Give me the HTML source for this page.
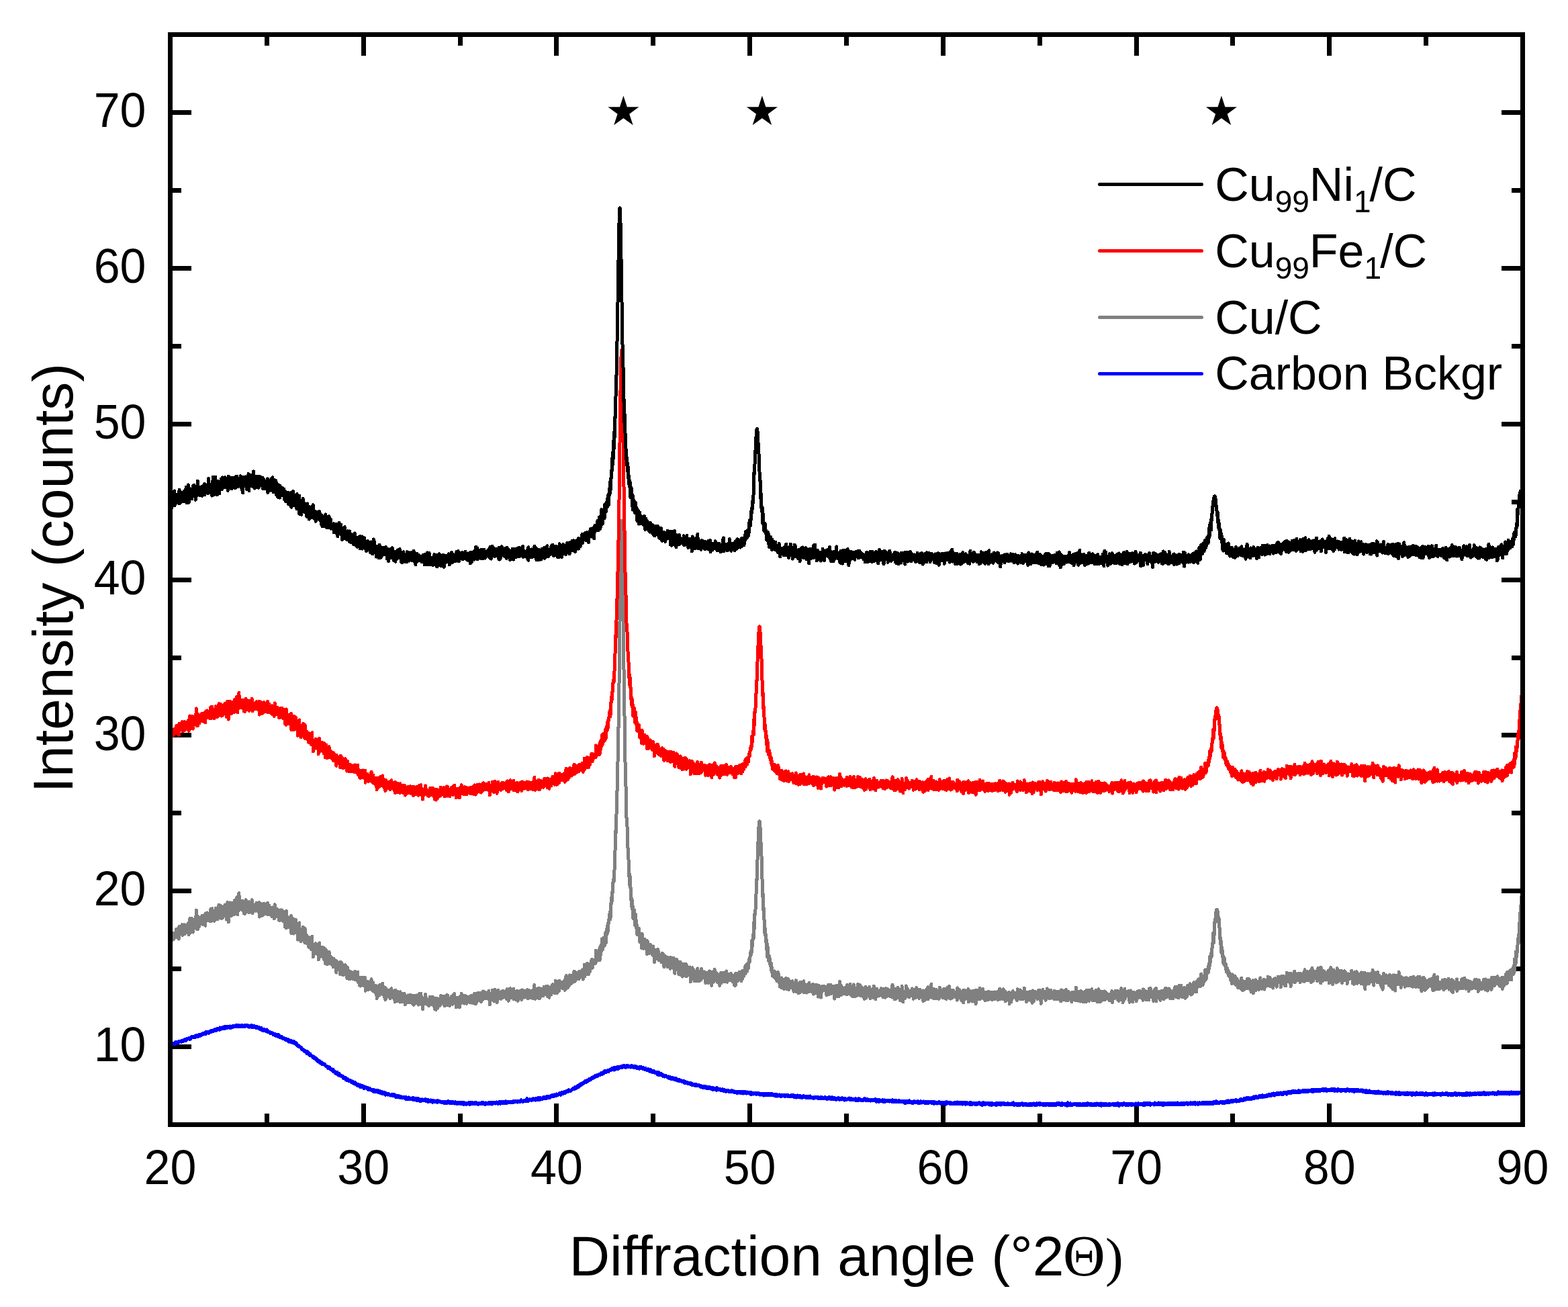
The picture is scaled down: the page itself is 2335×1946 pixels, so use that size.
<!DOCTYPE html>
<html lang="en">
<head>
<meta charset="utf-8">
<title>XRD patterns</title>
<style>
html,body{margin:0;padding:0;background:#ffffff;}
body{width:2335px;height:1946px;overflow:hidden;}
svg{display:block;}
</style>
</head>
<body>
<svg width="2335" height="1946" viewBox="0 0 2335 1946">
<rect x="0" y="0" width="2335" height="1946" fill="#ffffff"/>
<defs><clipPath id="plotclip"><rect x="253.5" y="51.5" width="2014" height="1623"/></clipPath></defs>
<g id="ticks" fill="#000000" shape-rendering="crispEdges">
<rect x="394" y="1658" width="7" height="13"/>
<rect x="394" y="55" width="7" height="13"/>
<rect x="538" y="1643" width="7" height="28"/>
<rect x="538" y="55" width="7" height="28"/>
<rect x="682" y="1658" width="7" height="13"/>
<rect x="682" y="55" width="7" height="13"/>
<rect x="825" y="1643" width="7" height="28"/>
<rect x="825" y="55" width="7" height="28"/>
<rect x="969" y="1658" width="7" height="13"/>
<rect x="969" y="55" width="7" height="13"/>
<rect x="1113" y="1643" width="7" height="28"/>
<rect x="1113" y="55" width="7" height="28"/>
<rect x="1257" y="1658" width="7" height="13"/>
<rect x="1257" y="55" width="7" height="13"/>
<rect x="1401" y="1643" width="7" height="28"/>
<rect x="1401" y="55" width="7" height="28"/>
<rect x="1545" y="1658" width="7" height="13"/>
<rect x="1545" y="55" width="7" height="13"/>
<rect x="1689" y="1643" width="7" height="28"/>
<rect x="1689" y="55" width="7" height="28"/>
<rect x="1832" y="1658" width="7" height="13"/>
<rect x="1832" y="55" width="7" height="13"/>
<rect x="1976" y="1643" width="7" height="28"/>
<rect x="1976" y="55" width="7" height="28"/>
<rect x="2120" y="1658" width="7" height="13"/>
<rect x="2120" y="55" width="7" height="13"/>
<rect x="257" y="1555" width="28" height="7"/>
<rect x="2236" y="1555" width="28" height="7"/>
<rect x="257" y="1439" width="13" height="7"/>
<rect x="2251" y="1439" width="13" height="7"/>
<rect x="257" y="1323" width="28" height="7"/>
<rect x="2236" y="1323" width="28" height="7"/>
<rect x="257" y="1207" width="13" height="7"/>
<rect x="2251" y="1207" width="13" height="7"/>
<rect x="257" y="1091" width="28" height="7"/>
<rect x="2236" y="1091" width="28" height="7"/>
<rect x="257" y="976" width="13" height="7"/>
<rect x="2251" y="976" width="13" height="7"/>
<rect x="257" y="860" width="28" height="7"/>
<rect x="2236" y="860" width="28" height="7"/>
<rect x="257" y="744" width="13" height="7"/>
<rect x="2251" y="744" width="13" height="7"/>
<rect x="257" y="628" width="28" height="7"/>
<rect x="2236" y="628" width="28" height="7"/>
<rect x="257" y="512" width="13" height="7"/>
<rect x="2251" y="512" width="13" height="7"/>
<rect x="257" y="396" width="28" height="7"/>
<rect x="2236" y="396" width="28" height="7"/>
<rect x="257" y="280" width="13" height="7"/>
<rect x="2251" y="280" width="13" height="7"/>
<rect x="257" y="164" width="28" height="7"/>
<rect x="2236" y="164" width="28" height="7"/>
</g>
<g id="curves" fill="none" stroke-linejoin="round" stroke-linecap="round" clip-path="url(#plotclip)" shape-rendering="crispEdges">
<path id="carbon" stroke="#0000ff" stroke-width="5" d="M253.50,1556.8
l.29-2 .29,1.4 .28-.5 .29-.3 .29,.4 .29,.3 .28-1.5 .29,.1 .29,1.6 .29-3.1 .28,.8 .29,1.1 .29-1.2 .29,.8 .29-.4 .28-.6
l.29,1.3 .29-1.4 .29-.7 .28,0 .29,1 .29-.9 .29,1.7 .29-1.2 .28-.5 .29,1.2 .29-1 .29-1.4 .28-.7 .29,1.2 .29-.1 .29,1.1
l.28,.1 .29,0 .29-1.4 .29-.3 .29,.9 .28,.3 .29-1.1 .29-.1 .29,.2 .28-1.1 .29,.8 .29-.1 .29,.7 .28-1 .29-.9 .29,.8
l.29-.1 .29-.4 .28,0 .29-.3 .29-.1 .29-.1 .28,.9 .29-.9 .29,1.2 .29-1.4 .29,1 .28-.9 .29-.5 .29,.5 .29-.4 .28,1.1
l.29-.6 .29-1.2 .29,1.2 .28-1.4 .29,1.3 .29-.4 .29,.1 .29-.9 .28-.5 .29,1 .29-.7 .29-1.3 .28,1.2 .29,.3 .29-.9 .29,.3
l.28,.2 .29,.7 .29-1.9 .29,.8 .29-.4 .28,.6 .29-1.7 .29,.2 .29-.2 .28,.7 .29-.5 .29-.4 .29-.2 .29,.4 .28,.1 .29,.2
l.29,.1 .29,.1 .28-1 .29,.3 .29,1.1 .29-1.4 .28-.9 .29,.8 .29,1 .29-1.3 .29-.7 .28,.3 .29,.4 .29-1.7 .29-.1 .28,1.3
l.29-.8 .29,.2 .29-.3 .28-.6 .29,.3 .29,.5 .29,.4 .29,0 .28-.7 .29-.9 .29,.5 .29,.1 .28-.2 .29,0 .29-.4 .29,1 .29,.5
l.28-1.1 .29,.4 .29-2 .29,1.1 .28,0 .29,.8 .29-1.4 .29,.5 .28-1.3 .29,.1 .29,1.1 .29-1 .29,2.1 .28-1.5 .29-1.4 .29,.2
l.29,.3 .28,.1 .29,.9 .29-.2 .29-1.2 .28-1.1 .29,2.6 .29-2.1 .29,0 .29-.4 .28,1.2 .29-.3 .29-.5 .29,.6 .28,.1 .29-.4
l.29-.6 .29-.4 .29,.2 .28-.2 .29,.4 .29,0 .29-1.4 .28,.7 .29-.1 .29-.8 .29-.3 .28-.1 .29,.5 .29,.3 .29-.4 .29,0
l.28-.9 .29,.6 .29-.3 .29,.4 .28-1.1 .29,2.3 .29-1.8 .29-.3 .28,1.2 .29-2.4 .29,1.5 .29-.1 .29,.6 .28-1.5 .29,.4
l.29,.5 .29-.7 .28-.4 .29-.4 .29,.6 .29,.7 .29-.4 .28,1.1 .29-1.1 .29-1.2 .29,.1 .28,.4 .29,0 .29-1.4 .29,.8 .28-.5
l.29,.3 .29,.6 .29-1.6 .29,1.8 .28-.1 .29-.6 .29,.1 .29-.2 .28-.1 .29-1.1 .29,.5 .29-.3 .28,1.3 .29-.6 .29-1.5 .29,1.5
l.29-1.7 .28,1.5 .29-1.1 .29,.7 .29-.8 .28,.7 .29-.5 .29-1.5 .29,1.4 .29-1.8 .28,1.7 .29,.4 .29-1 .29,.3 .28-1.6
l.29,.5 .29-.3 .29,.3 .28-1.4 .29,1.1 .29,.1 .29,.9 .29-.1 .28-.8 .29-.6 .29-.2 .29,1.3 .28-1.1 .29,.2 .29,.8 .29-1.2
l.28,1.8 .29-1.8 .29-1.6 .29,2.3 .29-.8 .28,1.2 .29-.8 .29-1.2 .29,1.2 .28-.8 .29,.2 .29-.1 .29-.4 .29-.3 .28-.6
l.29,.2 .29,.9 .29-1.4 .28,0 .29,1.9 .29-1.6 .29-.2 .28-.1 .29,.2 .29,1.2 .29-.8 .29,1.2 .28-1.4 .29-1.5 .29,.8
l.29-.1 .28,.9 .29,.3 .29,0 .29-.9 .28,.6 .29-.2 .29-1.3 .29,1.9 .29-.3 .28-.6 .29-.3 .29,0 .29,.8 .28-1.1 .29,.2
l.29-.4 .29,1 .29-1 .28,0 .29,.6 .29-.4 .29,.2 .28-1.3 .29,3 .29-1.2 .29,.2 .28-1 .29,.2 .29-.2 .29-.8 .29,1.6 .28-.6
l.29-.4 .29,.6 .29-1.1 .28,0 .29,.7 .29,.7 .29-2.4 .28,.8 .29,0 .29,.2 .29,.1 .29-.6 .28,.5 .29,.4 .29-.9 .29,.4
l.28,.6 .29,.1 .29-1.5 .29,.4 .29-1 .28,1.7 .29,.2 .29-.9 .29-.6 .28,.5 .29,.1 .29-1 .29,1.8 .28,.3 .29-.4 .29-.3
l.29-.5 .29-.4 .28,.4 .29-.8 .29,1.6 .29-1.9 .28,1.9 .29-1.4 .29,1.4 .29-.9 .28,.2 .29-.3 .29-.2 .29,.7 .29-.1 .28-.3
l.29,1.1 .29-.4 .29,.6 .28-1.1 .29-1.6 .29,1 .29,1.1 .29-.1 .28-1.1 .29,1 .29,.7 .29-.4 .28,0 .29,0 .29-1.2 .29,.4
l.28,1.1 .29-.6 .29,.4 .29,0 .29,.2 .28-2.2 .29,1.4 .29-.6 .29-.2 .28,.9 .29-.7 .29,0 .29,.3 .28-1.4 .29,1.3 .29,.4
l.29-.6 .29-.8 .28,.6 .29,1 .29,.3 .29,.1 .28-.2 .29-.7 .29-.3 .29,2.2 .29-1.6 .28,.8 .29-1.2 .29-.1 .29,1.2 .28-.2
l.29,.3 .29-.9 .29,1.5 .28-.3 .29-.3 .29-1.3 .29-.8 .29,1.7 .28,.9 .29-.9 .29,.7 .29-.8 .28,1.1 .29-.5 .29-.2 .29-.3
l.28,.5 .29-.9 .29,.8 .29,1.4 .29-1.8 .28,.9 .29,.3 .29-1.4 .29,1.8 .28-.7 .29,.6 .29-1.4 .29,1.3 .29-.3 .28,1.2
l.29-1.9 .29,1.8 .29-1.3 .28-.1 .29,0 .29-.3 .29,2.2 .28-1 .29,.2 .29-.1 .29-.3 .29,.7 .28,.8 .29-.4 .29-1.1 .29,2
l.28-.7 .29,.8 .29-1.4 .29,2.1 .28-.9 .29,0 .29-.1 .29-1.4 .29,.6 .28,1.9 .29-2.1 .29,2.5 .29,.5 .28-.1 .29-1.1
l.29-.1 .29,2 .29-1.7 .28,.6 .29-.6 .29,.9 .29-.8 .28,.3 .29,1.4 .29-1.8 .29,1 .28-.2 .29-.3 .29,1.7 .29-.5 .29,.6
l.28,.2 .29-.7 .29,0 .29-.5 .28,0 .29,1.1 .29,.7 .29-2.7 .28,.9 .29,1.7 .29,.6 .29-.2 .29-.4 .28-.4 .29,.2 .29,.5
l.29,.6 .28-.2 .29,.5 .29-.2 .29,.3 .29-.4 .28,1.8 .29-.9 .29,.1 .29,.7 .28-.6 .29,.8 .29-.2 .29-.1 .28,.1 .29,.3
l.29-1 .29,.7 .29,.1 .28,.2 .29,.7 .29,.3 .29-1.1 .28,1 .29,1.1 .29,.4 .29-1.5 .28,.7 .29-.3 .29,.5 .29,0 .29,0
l.28,.8 .29-.7 .29-.6 .29,.4 .28,1.8 .29-.2 .29,.2 .29-.7 .29-.6 .28,.5 .29,1.6 .29-1.2 .29-.4 .28,1 .29-1.5 .29,1.9
l.29-1.1 .28-.7 .29,2.6 .29-.5 .29-.5 .29-1.7 .28,3.6 .29-1.5 .29,.3 .29,.6 .28,.4 .29,0 .29-.1 .29,.8 .28-1.8 .29,2
l.29-.4 .29,.3 .29,0 .28-.3 .29,.8 .29-.3 .29-1.2 .28,.6 .29,1 .29-.7 .29,1.3 .29-.5 .28,1.2 .29,0 .29-.1 .29-1.3
l.28,.8 .29-.1 .29,.4 .29,0 .28,.1 .29-.1 .29,.5 .29,.9 .29,.1 .28-1.3 .29,0 .29,.7 .29,1.7 .28-2.1 .29,1 .29,.4
l.29,.1 .28,.4 .29-1.4 .29,.2 .29,2.1 .29-.5 .28-.2 .29-.6 .29,2.7 .29-2.2 .28-.4 .29,1.5 .29,0 .29-.8 .29,.7 .28,1.3
l.29,0 .29,0 .29,.3 .28-.9 .29,.4 .29-.3 .29-.4 .28-.7 .29,1.2 .29,1.4 .29-2.2 .29,1.1 .28-.8 .29,1.1 .29-.5 .29,.4
l.28,0 .29-.9 .29,1.4 .29-.4 .28,0 .29,.6 .29,1.3 .29-1.6 .29,2.4 .28-.7 .29-.6 .29-.4 .29,0 .28,.2 .29,.5 .29,.9
l.29-.8 .29,1.3 .28-.7 .29,2.7 .29-.6 .29,0 .28,0 .29,1.9 .29-1.9 .29,.2 .28,.4 .29,1.2 .29-1.1 .29,1.7 .29-.8 .28,1
l.29,.2 .29,.3 .29,.2 .28-.6 .29,0 .29,.3 .29,.6 .28,.4 .29,.3 .29-.7 .29,1.8 .29,.3 .28-.2 .29,1.4 .29-.8 .29,.1
l.28,.9 .29-.1 .29-.7 .29,.8 .29,0 .28-.4 .29,1.3 .29,.6 .29-.5 .28-.1 .29,1.7 .29-1.5 .29,.9 .28,.3 .29,.5 .29-.3
l.29-.5 .29,.5 .28,0 .29,1 .29-1.1 .29,.4 .28,1.1 .29,2 .29-1.6 .29-1.7 .28,2.2 .29,.9 .29-1.7 .29,1.8 .29-.6 .28,.1
l.29,1.7 .29-.9 .29-.5 .28,1.3 .29-.5 .29,.7 .29-.5 .29-.4 .28,2.3 .29-.4 .29-.2 .29,.9 .28,.3 .29-.1 .29,.2 .29,.4
l.28-.4 .29-.2 .29,.3 .29,.2 .29-.1 .28,2 .29-.7 .29,0 .29,0 .28,1.7 .29-2.2 .29,2.1 .29-.6 .28-.1 .29-.1 .29,1.5
l.29,.1 .29-.5 .28,.1 .29,0 .29,.9 .29,.6 .28,.7 .29-2 .29,2.4 .29-1.3 .29,.5 .28-.1 .29,.1 .29-.1 .29,1.2 .28-.1
l.29,1.8 .29-1.2 .29,.9 .28-.4 .29-.7 .29,1 .29-.5 .29,1.1 .28-.2 .29,.7 .29,1.7 .29-1.1 .28-.1 .29-.1 .29,.3 .29,.3
l.28-.5 .29,.4 .29,.9 .29-.7 .29,2.2 .28-1 .29,.1 .29-.8 .29,1.5 .28,.8 .29-.9 .29-.9 .29,1.5 .29,.2 .28,.2 .29,.1
l.29-.7 .29-.3 .28,1.3 .29,.5 .29-1.1 .29,1.4 .28,.2 .29,.5 .29,.2 .29-.2 .29,.5 .28-.3 .29,.5 .29-.2 .29,.9 .28,0
l.29-.1 .29,.3 .29,.2 .28-.5 .29,1.7 .29,.8 .29-1.7 .29,.9 .28-.9 .29,1.2 .29,.9 .29-2.1 .28,1.4 .29,.8 .29,.4 .29-.7
l.29,1 .28-.5 .29-.4 .29,2 .29-.5 .28-.4 .29-.6 .29,.7 .29,1.1 .28-1.1 .29,1.4 .29,.1 .29-.2 .29,1.2 .28-2.7 .29,1.5
l.29,.8 .29,.8 .28,.6 .29-.9 .29,0 .29,.9 .28,.1 .29-.4 .29,.6 .29,1.5 .29-1.6 .28,.5 .29-.2 .29,1.3 .29,1.1 .28-.4
l.29-.9 .29-1.1 .29,0 .29,1.6 .28,1.5 .29-.6 .29-.4 .29,.2 .28,.4 .29-.7 .29,1.8 .29,1 .28-.7 .29,.4 .29-2.2 .29,1.9
l.29,1 .28-1.2 .29-.1 .29,.9 .29,0 .28-.3 .29,.5 .29,1 .29-.7 .28-.1 .29,.6 .29-.2 .29,.4 .29,.8 .28,.1 .29-.4 .29,1
l.29-1 .28,.1 .29,2.5 .29-1.2 .29,.6 .29,.1 .28-.4 .29,.4 .29-.3 .29,.3 .28,.1 .29,1 .29-.1 .29-1.1 .28,2.9 .29-2.8
l.29,1.8 .29-1.1 .29,2.8 .28-1.3 .29-.8 .29,.7 .29-.5 .28,1.5 .29,0 .29,.2 .29-.7 .28,.2 .29,.6 .29,.2 .29,.2 .29-.1
l.28,.9 .29-.5 .29,.2 .29,.4 .28,.2 .29-1.3 .29,1.6 .29-.5 .29-.5 .28,.5 .29,.7 .29-.6 .29,1.9 .28,0 .29-.4 .29,0
l.29,0 .28-1.2 .29,.3 .29,1.3 .29,0 .29,.9 .28-.7 .29,1.3 .29-1.8 .29,1.5 .28-.6 .29,1.4 .29-1.7 .29,.7 .28-.8 .29,1.4
l.29,1.3 .29-.4 .29,.4 .28-1.8 .29,1.6 .29,.3 .29-.8 .28,.3 .29,0 .29,.8 .29,1.2 .29-.3 .28,.7 .29-2.3 .29,.4 .29,1
l.28-.6 .29,.1 .29,.1 .29,.2 .28-.1 .29,.7 .29,1.7 .29,.5 .29-2.7 .28,.6 .29,2.3 .29-1.7 .29,.8 .28-.1 .29,1.5 .29-2.2
l.29,.7 .28-.5 .29-.1 .29,0 .29-.1 .29,1 .28,.2 .29,.7 .29-.7 .29,.6 .28,.8 .29-1.5 .29,.4 .29,2.5 .29-.5 .28-1
l.29,.9 .29-1.7 .29,.8 .28-.1 .29-.2 .29-.2 .29,1.3 .28-.6 .29,.4 .29-.3 .29,.3 .29-.5 .28,.7 .29,.8 .29-.3 .29,1
l.28-.9 .29-.7 .29,1.5 .29,.9 .28-1 .29,.4 .29-.3 .29,.5 .29-.3 .28,.8 .29-1.7 .29,1.4 .29-.4 .28-.1 .29,.7 .29-.3
l.29,.6 .29,.2 .28,0 .29-.4 .29,1.3 .29-.2 .28,.1 .29-.1 .29-1.1 .29,.9 .28,.3 .29-.2 .29-.6 .29,1.4 .29-1.2 .28,2.5
l.29-1 .29-1.5 .29,0 .28,1.1 .29,.5 .29-.8 .29,.9 .28-1.2 .29,.3 .29,.4 .29,1.2 .29-1.2 .28,1 .29,0 .29,.3 .29-.2
l.28-.3 .29-.2 .29,.1 .29-1.7 .29,2.7 .28-1 .29,1.4 .29-.3 .29,.8 .28-1.6 .29,.8 .29,.1 .29,.3 .28-.6 .29,1 .29-.5
l.29-1.4 .29,1.9 .28,.4 .29,.4 .29-1.2 .29,.6 .28,.6 .29,.2 .29-.6 .29,.8 .28-2.1 .29,1.7 .29,.1 .29,0 .29,1.3 .28-.2
l.29-.7 .29-.1 .29,.9 .28-2 .29,.9 .29-.5 .29,.2 .29,1 .28-1.8 .29,1.7 .29,1.5 .29,.4 .28-1.6 .29-.5 .29,.6 .29-1.1
l.28,1.5 .29-.5 .29-.1 .29,1.3 .29-.8 .28,0 .29-.5 .29,0 .29,.3 .28,1.2 .29-.9 .29-.2 .29,.8 .28-.5 .29,.1 .29-.2
l.29,.8 .29-.2 .28,.2 .29,.2 .29,.5 .29-.1 .28,.6 .29-.6 .29-.5 .29,.1 .29-.1 .28,.7 .29-1 .29,1.4 .29-.8 .28,.3
l.29,.8 .29,.1 .29-1 .28,.6 .29-.1 .29-1.9 .29,1.8 .29,.3 .28-.3 .29,1 .29-.3 .29-.4 .28,1 .29-.5 .29,.2 .29-.2
l.28,1.4 .29-2.4 .29,1.3 .29-.4 .29,1.2 .28,.2 .29-.8 .29,.3 .29-.7 .28,1.2 .29,.1 .29-.9 .29-.2 .29-.1 .28,.7 .29-.1
l.29,.8 .29-1.4 .28,.1 .29,.1 .29,2 .29-1.7 .28,1.2 .29-.8 .29,.1 .29-.5 .29,1 .28,.2 .29,.5 .29,.2 .29-1.2 .28,1.1
l.29-1.1 .29,.8 .29,.2 .28-1 .29,.1 .29,1.3 .29-.5 .29,0 .28-.4 .29,1 .29-.2 .29-.1 .28-.6 .29,0 .29,1 .29-1.5 .29,.9
l.28,.9 .29,.6 .29-.7 .29,1.4 .28-1.8 .29-.2 .29-.4 .29,.6 .28,1.6 .29-1 .29-.6 .29,2 .29-.9 .28-.9 .29,.4 .29,1.5
l.29-1 .28-.3 .29-1.4 .29,1.8 .29,.4 .28-.8 .29,0 .29-.1 .29-.6 .29,1.1 .28,1 .29-1 .29,.1 .29-.6 .28,.1 .29,1.1
l.29-1 .29-.1 .29,.9 .28-.8 .29,.6 .29,.1 .29,.2 .28-.6 .29-1.4 .29,1.9 .29,1 .28-.6 .29,.3 .29-.6 .29,.3 .29-1.8
l.28,1.3 .29-.7 .29,1.8 .29-.3 .28-1.6 .29,2.7 .29-1.3 .29,1.3 .28-2.1 .29,2 .29-.7 .29,0 .29,1 .28-2.8 .29,1.9
l.29-1.3 .29,1.7 .28,.6 .29-1.2 .29,.1 .29-1.9 .29,2.8 .28,.4 .29-.6 .29-.6 .29-.2 .28,1 .29-.3 .29-.6 .29-.3 .28,1.2
l.29-.5 .29,2.1 .29-1.2 .29-1 .28,.4 .29,.1 .29-1.2 .29,1.4 .28,.5 .29-.8 .29,0 .29,1 .28-1.5 .29-.4 .29,1.6 .29,.2
l.29-.5 .28-.9 .29,1.3 .29,.1 .29,0 .28-.6 .29,.1 .29,.3 .29-.9 .29-.7 .28,2 .29-1.1 .29,.5 .29-1.8 .28,2.7 .29-.4
l.29-.2 .29,1.1 .28-.9 .29-.6 .29,1.6 .29-1.1 .29-1.1 .28,1.7 .29,.2 .29,1.2 .29-1.7 .28,1.1 .29-1.5 .29-.7 .29,.8
l.28,.9 .29-1 .29,.9 .29,.4 .29-.4 .28-.5 .29,.5 .29-.6 .29-1.1 .28,1.1 .29-.1 .29,1 .29-1.3 .29,.7 .28-.4 .29,1.2
l.29-.7 .29,1.9 .28-1.4 .29,.4 .29,.1 .29-1.9 .28,2.3 .29-.9 .29,0 .29-.4 .29-.3 .28,1.8 .29-.7 .29,.1 .29-.9 .28-.1
l.29,.9 .29,.1 .29,.4 .28-.9 .29-.9 .29,.9 .29,.8 .29,.1 .28-.1 .29,.7 .29-2.3 .29,1.1 .28,.4 .29-1.8 .29,1.4 .29-.8
l.29,.8 .28-.5 .29,.7 .29,.3 .29-.5 .28-.2 .29-.2 .29,.6 .29,.4 .28,.1 .29-.5 .29,.6 .29-.1 .29-.6 .28,0 .29,.1
l.29,.9 .29,.5 .28-1.2 .29,.2 .29,.3 .29-.4 .28-.4 .29,.8 .29-.4 .29,.9 .29-.5 .28,.5 .29,.4 .29-1.3 .29,2.3 .28-1.9
l.29-.5 .29,.2 .29,1.4 .29-1.2 .28,1.4 .29-.6 .29-1.6 .29,.9 .28-.7 .29,1.6 .29,.7 .29-.9 .28-1.4 .29,.3 .29-.1
l.29,.9 .29,0 .28,.1 .29-2.2 .29,2 .29-1.2 .28,1.4 .29-1.1 .29,1.8 .29-.4 .28-.6 .29,.7 .29-.1 .29-.2 .29,.3 .28-1.4
l.29,.3 .29,1.7 .29-2.1 .28,1.2 .29,0 .29,.2 .29-.8 .29,.2 .28,.9 .29-.4 .29,.9 .29-2.2 .28,1.9 .29,.1 .29-.1 .29-.6
l.28-.4 .29,.8 .29-.3 .29,.3 .29-1.1 .28,.7 .29,1.4 .29-2.2 .29,.8 .28-1.1 .29,1.8 .29-.1 .29-.2 .28,.9 .29-.7 .29-1.1
l.29,.4 .29,2.1 .28-2.5 .29,.6 .29-.3 .29,.6 .28-.1 .29,.1 .29,0 .29,.8 .29-1.5 .28,.6 .29-.1 .29,.1 .29,.4 .28-.1
l.29,.9 .29-1.1 .29,0 .28,.4 .29,1 .29-2.1 .29,1 .29-.1 .28,.3 .29,.2 .29-.2 .29,.6 .28-.4 .29-1.8 .29,.6 .29-.6
l.28,1.9 .29,.9 .29-.4 .29,.9 .29-2.6 .28-.1 .29,.8 .29-.2 .29,.1 .28,.3 .29-.6 .29,1.2 .29-.3 .29-.2 .28,1 .29-.4
l.29-1 .29,0 .28,2 .29-2.3 .29,.4 .29-.3 .28,.6 .29-.5 .29,1.3 .29-.7 .29,.6 .28-.4 .29-1.1 .29-.3 .29,1.1 .28,.3
l.29-.8 .29,.2 .29-1 .28,.9 .29,2.1 .29-1.7 .29,.3 .29,.3 .28-.6 .29,0 .29,.3 .29-1.3 .28,.8 .29,0 .29,.2 .29-.8
l.29,1.7 .28-1.6 .29,1 .29-1.2 .29,0 .28,.7 .29,.6 .29-.5 .29,0 .28,1.2 .29-.7 .29,.2 .29-1.4 .29-.2 .28,1.6 .29-.1
l.29,.6 .29-1.1 .28-.4 .29-.7 .29,2.1 .29-1.5 .28,.8 .29,.4 .29-.3 .29,.3 .29-.9 .28,.4 .29-.9 .29,1.2 .29,1 .28-.6
l.29-1 .29,1.3 .29-.5 .29-.9 .28,1.3 .29-1.5 .29,.3 .29,.7 .28-.4 .29,.3 .29-.1 .29,0 .28-.3 .29,.1 .29,.5 .29,.1
l.29-2.1 .28,2.2 .29-.7 .29-.9 .29,.1 .28,1.2 .29-1.9 .29,.2 .29,1.4 .28,.7 .29-1.3 .29,.5 .29,.1 .29,.4 .28-.2
l.29-.5 .29-.6 .29,2.1 .28,.2 .29-2.3 .29,1.2 .29-1 .29,.4 .28-.8 .29,.2 .29,.8 .29-.1 .28-.3 .29-.3 .29,.9 .29,.6
l.28-1.1 .29,.1 .29,0 .29,.6 .29-1.1 .28,1.6 .29-.9 .29-1.2 .29,1.6 .28-1 .29-.1 .29,0 .29,1.5 .28-1.9 .29,.6 .29-.3
l.29,.2 .29,.1 .28-.8 .29-.2 .29,2.3 .29-.7 .28-.5 .29,1.4 .29-2.5 .29,1.5 .29-.9 .28,.2 .29,.3 .29,.5 .29-.5 .28-.3
l.29-.5 .29,.7 .29,.1 .28-.1 .29-1.1 .29,.7 .29,.6 .29,.4 .28-.6 .29,.3 .29-.3 .29-1.3 .28,.5 .29,.3 .29-.1 .29-1
l.28,2 .29-1.1 .29,.4 .29-.3 .29,.1 .28,.2 .29-.6 .29,1.9 .29-1.7 .28-.3 .29,1.1 .29,0 .29-2 .29,1.9 .28-.4 .29,.3
l.29-.2 .29,.1 .28,.9 .29-3.1 .29,2.1 .29-.8 .28,.3 .29-1 .29,.5 .29-.4 .29,0 .28,.2 .29,.5 .29-.6 .29,1.7 .28-1.7
l.29,.1 .29,.3 .29,1.1 .28-1.9 .29,1.4 .29-1 .29,1.7 .29-1.1 .28,.3 .29,0 .29-.1 .29-1.7 .28,1.2 .29-.2 .29-1.3
l.29,2.4 .29-2 .28,1.3 .29,.1 .29-.1 .29,.9 .28-.2 .29-.3 .29-.4 .29-.9 .28-.3 .29,1 .29-.6 .29,0 .29,.4 .28-.3
l.29,.5 .29-.8 .29,.5 .28-.2 .29-.2 .29,.1 .29,.5 .28,.5 .29-1 .29,.4 .29-.1 .29-.3 .28,.4 .29-.8 .29,0 .29,.9 .28-.9
l.29,.8 .29-1.1 .29,0 .29,.4 .28-.6 .29-.1 .29,.3 .29,1.6 .28-1.4 .29-.1 .29-.4 .29,1.2 .28-1.2 .29,.2 .29,0 .29,1.1
l.29-.3 .28-1.4 .29,.2 .29,.6 .29-.9 .28,.6 .29,.4 .29,.8 .29-1.8 .28,.8 .29-.3 .29,1.4 .29-.9 .29-.6 .28,.3 .29,.3
l.29,.3 .29-1 .28,.4 .29-.1 .29,0 .29,.2 .29-.2 .28,.1 .29-.4 .29,.9 .29-.2 .28-.8 .29,.1 .29-.3 .29-1.3 .28,.9
l.29-.3 .29,.5 .29,.3 .29,.4 .28,.7 .29-.3 .29,.6 .29-.9 .28,.3 .29-.4 .29-.7 .29,.2 .28-.9 .29,0 .29-.2 .29,.1
l.29,.4 .28,.5 .29-.7 .29,.5 .29-.1 .28-.5 .29,1 .29,.4 .29-1.4 .29-1 .28,.4 .29-1.9 .29,3.6 .29-.6 .28,1.1 .29-1
l.29-2 .29,.2 .28,1.8 .29-.5 .29,.3 .29,.3 .29-.8 .28,0 .29-.3 .29-.2 .29-.3 .28-.5 .29,1 .29,0 .29-.2 .28-.3 .29,.4
l.29,.5 .29-.4 .29-.9 .28,1.2 .29-1.3 .29,1.5 .29-1.4 .28-.1 .29,.6 .29-.2 .29,.1 .29-1.4 .28,1.5 .29,.1 .29-.8
l.29-.5 .28,.5 .29,.2 .29-.8 .29,1.2 .28,0 .29,.2 .29-1.7 .29,2.3 .29-.7 .28-1.1 .29-.1 .29-1 .29,.9 .28,.6 .29-1.4
l.29,.2 .29-.1 .28,0 .29,.4 .29,1.3 .29-.3 .29-2.2 .28,1.3 .29,1.3 .29-1.4 .29-.7 .28,.4 .29,.2 .29,1.6 .29-1.7
l.29,.1 .28-1.3 .29,1.1 .29,0 .29,.2 .28-.3 .29-.3 .29,.5 .29,.2 .28,.2 .29-1 .29,.3 .29-.1 .29,.8 .28-.5 .29,.7
l.29-2 .29-.2 .28,.5 .29,.3 .29-.5 .29,1.3 .28-.1 .29-1.8 .29,1.5 .29-.8 .29,.4 .28,1.2 .29-1.3 .29-1.1 .29-.4 .28,2.6
l.29-.7 .29-.7 .29-1.2 .29-.2 .28-.3 .29-.1 .29,1.4 .29,.3 .28-1.3 .29,.7 .29-.2 .29,.2 .28-.1 .29-.9 .29,1.2 .29,.5
l.29-.8 .28-.6 .29,.2 .29-.2 .29,1.2 .28-.8 .29-1.4 .29,.8 .29,.3 .28-1.4 .29,1.1 .29-.9 .29,.3 .29-.2 .28-.5 .29-.9
l.29,.6 .29,1.3 .28,.2 .29-.7 .29-.1 .29-.7 .29,.4 .28-.2 .29,1.2 .29-1.2 .29-.5 .28-.9 .29,.6 .29,.4 .29,.8 .28-.9
l.29-.1 .29,0 .29-.3 .29-.3 .28,0 .29-1.3 .29,2.1 .29,.3 .28-1.4 .29,1 .29-.8 .29-.1 .28,.4 .29-1.2 .29,0 .29,.3
l.29-.5 .28-.2 .29,.7 .29-.7 .29,.2 .28,0 .29,.2 .29-1.6 .29,.9 .29,1.1 .28-1.4 .29,2 .29-2 .29-.5 .28-.5 .29,.7
l.29,.6 .29-2 .28,.6 .29-.3 .29,1 .29-.8 .29,1.6 .28-1.6 .29,1.6 .29-.8 .29,.2 .28-1.9 .29,0 .29,1 .29-1.4 .28,.7
l.29,1.3 .29-1.2 .29,.9 .29-1.4 .28-.3 .29,.7 .29-1.2 .29-.3 .28,1.3 .29-1.2 .29,.4 .29,0 .29-1.5 .28,1.6 .29-.4
l.29-.3 .29-.5 .28-.3 .29,1.1 .29-1.7 .29-.5 .28-.2 .29,1.2 .29,.3 .29,.3 .29-1.1 .28,.2 .29-.1 .29,.2 .29,1 .28-1.4
l.29-.2 .29,0 .29,.6 .28-.9 .29-.2 .29,.5 .29-1.3 .29,.3 .28-.2 .29-.3 .29,.3 .29-.3 .28-.5 .29-.3 .29-.3 .29,.6
l.29-.8 .28-.4 .29,1.7 .29-.9 .29-.4 .28-.1 .29-1.4 .29,.2 .29,.8 .28-.2 .29,.8 .29-.5 .29-1.7 .29,1.9 .28-1.7 .29,.7
l.29-.4 .29-.3 .28-1.5 .29,.9 .29-.3 .29-.5 .28,2.1 .29-3 .29,2.3 .29-.9 .29-1.1 .28,1.1 .29,.2 .29-2.2 .29,.9 .28-1
l.29,.1 .29,.3 .29-1.5 .29,1.2 .28-1.7 .29,1.8 .29-.1 .29-.4 .28-.8 .29,.8 .29-.5 .29-1.6 .28,.7 .29-.9 .29,.4 .29,.5
l.29-.1 .28-.8 .29-.1 .29,.2 .29-.1 .28-1.6 .29,.1 .29,.4 .29,.2 .28-.1 .29-1.9 .29,1.7 .29-2.2 .29,1.9 .28,.4 .29-2.6
l.29,1.3 .29-1.3 .28,.5 .29,.3 .29-1 .29,.7 .29-.6 .28,.2 .29,.9 .29-1.6 .29,.4 .28-.4 .29-.6 .29,1.1 .29-1.5 .28-.2
l.29-1.1 .29,.6 .29,.2 .29,.5 .28-.6 .29,.8 .29-1.4 .29,.2 .28,0 .29-.4 .29-.5 .29,0 .28,.8 .29-1.9 .29,.7 .29-.3
l.29,.1 .28,.5 .29-1 .29,.3 .29,.1 .28-.8 .29-.6 .29,0 .29,.1 .29,.4 .28-.3 .29-.3 .29,.7 .29-1.6 .28,.3 .29,.8
l.29-2 .29-.5 .28,2.1 .29-.9 .29,.3 .29-1.2 .29,1.3 .28-1.4 .29-.1 .29-.6 .29,1.9 .28-.9 .29-.5 .29-.9 .29,.4 .28-.5
l.29,0 .29,.8 .29-.6 .29,0 .28-.2 .29,.3 .29-1.3 .29,.2 .28,1.4 .29-1.9 .29,.7 .29,.5 .29-2 .28,.8 .29-.4 .29,.2
l.29-.2 .28,1.1 .29-1.9 .29,.9 .29-.6 .28-.1 .29,.5 .29,.1 .29-.9 .29-1.1 .28,1.2 .29-.2 .29-.6 .29,.4 .28-1.5 .29,.5
l.29-1.5 .29,1.4 .28-1.5 .29,1.8 .29-.6 .29,.7 .29-.6 .28-.1 .29-.8 .29-.6 .29,1 .28,.7 .29-1.1 .29,0 .29,.1 .29-1
l.28-.3 .29,1.1 .29-.1 .29,1.2 .28-1.5 .29-1.1 .29,1.1 .29-1.4 .28,.1 .29-.1 .29-.1 .29,.4 .29-.9 .28-.1 .29,.4
l.29,.2 .29-1.1 .28-.2 .29,1.4 .29-1.1 .29,.4 .28-1.7 .29,1.8 .29,.1 .29,.1 .29-1.4 .28,1.3 .29-1.3 .29,.7 .29-1.3
l.28-.3 .29,.2 .29,2.1 .29-.4 .29,.7 .28-3.7 .29,2.1 .29-.2 .29-.4 .28-.5 .29,.6 .29-.4 .29,0 .28,.8 .29-2.2 .29,0
l.29,1.1 .29,0 .28-1.4 .29-.5 .29,1.6 .29-.5 .28,.7 .29-.6 .29,1.9 .29-.3 .28-1.9 .29,.4 .29-.5 .29,.2 .29-.5 .28,.2
l.29,.3 .29-.5 .29,.7 .28-1.5 .29,1.6 .29-.5 .29-.9 .29,.8 .28-1 .29-.3 .29,.4 .29,.8 .28-1.7 .29,1 .29,.9 .29-2.1
l.28,1.2 .29-.3 .29-.2 .29,.9 .29-1 .28,1.4 .29-.2 .29-.4 .29-1.8 .28,1 .29-.4 .29,1.1 .29-.7 .28,1.8 .29-1.3 .29-.5
l.29,.7 .29,.9 .28-.2 .29-1.6 .29-.5 .29,1.2 .28-1.4 .29,2 .29-1.4 .29,.3 .29-.6 .28,1.8 .29-1.7 .29,.6 .29,.7 .28-.3
l.29-.2 .29-.3 .29,.8 .28,0 .29-.7 .29,.1 .29-.3 .29-.3 .28,1.9 .29-1.2 .29-.2 .29,.1 .28,.8 .29-1.2 .29-.7 .29,1.4
l.28,.4 .29-1 .29,.5 .29,0 .29-.1 .28,.5 .29-.3 .29,.6 .29,.9 .28-2.1 .29,.6 .29,.2 .29-.9 .29,1.1 .28-.9 .29,.3
l.29,.8 .29,.7 .28-1.2 .29,.2 .29-.5 .29,1.9 .28-1 .29-.2 .29,0 .29,.2 .29-.1 .28,1.9 .29-1.4 .29,.3 .29,.7 .28-1.1
l.29,.4 .29,.6 .29,.2 .28-1.1 .29,2 .29-1.6 .29,.7 .29-.8 .28-1.2 .29,.7 .29,.9 .29-1.1 .28-.2 .29,.7 .29-.5 .29,1.2
l.29-.2 .28,.5 .29,.3 .29-.2 .29,.6 .28-.4 .29-1.5 .29,1.1 .29,.7 .28-1.3 .29,.3 .29,1.9 .29-.2 .29-1.6 .28,1.2
l.29,0 .29,.6 .29,.5 .28-1.5 .29,1.4 .29-.8 .29-.9 .28,1 .29,.7 .29-.6 .29,.2 .29,.8 .28-.4 .29,1.1 .29,.5 .29-.8
l.28,1 .29-.7 .29-.3 .29-.1 .29-1.1 .28,2.1 .29-.3 .29,.1 .29,.5 .28-2 .29,2 .29-.2 .29,0 .28-1.7 .29,2 .29,.4 .29-1.3
l.29,1.4 .28,1.2 .29-2.2 .29,.2 .29,1.8 .28,0 .29-.8 .29,.8 .29,.5 .28-.2 .29-2 .29,.6 .29,1.7 .29-.6 .28-.1 .29,.5
l.29-.2 .29-1.1 .28,1.8 .29,.2 .29-.4 .29,.5 .29,0 .28,.1 .29,.5 .29-1.5 .29,1.4 .28-1.3 .29,1.7 .29,.1 .29-.7 .28,.5
l.29-.7 .29,.2 .29-1 .29,3.8 .28-1.2 .29-.6 .29,.2 .29,0 .28-1.8 .29,3.6 .29-2 .29,.7 .28,0 .29-.7 .29,.9 .29-.5
l.29-.2 .28,.1 .29,2.3 .29-.7 .29,.5 .28-.2 .29-.4 .29-1.5 .29,2.1 .29-.2 .28,.1 .29-1.1 .29,1.5 .29-.6 .28-.1 .29,.2
l.29,2 .29-.4 .28-1.3 .29,1.9 .29-1 .29,1 .29-1.3 .28,.4 .29,1.2 .29-.8 .29,.7 .28-.3 .29-1.2 .29,.8 .29,.1 .28-.8
l.29,1.2 .29-.8 .29,.7 .29,.2 .28,.6 .29,.4 .29,.3 .29,0 .28-.9 .29,.1 .29,1 .29-1.4 .29,1.5 .28-.1 .29,.8 .29-.3
l.29-1.1 .28,.4 .29,.8 .29-1.2 .29,1 .28,0 .29-.6 .29,.5 .29,.7 .29,.6 .28-1.6 .29,2.7 .29-1.1 .29,.8 .28-.7 .29-.9
l.29,.9 .29,.2 .28-.2 .29-1.4 .29,.6 .29,.9 .29,.7 .28-.1 .29-.5 .29,.5 .29,0 .28,.8 .29,.3 .29-.1 .29-.9 .29,.9
l.28-2.3 .29,1.5 .29,0 .29-.2 .28,1.6 .29,.1 .29-.6 .29-.4 .28,.1 .29-.7 .29,.2 .29,.4 .29,0 .28,.7 .29-.4 .29,.9
l.29,.2 .28-.9 .29,1.9 .29-2 .29-.3 .28,1.8 .29-.8 .29,.5 .29,.9 .29-.9 .28,0 .29-.3 .29,1 .29-.2 .28,.6 .29-1.1
l.29,.9 .29-.6 .29,1.2 .28-.5 .29,.8 .29,0 .29-1.2 .28,1 .29,0 .29-.5 .29,1.2 .28-1.9 .29,2 .29-.2 .29-1.7 .29,2.8
l.28-2.3 .29,1 .29,0 .29,1.2 .28-.8 .29,1.1 .29-1.5 .29,1 .28,.3 .29,0 .29-.2 .29-.7 .29,.5 .28,.9 .29,.2 .29,.2
l.29-1.2 .28,.3 .29,1.2 .29,.4 .29-1 .29,.4 .28-.7 .29,.6 .29-.3 .29-.2 .28-.1 .29,1 .29-.6 .29,1 .28,.5 .29-.9
l.29-.6 .29-.1 .29,1.1 .28,1.2 .29-1.3 .29,.4 .29-.5 .28-.2 .29,1.1 .29,.3 .29-.2 .28,.3 .29,.3 .29-.8 .29,.8 .29-.3
l.28,.1 .29,.3 .29-.8 .29,.8 .28-.2 .29-.5 .29,.7 .29,1 .29-.6 .28,.1 .29-.7 .29-.7 .29,1.1 .28,.3 .29-1 .29,1.5
l.29-.6 .28-.1 .29,.5 .29,.1 .29-.2 .29-.8 .28,.7 .29,.9 .29-.6 .29-.4 .28-.5 .29,.7 .29,.5 .29-.7 .28,.4 .29,.6
l.29,.6 .29-.5 .29-.5 .28,1.4 .29,.5 .29-1.4 .29,1.4 .28-.1 .29-.7 .29,.1 .29-.1 .29,0 .28-.2 .29,.5 .29,.5 .29,1.5
l.28-2.8 .29,.4 .29,.2 .29,.5 .28,.6 .29-.8 .29,.4 .29,.9 .29-1.5 .28,1.7 .29-.6 .29-1.5 .29,1.9 .28-.7 .29-.5 .29,.8
l.29,1 .28-.6 .29-.2 .29,1 .29-1.9 .29,.8 .28-.2 .29,.3 .29,0 .29,.6 .28,.8 .29-1.4 .29,.5 .29-1 .29,1.9 .28-.8
l.29-1.4 .29,2.5 .29,0 .28-1 .29-.9 .29,2 .29-.8 .28,.2 .29,.3 .29-.1 .29-1 .29,.8 .28,1.1 .29-.4 .29-.5 .29,1.1
l.28-.4 .29-.2 .29,1.2 .29-2.6 .28,2.4 .29-1.1 .29,.2 .29,.4 .29-1.3 .28,.9 .29,.7 .29-1.4 .29,.5 .28,1.2 .29,.3
l.29-1.6 .29,.8 .29,.9 .28-1.3 .29,1.4 .29-.4 .29,.1 .28,.9 .29-1.9 .29-1.9 .29,2.1 .28,.2 .29,.5 .29-.1 .29-.2
l.29-.2 .28,.8 .29-.3 .29,.2 .29-.5 .28-.2 .29-.1 .29,1.2 .29,0 .28-.7 .29,.7 .29,0 .29-.5 .29,.1 .28-.6 .29,1.8
l.29-1.6 .29,1.2 .28-.8 .29,1.5 .29-.8 .29,.4 .29-1.7 .28,2 .29-1.4 .29,1.4 .29,.2 .28-.9 .29-.5 .29,.8 .29-.4 .28,.3
l.29,.2 .29-.9 .29,1 .29-.6 .28,1.5 .29-.7 .29-.7 .29,1 .28,1.2 .29-2 .29,.2 .29,.6 .28-.2 .29,.3 .29-.4 .29-.5
l.29,.6 .28,.3 .29,.3 .29-.2 .29,.3 .28-1 .29,1.5 .29-.3 .29-.6 .29,0 .28,.1 .29,.5 .29-.4 .29,1.2 .28,.1 .29-.1
l.29-1.2 .29-.6 .28,1.3 .29,.1 .29-.1 .29-1.5 .29,1.2 .28,.1 .29,.5 .29-.7 .29-.6 .28,.8 .29,.8 .29-1.5 .29,1 .28-1.2
l.29,2 .29-.6 .29-.3 .29,1.5 .28-1.3 .29-.3 .29,.5 .29-.3 .28,.2 .29,.7 .29-1 .29,1 .29-.2 .28,.3 .29-.9 .29,.8
l.29,0 .28,1.2 .29-1.3 .29-.8 .29,2.2 .28-1.7 .29,.3 .29,1.2 .29-.9 .29-.9 .28,.7 .29-.2 .29-.5 .29,1 .28-.8 .29,1.5
l.29-.2 .29-1.6 .28,.1 .29,.3 .29,1.7 .29-.8 .29,.5 .28-2 .29,2.3 .29,0 .29-.4 .28-.7 .29,.7 .29-.2 .29-.4 .29,.3
l.28,1.3 .29-.4 .29-2 .29,1.1 .28-1.2 .29,.3 .29,.3 .29,.7 .28-1 .29,1.4 .29-1.8 .29,1.2 .29,0 .28,.7 .29,.1 .29-.2
l.29,.2 .28,.3 .29,.2 .29-.9 .29-.7 .28-.5 .29,.9 .29,.6 .29-.5 .29-.7 .28,1.1 .29-.6 .29,.5 .29,.2 .28,.5 .29-.9
l.29,1.1 .29,.1 .29-.9 .28-.4 .29,.1 .29,0 .29,.8 .28-.1 .29-.8 .29-.6 .29,3.3 .28-2.7 .29,.7 .29,.2 .29,.5 .29,0
l.28,.4 .29-1 .29,.9 .29-.6 .28,1 .29-1.9 .29,.4 .29,1.3 .28-1.1 .29,.6 .29,.4 .29-.7 .29-.5 .28-.4 .29,.9 .29-.6
l.29,.3 .28,.1 .29-.2 .29,1.6 .29-.6 .29-1.3 .28,2 .29-.4 .29-1.8 .29,2 .28-.8 .29,0 .29,.4 .29-.9 .28,.1 .29,1.1
l.29-1.7 .29,1.8 .29-.2 .28-.2 .29-.2 .29,.9 .29-.9 .28,1.7 .29-1.1 .29,.3 .29-.1 .28-.4 .29-.2 .29,.7 .29-.5 .29,1.1
l.28-.8 .29-.9 .29,1.2 .29-.3 .28-.1 .29-.6 .29,.3 .29,.4 .29,.6 .28-.8 .29,2.1 .29-2.2 .29,.8 .28-.9 .29,.5 .29-.9
l.29,1.3 .28,1 .29-1.4 .29,.4 .29-.3 .29-.8 .28,1.4 .29-1 .29-.1 .29-.1 .28,2.1 .29-1.5 .29,.6 .29-.3 .28,.4 .29-.3
l.29-.8 .29-.5 .29,.7 .28,1.3 .29-1.6 .29,1.7 .29-.6 .28-1 .29,1.2 .29-.9 .29,.7 .29,.6 .28-.9 .29,.6 .29-1.6 .29,0
l.28,.2 .29,1.8 .29-2 .29,1.1 .28-.1 .29,.2 .29,.5 .29-.4 .29-.5 .28-.4 .29,.6 .29,.4 .29,.4 .28-.1 .29-1.3 .29,.7
l.29,.3 .28,1.3 .29,.1 .29-1.6 .29,0 .29-.3 .28,.6 .29,.6 .29,.8 .29-.5 .28,.9 .29-1.7 .29-.1 .29-.6 .29,2.2 .28-.3
l.29-1.3 .29,.2 .29,1.6 .28-.9 .29-.5 .29,.3 .29-.5 .28,.3 .29,.4 .29-.6 .29,.3 .29-.8 .28,1.8 .29-.8 .29,.3 .29-.3
l.28-.4 .29-.1 .29,1.9 .29-2.2 .28,.4 .29,0 .29,.4 .29-.6 .29,.4 .28,1.5 .29-.7 .29-.3 .29,.1 .28,.1 .29-.7 .29,1.2
l.29-.3 .29,.2 .28-.6 .29-.3 .29,.9 .29-.9 .28,.7 .29-1.3 .29,2.5 .29-1.5 .28-.8 .29,1.1 .29,.5 .29-.1 .29-1 .28,.8
l.29-1.1 .29,.7 .29,.4 .28,0 .29-.6 .29-.4 .29,1.3 .28,.3 .29,0 .29-1.2 .29-.9 .29,1.7 .28-.8 .29,.7 .29-.9 .29,1.7
l.28-1.4 .29,1.3 .29-.3 .29-.8 .29,.4 .28-.1 .29-.4 .29,.3 .29-.9 .28,.5 .29,1.2 .29-.5 .29,.3 .28-.1 .29-1.5 .29,1.8
l.29-1.4 .29-.1 .28-.9 .29,1.9 .29-.1 .29,0 .28,.5 .29-1.5 .29-.1 .29,3 .28-1.4 .29-1 .29,1.5 .29-.2 .29-.5 .28,.1
l.29,.1 .29,0 .29-1.3 .28,2.9 .29-1.3 .29,.5 .29-1 .29,.5 .28-.6 .29,.3 .29-1.5 .29,2.5 .28-.6 .29-.9 .29,.9 .29-.3
l.28,1.2 .29-1.6 .29,.6 .29-.5 .29,1.1 .28-.2 .29,.2 .29-1.8 .29,2.5 .28-1.5 .29,.1 .29-.7 .29,.7 .28,.9 .29-1 .29,1.6
l.29-2 .29,.9 .28,.4 .29-.1 .29-.8 .29,1.6 .28-2.3 .29,1.7 .29-1.5 .29,.9 .29-1.2 .28,2.2 .29-1.4 .29,.7 .29,.4
l.28-1 .29,.7 .29,.4 .29-.3 .28,.4 .29-.4 .29-.1 .29-.8 .29,.9 .28,.5 .29-1.1 .29,.8 .29,.4 .28,.2 .29-2 .29,1.3
l.29-1.2 .28,1.8 .29,.1 .29-1.9 .29,1.4 .29,0 .28,0 .29,.6 .29-1.5 .29,1.6 .28-1.3 .29,1.3 .29-2.6 .29,1.3 .29-.2
l.28,2 .29-1.4 .29,.7 .29,.2 .28,0 .29-1.2 .29,.6 .29,.4 .28,0 .29,.1 .29-.1 .29-.1 .29,.6 .28-.2 .29,1 .29-1.5
l.29-.4 .28,.7 .29-1.3 .29,1.5 .29-.5 .28-.8 .29,.7 .29,.7 .29-.8 .29,.6 .28-1.1 .29,.3 .29,.7 .29-.5 .28-.8 .29,.4
l.29,.2 .29,.8 .29,.3 .28,.1 .29-1.3 .29,1.5 .29-1 .28-.8 .29,2.3 .29-1.4 .29,1 .28-.6 .29-.5 .29,1.1 .29,.3 .29-.7
l.28-.4 .29,.5 .29,.4 .29-1.2 .28,1.3 .29,.3 .29-1.1 .29-1.4 .28,1.8 .29-.2 .29,.6 .29-.2 .29,.3 .28-.9 .29,.7 .29,.1
l.29-1.2 .28,1.7 .29-1.7 .29,.8 .29,.5 .29-.6 .28,.2 .29-.4 .29,.4 .29-1.5 .28,.6 .29,0 .29,1.6 .29-.5 .28-1.1 .29,.4
l.29,.4 .29,.1 .29-.8 .28,2.1 .29-.7 .29,.4 .29-1.8 .28,1.8 .29-.7 .29-1.2 .29,1.2 .28-.4 .29,.2 .29-.4 .29-1.1
l.29,2.4 .28-.8 .29-1.2 .29-.5 .29,1.9 .28-1.1 .29,.5 .29,0 .29,1.5 .29,.1 .28-1.2 .29,.2 .29,0 .29,.8 .28-1.9 .29,1.2
l.29-2 .29,2.1 .28-.4 .29-.3 .29,.8 .29,.5 .29-.3 .28-.4 .29,.4 .29-1.8 .29,1.8 .28-.9 .29,0 .29,.4 .29,.9 .28-1.1
l.29-.3 .29,.6 .29,.1 .29,1.6 .28-.8 .29-.6 .29-.2 .29-.4 .28,.7 .29-.3 .29,.9 .29-1.2 .29,0 .28,.6 .29-.8 .29,.9
l.29,.2 .28-.1 .29-1.6 .29,2.5 .29-1.3 .28,.4 .29-.3 .29,1.2 .29-1.6 .29,.1 .28,.6 .29,.2 .29-.4 .29-.6 .28,1.8
l.29-2.1 .29,1.3 .29-.8 .28,1.1 .29-1.9 .29,1.2 .29-1 .29,1.6 .28,.1 .29-1.3 .29,.3 .29,.3 .28-.6 .29,.6 .29,.5
l.29,1.1 .29,.3 .28-2 .29,0 .29,1.1 .29-1 .28,.5 .29-.1 .29-.7 .29,1.8 .28-1.3 .29-.1 .29,.5 .29-.3 .29,1 .28-.9
l.29-.4 .29,0 .29,1 .28-1 .29,.3 .29-.2 .29,.5 .28-.5 .29,.4 .29-1.6 .29,1.9 .29-1 .28,.9 .29,1 .29-1.4 .29-.5 .28,.4
l.29,0 .29,1.1 .29-.8 .29,1.2 .28-2.2 .29,.2 .29,1.8 .29-.4 .28,.6 .29-.4 .29-.2 .29,.6 .28-.5 .29-.8 .29,.7 .29-.7
l.29,.6 .28-.1 .29,.9 .29-1.5 .29,1.5 .28-.6 .29,.7 .29-1.3 .29,1.2 .28-1.2 .29-.9 .29,1.1 .29,1.8 .29-2.2 .28,.6
l.29-.3 .29,.1 .29-.5 .28,.1 .29,.8 .29,.8 .29-.8 .29-.6 .28,1.9 .29-1.4 .29,1.4 .29-2.1 .28-.5 .29,.7 .29,1 .29-.9
l.28-.4 .29-.2 .29,.2 .29,.3 .29,1.4 .28-.6 .29-.4 .29,.3 .29,1.5 .28-1.3 .29,.4 .29-.6 .29-.1 .28,1.3 .29-.5 .29-.6
l.29,.8 .29-.7 .28,.6 .29-.1 .29-1.1 .29,.8 .28,.3 .29-1.5 .29,1.3 .29-.2 .29,0 .28-2.1 .29,1.7 .29-.1 .29,.8 .28-.8
l.29-.2 .29,1.6 .29-1.1 .28-.8 .29-.1 .29,1.1 .29-1.5 .29,2.2 .28-1.2 .29,.3 .29,1.2 .29-1.5 .28,1.6 .29-.4 .29-.4
l.29,.8 .28-1.6 .29,1.1 .29,.6 .29-1.1 .29,.2 .28,.8 .29-.4 .29-1 .29,.1 .28,1.7 .29-1.8 .29,0 .29-.1 .29,1.2 .28,.2
l.29-.5 .29,.4 .29-.2 .28,.2 .29-.2 .29,.2 .29-.4 .28-.1 .29,.3 .29,.3 .29-1.5 .29,.4 .28,.4 .29,.9 .29-1 .29,.6
l.28-.6 .29,.3 .29-1.6 .29,1.8 .28,.7 .29-1.4 .29-.1 .29-.1 .29,2.8 .28-1.2 .29,0 .29,.6 .29-1.3 .28-.3 .29-.3 .29,.1
l.29,.7 .29-1.1 .28,.9 .29,2.2 .29-1.7 .29,.3 .28-.8 .29,.6 .29-.1 .29-1.1 .28,1.5 .29,.4 .29-1.1 .29-.3 .29,.6
l.28-.1 .29,.4 .29,.6 .29-.4 .28,.2 .29-1.6 .29,1.1 .29-1.2 .28,1.1 .29,.6 .29-.8 .29,0 .29-.8 .28,2.4 .29-1.1 .29-.6
l.29,.9 .28-.6 .29,.3 .29-1.3 .29,.2 .29,2.3 .28-.3 .29-.5 .29-.5 .29,0 .28,.3 .29-.8 .29-.2 .29,.6 .28,.3 .29-.2
l.29,.6 .29-1.2 .29,0 .28,1.3 .29-1.7 .29,1.1 .29-.6 .28,.6 .29,.1 .29-.6 .29,1.2 .28-.5 .29,.7 .29-1.2 .29,.5 .29,.1
l.28,.2 .29-.8 .29,.2 .29,.4 .28,.2 .29-1.6 .29,.2 .29,1.9 .29-1.7 .28,.5 .29,.2 .29-.1 .29,1.3 .28-2.7 .29,.3 .29,1.4
l.29,.1 .28-.1 .29,.6 .29-.9 .29,.5 .29,.7 .28-.4 .29,.1 .29,0 .29-.2 .28-.6 .29,.7 .29,.9 .29-2.2 .28,1.5 .29-1.4
l.29,.8 .29-.2 .29,1 .28-.6 .29,.3 .29-.2 .29-.4 .28,.6 .29-.8 .29,1.6 .29-.2 .29-1.1 .28,0 .29-.4 .29-.4 .29,.8
l.28-.2 .29,.4 .29,.1 .29,.2 .28-.2 .29,.5 .29-.3 .29-.6 .29,.2 .28-.4 .29,1.1 .29-.1 .29-.5 .28,.9 .29,0 .29-1
l.29,.7 .28-.9 .29,.6 .29,.4 .29,.4 .29-1.5 .28,.9 .29,.6 .29,.4 .29-.2 .28-.5 .29-1.2 .29,1.5 .29-.8 .29,.1 .28,2.5
l.29-1.4 .29-1.5 .29,2 .28-2.2 .29,.8 .29,1.2 .29-2.5 .28,1.4 .29-1.1 .29,.9 .29,.7 .29-1.3 .28-.5 .29,.4 .29,1.8
l.29-1.3 .28,1.3 .29-.4 .29-1.4 .29,2 .28-2.8 .29,2.9 .29-.2 .29-1.4 .29,.7 .28,0 .29,.5 .29-1.1 .29,.3 .28,.3 .29,.5
l.29,.5 .29-1.1 .29,1.6 .28-1.1 .29-.9 .29,0 .29,.8 .28,1.5 .29-2.2 .29-.2 .29,.6 .28-.9 .29,.2 .29,1.9 .29-1 .29,.2
l.28-1.4 .29,.3 .29,.7 .29-.3 .28-.2 .29,1.1 .29-.3 .29-.1 .28,.3 .29-.1 .29-.4 .29,1.1 .29-.1 .28-1.3 .29-.6 .29-.2
l.29,2.6 .28-1.5 .29,.9 .29-.2 .29-.2 .29-.5 .28-.1 .29,2.1 .29-1.2 .29-1.2 .28,.7 .29,1.2 .29-.4 .29-.1 .28-1.3
l.29-.5 .29,2 .29-1.1 .29,.5 .28-.6 .29,.6 .29,.7 .29-.4 .28,.1 .29-1.5 .29,1.6 .29-1 .28,1 .29-.1 .29-.6 .29,.6
l.29-1.8 .28,.5 .29,1.7 .29-1.2 .29-.7 .28,2 .29-.6 .29-1.3 .29,1.6 .29-1 .28,.5 .29-.1 .29,.8 .29-.6 .28,.2 .29-1.5
l.29,.8 .29,.4 .28,.1 .29-.5 .29,1.6 .29-.4 .29-.1 .28,0 .29,.6 .29-1.5 .29,.7 .28-1.3 .29,1 .29,.2 .29-.5 .28,0
l.29,.5 .29-.6 .29-.5 .29,1.2 .28-1.2 .29,1.1 .29-.8 .29,.7 .28,.2 .29-.4 .29,1 .29,.3 .29-1.1 .28,.2 .29,.6 .29-2.3
l.29,1.2 .28,.8 .29-.8 .29,0 .29,.6 .28-.1 .29,1.2 .29-1.5 .29-1.1 .29,.5 .28,.1 .29,1.1 .29,.4 .29-1.4 .28,.4 .29,.4
l.29,.1 .29-.9 .28,.2 .29,.8 .29-.2 .29,1.1 .29-.4 .28-1.2 .29,.8 .29,.2 .29-.7 .28-.7 .29,1.5 .29-.4 .29,0 .29-1.9
l.28,1 .29,.5 .29,1.2 .29-1.5 .28,.1 .29,.6 .29,.4 .29-.2 .28,.8 .29-.9 .29,.1 .29,.3 .29-.4 .28,.9 .29-1.9 .29,.9
l.29,.8 .28-1.4 .29,.1 .29,.8 .29,.6 .28-.9 .29-.4 .29-.1 .29-.2 .29,.1 .28,1.6 .29-1.1 .29,1.4 .29-2 .28,.4 .29-.3
l.29,.6 .29,.1 .29,.3 .28,1.6 .29-1.8 .29-1.9 .29,.9 .28,1 .29-.3 .29-.1 .29,.7 .28-.4 .29-.2 .29,.6 .29-.7 .29-.5
l.28,.3 .29,.4 .29,.3 .29-.6 .28,.9 .29,0 .29-1.3 .29,1.2 .28,.7 .29-1.6 .29,.1 .29-.3 .29,.9 .28-.9 .29,.9 .29,.7
l.29-.6 .28-.3 .29,.9 .29-.6 .29-.3 .29,.5 .28-.4 .29,.1 .29,.6 .29-.8 .28-.2 .29,1.8 .29-.9 .29-1 .28,.2 .29,1.7
l.29-1.5 .29-.8 .29,.3 .28,.1 .29,.6 .29-.1 .29,.9 .28-.8 .29-1.6 .29,1.6 .29,.6 .28-1 .29,1.8 .29-3 .29,1.2 .29,.6
l.28,.1 .29,.4 .29-.7 .29,0 .28,1.1 .29-1.7 .29,.9 .29,.5 .29-1.4 .28,.2 .29,.9 .29,0 .29-1.2 .28,1.1 .29-.4 .29-.8
l.29,1.8 .28,.2 .29-.5 .29-.2 .29-.4 .29-.6 .28,1 .29-1.5 .29,1 .29,1.5 .28-1.3 .29-.5 .29-.3 .29,1.3 .28-.4 .29-1.7
l.29,1.5 .29,.8 .29,.4 .28-.8 .29-.5 .29,1 .29-1.7 .28,1.5 .29,.8 .29-1.8 .29,.4 .29,.2 .28-1 .29,1.3 .29-.9 .29,.9
l.28-1.5 .29,1.1 .29,0 .29-.4 .28,.5 .29-.4 .29,.5 .29-.6 .29,.4 .28,.4 .29-.7 .29,0 .29,1.1 .28-.5 .29,.9 .29-1.2
l.29-.5 .28-1.1 .29,1.5 .29-.5 .29-.3 .29,.5 .28,1.8 .29-1 .29-.5 .29,0 .28,.2 .29,.7 .29,.7 .29-1.6 .29-.5 .28,1.1
l.29-.7 .29,.8 .29-.3 .28,.3 .29-1 .29,1.2 .29-.7 .28-.5 .29,.6 .29,.9 .29-1.1 .29,.4 .28,.7 .29-.7 .29,.1 .29-.7
l.28,.8 .29-.4 .29-.3 .29,1.7 .28-2 .29,.7 .29,.7 .29-.8 .29-.6 .28,1.2 .29-.1 .29-1.3 .29-.1 .28-.3 .29,1.3 .29,.7
l.29,0 .29-.4 .28,.5 .29-1 .29-.6 .29,1.6 .28-1.7 .29,1.6 .29-.1 .29,.5 .28-1.5 .29,.6 .29-.1 .29,2 .29-1.6 .28-.6
l.29,2.2 .29-3.3 .29,1.1 .28-.5 .29,1 .29-.9 .29-.2 .28-.9 .29,2.5 .29-2.2 .29,2.2 .29-.8 .28,.4 .29-.2 .29,1.2
l.29-1.1 .28,.6 .29-.7 .29-.3 .29,.2 .29,.1 .28-1 .29,.7 .29-.2 .29-.5 .28,1 .29-.1 .29-.4 .29,.6 .28-1 .29,1.3
l.29-.3 .29,0 .29,.1 .28-.2 .29,.3 .29,1.3 .29-2.4 .28,1.1 .29-.8 .29,1.3 .29-1.2 .28,1.3 .29-1.9 .29,1.1 .29,.3
l.29,1.6 .28-.4 .29-1.2 .29,.1 .29,0 .28,0 .29-1.1 .29,1 .29,0 .29,.2 .28,.3 .29-1 .29,.5 .29,0 .28-.5 .29,.2 .29-.5
l.29,0 .28,1.5 .29-.4 .29-1.2 .29,.9 .29-.7 .28,1.1 .29,1.1 .29-.2 .29-1 .28-.2 .29-1.9 .29,1.1 .29,0 .28-.1 .29,1.7
l.29-1.1 .29,.1 .29-1.4 .28,1.8 .29,.5 .29-1 .29,.2 .28-.2 .29-.1 .29,0 .29,.6 .29-.1 .28-2 .29,2.1 .29-.8 .29,1.1
l.28,.5 .29-1.9 .29,.5 .29-.8 .28,.2 .29,.6 .29,.7 .29-1.9 .29,1.3 .28-1.4 .29,.9 .29-.1 .29,.2 .28,.1 .29,.5 .29-1.8
l.29,2.2 .28,.5 .29-1.3 .29,.7 .29-1.1 .29,.8 .28-1 .29,.8 .29,.6 .29-.3 .28-.7 .29,.9 .29,.1 .29-.4 .29-.3 .28-.7
l.29,.6 .29-.3 .29,.7 .28-1.4 .29-.2 .29,2 .29-.7 .28,.3 .29-.3 .29,.4 .29,.3 .29,.4 .28-.5 .29-.4 .29-.7 .29,.4
l.28,.6 .29,.2 .29,.6 .29-1.5 .28,.4 .29-.3 .29-.1 .29,.1 .29,.5 .28,.1 .29,.5 .29-.3 .29-.7 .28-1.2 .29,1.8 .29-.4
l.29-2.1 .29,2.2 .28,.3 .29-.3 .29,.2 .29,1.2 .28-1.9 .29,1.8 .29-.8 .29-.1 .28-.6 .29,.5 .29,.2 .29,.2 .29-.7 .28,.4
l.29,.3 .29,.4 .29-.3 .28-.7 .29,1.2 .29-1.2 .29,.1 .28-.8 .29,1.3 .29,.2 .29-.6 .29,.2 .28,1.6 .29-2.7 .29,.7 .29,.1
l.28,.6 .29-.8 .29,.5 .29-1.3 .29,.6 .28-.5 .29,1.8 .29-.2 .29-.3 .28,.1 .29-1.5 .29,.8 .29,1 .28-.5 .29-1.5 .29,1.5
l.29-.6 .29,1.6 .28-.8 .29-.3 .29,.1 .29-.2 .28-.2 .29-.6 .29,2 .29-1.2 .28-.4 .29,.3 .29-.6 .29,.8 .29,.2 .28,.3
l.29-1.2 .29,1.5 .29-.5 .28-.3 .29-.5 .29,.7 .29,.4 .29-1 .28,1.2 .29-.3 .29,.9 .29-1.5 .28,0 .29,1.3 .29-1 .29-.6
l.28,.9 .29,.7 .29-1.1 .29-.5 .29,1.7 .28-1.9 .29,.7 .29-.7 .29,1.4 .28-1.4 .29,.4 .29-.3 .29,.5 .28-.6 .29,.8 .29,.2
l.29,.4 .29,.3 .28-1.1 .29,.3 .29-.2 .29,.2 .28-.5 .29,.2 .29,.5 .29-.9 .29-1 .28,2.1 .29-.3 .29-.7 .29,.9 .28-1.2
l.29,1.1 .29,.4 .29-.2 .28-1.4 .29,2.2 .29-1.5 .29,1.6 .29-2 .28,.2 .29-.2 .29-1 .29,1.5 .28-.9 .29,.4 .29-.3 .29,1.2
l.28-1.3 .29,1 .29-1.2 .29,.3 .29,.6 .28-.3 .29,0 .29,.2 .29-1.7 .28,2.4 .29,.4 .29,0 .29-.8 .29-.1 .28-.5 .29-.2
l.29,.5 .29,.1 .28,.7 .29-1.3 .29-.3 .29,1 .28-.5 .29,.9 .29-.4 .29-.1 .29-.5 .28,1.6 .29-1.1 .29-.6 .29,.4 .28-.2
l.29,2.2 .29-1.1 .29-.3 .28,.2 .29,1.1 .29-2.3 .29,.5 .29,1.6 .28-1 .29-.4 .29-.6 .29,.2 .28,1.1 .29-.2 .29-.6 .29-.5
l.29,1 .28,.1 .29-.9 .29,.4 .29-.9 .28,.6 .29-.3 .29,2 .29-.4 .28,.1 .29-.6 .29-.7 .29,.5 .29-.6 .28,.9 .29-1.2
l.29,.1 .29,1.8 .28-.5 .29-.3 .29-1 .29,.1 .28-.7 .29,2.3 .29-1.2 .29,.1 .29,.2 .28-.1 .29,1.4 .29-1.7 .29,.5 .28,.6
l.29-1.9 .29,1.5 .29-.6 .29,.6 .28,.6 .29-.7 .29-.6 .29,1 .28-1.1 .29-.9 .29,.4 .29,1.1 .28,.3 .29-1.2 .29,1.6 .29-.2
l.29-2 .28,1 .29-.1 .29,.5 .29-2.2 .28-.2 .29,2.3 .29-.7 .29,.8 .28-.5 .29-.7 .29,.1 .29,1 .29-.4 .28-1.7 .29,1.3
l.29-.3 .29,.6 .28,.4 .29,.7 .29,0 .29,.4 .29-.4 .28-.1 .29-1.1 .29,1.6 .29-1.4 .28,1.7 .29-3.3 .29,2.3 .29-.5 .28-1.2
l.29,1.4 .29-.2 .29,0 .29-.3 .28,.7 .29-1.6 .29,.5 .29,.7 .28-.8 .29,.9 .29,.3 .29-.3 .28-.4 .29,1.5 .29-.9 .29-.5
l.29,1.1 .28-1.1 .29,1.1 .29-1 .29,.2 .28-.3 .29,.8 .29,.9 .29,.4 .29-4.5 .28,3.7 .29-.4 .29,.6 .29-2.2 .28,.5 .29-.1
l.29,1.4 .29-1.5 .28,1.2 .29-1.4 .29,1 .29,1.5 .29-1.5 .28,.5 .29-2.3 .29,2.7 .29-.8 .28,0 .29,.4 .29-.1 .29-.4
l.28-.3 .29,.5 .29-.1 .29-.2 .29,.7 .28-.5 .29-.2 .29-.7 .29,.2 .28,.2 .29-.3 .29,1.2 .29-1.4 .29,1.1 .28-.2 .29,.2
l.29-.7 .29,.9 .28-.9 .29,.7 .29,.1 .29-.6 .28,.9 .29-1.5 .29,1.4 .29-.2 .29-1.2 .28,1.9 .29-1.7 .29,.6 .29,0 .28-.1
l.29,.8 .29-1.8 .29,.8 .28-.1 .29-.1 .29-.1 .29,.4 .29,.9 .28,.3 .29,0 .29-.6 .29-1 .28,1.6 .29-.7 .29-.7 .29,.7
l.29,0 .28,.5 .29-.8 .29,.5 .29,.1 .28-.2 .29-.6 .29-.4 .29,1.5 .28-1.2 .29,1.2 .29,.5 .29-.9 .29-.5 .28,.1 .29-.3
l.29,1.7 .29-2.4 .28,.4 .29,.1 .29,1.6 .29-1.5 .28,.7 .29,0 .29-.3 .29,1.1 .29-1.9 .28,0 .29,.2 .29-.4 .29,2.1 .28-.9
l.29,0 .29,.6 .29-1.4 .29-1.3 .28,2.6 .29-1.2 .29,.4 .29-.1 .28,.1 .29-.5 .29,1 .29-.2 .28-1.4 .29,1.1 .29,0 .29,1.3
l.29-1.6 .28-.1 .29,.2 .29-.9 .29,2.5 .28-2 .29,1.8 .29-.4 .29,.6 .28-1.9 .29,.6 .29,.2 .29-.3 .29,1.5 .28-1 .29-.6
l.29,.6 .29-.4 .28,1.1 .29-1.3 .29,.4 .29-.4 .29-.9 .28,1 .29,.5 .29-.7 .29,1 .28-1.9 .29,1.2 .29,0 .29-.4 .28,1.2
l.29-.8 .29,.1 .29-1.6 .29,.5 .28-.3 .29,1.2 .29,0 .29-.7 .28,1.2 .29,.2 .29-1.7 .29,.7 .28,0 .29,1.6 .29-.9 .29,0
l.29,.2 .28-.8 .29,.9 .29,.2 .29-2.2 .28,1 .29,1.1 .29-2.2 .29,1.1 .29,.1 .28,2.1 .29-2.9 .29,.9 .29-.7 .28-.4 .29,2.1
l.29-2.2 .29,.7 .28,.5 .29,1.7 .29-3 .29,1.1 .29-.2 .28,1.3 .29-1.3 .29,.1 .29-.7 .28,1.7 .29,.9 .29-1.1 .29,.3
l.28-.9 .29,.3 .29-.3 .29-.7 .29-.3 .28,1.1 .29,1.2 .29-1.1 .29,.1 .28-.1 .29,.1 .29-.1 .29,1.5 .29-1.9 .28,0 .29,.1
l.29,.4 .29-.7 .28,1.8 .29-1.1 .29-.5 .29,.7 .28-.3 .29-.7 .29,.8 .29,.5 .29-.3 .28-.6 .29,1 .29-.7 .29,.3 .28-.4
l.29-.4 .29,0 .29,.4 .28-.1 .29-.4 .29,1.1 .29-.6 .29,.9 .28-1.7 .29,.8 .29,1 .29-.6 .28-.9 .29,.4 .29,1.3 .29-2.4
l.29,1.1 .28-.1 .29,.5 .29,.3 .29,.5 .28-1.2 .29,.1 .29,.2 .29-.7 .28,.3 .29,.9 .29-.4 .29-1 .29,1.7 .28-2.5 .29,1.9
l.29-2.2 .29,1.5 .28,1.4 .29-1.4 .29,.2 .29,.4 .28-.3 .29,0 .29,2.2 .29-2.7 .29,.7 .28-.2 .29-.5 .29,.5 .29,.8 .28-1.4
l.29,.8 .29-.4 .29,.7 .29-.4 .28,.6 .29-1.8 .29,1.8 .29-1.4 .28,2 .29-1.5 .29,.4 .29-.9 .28,.5 .29-1.4 .29-.5 .29,2.4
l.29-.8 .28,1.1 .29,0 .29-.6 .29-.7 .28,.2 .29,.6 .29-.9 .29,1.5 .28-.2 .29-.5 .29,1.2 .29-2.2 .29,1 .28,.1 .29-.5
l.29,1.2 .29-.8 .28,1.1 .29-1.1 .29-.2 .29-1 .29,1.1 .28-1 .29,1 .29,1.1 .29-1.6 .28,.4 .29,.5 .29-1.1 .29,1.4 .28-.5
l.29-.7 .29-.1 .29,1 .29-.6 .28,.1 .29-.4 .29,.6 .29,1.3 .28-1.2 .29-1.3 .29,1.6 .29-.4 .28-.7 .29,.7 .29,.6 .29-.7
l.29,.1 .28,.5 .29-.5 .29,.8 .29,.1 .28-.3 .29-.6 .29-.2 .29,.5 .29-1.2 .28,.3 .29,.4 .29-.8 .29-.2 .28,.5 .29,.9
l.29-1 .29-.2 .28,.5 .29,.4 .29-.3 .29,0 .29,1.5 .28-2.4 .29,1.1 .29-1.4 .29,1.3 .28,.7 .29-1.2 .29,.5 .29-.5 .28,.9
l.29,0 .29,.2 .29,0 .29-.8 .28,1.2 .29-1 .29-.7 .29,1.4 .28-.5 .29,.4 .29-.3 .29-.3 .29-.4 .28-.1 .29,1 .29-.9 .29,.9
l.28,.4 .29-.2 .29,.7 .29-1.4 .28,1.3 .29-1.4 .29-1.7 .29,2.5 .29,.8 .28-1.7 .29,1 .29-.7 .29-.1 .28-.1 .29-1.5
l.29,1.4 .29,0 .28,.3 .29,.4 .29-.1 .29,.3 .29-1.3 .28,.7 .29-.6 .29,.3 .29-1.4 .28,1.6 .29-.5 .29,.9 .29-1.2 .29,.9
l.28-.2 .29,1 .29-1.4 .29-.7 .28,.2 .29,1.7 .29-1.4 .29,1.1 .28,.7 .29-.3 .29-1.8 .29,1.1 .29,.6 .28-1.1 .29,.1
l.29,.4 .29-.6 .28,.6 .29-1.1 .29,.3 .29,.6 .28-.3 .29-.4 .29,.7 .29-.4 .29,.4 .28,.2 .29,1.1 .29-.5 .29-.1 .28-.8
l.29-1.8 .29,2.5 .29-.3 .29,.6 .28-.7 .29-.1 .29-.6 .29,1.4 .28-1.3 .29,.2 .29,.4 .29,.6 .28-.1 .29-.6 .29-.6 .29,.5
l.29,.5 .28-.8 .29,.9 .29-1.2 .29-1.5 .28,2.4 .29-1.1 .29,1.4 .29-.8 .28-.3 .29-.5 .29,.8 .29-.9 .29,1.8 .28-.7
l.29-.1 .29-.1 .29,.1 .28-1.4 .29,1.6 .29-1 .29,.4 .29-1.1 .28,1.6 .29-.7 .29,.1 .29,2.6 .28-2.5 .29-.5 .29-.3 .29,1.8
l.28-.6 .29-1 .29,1.6 .29-.2 .29-1 .28-.1 .29-.4 .29,.1 .29,.7 .28,.8 .29-.3 .29-.4 .29-.3 .28,.2 .29-.5 .29,1.1
l.29-.2 .29,.6 .28-2.4 .29,1.6 .29-.8 .29-.3 .28,.7 .29,.3 .29,.3 .29-.2 .29,1 .28-.8 .29-.9 .29,.3 .29-.4 .28,0
l.29,.1 .29,.4 .29-.1 .28-.5 .29,.9 .29,.7 .29-1.5 .29,.5 .28-.7 .29,1.2 .29,.7 .29-1 .28,.3 .29,.2 .29-1.8 .29,.9
l.28,1 .29,.3 .29-1 .29-.5 .29,.2 .28-.6 .29,.6 .29-.2 .29,1.7 .28-2.2 .29,1.2 .29-1 .29,1.7 .29-.4 .28-1.5 .29,1.7
l.29-1 .29,.4 .28-1.5 .29,.9 .29-.6 .29,.9 .28,1.2 .29-2.6 .29,1.8 .29-.4 .29,0 .28,1.1 .29-1.6 .29,.7 .29,1 .28-.2
l.29,.6 .29-1.1 .29-.4 .28,.5 .29-.6 .29,.2 .29-.6 .29,.4 .28,.1 .29,.4 .29,.3 .29-.2 .28-.9 .29,.6 .29-1.4 .29,.5
l.29,1.5 .28-1.3 .29-.6 .29,1.4 .29-1.4 .28,1.4 .29-1.6 .29,.7 .29,.5 .28,1.1 .29-1.1 .29,.4 .29-.8 .29,.9 .28-1
l.29,.7 .29-.8 .29-.1 .28,.4 .29-.2 .29-.4 .29,1.4 .28-1.1 .29,.2 .29-.9 .29,1.2 .29-.8 .28,1.9 .29-2.1 .29,.6 .29,0
l.28-.4 .29,1.6 .29-.8 .29-.2 .29,.3 .28,.1 .29-1 .29,.6 .29,.2 .28-.2 .29-.9 .29-.4 .29,.6 .28,.4 .29,1.3 .29-.6
l.29,.3 .29,0 .28-1.5 .29,1.2 .29-1.4 .29,.9 .28,.2 .29,0 .29,.9 .29-.8 .28-.9 .29,.2 .29,.3 .29-.3 .29,.3 .28-.2
l.29-1.4 .29,1.6 .29,1.3 .28,.3 .29-1 .29-.7 .29-.5 .29,.7 .28-.1 .29-.4 .29,1.1 .29-.6 .28-.3 .29,.5 .29,.3 .29-1
l.28-.4 .29,.8 .29,1.6 .29-1.1 .29-.2 .28-.6 .29,.6 .29,0 .29-1 .28-.2 .29,.8 .29,.8 .29,.1 .28-1.3 .29,1 .29-.6
l.29,.2 .29-.3 .28-.1 .29,.9 .29-.3 .29-.5 .28,.1 .29,.9 .29-2.3 .29,2.3 .29-1.7 .28,1.9 .29-1.8 .29,1.9 .29-1.9
l.28,.5 .29-.5 .29,1.1 .29-.7 .28,0 .29,.1 .29,.4 .29-1.3 .29,2.2 .28-.2 .29-.1 .29-2 .29,1.6 .28-.1 .29,0 .29-.3
l.29-.1 .28,.2 .29,.7 .29-1.4 .29,.3 .29-1.1 .28,.8 .29,.3 .29,1 .29-1.1 .28-.4 .29-.7 .29,.8 .29-.3 .29,.2 .28-.8
l.29,.4 .29,.7 .29,1 .28-2.1 .29,1 .29,.7 .29,.4 .28,.2 .29-1.4 .29,.3 .29-.4 .29-.6 .28,1.2 .29-.6 .29,.5 .29,.3
l.28,.9 .29-1 .29-1.4 .29,1.2 .28-.6 .29,.1 .29-1.4 .29,.4 .29,1.5 .28-.2 .29-1.1 .29,.6 .29,.1 .28-.8 .29,.4 .29,.3
l.29-2.1 .29,1.8 .28,1.3 .29-1.2 .29,0 .29-1 .28,.9 .29,.7 .29-.8 .29,1.1 .28-.6 .29-.5 .29,.8 .29,.8 .29-.7 .28-.2
l.29-.9 .29,.7 .29-.3 .28,.6 .29-.8 .29,.5 .29-.8 .28,.2 .29-.9 .29,.6 .29,.6 .29,.4 .28-.8 .29-.4 .29-.6 .29,1.5
l.28,.5 .29,.3 .29-.6 .29-.6 .29,.1 .28,0 .29-.2 .29-.3 .29,1.4 .28-1.3 .29,.1 .29,0 .29,.2 .28,1 .29-1.7 .29,.6
l.29-.2 .29-.4 .28,.2 .29-.3 .29,0 .29,.9 .28,.1 .29-1.4 .29,1.1 .29-2.1 .28,2.3 .29-.9 .29,.1 .29-.3 .29,.8 .28-.9
l.29-1.2 .29,1.8 .29,1.1 .28-2 .29,.1 .29-.2 .29,1 .29-.9 .28-.3 .29,.9 .29-.4 .29-.4 .28-.2 .29,.7 .29-.3 .29-1.3
l.28-.1 .29,2.1 .29-2.3 .29,1.8 .29-1.1 .28,1.6 .29-.8 .29,.3 .29-1 .28,.4 .29-.2 .29,0 .29,.1 .28-.6 .29,.5 .29,.1
l.29,.4 .29,.1 .28-.3 .29-.6 .29-.5 .29,.7 .28-1.5 .29,.5 .29,.8 .29-.3 .29,.3 .28,1.2 .29-1.9 .29,.4 .29,1.2 .28-1.8
l.29,1 .29-.3 .29,1 .28-1.2 .29-.4 .29,.6 .29-.4 .29,1.3 .28-1.7 .29,.3 .29,0 .29-.6 .28-.3 .29,.8 .29-.8 .29-.7
l.28,2 .29-.8 .29,1.1 .29-1.4 .29-.8 .28,1 .29,.7 .29-.5 .29-.7 .28,1.3 .29-.1 .29-1.4 .29,1.2 .29-1 .28,.7 .29,.4
l.29-1.8 .29-.2 .28,1.2 .29-2.2 .29,1.5 .29-.3 .28,.1 .29,.9 .29-1.6 .29,.6 .29-.3 .28,.2 .29,.3 .29-1.9 .29,1.2
l.28,.4 .29-.6 .29,1.2 .29-1.1 .28-1.7 .29,2.3 .29-.9 .29,1.1 .29-.9 .28-.8 .29,1.5 .29-.1 .29-1.6 .28,.6 .29-.3
l.29,0 .29,1.3 .29,.2 .28,.1 .29-1.7 .29,1.2 .29,.2 .28-.9 .29-.3 .29-.3 .29,1.4 .28-2.3 .29,1.6 .29-.9 .29,.1 .29,.6
l.28-1 .29,0 .29-.6 .29-.6 .28-.2 .29,.8 .29,.1 .29,.7 .28,.7 .29-1.4 .29,.7 .29-.3 .29,.1 .28-.7 .29,.6 .29-2.1
l.29,1 .28,1 .29-.7 .29-.8 .29,1.8 .29-1 .28,.4 .29-.4 .29,.3 .29-.5 .28-.3 .29-.1 .29,1.4 .29-1.6 .28,.5 .29,.4
l.29-.5 .29-1.2 .29,1.2 .28,.5 .29-1.2 .29,.6 .29-.7 .28,.3 .29-.9 .29,1.4 .29-.2 .28-1.1 .29-.5 .29,1 .29-.7 .29,.5
l.28,.2 .29,1.2 .29-2.7 .29,.6 .28,2.4 .29-2.2 .29,.9 .29,.3 .29-.4 .28-1 .29,.6 .29,0 .29-.1 .28,.2 .29-.7 .29,1.7
l.29-.5 .28-.9 .29,.7 .29-1 .29,.4 .29-.6 .28,.3 .29-.6 .29,.4 .29-.6 .28,.8 .29,.9 .29-1.3 .29,0 .28,.3 .29-1.1
l.29,.3 .29-.8 .29,1.3 .28,0 .29-.7 .29-.8 .29,1.5 .28-.8 .29,.3 .29,.1 .29-.9 .29,0 .28,.1 .29,.9 .29-.5 .29,1.1
l.28-1.6 .29,1.3 .29-.8 .29-.8 .28,.7 .29-.3 .29,.5 .29-2.3 .29,2.6 .28-.5 .29-.3 .29-2 .29,2.2 .28-.5 .29-.6 .29,2
l.29-2.1 .28,.3 .29-.9 .29,0 .29,.6 .29-.4 .28,1.2 .29,.3 .29-.7 .29-.4 .28,.3 .29-.5 .29-.2 .29-.8 .29,1.3 .28,.1
l.29-.7 .29,.2 .29-.3 .28-.9 .29,1.8 .29-1.2 .29-.4 .28,0 .29,1.9 .29-.9 .29-1.2 .29,.9 .28-.3 .29,.3 .29-1 .29,.7
l.28,.3 .29-.3 .29-1 .29,.7 .28,1.4 .29,.3 .29-2 .29,1.6 .29-1.3 .28,.6 .29-.7 .29,.6 .29,1.2 .28-2.7 .29,1 .29,0
l.29-1.2 .29,.6 .28-.4 .29,.9 .29-.3 .29-.2 .28,.7 .29-1.1 .29,.3 .29,.5 .28,0 .29-.9 .29,.7 .29-.5 .29,.1 .28,.3
l.29,2 .29-2.5 .29-.4 .28,1 .29,0 .29-1.1 .29,1.4 .28-1.7 .29,.4 .29-.6 .29,.9 .29-.1 .28-.2 .29,1.3 .29-.5 .29-1.4
l.28,1.2 .29,.1 .29-.9 .29-.8 .29,1 .28,.1 .29-.2 .29-.3 .29,1.3 .28-1.4 .29,0 .29-.5 .29-.1 .28,.3 .29-1 .29,1.4
l.29,0 .29-1.2 .28,1 .29,.5 .29-.1 .29-.4 .28,.9 .29-1.6 .29,.4 .29-.7 .28,1.6 .29-.5 .29,.2 .29-.9 .29,.1 .28-.3
l.29,0 .29,1.2 .29-1 .28,.2 .29,0 .29-.4 .29,1.6 .29-.8 .28-.3 .29,.3 .29,.2 .29-1.4 .28,0 .29-.6 .29,1.8 .29,.9
l.28-2 .29,.6 .29,.5 .29-1.1 .29,.4 .28,1.1 .29-1.3 .29,1.2 .29-1.5 .28,1.2 .29,.2 .29-1.6 .29-.2 .28,.8 .29,.6
l.29-1.2 .29,.3 .29-.1 .28,.4 .29,.8 .29-.8 .29-1.3 .28,1.4 .29-.4 .29,0 .29-.7 .29,.4 .28,.5 .29-1.7 .29,1.2 .29-.1
l.28,.6 .29,.6 .29-1.4 .29,.6 .28-.5 .29,1.7 .29-2.7 .29,1.1 .29-.5 .28,1.2 .29-.8 .29,0 .29-.7 .28,.2 .29,1.9 .29-1.6
l.29,.1 .28,.3 .29-.4 .29-.3 .29-.3 .29,1.5 .28-.2 .29-.7 .29-.4 .29,1.1 .28-.7 .29,.9 .29-1 .29,.2 .29-.5 .28-.6
l.29,1.4 .29-.8 .29,1.4 .28-1.4 .29-1 .29,2.3 .29-.7 .28,1.8 .29-2.5 .29-1.2 .29,2.1 .29-.9 .28-.7 .29,1.4 .29-.6
l.29,.6 .28-.2 .29-.4 .29-.6 .29,.5 .28,.1 .29,.1 .29-.9 .29,.4 .29,.1 .28,1.5 .29-1.1 .29,.6 .29-2 .28,.7 .29-.5
l.29,1.6 .29,.4 .29-.5 .28-1 .29,.9 .29-1 .29-.4 .28,1.1 .29-.9 .29,2.2 .29-.7 .28-.4 .29-.2 .29,.8 .29-.8 .29-1
l.28,.2 .29,.2 .29,1 .29-1.7 .28,.6 .29,1.1 .29-1.4 .29,.9 .28-.6 .29,.1 .29-.1 .29-.7 .29-.7 .28,1.5 .29,.1 .29,.1
l.29-.3 .28-.1 .29,1.3 .29-1 .29-1.5 .29,1 .28-.2 .29,.8 .29-1.6 .29,1.1 .28,.7 .29,.2 .29-.8 .29-.9 .28,1.7 .29,.2
l.29,.9 .29-2.1 .29,1.3 .28-.3 .29,.2 .29-.1 .29-1.1 .28,1 .29-.6 .29,.6 .29-.2 .28-.8 .29,0 .29,1.3 .29-.8 .29,.7
l.28-1.2 .29,.9 .29,.2 .29-1.2 .28,1 .29-.5 .29-.4 .29,.9 .29-.2 .28-.6 .29-1.2 .29,1.2 .29-.1 .28,.5 .29,0 .29-1.1
l.29,1.6 .28,0 .29-1.6 .29,1.6 .29,.3 .29-1.2 .28-.3 .29-.6 .29-.3 .29,3.1 .28-1.4 .29,.1 .29-.5 .29,.9 .28-.7 .29-.1
l.29,0 .29,.8 .29-.8 .28,.8 .29,0 .29-.5 .29-.7 .28,2 .29-1.4 .29-1 .29,.9 .29,.4 .28-.5 .29-.9 .29,1.2 .29,.4 .28-1.1
l.29,.8 .29,.3 .29-1.1 .28,1.2 .29-.4 .29-1.1 .29,.8 .29-.8 .28,2.2 .29-.2 .29-.5 .29-.5 .28,1.3 .29-1.5 .29,.5
l.29,0 .28-.4 .29,.2 .29,.7 .29-.7 .29,.7 .28-1.8 .29,1.3 .29-.1 .29,.2 .28-.4 .29-.2 .29,.3 .29,.6 .29-1.5 .28,.8
l.29,1.3 .29,.3 .29-.8 .28,.1 .29,.3 .29-.5 .29-.9 .28-.6 .29,.7 .29-.1 .29-.5 .29-.7 .28,.7 .29,.4 .29,.5 .29,.6
l.28-1 .29-.5 .29,.6 .29,.6 .28-.8 .29,.5 .29,.4 .29,1 .29-1.8 .28,.9 .29-1.3 .29,1.3 .29-.5 .28,.4 .29-1.6 .29,.3
l.29,1 .29-1 .28,1.9 .29-1.4 .29,.9 .29-.3 .28,.3 .29-.8 .29,1.7 .29-.9 .28-1.3 .29,2.6 .29-1.4 .29,.8 .29,.9 .28-2.1
l.29,.6 .29-1.2 .29,2.2 .28-1.6 .29-.8 .29,2.5 .29-1.8 .28,0 .29,.4 .29-.9 .29,.6 .29,1 .28,0 .29-.4 .29-1.2 .29,1.2
l.28-.7 .29,.8 .29-.5 .29,.1 .29-.5 .28-.4 .29,1.7 .29,.4 .29-.7 .28,0 .29-.2 .29-.5 .29,1.1 .28-.3 .29,0 .29-.7
l.29,1.1 .29-1.2 .28-.4 .29,1.5 .29-1.1 .29,.6 .28,.5 .29-1.5 .29,.6 .29,1.1 .28-.6 .29,.9 .29,.6 .29-1.7 .29,.8
l.28-1.2 .29,1.1 .29,0 .29,.3 .28-.2 .29,.7 .29-.4 .29,1.1 .29,.1 .28-.3 .29-.5 .29-.3 .29,.1 .28-.9 .29-.9 .29,3.5
l.29-2.7 .28,.4 .29,1.1 .29-.5 .29,1.5 .29-1.2 .28-1.2 .29,2 .29-.4 .29-.5 .28-.3 .29,.4 .29,.5 .29-.8 .28,.9 .29-2.1
l.29,.8 .29,.9 .29,.6 .28-.1 .29,.1 .29-.2 .29-.5 .28,1.2 .29-1 .29,.2 .29,.7 .29-1.6 .28,.6 .29,.1 .29,.7 .29,.1
l.28-.5 .29,1.1 .29-1.3 .29,1.1 .28-.8 .29-.4 .29,.7 .29,.3 .29,0 .28-.6 .29,.9 .29-.7 .29-.7 .28,2 .29-.7 .29-.7
l.29,1 .28-.1 .29,.2 .29-1.5 .29,2.1 .29-1.4 .28,.1 .29-.1 .29,.6 .29-.6 .28,.4 .29,.3 .29-2.4 .29,1.1 .29,1.5 .28-.3
l.29-.8 .29-.7 .29,1.2 .28-.6 .29,.3 .29-.6 .29,1.2 .28,.2 .29-.8 .29,.1 .29,.1 .29-.8 .28,.4 .29,.4 .29,.9 .29-1.3
l.28-.1 .29,1.1 .29-.4 .29,.7 .28-.8 .29,.2 .29,1.1 .29-1.2 .29,.3 .28,0 .29-1 .29,.4 .29-.2 .28,.8 .29-1.1 .29,1.4
l.29-1 .29,1.6 .28-1.2 .29,.9 .29,.3 .29-1.5 .28,.4 .29-.2 .29,.3 .29-.2 .28,.3 .29,.1 .29-.2 .29-1.5 .29,2.3 .28,.3
l.29-.3 .29-.2 .29-.8 .28-.4 .29-.1 .29,1 .29-.6 .28-.8 .29,.8 .29-.4 .29,1.6 .29-1.3 .28,.1 .29,1.4 .29-.9 .29-.4
l.28,1.1 .29-1.3 .29,0 .29,.5 .29,.3 .28,.1 .29-.4 .29-.5 .29,1.7 .28-1.1 .29,0 .29,.8 .29,.3 .28-.7 .29,1 .29-1.3
l.29,.4 .29,.5 .28-.7 .29,.6 .29-.1 .29-1.3 .28,1.4 .29,1.2 .29-1.9 .29,.9 .28-.1 .29-1.7 .29,1.2 .29-.7 .29,1.6
l.28-.2 .29-.2 .29-1 .29,.9 .28,.9 .29-1.8 .29,.9 .29-.4 .29-.5 .28-1 .29,1.6 .29-1.1 .29,2 .28-1 .29-.1 .29,1.8
l.29-.9 .28-.2 .29-.8 .29,.7 .29-.1 .29,.2 .28-.8 .29,.4 .29,0 .29,.2 .28-.7 .29,1 .29-.5 .29,0 .28-.2 .29-.5 .29,.5
l.29,1.2 .29-1.6 .28-.2 .29,0 .29,.3 .29,1.7 .28-1 .29-.7 .29,0 .29,.7 .29-.2 .28,.9 .29-1.1 .29,1.8 .29-1.3 .28-.8
l.29,1.5 .29-1.7 .29-.5 .28,1 .29,.7 .29,0 .29,.5 .29-1.3 .28,1.3 .29-.9 .29,.9 .29-1.2 .28,1.4 .29-.9 .29,.4 .29-1.2
l.28,1 .29-.1 .29-.9 .29,1.5 .29,.1 .28-.8 .29,.7 .29-1.9 .29,1.1 .28-.1 .29,.5 .29,1.9 .29-3 .29,.9 .28,1.4 .29-.7
l.29-.7 .29-.9 .28,.7 .29-.1 .29,.1 .29,.8 .28-.1 .29-.5 .29,1 .29-1 .29-.4 .28,2.1 .29-1.5 .29,.1 .29-.3 .28-1.1
l.29,2.2 .29-2.4 .29,.9 .28-1.2 .29,2 .29-.5 .29,.3 .29-.4 .28,1 .29-.1 .29-.4 .29-.6 .28,1.4 .29-.7 .29,.2 .29-.6
l.29-.4 .28,1.6 .29-.3 .29-.5 .29,.5 .28-1.7 .29-.2 .29,.7 .29,.2 .28,1.1 .29-.1 .29-1 .29-.7 .29,1.3 .28-.5 .29-.9
l.29-.1 .29,2 .28-.9 .29-.4 .29,1.7 .29-.8 .28-.4 .29,.5 .29-.8 .29,.7 .29,.9 .28-.3 .29,.6 .29-.5 .29-1.4 .28,.2
l.29-.1 .29-.6 .29,1.8 .29-.5 .28-.4 .29-1.1 .29,1 .29,.3 .28-.3 .29,.8 .29,.8 .29-1.8 .28,.7 .29-.6 .29,1.1 .29-.2
l.29-1.1 .28,.3 .29-.5 .29,1.2 .29-.6 .28-.4 .29-.1 .29,.6 .29-.2 .28,.3 .29,0 .29,0 .29-.4 .29,1.3 .28-.9 .29,.6
l.29-.7 .29,.2 .28-.3 .29,.3 .29,0 .29,.8 .29-1.9 .28,1.9 .29,.4 .29-1.6 .29-.1 .28,.5 .29,.1 .29,.6 .29-2.1 .28,2.5
l.29-2.8 .29,2.7 .29-.4 .29-.5 .28,.1 .29-.6 .29,.9 .29-.3 .28,.8 .29-1.9 .29,1 .29,.4 .28-.6 .29-.6 .29,.4 .29,.7
l.29-.6 .28-.1 .29-.1 .29,.5 .29-.7 .28,1.3 .29-.9 .29,.7 .29-.6 .29,.4 .28-.9 .29,.8 .29-1.1 .29,1.4 .28-1.3 .29,1.3
l.29,1.1 .29-1 .28-1.3 .29,.5 .29-.2 .29,.6 .29-.5 .28,.9 .29-1.9 .29,.1 .29,.8 .28,.7 .29,0 .29-.8 .29,.1 .28,.9
l.29-1.1 .29-.1 .29,.2 .29,.1 .28,.1 .29,.2 .29,.2 .29,.2 .28-1.3 .29,1.9 .29-1.1 .29-.5 .29-1 .28,1.8 .29-1.2 .29,.1
l.29,.2 .28-.6 .29,2.4 .29-1.9 .29,.8 .28-.4 .29,.4 .29,.5 .29,.7 .29-1.6 .28,.5 .29,.7 .29-.8 .29,.7 .28-.2 .29-.7
l.29-.4 .29,1.9 .28-1.3 .29-.5 .29,1.3 .29-.6 .29-.5 .28-.4 .29,1.5 .29,.3 .29-.7 .28-.1 .29-.3 .29-.1 .29,1.4 .29-1.8
l.28,1.6 .29-1.4 .29-.1 .29,.1 .28,.1 .29-.1 .29,.8 .29,0 .28-2 .29,.4 .29,.1 .29,.4 .29,1.7 .28-2.5 .29,1.5 .29-.1
l.29-.6 .28,1 .29-1.4 .29,2.6 .29-2.5 .28,.5 .29,.9 .29-1.2 .29-.2 .29,.3 .28-.1 .29,.8 .29-.9 .29,0 .28-.2 .29,.5
l.29,1.6 .29-1.5 .29,1.2 .28-.3 .29-.5 .29-.2 .29,.3 .28-.4 .29-.1 .29,.2 .29,.1 .28-.2 .29-.2 .29,1.1 .29,.4 .29-1.8
l.28,.7 .29,1.7 .29-2.4 .29-.1 .28,2.1 .29-.4 .29-.5 .29,.5 .28-.4 .29-.4 .29-.8 .29,2.5 .29-1.8 .28-.7 .29,2.4
l.29-1.9 .29,.3 .28,.3 .29-.9 .29-.4 .29,.1 .29-.7 .28,2 .29,.9 .29-1.1 .29-.5 .28-.7 .29,.5 .29,.8 .29-1.4 .28,.6
l.29,.2 .29,.3 .29-.5 .29-.1 .28,.4 .29,1.7 .29-1.1 .29-.9 .28-.8 .29,.2 .29,.1 .29-.5 .28,.8 .29-.5 .29,.2 .29,.6
l.29,.8 .28,.5 .29-1.5 .29,1.2 .29-.8 .28-.6 .29,1 .29-1.2 .29,.6 .29,.7 .28-1.1 .29-.1 .29,.9 .29-.7 .28,1.1 .29-.9
l.29-.1 .29,1 .28-.9 .29-.9 .29,1.5 .29,.3 .29,.2 .28-.5 .29,.3 .29,.4 .29-1.3 .28-.2 .29,1 .29-.8 .29-.6 .28,.4
l.29,.1 .29-.4 .29,1 .29-1.1 .28-.7 .29,1.8 .29,.8 .29-.8 .28,.2 .29-.9 .29-.7 .29,.5 .29-.9 .28,.9 .29,.3 .29,1.4
l.29-1.6 .28,.7 .29-.1 .29-.2 .29-1.3 .28,.5 .29,.6 .29,1 .29-.7 .29-.1 .28-.8 .29,.2 .29,0 .29,1 .28-1.3 .29-1.3
l.29,2.9 .29-.2 .28-.8 .29-.6 .29,.5 .29,.1 .29-1 .28,1.8 .29,.7 .29-.4 .29-1.6 .28-.2 .29,1 .29,.7 .29-.4 .29-.9
l.28-.4 .29,1.2 .29,.1 .29,.1 .28-.3 .29-.9 .29,.4 .29-.2 .28,.2 .29,0 .29,1 .29-.2 .29-1 .28,0 .29-.5 .29,.8 .29,.6
l.28-.5 .29,0 .29-.6 .29,.5 .28-.5 .29,0 .29,0 .29,0 .29,1.1 .28-1.6 .29-.3 .29,.5 .29-.5 .28,.8 .29,.7 .29-.8 .29,.4
l.29,0 .28-1.2 .29,1.7 .29-1.4 .29,1.2 .28,.8 .29-1.7 .29,.4 .29-.1 .28,0 .29-.6 .29,.5 .29,.4 .29-.1 .28-.4 .29,.7
l.29-.7 .29,1.7 .28-1.4 .29,0 .29-.6 .29,1.3 .28-.6 .29-.5 .29-1.7 .29,1.9 .29-.3 .28,.8 .29-1.9 .29,1.6 .29,0 .28-.2
l.29,1 .29-.2 .29-.5 .29,.3 .28-1.2 .29,1 .29-1.9 .29,1.4 .28,.6 .29-.6 .29-.4 .29,.5 .28-.3 .29,.5 .29,.4 .29-.5
l.29-1.3 .28,1.5 .29-.3 .29,1.1 .29-.7 .28-.6 .29,.4 .29-1 .29,.1 .28,1 .29-.3 .29-.5 .29,.2 .29,.5 .28,1 .29-2.2
l.29,.9 .29-.1 .28,.6 .29-1.5 .29,1.1 .29-.2 .29,1.5 .28-1.1 .29-.3 .29-.3 .29-.2 .28,.6 .29-.8 .29,.7 .29,.1 .28-.2
l.29,1.2 .29,.4 .29-2.8 .29,2.4 .28-.8 .29-.8 .29,.9 .29-1.3 .28,2.1 .29-1.4 .29-.3 .29-1.1 .28,.5 .29,1.5 .29-1.1
l.29,.4 .29,1 .28-.5 .29-1.1 .29,.9 .29,.5 .28-.3 .29,.5 .29,.2 .29-1.4 .29,0 .28-.4 .29,1.7 .29-.3 .29-1 .28,.2
l.29,.2 .29,.7 .29-.7 .28,.8 .29-2 .29,.5 .29,1.2 .29-1.6 .28,1.6 .29-1.1 .29,.3 .29,.3 .28-1.2 .29,2.1 .29-.9 .29,0
l.28,1 .29-.2 .29-1.2 .29-.1 .29,.9 .28-1.1 .29,.1 .29-.3 .29,.7 .28-.1 .29-.5 .29,.8 .29,.2 .29,.2 .28-1.1 .29-.6
l.29,2.1 .29-1.1 .28-.7 .29-.5 .29,.8 .29,.7 .28-1 .29-1.1 .29,1.3"/>
<path id="cu" stroke="#808080" stroke-width="5" d="M253.50,1391.2
l.29-5.5 .29,16.4 .28-12 .29-3.6 .29,2.3 .29,4.1 .28,2.6 .29,.9 .29,3.7 .29-4.3 .28,3.4 .29-5.7 .29,.5 .29,1.8 .29-1.1
l.28-2.5 .29,6.5 .29-9.7 .29,2.2 .28-2.2 .29,4.5 .29-.8 .29-1.9 .29,0 .28,2.4 .29-.4 .29,.9 .29-1 .28,1.8 .29,.1
l.29,.9 .29-12.3 .28,10.3 .29-3 .29,4.3 .29-5.9 .29-5.7 .28,9.8 .29-4.6 .29,1 .29-5 .28,4.7 .29,0 .29,.5 .29,8.6
l.28-15.2 .29-3.6 .29,12.6 .29-8.9 .29,4.3 .28-7.7 .29,10 .29-5.2 .29-4.7 .28,3.8 .29,1.6 .29,1.1 .29,2.7 .29-4
l.28,5.5 .29-13.7 .29,5.5 .29,3.4 .28,6.8 .29-13.3 .29-1.7 .29,4.4 .28-2.4 .29-.2 .29,4.5 .29,1 .29-2.1 .28-6 .29,9.2
l.29,4.9 .29-8.8 .28-.1 .29,.9 .29-1.6 .29,6.8 .28-1.8 .29-2.5 .29-1.8 .29-3.1 .29-1.3 .28,2.6 .29,1.6 .29,4.1 .29-2.7
l.28,5.4 .29-4.5 .29-5.9 .29-.9 .29,7.9 .28-11.3 .29,17.9 .29-14.9 .29,2.5 .28,.7 .29-3 .29,4 .29-13.8 .28,13.7
l.29-.8 .29-3.4 .29,11.5 .29-9.6 .28,6.4 .29-14.3 .29,9.3 .29-2 .28,8.3 .29-18.6 .29,18.1 .29-1.5 .28-3.9 .29,7.7
l.29-4.9 .29-4.8 .29-7.8 .28-.4 .29,11.6 .29-3.2 .29-6.6 .28-2.8 .29,10.3 .29-3.1 .29-1.5 .29-.9 .28,1.9 .29-10.8
l.29,10.3 .29-7.6 .28,3.3 .29-15.8 .29,10.5 .29,17.6 .28-13.6 .29,13.9 .29-17.9 .29,8.5 .29,9.3 .28-5.9 .29-3.6
l.29-9.5 .29,6.9 .28-2.2 .29,6 .29-1.1 .29,5.2 .28-5.8 .29-.8 .29-1.2 .29,4 .29-3.3 .28,1.1 .29-3.8 .29,4.6 .29-.3
l.28,1.4 .29-1.1 .29-2.3 .29,3.8 .29-12.1 .28,1 .29,3.4 .29-2.3 .29,10.4 .28-3.2 .29-1 .29-3.9 .29-3.2 .28-.4 .29,12.2
l.29-7.7 .29-6.4 .29,7.2 .28-4 .29,11.4 .29-9.4 .29,1.5 .28,9.2 .29-15.1 .29-3.2 .29,2.8 .28,6.1 .29-1.3 .29,2.7
l.29-6.9 .29,.6 .28-5.3 .29,7.5 .29-5.1 .29,6.1 .28,2.4 .29-3.9 .29,4.5 .29-.1 .29-8.8 .28,.1 .29,7.9 .29,.5 .29-3.9
l.28,2.9 .29-8 .29,5.5 .29,5.2 .28-2.6 .29-6.9 .29-9 .29,8.2 .29,10.1 .28-2.6 .29-5.9 .29,1.7 .29-1.9 .28-10.1 .29,16.3
l.29-.4 .29-5.2 .28-.5 .29-1.1 .29-3.5 .29,4.5 .29-6 .28,4.6 .29-1.2 .29,11.3 .29-4.7 .28-2.8 .29-5.7 .29,6.9 .29,1.6
l.29-1.2 .28-13.5 .29,17.2 .29-9.4 .29,.9 .28-7.7 .29,3.9 .29,5.4 .29-6.5 .28-2.5 .29,8.8 .29,7 .29-2.7 .29-6.8
l.28,5.7 .29-6.4 .29-5.5 .29,4.9 .28-10.9 .29,12.5 .29,5.8 .29-7.8 .28-4.4 .29,12.8 .29-10.2 .29-6.6 .29,7.7 .28-8.8
l.29,18 .29-11.4 .29,12.1 .28,.3 .29-1.6 .29-13.8 .29,4 .29-6.1 .28,12.2 .29,4.5 .29-14 .29,8.4 .28,4.4 .29-12.6
l.29-1.6 .29,9.9 .28-5.2 .29-2.3 .29,8.1 .29-.8 .29-6.1 .28-7.6 .29,14.3 .29-9.9 .29,1.1 .28,2 .29,2.1 .29,3.4 .29-8.4
l.28,4.2 .29,13.1 .29-15.7 .29,6.1 .29-3.7 .28-12.2 .29,9.3 .29,13.4 .29-9.2 .28,3.9 .29-12.1 .29,24.1 .29-21.9
l.29,2.9 .28,2.1 .29-4.4 .29-7.9 .29,20.5 .28-7.6 .29-2.9 .29-.4 .29,1.5 .28-4.2 .29,1.8 .29,3.1 .29,8 .29-14.5
l.28-4.6 .29,1.5 .29,4.2 .29-4.5 .28,15.1 .29-13.1 .29,2.5 .29,2.2 .28-6.9 .29,7.3 .29,1.1 .29,3.5 .29,4.6 .28-7.9
l.29-12.6 .29-.7 .29,13.9 .28-4.4 .29-7.9 .29,14.5 .29-3.3 .29,5.4 .28-17.3 .29,12.7 .29-1.6 .29-1.9 .28,4.6 .29-19.6
l.29,7.9 .29-5.6 .28,23.8 .29-16.3 .29,5.3 .29,5.4 .29-7 .28-8.9 .29,2.4 .29,9.6 .29-22.9 .28,13.2 .29,11.2 .29,.1
l.29-1.3 .28-3.3 .29,2.5 .29,.6 .29-9.3 .29,9.2 .28-4.6 .29,4.3 .29-2.2 .29-8.4 .28,6.6 .29-4.4 .29,4.9 .29-7 .29,6.7
l.28-6.9 .29,14.1 .29-14 .29,3.8 .28,8 .29-1.5 .29,7.7 .29-10 .28-2.6 .29,4.2 .29-9.2 .29,18.7 .29-11.3 .28,6 .29-4.2
l.29-7.9 .29,5 .28-8.7 .29,10.7 .29,1.8 .29-2.2 .28,7 .29-3.5 .29-4.6 .29-5.8 .29,11.3 .28-.5 .29,4 .29-1 .29-7.7
l.28-.5 .29-1.6 .29,3.5 .29-7.7 .29,16.3 .28-9.9 .29-3.9 .29,5.7 .29-4.5 .28,3.9 .29,.9 .29-3.1 .29,4.7 .28-3.6
l.29-3.7 .29,9.9 .29-10.3 .29-2.8 .28-2.8 .29,11.4 .29-8.4 .29,17.3 .28-2.7 .29-8.3 .29,6.9 .29-.9 .28,.5 .29-4
l.29,2 .29,1.8 .29-5.2 .28,2.8 .29-3 .29-1.7 .29-1.3 .28,4.4 .29,1.3 .29,0 .29,3.9 .29-8.8 .28,3 .29-6.3 .29,4.3
l.29,4.6 .28-7.6 .29,6.6 .29-1.2 .29-3 .28,1.3 .29,5.8 .29-8.2 .29,1.8 .29,2.4 .28,1 .29-2.4 .29,9.9 .29-15.8 .28,21.5
l.29-8.2 .29-.1 .29-7.7 .28,2.1 .29-1.7 .29,8.9 .29-13.5 .29,1.7 .28,17 .29-12.8 .29,12.1 .29-7.7 .28-6.2 .29,3.1
l.29,7.6 .29-3.8 .29-9.5 .28,5.2 .29-3 .29,13.6 .29-12.3 .28,1.9 .29,6.5 .29-13.2 .29,8.2 .28-5.1 .29,7.8 .29-5
l.29-.6 .29,3.6 .28-1.1 .29-1.1 .29,2.3 .29,6.6 .28-8.8 .29,2.6 .29-2 .29,6 .28-12.9 .29,3.5 .29-2.5 .29-2.7 .29,4.9
l.28,7.3 .29,5.5 .29-13.3 .29,4.9 .28-3.1 .29-2.6 .29,8.4 .29,4.3 .29-7.3 .28,4.8 .29,2.3 .29-6.6 .29,3.5 .28-4
l.29,8.9 .29-5.3 .29,.9 .28-1.2 .29,3.3 .29-6.8 .29,11.7 .29-10.3 .28-3.5 .29,6.2 .29-.4 .29,4.8 .28-5.5 .29-.9
l.29,1.6 .29-1 .28-.8 .29,1.8 .29,11.4 .29-3.7 .29-5.4 .28-12.2 .29,6 .29,6.1 .29,1 .28,1.5 .29-5.5 .29,5 .29-1.8
l.29,5.2 .28-2.3 .29,3.2 .29-1 .29-2.2 .28-8.1 .29,4.6 .29-3.6 .29,8.3 .28-3.9 .29,4.9 .29-2.1 .29,0 .29,8.1 .28-8.9
l.29,6.9 .29-8.9 .29,6.2 .28,5.1 .29-1.8 .29-1.5 .29-12.2 .28,14.6 .29-4.5 .29-2.8 .29,2 .29-.4 .28-3.9 .29,7.7
l.29-12.9 .29,2.2 .28,6.3 .29-5.9 .29,6.7 .29,3.1 .29,4.3 .28-2.6 .29-6.4 .29,1.5 .29-6.5 .28,.3 .29,3.8 .29,4.2
l.29-8.5 .28,9.8 .29,12.7 .29-11.1 .29-3.6 .29-.4 .28,.2 .29-.9 .29,18 .29-25.5 .28,9.4 .29,2.7 .29,10.9 .29-14.4
l.28,10.1 .29,5.3 .29-13.4 .29,.5 .29,3.8 .28,4.3 .29-6.7 .29,2.1 .29-1.2 .28-.1 .29,10.3 .29-10 .29,9.3 .29-8.8
l.28,4.7 .29,.9 .29-11 .29,7.7 .28,.4 .29-2.8 .29-7.1 .29,26.7 .28-17.5 .29,2.7 .29-5.5 .29,6.1 .29,.7 .28-3.2 .29,3.6
l.29,4.7 .29-4.5 .28-9.4 .29,7 .29,15.4 .29-11.1 .28,4.7 .29-9.7 .29,11.2 .29-5.3 .29-2.8 .28-1.4 .29,7.9 .29-4.4
l.29-10.2 .28,15.7 .29-3.4 .29,5 .29-3.3 .29-3.3 .28,2.6 .29-2.9 .29,10.5 .29-7.2 .28,2.7 .29,13.7 .29-20.5 .29,5.5
l.28,4 .29-8.4 .29,3 .29,15.5 .29-14.5 .28-9.9 .29,11.3 .29-2.5 .29,13.5 .28-.3 .29-.3 .29-12.9 .29,1.1 .28,18.3
l.29-17.5 .29,16 .29-3.3 .29-6.5 .28,3.4 .29-3.1 .29-1 .29-4.7 .28,8.9 .29,1.3 .29,.6 .29-16.2 .29,6.8 .28,.1 .29,3.6
l.29,2 .29-5.9 .28,8.2 .29,7.8 .29,.8 .29-21.3 .28,19 .29-1.6 .29-2.4 .29-6.1 .29,11.7 .28-4.4 .29-2.8 .29,9 .29-6.8
l.28-5 .29,4.7 .29,1.1 .29-1.8 .28,3.2 .29,2.3 .29,.8 .29-6.8 .29,13.2 .28-2 .29-10.1 .29-1.8 .29,6 .28,5.2 .29,4.3
l.29-11.2 .29,2.5 .29-.5 .28-.1 .29,7.9 .29-1.2 .29-3.1 .28,.7 .29,7.8 .29-1.7 .29-5.1 .28-7.9 .29-4.9 .29,11.3
l.29,3.3 .29-3 .28,1.5 .29,5 .29,12.5 .29-17.3 .28,4.4 .29-2.7 .29,5 .29-3.1 .28-2.2 .29,7.9 .29-3 .29-6.6 .29-.6
l.28,13.3 .29-13 .29-2.3 .29,4.7 .28,0 .29,1.9 .29-1.1 .29,4.6 .29-8.7 .28,6.9 .29,7.5 .29-9.8 .29-1.6 .28,2.7 .29,7.4
l.29-8 .29,18 .28-22.9 .29,6 .29,12.2 .29,1.6 .29-22.2 .28,11 .29,5.1 .29-5.1 .29,3.1 .28,.1 .29-2.3 .29,.3 .29,7.1
l.28-6.6 .29,.7 .29,6.2 .29-9.5 .29,2.3 .28,8.1 .29-13.9 .29,6.4 .29-3.9 .28,10.9 .29-1.1 .29-2.9 .29,3.8 .29-1.6
l.28,6.3 .29-17 .29,7.8 .29-3.7 .28-1.9 .29,9.1 .29-9.9 .29,21.8 .28-9.5 .29,1.1 .29-2.2 .29,5.7 .29-9.8 .28-5.2
l.29,8.9 .29-1.6 .29,13.9 .28-6.8 .29-5.4 .29,5.5 .29-4.6 .28,3.7 .29-3.5 .29,8.8 .29-9.1 .29-4.3 .28,3.8 .29-6.7
l.29,11 .29-4.5 .28,10.9 .29-10.9 .29,2.5 .29,3.9 .29-6.6 .28,11.4 .29-4.1 .29-2.5 .29,6.6 .28,.1 .29-9.4 .29,6.8
l.29,3.5 .28-2.4 .29,.7 .29,1.1 .29-5.1 .29,7 .28,2.3 .29-7.2 .29,.9 .29-6.1 .28,12.5 .29-3.4 .29-7.4 .29,3.5 .28,4.6
l.29,1.5 .29-7 .29,3.7 .29,4 .28-1.6 .29,0 .29-6.1 .29,16.8 .28-9.2 .29-8.3 .29,14.1 .29-6.5 .29-5.1 .28,10.5 .29-3.4
l.29,1.7 .29-4.7 .28,4.2 .29,2.1 .29-5.2 .29-.4 .28-4.1 .29,7.4 .29-.9 .29,2.2 .29-8 .28,0 .29,9.7 .29,6.4 .29-18.8
l.28,18 .29-.3 .29-5.4 .29-11.3 .28,3.9 .29,6.6 .29-4.2 .29,4.2 .29-5.8 .28,7.5 .29-9.3 .29,5 .29,5.5 .28,5.6 .29-13.2
l.29,3.2 .29,7.1 .29,0 .28-1.7 .29-.5 .29-.6 .29-.5 .28,.1 .29,2.9 .29-12 .29,11 .28,2 .29-5.4 .29,6.8 .29-5.9 .29,1.6
l.28-3.9 .29,9.4 .29,4.4 .29-13.9 .28,6.5 .29-8.7 .29,4.9 .29,5.6 .28-3.5 .29,7.1 .29-.7 .29-4.3 .29-.3 .28,8.4
l.29-11 .29,1.3 .29-2.2 .28,11.6 .29-9.1 .29,5.6 .29-.4 .29-6.8 .28,4.7 .29-2.1 .29-1.3 .29-.9 .28,9.4 .29,.3 .29-5.7
l.29-.7 .28,5.9 .29-4.9 .29,5.8 .29-2.4 .29-.6 .28-1.3 .29-1.9 .29,4.6 .29-2.1 .28,4.6 .29-6.9 .29,.9 .29,5 .28-10.7
l.29,8.9 .29,1 .29,.8 .29-3.4 .28,1.2 .29,3.6 .29-4.8 .29-2.3 .28-1.7 .29,4.1 .29,3.9 .29,2 .29-5.5 .28-3 .29-4.1
l.29,11.3 .29,3.5 .28-.3 .29-5.6 .29-1.2 .29,6.3 .28,2.2 .29,3.4 .29-11.3 .29,10.1 .29-8.9 .28,3.5 .29,8 .29-3.3
l.29-9.1 .28,4.5 .29,1.2 .29-6.1 .29,5.6 .28-.4 .29,.1 .29,.3 .29-4.2 .29,7.2 .28-6.9 .29-1.7 .29,9 .29-4.1 .28,7.2
l.29-5.2 .29-4.8 .29,1.4 .29,6 .28-4.1 .29,.5 .29,1.8 .29,0 .28-7.6 .29,19.8 .29-8.5 .29-6.2 .28,4.4 .29-1.8 .29,.3
l.29,2.5 .29-.9 .28,3.4 .29-3 .29-3.2 .29-.9 .28,2.2 .29,3.5 .29,.7 .29,5.7 .28-6.2 .29,3.4 .29-1 .29-1.3 .29-1.6
l.28-.2 .29,.7 .29,4.9 .29-2.6 .28-4.7 .29,3.5 .29-2.1 .29,1.6 .29-5.9 .28-.6 .29-3.7 .29,12.5 .29-4.9 .28,9 .29-8.4
l.29,1.2 .29,3.7 .28-7.6 .29,5.5 .29,7.3 .29-12.6 .29,6 .28-2.9 .29,6.2 .29,.6 .29,2.1 .28-.5 .29-7.4 .29,.9 .29,9.2
l.28-6.7 .29,.1 .29,3.4 .29-4.2 .29,4.6 .28-7.1 .29,5.3 .29-1.7 .29,15.3 .28-12.2 .29-1.9 .29,2.9 .29-1.6 .29,3.2
l.28-7.4 .29,8 .29-2.8 .29-7.1 .28,1.3 .29,5 .29,5.3 .29,2.8 .28-9.5 .29,.9 .29,2.2 .29,.2 .29-9.9 .28,5.2 .29,3.7
l.29,1 .29,.6 .28-2.7 .29,2.6 .29-1.4 .29,2.3 .28-4.8 .29,2.2 .29,5.8 .29-16.5 .29,10.8 .28,3.2 .29,3.2 .29-5.3
l.29,3 .28-9.4 .29,4.9 .29,4.7 .29,4.9 .29-10.5 .28,10.3 .29-8.8 .29,1.6 .29,12 .28-10.2 .29-7.7 .29,10.6 .29,5.7
l.28-2.2 .29-6.5 .29-1.5 .29-2.1 .29,2.4 .28,5.1 .29-2 .29-.7 .29-.2 .28,4.6 .29-7.7 .29-1.8 .29,5.1 .28-1 .29,5.9
l.29-6 .29,4.3 .29,.4 .28-6.9 .29,2.9 .29,2.6 .29,4.9 .28-6.8 .29-6.6 .29,5.5 .29,.5 .29-4 .28-3.6 .29,6.3 .29-1.8
l.29,3.5 .28-1.1 .29,.2 .29-2.6 .29,6.5 .28-3.1 .29,.1 .29,1.7 .29,2.2 .29-5.8 .28,5 .29,4.9 .29-9.2 .29,8.9 .28-9
l.29,13.6 .29-10.3 .29-7.3 .28,8.4 .29-5.6 .29,6.5 .29,1.6 .29-1.9 .28-5 .29-1.3 .29-.5 .29,2.3 .28,3.9 .29,8.2
l.29-5.1 .29-9.2 .29,12.9 .28-8.5 .29,.4 .29,8.7 .29-8.2 .28,3.1 .29-2.3 .29,1.4 .29,.5 .28,3 .29,4.5 .29-15.4 .29,10.9
l.29-2.4 .28,.6 .29-.3 .29,2 .29-5.3 .28,2.4 .29,2 .29,.6 .29-4.5 .28,5.9 .29-5.9 .29-3.2 .29,1.2 .29,2.1 .28,9.2
l.29-9.8 .29,2 .29-4.5 .28,7.9 .29-.3 .29-7.8 .29,9.3 .29-7.9 .28,3.4 .29,11.5 .29-8.1 .29,.1 .28,3.7 .29,2.3 .29-7.9
l.29,4.6 .28-1.4 .29,1.2 .29-2.8 .29-3 .29-1.1 .28,1.2 .29,3.7 .29-.8 .29-2.9 .28-2.7 .29,5.5 .29,5 .29-6.4 .28-1.3
l.29,4.5 .29-6.7 .29,6.9 .29-1.9 .28-1.5 .29-4.9 .29,11.4 .29-6.9 .28-1 .29,3.8 .29-4.7 .29,7 .29,2.1 .28,.4 .29-2.2
l.29,1.7 .29-6.5 .28,2.1 .29,6 .29-12.3 .29,5.5 .28,7.8 .29,.9 .29-7.8 .29-5.2 .29,6.9 .28-5.2 .29-2.7 .29,3.8 .29,4.3
l.28,4.1 .29-2.6 .29-8.1 .29,5.4 .28,4.2 .29-2.4 .29-.8 .29-5.4 .29,7.1 .28-10 .29,6.7 .29-.5 .29,6.1 .28-6.2 .29,.7
l.29-1.9 .29,5.9 .29-3.7 .28,7.2 .29-2.1 .29-13.6 .29,11.4 .28,1.4 .29-6.8 .29,4.4 .29-11.4 .28,10.5 .29-2.6 .29,4
l.29-5.7 .29,4.6 .28-11 .29,14.1 .29-4.7 .29-1.1 .28,7.7 .29-2.5 .29,1.1 .29,3.7 .28-8.1 .29,13.1 .29-6.4 .29-.6
l.29-5.8 .28,1.8 .29-4.8 .29-.7 .29,4.3 .28,4.7 .29-6.9 .29,6 .29-1.7 .29-1.4 .28-6 .29-4.8 .29,5.9 .29,7 .28-5.8
l.29-1.4 .29,8.8 .29-4.2 .28,3.4 .29-.2 .29-2.9 .29-.2 .29,3.8 .28-3.2 .29,5.1 .29-4.3 .29-1.3 .28,2.6 .29,4.3 .29-3.1
l.29-4.7 .28-2.3 .29,.1 .29-.3 .29-2.9 .29,8.9 .28-6.4 .29,7.9 .29-10.3 .29,3.1 .28,8.1 .29-6.9 .29-1.3 .29,7.4
l.29-4.6 .28-2.2 .29-4 .29,9.8 .29-8.5 .28,10.3 .29-.7 .29-8.8 .29,2.4 .28,6.2 .29-9.3 .29,4.1 .29,1.3 .29,1.9 .28,9.4
l.29-10.5 .29-3.8 .29,4 .28-3.1 .29,3.3 .29-6 .29,17.4 .28-13.7 .29,5.7 .29-4.6 .29-1.8 .29-2.1 .28,1.4 .29-1.6
l.29,9 .29-4.6 .28,9.4 .29-10.2 .29,8 .29-11 .29,3.5 .28,2 .29,1.5 .29-3.4 .29,3.2 .28,3.3 .29-7.4 .29,5.1 .29-5.4
l.28,5.8 .29,1 .29-14 .29,6.7 .29-2.5 .28,5.9 .29-.9 .29-.1 .29-8.1 .28,5.3 .29,2.3 .29,.5 .29-.4 .28-4.1 .29,4.1
l.29-.1 .29-5.3 .29,1.5 .28,.7 .29-4.8 .29,8.4 .29,4.1 .28,2 .29-6.3 .29-1.3 .29-3 .29,9.8 .28-.4 .29-4.6 .29,.3
l.29,4.6 .28-5 .29-3.6 .29,3.8 .29-10.5 .28,6.5 .29,6.3 .29-2.4 .29,4.9 .29-14.6 .28,9.9 .29,.1 .29-4.2 .29,4.3
l.28,1.3 .29-2.4 .29-4.5 .29,0 .28,9.8 .29,1 .29-8.5 .29,3.1 .29,.6 .28-6.3 .29,2.5 .29,3.9 .29-4.7 .28,5.6 .29-1
l.29-9.8 .29,8.6 .29-3.2 .28,3.3 .29,.2 .29,3.2 .29,.1 .28-9.9 .29-3.9 .29,6.2 .29,.3 .28,4.6 .29-2 .29-6.5 .29-4.5
l.29,7.7 .28,1.2 .29-2.9 .29,3.9 .29,3.7 .28,.5 .29-2.6 .29,.5 .29,8.1 .28-2.4 .29-10.7 .29-.7 .29,.6 .29,4.3 .28,1.8
l.29-2.7 .29-1.5 .29,3.3 .28-6.5 .29,7.3 .29,6.8 .29-12.5 .29-1 .28,4.4 .29-5 .29-.7 .29,15.5 .28-12.3 .29,6.6 .29-7.9
l.29,1.8 .28-2.4 .29,4.5 .29,1.3 .29-3.6 .29-9 .28,8.2 .29,6.1 .29-4.2 .29,.9 .28-6.4 .29,4.7 .29,1.8 .29-2.1 .28,3.7
l.29-5 .29,6.5 .29-2.7 .29-2.8 .28,6.5 .29-.1 .29-2.4 .29-9.3 .28,2.5 .29,3.2 .29-4 .29,.6 .29,6 .28,2.1 .29-9.7
l.29,7.7 .29-5.4 .28,9.1 .29-6.2 .29,4.8 .29-7.9 .28-.5 .29,1.5 .29-1.7 .29,5.5 .29-4 .28-.8 .29,6.1 .29-6.2 .29,1.3
l.28-.8 .29,2.9 .29-.8 .29-2.3 .28,1.5 .29-1.9 .29,7.9 .29-9.6 .29,7.2 .28-7.7 .29,10.4 .29-3.5 .29-3.7 .28-.7 .29,3.6
l.29,1.8 .29-6.4 .29-1.8 .28,8 .29,1.3 .29-2.6 .29-2 .28,6.8 .29-3.1 .29-7.1 .29,6 .28,.1 .29-9.8 .29,1.7 .29-2.5
l.29,7 .28,.5 .29,1.1 .29,4.3 .29,2.7 .28-8.6 .29,2.9 .29-6 .29-1.4 .28,10.4 .29-.7 .29-6.8 .29-5 .29-.7 .28,9.3
l.29-3.2 .29-5.8 .29,9.1 .28,1 .29-9.9 .29,8.6 .29,2 .29-11.8 .28,8.4 .29-.1 .29-4.2 .29-4 .28,2.9 .29,2.3 .29-.8
l.29-.1 .28,.5 .29,8.4 .29-8.6 .29,6.9 .29-2.6 .28-3.7 .29,1 .29-2.1 .29,1.6 .28-2.2 .29-5.7 .29,12.3 .29-9.3 .28-3.2
l.29,9.5 .29-.3 .29-1.1 .29-2.5 .28,4.9 .29-1.5 .29-1.4 .29-.5 .28-5.7 .29,8 .29-5.6 .29,.1 .29,2.4 .28,.2 .29,4
l.29-.5 .29-4.6 .28,.5 .29,2 .29-6 .29,4.3 .28,.2 .29,.9 .29-5.2 .29,2.1 .29,1 .28,6.6 .29-12.4 .29,12.9 .29-7.6
l.28,6.6 .29,1.6 .29,6.9 .29-13.9 .28-.7 .29,2.8 .29,.5 .29,3.7 .29-5.5 .28,1 .29,5.1 .29-4.3 .29-.6 .28,3.3 .29-9.4
l.29,10.1 .29-13.7 .29,3.3 .28,6.8 .29-8.9 .29,2.1 .29-.5 .28,4.4 .29,4.9 .29,4.7 .29-10.1 .28,1.7 .29,1.9 .29-11.2
l.29,6.6 .29,8.4 .28-5.8 .29-2.8 .29,7.4 .29-6.2 .28,2.4 .29,4.8 .29-8 .29-1.2 .28,13.8 .29-12.8 .29,4.2 .29-1 .29,5.6
l.28-2.9 .29-11.6 .29,4.4 .29,3.7 .28-1.1 .29,3.8 .29-2.9 .29,3 .29-4.7 .28,5.8 .29-5.5 .29-2.5 .29,4.6 .28-2.2
l.29-.3 .29,3.4 .29,3.6 .28-10.4 .29,4.1 .29,1.6 .29-6.6 .29,8.8 .28-1.4 .29,.8 .29,1.4 .29-3.8 .28,2.1 .29-8.6
l.29,8.7 .29-8 .28,8.9 .29-2.4 .29-1.5 .29,3.8 .29-6.5 .28,5.3 .29,.3 .29-5.7 .29,6 .28-5.8 .29-1.8 .29,1.1 .29-2.6
l.29,7.6 .28-6.9 .29,7.4 .29,4.7 .29-6.2 .28-8.9 .29,12.3 .29-11.6 .29,13.4 .28-9.7 .29,1.7 .29,3.9 .29,7.6 .29-12.3
l.28,.1 .29,.6 .29-2 .29,7.5 .28-11.8 .29,4.6 .29,7 .29-12.4 .28,9 .29-1.8 .29-1.6 .29,7.1 .29,.1 .28-3.1 .29,4.2
l.29-4 .29-6.7 .28,10.6 .29-5.1 .29,2.7 .29-5.9 .29,8.4 .28-.2 .29-3.9 .29-9.2 .29,12.5 .28,3.2 .29-3 .29-7.2 .29-.9
l.28,4.2 .29-1.4 .29,7 .29-7.6 .29,2.4 .28,1.9 .29-6.8 .29-.2 .29,6.4 .28-3 .29,9 .29-3.6 .29-9.9 .28,10.2 .29-.9
l.29-8.6 .29,14.4 .29-6.8 .28-6 .29,5 .29,1.7 .29,.8 .28-5.3 .29,4.8 .29-5.3 .29,1.9 .29-.7 .28-4.6 .29,6.6 .29,1.9
l.29-3.9 .28-1.2 .29,1.9 .29,6.3 .29-10 .28,10.2 .29,.9 .29-12.3 .29-2.4 .29,7.5 .28,2.3 .29-9.3 .29,11.3 .29-5.5
l.28,2.3 .29-4.9 .29,1.1 .29,4.6 .28-8 .29,1.6 .29,3 .29,1.2 .29-.9 .28,5 .29-4.4 .29,.1 .29-3.4 .28,3.1 .29,.9
l.29-2.8 .29-3 .29,1.6 .28,2.9 .29,1.3 .29-7.6 .29,5.7 .28,5.1 .29-6 .29,8.3 .29-5.2 .28-5 .29,3.4 .29,.7 .29-4.5
l.29-1.9 .28,9 .29,.7 .29-1.8 .29,1.7 .28-6.7 .29-1.2 .29,3.5 .29,4.1 .28,2.1 .29-5.9 .29,2.6 .29-5.2 .29,7.2 .28-3
l.29-.7 .29-6 .29,1 .28,1.2 .29,1.1 .29-2 .29,10.4 .29-11.4 .28,4.8 .29-7.3 .29,2.4 .29-1.3 .28,7.9 .29-15.1 .29,9.7
l.29,1.1 .28,3.6 .29-3.9 .29,10.3 .29-14.5 .29,3.5 .28,2.2 .29-6 .29,3.5 .29,.3 .28,4 .29-3.6 .29,6.3 .29-.2 .28-5.4
l.29,3.1 .29,3.1 .29-4.9 .29,6.9 .28-14.4 .29,10.4 .29-.1 .29-10.3 .28,12.8 .29,3 .29-9.3 .29,1.1 .29-5.5 .28,4.5
l.29,6.5 .29-7.3 .29,1.5 .28-6.4 .29,4 .29,5.1 .29-1.1 .28-3 .29,1.8 .29-2.7 .29-.3 .29,6 .28-5.9 .29-2.6 .29,8.5
l.29,1 .28-9.4 .29,.8 .29-1.7 .29-3.5 .28,7.9 .29,3.8 .29-5.4 .29,3.7 .29-4.5 .28-1.6 .29,2.6 .29-2 .29,2.3 .28-1.2
l.29,5.9 .29-12.1 .29,9.9 .29-1.1 .28,1.1 .29-2 .29,.7 .29,6.5 .28-15.2 .29,4.9 .29,2.7 .29-1.2 .28-4.6 .29,.7 .29,2.2
l.29-2.7 .29,14.8 .28-14.8 .29,4.5 .29,2.2 .29,1.1 .28-4.9 .29,7.6 .29-8.9 .29,4.6 .28-6.6 .29,10.6 .29-9.4 .29,3.5
l.29,3 .28-10.5 .29,.5 .29,8.6 .29-2.9 .28-7.7 .29,5.8 .29,3 .29,1.2 .29-.9 .28-5.9 .29-1.7 .29,5.5 .29,2.8 .28-1.2
l.29,4.3 .29-9.9 .29,1.9 .28-4.9 .29-5.3 .29,3.9 .29,7.4 .29-.4 .28,4.1 .29,3.3 .29-17.4 .29,6.9 .28,7.7 .29-9.8
l.29,12.1 .29-8.4 .28-1.5 .29,3.2 .29-.7 .29-5.8 .29,5.6 .28-7.5 .29,12.8 .29-6.2 .29-9.5 .28,12 .29-.2 .29-4.7
l.29,2 .29-3.2 .28-3.4 .29,1.8 .29,1.4 .29,2.6 .28-2.8 .29-3.3 .29,7.9 .29-2.1 .28,3 .29-5.1 .29-.9 .29,3.1 .29,2.3
l.28-1.6 .29-6.5 .29,5.4 .29-6.4 .28,6.3 .29,.6 .29-7 .29,6.9 .28-8.8 .29,14.8 .29-10 .29,2.3 .29-.7 .28-3.1 .29,10
l.29-18.5 .29,11.3 .28-13.1 .29,7.2 .29,2.6 .29,7.8 .29-14.9 .28,4.7 .29-2.6 .29,12.3 .29,.9 .28-6.4 .29-4.3 .29-1.3
l.29-2.1 .28,9.4 .29,2 .29-9.6 .29,7.8 .29-4.5 .28-9.7 .29,11.1 .29-3.8 .29,.4 .28,1 .29-1.8 .29-.7 .29,1.8 .28-6.8
l.29,2.5 .29,8.8 .29-11.4 .29,5.8 .28,1.2 .29,2.7 .29-7.3 .29,3.6 .28,3.3 .29,0 .29-9.2 .29,6.6 .29,.1 .28-13.5
l.29,9.8 .29-1.7 .29,2.3 .28,.5 .29,4.2 .29-7.9 .29,1.7 .28,4.9 .29-3.5 .29-8.7 .29,6.5 .29,.9 .28,3 .29-.5 .29-5.3
l.29-1.7 .28,2.8 .29-3.5 .29,7.8 .29-2.1 .28-3.7 .29-3.9 .29,7.3 .29-6.8 .29,9.2 .28-10.3 .29-1.1 .29,7.2 .29-3.3
l.28-2 .29,6.3 .29-1.5 .29,0 .29-4.8 .28-1.9 .29,8.2 .29-1.1 .29-6.6 .28,5.7 .29-2.2 .29-5 .29,3.3 .28-4.8 .29,4.2
l.29,.7 .29,2.6 .29,6.7 .28-8.7 .29,6.4 .29-12.4 .29-.1 .28,1.2 .29-3.4 .29-4.9 .29,17.8 .28-7.8 .29-4.7 .29,4.7
l.29-.8 .29-5.9 .28,2.4 .29,8.6 .29-13.5 .29,10.4 .28-5.2 .29-1.9 .29,10.3 .29-16.2 .29,4.6 .28,1.1 .29-2.2 .29,4.5
l.29-4.7 .28,0 .29,13.2 .29-5 .29-10.5 .28,9.2 .29-7.9 .29,3.2 .29-4.6 .29,11.6 .28-9.4 .29,.3 .29-1.6 .29-.1 .28,.4
l.29-1.7 .29-.9 .29,4.7 .28-9.9 .29,6.5 .29,2.7 .29-6.5 .29,9.9 .28-12.5 .29,6.5 .29-2.3 .29-.2 .28-2.4 .29,5 .29-1.1
l.29-4.3 .29,4.3 .28-3 .29,.1 .29,.7 .29,1.3 .28,.3 .29-2.4 .29,3.5 .29-.7 .28-19.1 .29,12.5 .29-4.7 .29,2.6 .29-2.6
l.28,2.5 .29-4.7 .29,3.4 .29-.8 .28,6.9 .29-11.2 .29,5.3 .29-1.4 .28-2.6 .29,.3 .29,.8 .29-6.8 .29,9.9 .28,5.1 .29-8.9
l.29,9 .29-10.7 .28-7.7 .29-2 .29,12.4 .29-7.9 .29,7.3 .28-8.2 .29-5.9 .29,9.3 .29-11.4 .28,5.6 .29-12.5 .29,15.4
l.29,.8 .28-11.9 .29,1.3 .29,.8 .29,6.1 .29-5.5 .28,2.6 .29-11.4 .29,3.8 .29,5.7 .28,0 .29,2.3 .29-5.3 .29-4 .28-3.2
l.29-4.4 .29,7 .29-10.1 .29,16 .28-11.1 .29-5 .29,4.9 .29-5.2 .28-4.2 .29,6 .29-5.4 .29-6.1 .29,10.9 .28-13.8 .29,5.3
l.29,5.7 .29-11.4 .28-3.2 .29,2.9 .29-4.5 .29-2.5 .28,.5 .29-2.2 .29-5.8 .29-1.6 .29,2.3 .28,8.2 .29-5.3 .29-7.3
l.29-10.9 .28,1.2 .29-9.8 .29,4.9 .29-2.4 .28,1.5 .29-11.9 .29,12.1 .29-13.1 .29-.3 .28-1.1 .29-12.4 .29-2.1 .29-2.2
l.28,.3 .29,2.8 .29-5 .29,2.9 .29-12.3 .28-15.5 .29-12.3 .29,10.3 .29-21.1 .28-10.8 .29-1.6 .29-11.1 .29,3.9 .28-5
l.29-13.6 .29-13.7 .29-6.4 .29-8.5 .28-15.2 .29-.8 .29-23.6 .29,4.5 .28-36.7 .29-15.3 .29-22.4 .29,2.4 .28-21.1
l.29-17.6 .29-19.3 .29-18.5 .29-38.8 .28-19.5 .29-25 .29-19.5 .29-30.2 .28-26.9 .29-17.6 .29-19.6 .29-14.3 .29-12.8
l.28-7.1 .29-2.5 .29,2.4 .29,7.4 .28,11.3 .29,16.2 .29,19.4 .29,23 .28,23.9 .29,18.4 .29,23.3 .29,28.9 .29,24.5
l.28,25.2 .29,18.4 .29,14.2 .29,26.5 .28,23.8 .29,7.7 .29,18.3 .29,32 .28,5.9 .29,2.1 .29,18.2 .29,14.8 .29,7.7
l.28,20.9 .29,9.5 .29,2 .29,6.8 .28-2.1 .29,19 .29,4.2 .29-1.7 .29,20.5 .28,3.8 .29,3.5 .29,3.8 .29,5.7 .28,1.3
l.29,16.6 .29,5 .29-3.6 .28,13.5 .29-16.1 .29,18.2 .29,2 .29-3.8 .28,4.8 .29,1.6 .29,6.4 .29,10.4 .28-4.1 .29,5.4
l.29,8.5 .29-5.8 .28-5 .29,13.1 .29,1 .29,2.1 .29-6.7 .28,17.9 .29-12.5 .29,3.8 .29,2.8 .28,6.4 .29-2.2 .29-10.8
l.29,11 .29,4.9 .28-5.5 .29,12.9 .29-11.8 .29,8 .28-13.3 .29,2.9 .29,10 .29,2 .28,5.6 .29-4.3 .29,.2 .29,12.3 .29,1.8
l.28-10.2 .29,6.9 .29-3.1 .29,1.1 .28,.6 .29,3 .29-3.9 .29-3.6 .28-.3 .29,11.4 .29-1.9 .29,.8 .29,9.1 .28,.9 .29-6.9
l.29-2.5 .29-1 .28,8.1 .29-6.3 .29,4.6 .29,2.2 .29-7 .28,14.6 .29,3.7 .29-21.7 .29,10.8 .28-3.9 .29,5.1 .29,3.5
l.29,2.8 .28,3.8 .29-10 .29,6.9 .29-4.5 .29-1.6 .28,2.1 .29-.4 .29-6.9 .29,6.6 .28,.6 .29,2.4 .29-7.9 .29,1.1 .28,9.9
l.29-4.6 .29,3 .29,1.8 .29,2.7 .28-13.6 .29,6.7 .29,13.9 .29-16 .28-3.3 .29,8.7 .29,1.2 .29-.9 .29-3.7 .28,7.8 .29-4.6
l.29,10 .29-13.4 .28,12 .29-3.6 .29-3.8 .29-2.8 .28,9 .29,.1 .29-10.9 .29,11.1 .29,1.2 .28-1.4 .29-5.8 .29,.1 .29-1.3
l.28,3.1 .29,4.5 .29-4.2 .29-1.3 .28,9.8 .29-2.5 .29-2.7 .29-8.2 .29,10 .28-1.7 .29,.3 .29-1.4 .29-1.2 .28,8.6 .29,9.3
l.29-18 .29,14.7 .29-11.9 .28-.3 .29-1.3 .29,8.9 .29-6.6 .28-1.5 .29,.1 .29-2.6 .29,11.4 .28-2.2 .29-1 .29-.9 .29-5.1
l.29,1.2 .28,3.8 .29-7.9 .29,5.9 .29,9 .28-12 .29,13.1 .29,.1 .29-4 .28,.5 .29-1.5 .29-.4 .29,4.2 .29,0 .28-6.8
l.29,2.1 .29,2.8 .29,3.1 .28-3.9 .29,5.2 .29,1.7 .29-11.2 .29,1.8 .28,5.3 .29-9.4 .29,8.6 .29-3.5 .28,.9 .29,2.1
l.29,.1 .29-6.7 .28,3.2 .29,13.7 .29-11.8 .29,13.9 .29-5.5 .28-7.1 .29,7.6 .29-11.1 .29,8 .28-4.5 .29,1.6 .29-2.3
l.29-2.3 .28,13.7 .29-6.7 .29-1 .29-4 .29,2.6 .28,4.2 .29,5.4 .29,1.4 .29-3.2 .28-5.1 .29,.2 .29-6 .29,5.7 .29-2.2
l.28,10.7 .29-7.8 .29,3.8 .29,.6 .28-8.7 .29,6.2 .29,.5 .29-.2 .28,6.7 .29,1.4 .29-16.8 .29,9 .29,.5 .28-1 .29,3.5
l.29-.7 .29,2.9 .28-5.6 .29,2.5 .29-5.6 .29-2.3 .28,12.7 .29-8.2 .29,5.4 .29-12.2 .29,9.5 .28-3.6 .29,7.2 .29-8.3
l.29,9.7 .28,2.6 .29,5.9 .29-11.3 .29,1.8 .29-2.6 .28,5.4 .29-4.1 .29,.1 .29,5.2 .28-14.2 .29-1.3 .29,9.3 .29-1.1
l.28-.4 .29-.2 .29,7.3 .29-5 .29-7.1 .28,9.5 .29,.5 .29,3.3 .29-2.3 .28,8.5 .29-10 .29-5.2 .29,3.6 .28,.9 .29,.6
l.29,.1 .29,5.4 .29,4.1 .28-17.6 .29,6.5 .29,12.9 .29-17.9 .28,9.7 .29-6.4 .29,5.2 .29,2.7 .29-7 .28,5.8 .29,10.1
l.29-14.2 .29,3.2 .28,.1 .29,1.3 .29-3.4 .29-5.1 .28,2.5 .29,3.4 .29,1.1 .29,4.1 .29-11.8 .28,17.7 .29-4.3 .29-3.9
l.29-1.3 .28-.5 .29,3.3 .29-10.8 .29,3.2 .28,14.9 .29-4.3 .29,2.1 .29-13.1 .29,8.9 .28,5.4 .29-5.9 .29,4.9 .29-6.3
l.28-2.9 .29,8.7 .29-6.4 .29-.2 .29,4.9 .28-5.6 .29,5.5 .29-6.1 .29,3.9 .28,1.5 .29-8.6 .29,2 .29,6.2 .28,13.5 .29-15.9
l.29,3.7 .29-4.1 .29,1.9 .28,1.5 .29,.4 .29-8.1 .29-.3 .28,1 .29,11.5 .29-3.4 .29-2.5 .28,10 .29-13.9 .29,10.2 .29-9.6
l.29,7.3 .28-4.4 .29,10.2 .29,3.8 .29-8.1 .28,3 .29-.1 .29-3.9 .29-3.4 .29-2.4 .28,8.3 .29,2.8 .29-6.4 .29,4.7 .28,.8
l.29-3.5 .29-7.2 .29,4 .28,11.2 .29-18.9 .29,15.5 .29-6.9 .29,4.6 .28-8.2 .29,2.6 .29-3.6 .29,4.6 .28,1.8 .29-6.3
l.29,14.7 .29-2.8 .28,.8 .29-5.9 .29,1.6 .29,1.7 .29-7.3 .28,1 .29,4.8 .29,4.4 .29-16.6 .28,8.6 .29,4.2 .29-3.4
l.29-.8 .29,4.7 .28-6.5 .29,2.9 .29,2.9 .29-7.5 .28,7.4 .29-8.1 .29,5.5 .29,1.8 .28-6.6 .29,7.3 .29-4.3 .29-3.6
l.29,8 .28,1.2 .29-6.4 .29-.9 .29,14.8 .28-12.5 .29-2.8 .29,7.8 .29-7.1 .28,6.2 .29,1.5 .29-1.4 .29-4.9 .29,5.2
l.28,.9 .29-2.6 .29-3.6 .29,13.3 .28-14.5 .29-1.4 .29,11.5 .29-4.5 .29-2.3 .28,1.6 .29-8.1 .29,8.1 .29,3.3 .28-.7
l.29-3.4 .29,5.1 .29-.6 .28-.3 .29-10.2 .29,4.9 .29,8.4 .29-7.7 .28,14.7 .29-12.3 .29-2.9 .29,1.3 .28-.9 .29,1.6
l.29,4.1 .29-2.1 .28,.2 .29,5.7 .29-7.1 .29,4.9 .29-7.5 .28-7.5 .29,.6 .29-2.2 .29,14 .28,.2 .29-5 .29,7.2 .29-7.1
l.29,5.6 .28-4.1 .29,3.4 .29-9.1 .29,2 .28,1.6 .29,9.4 .29-11.2 .29,7.5 .28,4.3 .29-7.6 .29-3.4 .29,11.8 .29-10.5
l.28,4.7 .29-.1 .29-3.2 .29,3.8 .28,1.6 .29-8 .29,16.3 .29-15.9 .28,10.6 .29-11.5 .29,11 .29-11.7 .29,14.2 .28-16.1
l.29,7.5 .29,1.7 .29,.5 .28-6.2 .29,5.6 .29-3.6 .29,2.1 .29,5.7 .28-12.7 .29,8.5 .29-2.1 .29,.1 .28,1.2 .29-7.7
l.29,6 .29,3 .28-1.5 .29,1.8 .29,3.7 .29-10.3 .29,9.6 .28-10.1 .29,5.2 .29-3.3 .29,3.9 .28,1.3 .29-12 .29,12.3 .29,2.5
l.28-6.2 .29-4.4 .29,12.2 .29-3.4 .29-6.4 .28-.4 .29,1.7 .29,4.5 .29-2.9 .28,4.2 .29-5.3 .29,2 .29-1.3 .29,2.3 .28-4.2
l.29,2.9 .29,3.7 .29-9.9 .28,5.3 .29,2.4 .29-.6 .29-7.5 .28,6.3 .29-.9 .29,5 .29-2.2 .29,1.1 .28,1.2 .29,1 .29-3.3
l.29,4.3 .28-8.8 .29-.6 .29,7.5 .29-5.9 .28,5.1 .29-4.7 .29-.6 .29,9.6 .29,3.5 .28-13.4 .29,0 .29,2.2 .29,2.4 .28,.7
l.29,8.4 .29-18.1 .29,16.5 .29-11.3 .28,2 .29-2.5 .29,6.9 .29-1.8 .28-6 .29,7.1 .29-5.6 .29,6.2 .28-6.8 .29-1.5
l.29,1.9 .29-2.5 .29,7.6 .28-3 .29-.9 .29-8.2 .29,8.9 .28-2.8 .29-5.5 .29,4.4 .29-3.4 .28,8.7 .29-9.5 .29,4.3 .29-2.5
l.29-1 .28,11.7 .29-14.1 .29,6.8 .29-7.4 .28,6.3 .29-2.5 .29,7.8 .29-2.1 .29-10.3 .28,8.3 .29-5.3 .29,1.1 .29,4.6
l.28-4.5 .29-.7 .29-3.9 .29,4.3 .28,.6 .29-9.8 .29-.6 .29,5.8 .29,4.6 .28-7.1 .29,3.8 .29-9.5 .29,6.2 .28,2.3 .29-2.1
l.29,2.3 .29-4.7 .28,5.1 .29-7.7 .29-3.6 .29,.9 .29,5.9 .28-7 .29,3 .29,4.1 .29-7.3 .28-5.5 .29,2.2 .29,1.7 .29,.4
l.29-3.9 .28-3.6 .29,.2 .29-6.1 .29,.4 .28-2.3 .29,4.8 .29-5.1 .29,.4 .28-3.4 .29-1.3 .29-12.6 .29,16 .29-9.6 .28,2.2
l.29-6.7 .29-1.6 .29-9 .28,6 .29,0 .29-8.1 .29-2.8 .28,9.5 .29-24.7 .29,11.2 .29-17 .29-2.4 .28-5.2 .29,1.9 .29,.8
l.29-5.4 .28-16.6 .29,3.9 .29-10.9 .29-2.1 .29-5.5 .28-15.2 .29,2.6 .29-11.3 .29-7.5 .28-9.9 .29-6.9 .29-4.8 .29-10.2
l.28-8 .29-11.8 .29-3.6 .29-4.4 .29-4.8 .28-3.2 .29-2.2 .29-.6 .29,.8 .28,1 .29,4.9 .29,4.8 .29,6.5 .28,4.2 .29,9.7
l.29,8.2 .29,2 .29,5.8 .28,12.4 .29,14.4 .29,.3 .29,13.3 .28,2.5 .29,7 .29,14.8 .29-5 .29,10.9 .28,6.1 .29,11.1
l.29-6 .29,13.8 .28,.3 .29,10.3 .29,5.3 .29,3.9 .28,5.7 .29-3.1 .29-5.8 .29,4.5 .29,13 .28,2.4 .29-9.3 .29,6.4 .29,6.3
l.28,4.2 .29,2.2 .29,11.8 .29-6.6 .28-11.6 .29,4.3 .29,10.9 .29-3.6 .29,2.5 .28,7.2 .29,2.9 .29-.1 .29-2.4 .28-4.2
l.29,6.3 .29,2.3 .29,2.4 .29-6.1 .28-.9 .29,7.6 .29,3.2 .29-1.7 .28-.4 .29-1.9 .29,1.8 .29,8.9 .28-2.4 .29,2.1 .29-4.1
l.29,8.7 .29,3.8 .28-7.9 .29,3.2 .29,.3 .29-.8 .28,4.1 .29-4 .29,6 .29,.7 .28-7.2 .29,4.3 .29-6 .29,4.2 .29,4.9
l.28-.3 .29,2.5 .29-4.1 .29-2 .28,2.8 .29-.7 .29,5.6 .29-9.4 .29,3.2 .28-1.4 .29,9.7 .29-3.8 .29,2.7 .28-9.9 .29,8
l.29-10.5 .29,8.2 .28,4.8 .29-7.7 .29-1.9 .29,8.5 .29,2 .28-2 .29,5.1 .29-.3 .29,5 .28-6.7 .29,3.3 .29-6 .29-.4
l.28-3 .29,3.5 .29,2.3 .29-6.3 .29,8.7 .28,6.3 .29-3.1 .29-3.8 .29-4.1 .28-1.8 .29,8.8 .29-8.7 .29,3.1 .29-1 .28,7.2
l.29-3.2 .29,8.3 .29-9.4 .28,2.2 .29-4.5 .29-1.7 .29,8.8 .28-7.6 .29-.6 .29,5.8 .29-9 .29,11.4 .28,2.9 .29-6.1 .29-7.1
l.29,5.1 .28,9.8 .29-5.1 .29-7.3 .29,8.4 .28-2.3 .29,3.8 .29-12.7 .29,1.2 .29,12.8 .28,2.3 .29-10 .29,.7 .29,1.8
l.28-.4 .29,1.9 .29-5.1 .29,.3 .29-1.8 .28,1.8 .29,6.2 .29-.4 .29-.6 .28-1.6 .29,3.5 .29,.7 .29-2.4 .28,.9 .29-1.3
l.29-7.2 .29,1.2 .29,7.8 .28-2.4 .29,1.7 .29,2.5 .29-5.8 .28,10.6 .29-9 .29,2.3 .29,4.1 .28-7.2 .29-1.9 .29,3.1
l.29-.7 .29,5.6 .28-5.5 .29-4.3 .29,11 .29-14 .28,16.9 .29-11.2 .29,6.4 .29-3.4 .29,1 .28-.1 .29-4.1 .29,5.5 .29-2
l.28-4.1 .29,5.6 .29,8.5 .29-6.7 .28,.2 .29,1.4 .29-6.4 .29,2.4 .29,3.7 .28-.9 .29,3.8 .29-3.8 .29-10.2 .28,15.2
l.29-15.2 .29,8.3 .29,.7 .28,1.6 .29,2.9 .29-7.8 .29,4 .29,1.5 .28-2.5 .29-6.7 .29,8.5 .29-1.2 .28-6.3 .29,10 .29-7.9
l.29-6.6 .29,10.4 .28,6.9 .29-11 .29,5.4 .29-6.9 .28,3.5 .29,1 .29,4.9 .29-8.6 .28,3 .29,.1 .29-.1 .29,0 .29,1.1
l.28,1.2 .29,6.6 .29-4.4 .29-.9 .28-6.2 .29,.2 .29,8.6 .29-1.9 .28,.5 .29-3.9 .29,.1 .29-1.3 .29,5.4 .28-1.4 .29-10.1
l.29,13.5 .29-10.9 .28,2.9 .29-.7 .29,3.4 .29,.5 .29-3.2 .28,3.9 .29-.4 .29,1 .29-2.8 .28,2.1 .29,.9 .29-3.8 .29,1.8
l.28,6.2 .29-5.1 .29-6 .29,4.1 .29-4.7 .28,13.5 .29-8.6 .29,9.8 .29-10.7 .28,5.3 .29-1.9 .29-2.6 .29,5.4 .28-.5
l.29-1.3 .29-4.6 .29-2.6 .29,8.9 .28,.7 .29-4 .29,5.3 .29,.7 .28-7.8 .29,4.3 .29-8.6 .29,10.4 .29-10.1 .28,1.2 .29,6.4
l.29-2.1 .29,12 .28-12.2 .29,.8 .29,3.7 .29-9 .28,15.6 .29-12.8 .29,2.7 .29-.6 .29,7.1 .28-8.8 .29,4.8 .29-2.8 .29-3.1
l.28,7.4 .29,8.2 .29-13.2 .29,.5 .28,2 .29,1.7 .29,1.1 .29-4.3 .29-2 .28,4.3 .29-7.2 .29,6.3 .29-3.7 .28,3.4 .29-.7
l.29-4.1 .29,1.3 .29-2.3 .28,.3 .29,4.5 .29-2.9 .29,1 .28,.1 .29-1.4 .29,3 .29-.3 .28-1.4 .29,6 .29-7.3 .29-.7 .29,12.7
l.28-11.6 .29,6.1 .29,.5 .29-6.1 .28,6.5 .29-4.6 .29,3.7 .29,2.4 .28-12.5 .29,10.7 .29,1.8 .29-3.5 .29-8.9 .28,14.2
l.29-11.4 .29,7.8 .29-3.9 .28,1.1 .29-4.5 .29,7.5 .29-11 .29,9.5 .28,4.2 .29-6.6 .29-2.6 .29,.6 .28-1.2 .29,4.9
l.29-6.9 .29,2.5 .28,7.4 .29-2.2 .29,1.4 .29-1.9 .29-2 .28,2.8 .29-1.2 .29-3.8 .29-.4 .28-2.5 .29,19.1 .29-10.4
l.29,.3 .28-.6 .29,1.4 .29,.2 .29-6.8 .29-2.4 .28,9.9 .29-7.6 .29,12.2 .29-11.3 .28-4.7 .29,3.1 .29,7.3 .29,.2 .29-2.3
l.28-6.6 .29,3.9 .29,.6 .29-1.2 .28,6.6 .29,4.6 .29-6.5 .29-.4 .28-3.2 .29,1 .29-13.1 .29,15.2 .29,.5 .28-8.2 .29,5.7
l.29-8 .29,.2 .28,4.4 .29,.3 .29,9.7 .29-12 .28,4.7 .29-1.8 .29-1.5 .29,3.5 .29,4.6 .28-1.8 .29,2 .29-8 .29,4 .28-.4
l.29,2.3 .29-1.4 .29,4.3 .29-5.3 .28,5.1 .29-5.7 .29,2.3 .29-2.9 .28-2.7 .29,2.6 .29,1.3 .29-2.9 .28,5.8 .29-2 .29-1.9
l.29,7.6 .29-3.1 .28-11.4 .29,7.7 .29,.1 .29-1.6 .28,3.2 .29,1 .29-.5 .29-5.6 .28-2.4 .29,9.1 .29-1.8 .29-2.4 .29,6.7
l.28-5.1 .29-4.1 .29-.3 .29-5.3 .28,11.4 .29-1.4 .29-3.7 .29,2.4 .29-3.5 .28,4.7 .29,7.3 .29-3.8 .29,3.7 .28-7.6
l.29-4.6 .29,2.9 .29,4.4 .28,6.4 .29-8.3 .29,2.8 .29,0 .29-2.7 .28-9.8 .29,11.7 .29,1.3 .29,3 .28-9.9 .29,7.9 .29,3.9
l.29-5.7 .28-3.2 .29,6.4 .29-4.9 .29,6.7 .29-12 .28,10.1 .29-4.7 .29,3.8 .29-1.7 .28-3.6 .29,3.8 .29-2 .29-5.4 .29-5.8
l.28,7.3 .29,3.3 .29-.8 .29,6.2 .28-.7 .29,.1 .29-6.3 .29,2.2 .28,1 .29-11.3 .29,9.9 .29-3.5 .29,1.6 .28,1.7 .29-1.9
l.29,8.5 .29-6.8 .28-3.8 .29-2.7 .29,7.9 .29-6.8 .28,2.4 .29,5.1 .29,5.1 .29-8 .29,4 .28-7.5 .29,3.2 .29,7.8 .29-4.2
l.28-3.5 .29-3.8 .29,16.1 .29-12.8 .29,7.6 .28-4.4 .29,2.7 .29-7.6 .29,2.5 .28-5.9 .29,2 .29,8.4 .29,6.3 .28-8.3
l.29,1.3 .29-2.7 .29,3.5 .29-.3 .28-5.9 .29,2.2 .29,3.9 .29-4.6 .28,5.5 .29-3.8 .29-3.9 .29,6.1 .28,3.6 .29-6.3
l.29,2.3 .29-9.1 .29,8 .28,2.2 .29,2.4 .29,4.5 .29-6 .28-3.7 .29,4.2 .29-6 .29-1.7 .29,.9 .28,5.7 .29,.5 .29-6.8
l.29,6.3 .28-.1 .29-.3 .29-7.9 .29,13.5 .28-12.6 .29,1 .29-2.9 .29,4.7 .29-7.5 .28,6.2 .29,6.9 .29,2.4 .29-6.2 .28-1.7
l.29,.6 .29-2.9 .29-.6 .28,15.1 .29-10.1 .29-.1 .29-2.5 .29,5.9 .28-8.3 .29,4.7 .29-5.3 .29,8.2 .28-2.1 .29,5 .29-1.5
l.29-2.7 .29,1 .28-3.6 .29-.5 .29,1.9 .29-.1 .28,4.8 .29-2.9 .29-.8 .29,2.1 .28-6.2 .29,.9 .29,5.7 .29-1.4 .29-1.6
l.28-.7 .29-5.8 .29,7.1 .29,1.8 .28-4.1 .29-1.1 .29-2.4 .29,9.2 .28-3 .29-1.9 .29,.2 .29,7.1 .29-8.1 .28-4.3 .29,3.5
l.29,3.2 .29,3.7 .28-.2 .29-3.9 .29,3 .29,0 .29,3.7 .28-8.7 .29-1.6 .29,3.8 .29-2.8 .28,2.1 .29-6.4 .29,7.3 .29-.3
l.28,4.9 .29-4.8 .29,1.5 .29,.4 .29-8.3 .28,3.1 .29-1.1 .29,3 .29,5.1 .28-4 .29-4.1 .29,7.8 .29-2.8 .28-.6 .29-4.4
l.29,4.2 .29-3 .29,.4 .28,3.8 .29-2 .29,6.1 .29-3.2 .28-4.3 .29,.5 .29,.2 .29,1.3 .29-3.3 .28,.8 .29,2.3 .29,7 .29-19.3
l.28,3 .29,13 .29-9.7 .29,7.3 .28-6 .29,8.5 .29-3.4 .29,1.8 .29-5 .28-.7 .29,3.3 .29,10 .29-9.8 .28,4.8 .29-11 .29,8.7
l.29,6.8 .28-8.3 .29,4.9 .29-7.4 .29,7.2 .29-6.9 .28,8.5 .29-11.7 .29,5.1 .29-3.2 .28,4 .29-9.5 .29,9.5 .29-3.6
l.29,3.2 .28-5.5 .29,11.2 .29,.5 .29-8.7 .28,5.3 .29,1.1 .29-6.1 .29,2 .28,10.4 .29-10.8 .29,2.8 .29,2.1 .29-7.6
l.28,.8 .29-3.4 .29,8.1 .29,1.7 .28-14.8 .29,7.3 .29,.6 .29,6.7 .28-1.8 .29-5.2 .29,16 .29-7.1 .29-6.7 .28,9.3 .29-11
l.29,4 .29,6.3 .28-7.1 .29-.2 .29,.6 .29-2.9 .29,9.2 .28-4.4 .29-4.3 .29,1 .29,.1 .28-11 .29,13.8 .29,.7 .29-5.2
l.28,3.6 .29-4.8 .29,4.7 .29-8.2 .29,10.2 .28-1.7 .29-4.9 .29,3.5 .29-3.7 .28,.6 .29-.5 .29,9 .29-9.1 .28,3.5 .29-1.1
l.29,4.9 .29-5.7 .29-1.4 .28,1.9 .29-.7 .29,1.5 .29,1.5 .28-2.9 .29,2.8 .29-.2 .29-2.5 .29-2.2 .28-3.2 .29,2.6 .29,4.4
l.29,3.7 .28-4.8 .29,5.7 .29,0 .29,3.8 .28-13.2 .29,.4 .29,9.3 .29-5 .29-1.1 .28-4.9 .29,.5 .29,9.7 .29-5.1 .28,8
l.29-6.1 .29-.7 .29,1.4 .28,3.6 .29-3.3 .29-10.4 .29,11.6 .29-2.7 .28-3.9 .29,.5 .29,5 .29-7.6 .28,.1 .29,5.1 .29-.4
l.29,1.7 .29-2.8 .28,1.1 .29-3.6 .29,11.9 .29-11 .28,4.5 .29-6.6 .29,1.1 .29,5.6 .28-.5 .29,1.9 .29,2.3 .29-3.4
l.29-4.2 .28,4.4 .29,4.5 .29-5.4 .29,4.5 .28-4.7 .29-2.6 .29-1.1 .29-.8 .28,8.2 .29,7.4 .29-10.6 .29,.8 .29-4 .28,.2
l.29,4.1 .29-1.4 .29-3.4 .28,6.5 .29,6.3 .29-10.5 .29,.8 .29,2.8 .28-7.5 .29,5.9 .29,2.5 .29-4 .28-6.4 .29,12 .29-8.1
l.29,8.9 .28-8.3 .29,4.9 .29-.2 .29-4.7 .29-7.6 .28,18 .29-6.5 .29,2.5 .29-8.3 .28,4.6 .29,4 .29-7.3 .29,.9 .28,3.2
l.29-3.9 .29,2 .29-2.5 .29,8.6 .28-7.3 .29-1.2 .29,7.5 .29-18.5 .28,8.4 .29,5.4 .29,3.4 .29-1.3 .29-.9 .28-2.1 .29,7.5
l.29-.8 .29-10.2 .28,11.1 .29-14 .29,9 .29,5.5 .28-2.3 .29-10.8 .29,6.1 .29,5.3 .29-9.7 .28,3.2 .29,4.8 .29,2.1
l.29,1.8 .28-6.7 .29-2 .29-4.2 .29-.2 .28,2.3 .29,10.4 .29-3.7 .29-4.7 .29,3.3 .28-1.5 .29,2.3 .29-1.9 .29-4.2 .28,2.1
l.29,8.2 .29-4.1 .29,2.9 .29,2.1 .28-11 .29,4.2 .29-10.4 .29,7.4 .28,.7 .29,4.3 .29,.9 .29-6.3 .28,5.4 .29-8.7 .29,2.4
l.29,0 .29,3.3 .28,4.7 .29-9 .29,7.5 .29-2.4 .28-3.4 .29,4.9 .29,.3 .29,3.8 .28-10.2 .29-2.7 .29,10.8 .29-8.5 .29-3.3
l.28,.6 .29,3.1 .29,7.2 .29,3.3 .28-3.3 .29-5 .29-3.9 .29,.4 .29,6 .28-2.3 .29,3.6 .29,5.8 .29-4.8 .28-7.3 .29,1.2
l.29,2.8 .29,.4 .28-9.8 .29,7.9 .29,3.2 .29,4.7 .29-3.2 .28-4.4 .29,3.9 .29-4.2 .29,4.1 .28-13.5 .29,13.2 .29-5.6
l.29,7 .28-4.3 .29-2.5 .29,2.8 .29,8.2 .29-13.4 .28,3.3 .29,6.9 .29-1.9 .29-4.6 .28,6.1 .29-6 .29,8.1 .29-5.8 .29-2.9
l.28,5.2 .29-2.3 .29-1 .29-4.6 .28,1.1 .29,4.1 .29-.1 .29,2.7 .28,.1 .29,.4 .29,.5 .29-6 .29,4.8 .28,2.5 .29,0 .29-3.1
l.29-2.3 .28,4.4 .29,1.9 .29-5.1 .29-3.3 .28,8.4 .29-2.4 .29,6.2 .29-18.3 .29,14.7 .28,.7 .29-6.1 .29,2.5 .29-4.7
l.28,6.8 .29-4 .29-.5 .29-1.3 .29-5.7 .28,8.1 .29,3.4 .29-5.5 .29,5 .28-7 .29,2.8 .29,.6 .29,7.1 .28-.1 .29-3.9
l.29-2.3 .29,8.5 .29-6.6 .28-3 .29,3.5 .29-6.5 .29,2.9 .28-5.6 .29,9.6 .29-4.9 .29,13.5 .28-8.1 .29-7.5 .29,5.8
l.29,.4 .29,3 .28-12.2 .29,1.7 .29,5.5 .29-1.5 .28,1.4 .29,5.9 .29-7.3 .29,3.7 .29,1.1 .28-8 .29,4.5 .29,4.5 .29-6.6
l.28,2.4 .29-1.6 .29,2 .29-1.9 .28,.2 .29,5 .29-12.8 .29,7.9 .29,11.5 .28-14.6 .29,10.4 .29-7.8 .29-5 .28,7.9 .29-.8
l.29-5.4 .29,2.3 .28,.3 .29,3 .29-.9 .29,8.3 .29-6.3 .28-1.2 .29-3.2 .29,.6 .29,7.6 .28-2.2 .29,6.2 .29-8.7 .29-7
l.29,5.6 .28,4.1 .29-3.8 .29,1.3 .29,4.5 .28-1.4 .29-2.9 .29-4.3 .29,6 .28,.4 .29,3 .29-5.7 .29,4.4 .29-12.1 .28,7.2
l.29,13.4 .29-18.9 .29,4.7 .28,1.5 .29-1 .29,3.4 .29,1.2 .28-.6 .29-2.5 .29-2.3 .29-6.6 .29,6.6 .28-1.9 .29-.7 .29,7.5
l.29,.8 .28-.5 .29-10.2 .29,12.3 .29-8.2 .29,5.9 .28-14.4 .29,16.6 .29-.5 .29-3.1 .28,2.6 .29-7.9 .29-.8 .29-.1
l.28-4.8 .29,12.7 .29-4.6 .29,2.3 .29,1.5 .28-4.6 .29-7.8 .29,13.1 .29-13.2 .28,7.9 .29,3.3 .29,3 .29-8.6 .28,3
l.29,1.3 .29,1.9 .29-1.9 .29,.9 .28-2.1 .29,8.4 .29-8.9 .29-3.1 .28,.8 .29,9.1 .29-6.2 .29-.7 .29-3.7 .28,1.1 .29-.6
l.29,5 .29-3.5 .28,3.4 .29,.7 .29,5.4 .29-8 .28,2.2 .29,5.8 .29-12.2 .29,7.3 .29-3.3 .28,.2 .29,2.2 .29-1.6 .29-3
l.28,7.1 .29,2.4 .29-10 .29,2.1 .28,5.4 .29-7.7 .29,9.6 .29-5.6 .29-1 .28,1.4 .29-1.9 .29,4 .29,4.8 .28-4.3 .29-5
l.29,2.2 .29,.4 .29,1.2 .28-6 .29,6.8 .29-3.3 .29-.1 .28,5.2 .29-7.3 .29,1.5 .29-.6 .28,8.2 .29-10.7 .29,6.6 .29-1.5
l.29-1.8 .28-2 .29,6 .29-3.6 .29,1.2 .28,.3 .29,0 .29,3.9 .29-3.8 .28-5.2 .29,9.2 .29,2.6 .29-12.7 .29,11.7 .28-4.3
l.29,1.2 .29-3.5 .29,2.5 .28-3.5 .29,4 .29,2.6 .29-14.6 .29,9.5 .28-1.6 .29,7.3 .29-2.3 .29-.9 .28-6.2 .29,7.6 .29-5.5
l.29,3.3 .28,1.5 .29-5.8 .29,1.7 .29,5.6 .29-7.1 .28,8.1 .29-7.4 .29,2.5 .29-9.8 .28,7.2 .29-6.7 .29,6.4 .29,4.1
l.28-4.7 .29,9.2 .29-1.1 .29-4.6 .29-6.8 .28,2.5 .29,9.6 .29,2.9 .29-9.8 .28,7.8 .29-1.8 .29-2 .29,1.4 .29-.5 .28-2.6
l.29-4.9 .29,6.7 .29-2.9 .28-1.6 .29-.3 .29,2.5 .29,2.7 .28-2.8 .29,5.9 .29-5.8 .29-5.6 .29,2.8 .28,14.9 .29-14.7
l.29-.1 .29,3.8 .28-4.3 .29,.1 .29,3.4 .29,.4 .28,3.8 .29-9.1 .29,13.5 .29-10.7 .29,3 .28-1.8 .29,2 .29-1.4 .29,3.4
l.28,.2 .29-10.8 .29,8.3 .29-7 .29,2.4 .28,2.4 .29-.5 .29,1.5 .29-4.2 .28,4.4 .29,1.2 .29-4.4 .29,2.9 .28-2.3 .29,4.8
l.29-2.3 .29-4.2 .29,0 .28,8.4 .29-4 .29,4 .29-7.7 .28,7.2 .29,3.5 .29-2.6 .29,.1 .28-14.7 .29,12.3 .29-5.5 .29,6.1
l.29-4.6 .28-3.5 .29,1.3 .29-1.8 .29,1.7 .28,4.8 .29-3 .29,1.5 .29,2.6 .29-10.8 .28,12.7 .29,1.3 .29-3.1 .29-6.7
l.28,6.2 .29-2.7 .29,4 .29-8 .28,3.7 .29,1 .29-5.5 .29,9.2 .29-9.4 .28,2.5 .29,8.4 .29-4.2 .29-2.7 .28,6.4 .29-.9
l.29-9.3 .29-5.5 .28,4.6 .29,4.2 .29,2 .29,4.5 .29-7.2 .28,5.2 .29-2.3 .29-.3 .29-3 .28,1.2 .29,11.3 .29-6.5 .29-6.5
l.29-1.3 .28,2.1 .29-.9 .29,8.6 .29-4.3 .28-.6 .29-3.4 .29,3.3 .29,2.6 .28-6 .29,3.7 .29-2.3 .29,9.2 .29-7.2 .28-1.8
l.29-3.6 .29,5.5 .29,6.9 .28-1.2 .29-9.9 .29,.5 .29,5 .28,2.6 .29-7.9 .29,6.6 .29-1.9 .29,5.9 .28,4.7 .29-11.6 .29-6.7
l.29,8.8 .28,3.9 .29-10.6 .29,9.6 .29,4.6 .29-6.6 .28-3.3 .29,4.7 .29-3.4 .29-.1 .28-.2 .29-5.9 .29,5.4 .29-1.5
l.28-3.2 .29,6.8 .29-5 .29,6.1 .29-2.7 .28,.6 .29-4.5 .29,.5 .29,6.5 .28,1.2 .29,.6 .29-.7 .29-1.3 .28-2.4 .29,3.3
l.29-11 .29,2.4 .29-3.5 .28,6.5 .29-.8 .29,3.6 .29-5.7 .28,2.5 .29,2.7 .29-2 .29-6.1 .29,1 .28,6.6 .29,8.1 .29,3.8
l.29-11.5 .28,0 .29-.1 .29-1.8 .29-.5 .28,5.4 .29-.8 .29-9 .29-2.7 .29,8.4 .28,0 .29-2.9 .29,2 .29,1.2 .28,.3 .29-6.1
l.29,8.9 .29-5.1 .28,6.9 .29-6.9 .29,.9 .29,1.7 .29-1.9 .28,8.6 .29-3.8 .29-1.5 .29-2.1 .28,.5 .29,2.7 .29-3.1 .29-1.2
l.29-8.8 .28,9.5 .29-.7 .29,.2 .29,2.5 .28,.5 .29-4.9 .29,4.2 .29,.9 .28-1.9 .29-6.6 .29,11.2 .29-3.2 .29-2.7 .28-1.2
l.29-4.4 .29-1.4 .29,10.7 .28-5.7 .29-4.8 .29,3.2 .29,8.1 .28-1 .29-2.8 .29-3.1 .29,7.6 .29-7.6 .28,6.1 .29-5.2
l.29-.4 .29,1.1 .28-2.3 .29,4.2 .29-.8 .29-4.5 .29,7.6 .28,.2 .29,3.2 .29-12.6 .29,10 .28-6.8 .29,3.4 .29-1.5 .29,3.5
l.28-1 .29-4.6 .29,3.6 .29,4.6 .29-3.4 .28,4.9 .29-7.7 .29-1.4 .29,2.7 .28-5.2 .29-.2 .29,7.1 .29-5.1 .28,5.5 .29-1.8
l.29,1.7 .29-1.4 .29,5.3 .28-4.1 .29,4.4 .29-11.5 .29,8.4 .28-1.8 .29,6 .29-3.4 .29-5 .29,10.6 .28-9.8 .29,3.2 .29-10.6
l.29,5.8 .28-.9 .29,2.4 .29-3 .29,8.9 .28-11.6 .29,3.7 .29,9.6 .29-8 .29,1.4 .28-6 .29,7.2 .29-1.4 .29-1.6 .28,2.6
l.29-7.7 .29,5 .29,4.6 .28-3.6 .29,1.8 .29-7.7 .29,11.2 .29,3 .28-16.1 .29,8.7 .29-4.8 .29,4.6 .28,2 .29-4.2 .29,1.9
l.29,2.9 .29,5.3 .28-9.1 .29-4.4 .29,.9 .29,10.4 .28-11.4 .29,11.4 .29-3.6 .29-2.4 .28,.1 .29,3.6 .29-2.1 .29-1.8
l.29,0 .28-2.4 .29-.9 .29,3.2 .29,3.5 .28-6 .29,3.1 .29,3.2 .29,6.6 .28-10.5 .29-2 .29-1.6 .29,8.4 .29-3.7 .28,6.9
l.29-7.9 .29-.3 .29,4.5 .28-5.5 .29-2 .29-.2 .29,7.9 .29-3.8 .28-4.2 .29,5 .29,.8 .29-.5 .28-4.7 .29,4.6 .29,6.8
l.29-10.5 .28-8.9 .29,9.8 .29-3.8 .29,4.3 .29,2.2 .28,3.3 .29-6.3 .29,2.1 .29-3.7 .28,3.1 .29-2.1 .29,11.1 .29-9.8
l.28-1.1 .29,1.2 .29-4.2 .29,5.9 .29-3.1 .28,10.8 .29-11.1 .29,.1 .29,6.7 .28,5.4 .29-4.9 .29-3.8 .29-6.8 .29,11.5
l.28-6.6 .29-.7 .29,.3 .29,5 .28-5.4 .29,8.3 .29,2.4 .29-7.6 .28,3.2 .29,5.8 .29-14.8 .29,2.3 .29,.7 .28,6.3 .29-1
l.29,3.7 .29-6.4 .28,1 .29-1 .29-6.1 .29,8.1 .28-1.4 .29,5.4 .29-12.6 .29,1.4 .29,14.6 .28-.4 .29-16.1 .29-1.1 .29,5.1
l.28-3 .29,11.3 .29-5.7 .29-3.2 .29,4.2 .28,3.3 .29-3.3 .29,2.9 .29-11.6 .28,9.6 .29,1.3 .29,5 .29-14 .28,6.9 .29-3.1
l.29,2.8 .29-1.6 .29,1 .28,2.7 .29-4.5 .29,5.4 .29-4.6 .28-.4 .29-1.8 .29,7.1 .29-13.6 .28,9 .29,5.8 .29,2.1 .29-7.3
l.29,.8 .28-3 .29,9.2 .29-6.3 .29-2 .28-2.3 .29,11.5 .29-4.7 .29,.7 .29-2.8 .28,.8 .29-1.7 .29,4.3 .29-5.6 .28,8.3
l.29-6.3 .29-9.1 .29,13.2 .28-11.8 .29,2 .29,7.5 .29-4 .29-.5 .28,6.7 .29,4.7 .29-7.7 .29,4.4 .28-7.9 .29,9.6 .29-16
l.29-1.3 .28,13.3 .29,5.4 .29-10 .29,3.6 .29-1.7 .28,6.3 .29-.6 .29-8.4 .29,7.9 .28,2.9 .29-10.7 .29-.3 .29,3.9
l.29,3.1 .28-11.5 .29,8.5 .29-4.3 .29,8.5 .28,.2 .29-6.8 .29-5.6 .29,10.9 .28-1.9 .29-.8 .29-7.7 .29,6.1 .29-1.8
l.28-2.2 .29,.8 .29-4 .29,12.6 .28-6.8 .29-.3 .29,6.7 .29-5.8 .28-.5 .29,2.7 .29,1.3 .29-8.3 .29,4.3 .28,1.4 .29-1.5
l.29,3.3 .29-3.1 .28-1.1 .29,5.7 .29-3.3 .29,0 .29-1 .28,2.4 .29-1.7 .29,2 .29,1.7 .28-1.5 .29,4.6 .29-9.4 .29,1.1
l.28,5.2 .29,.3 .29-.2 .29,1.3 .29-.3 .28-7 .29,3.5 .29-5.1 .29,1.7 .28,.3 .29,7.4 .29-13.1 .29,8.3 .28,9 .29-8.7
l.29,.5 .29-4 .29,6.8 .28-5 .29,2.2 .29-6.7 .29,6.4 .28-3.4 .29-2.1 .29,7.7 .29-4.8 .29,1.2 .28-6.7 .29,4.2 .29,5.7
l.29-11.1 .28,10.2 .29-2.1 .29-.7 .29-2 .28,5.4 .29-1.9 .29,.6 .29-2.5 .29,4.3 .28-1.6 .29,4.1 .29-13.3 .29,5.1
l.28-3.1 .29,8.4 .29,4.5 .29-.6 .28-1.6 .29-7.6 .29,3.9 .29,.7 .29,3 .28-12.5 .29,13 .29-4.9 .29,.2 .28-.6 .29,.1
l.29-2.3 .29-9.7 .29,6.5 .28,3.4 .29,5.8 .29-11 .29-.2 .28,9.1 .29-4.8 .29,12.3 .29-5.6 .28-9.2 .29,12.2 .29-10.2
l.29-2 .29,10.9 .28-5.6 .29-7 .29-3.9 .29,9.9 .28-6.2 .29,10 .29-.7 .29-4.8 .28-1.4 .29,2.4 .29-4.1 .29,1.2 .29-2.2
l.28,2.3 .29,3 .29-.5 .29,1 .28-1.1 .29-4.1 .29,.3 .29-1.5 .29,1.8 .28,.1 .29,7.4 .29-2 .29,.5 .28,1.3 .29,7.4 .29-13.6
l.29,7.7 .28-1.3 .29-.1 .29-9.9 .29,4.9 .29-4.5 .28,6.5 .29-3.5 .29-.1 .29,4.1 .28-1.3 .29,8 .29-2.7 .29-5 .28,10.4
l.29-10.9 .29,.3 .29,3.6 .29-6.2 .28,1.2 .29-2.7 .29,3.9 .29-1.7 .28,1.3 .29,7.1 .29-5.7 .29,.5 .29-1 .28,.3 .29-3.3
l.29,3.7 .29,2.9 .28-5.5 .29,11.3 .29-2.8 .29-11.2 .28,11.4 .29-7.5 .29,5.8 .29-7.4 .29,1.3 .28-2.9 .29,2 .29-2.7
l.29,9 .28-10.4 .29,8.3 .29-5.4 .29,4.3 .28-5.6 .29,2.9 .29,.9 .29-1.7 .29,2.7 .28-.2 .29-6 .29,3.5 .29,2 .28,2.1
l.29-6.8 .29,8.5 .29-3.1 .29,4.6 .28-2.3 .29-1.9 .29-2.2 .29,1.7 .28-4.2 .29,11.7 .29-16.6 .29,6.3 .28,.4 .29,5.6
l.29-7.7 .29,7.3 .29-3 .28-1.1 .29-1.5 .29,.1 .29,5.8 .28,1.7 .29-11 .29,2.3 .29,.8 .28,.5 .29-.3 .29,10 .29-8.1
l.29-3.9 .28,3.6 .29-2.8 .29,1.3 .29,3.6 .28,1.4 .29-2.8 .29-4.8 .29,11 .29-10.5 .28,11.8 .29-16.4 .29,9 .29-1.4
l.28,2.6 .29-6 .29,7 .29-8.8 .28-3.4 .29,9 .29,3.6 .29-6.9 .29,6.4 .28-1.7 .29-2.3 .29-3.6 .29,9.1 .28-7.6 .29,.8
l.29,2.6 .29-3.4 .28,2.5 .29,1.9 .29,6.8 .29,1.9 .29-10.4 .28-2.7 .29,7.1 .29-3 .29-7.8 .28,3 .29,10.9 .29-10.1
l.29,4 .29-3.4 .28,1.8 .29,4.4 .29-12.6 .29,19.4 .28-6.2 .29-9.3 .29,5.4 .29-1.7 .28,5.5 .29-7.4 .29,6.5 .29,1.9
l.29,0 .28-9.6 .29,5 .29-3.3 .29,1.3 .28,2.4 .29,4.2 .29-6.2 .29-1.5 .28,7.5 .29-2.3 .29,1.1 .29,5.1 .29-10.1 .28-1.2
l.29,2.8 .29-1.4 .29,.2 .28-4.4 .29,1.6 .29-.5 .29,7.2 .29-5.3 .28,2.1 .29,4.5 .29-6.6 .29,9 .28-2.4 .29-9.2 .29,1.6
l.29,10.7 .28-9.5 .29,1.1 .29,1.6 .29,3.7 .29-3.6 .28-4.3 .29-4.7 .29,4 .29,7.3 .28-6.7 .29-5.9 .29,9.6 .29,4.5
l.28-9.9 .29,7.1 .29-2.9 .29-1.2 .29,2.2 .28-.8 .29-2.8 .29-.4 .29,1.7 .28-1.9 .29,1.8 .29,4.1 .29-10.3 .29,6 .28-.8
l.29-2.3 .29,4.9 .29,5.3 .28,1.4 .29-5.5 .29-6.1 .29,2.7 .28-.9 .29,4.5 .29,4 .29-4.9 .29,6.7 .28-4.1 .29-5.8 .29,5
l.29,3.3 .28-8.2 .29,.1 .29,1.4 .29,8.3 .28-10.6 .29,4.1 .29-3.4 .29-2.4 .29,2.6 .28-3.6 .29,2.4 .29,4.8 .29,.5
l.28-10.7 .29-1.3 .29,10.4 .29-2.5 .29-.8 .28-1.6 .29,9.8 .29-10 .29,2.5 .28-.3 .29,2.4 .29-7.7 .29,7.3 .28-9.1
l.29,.8 .29,8.8 .29-6.3 .29-.3 .28,5.5 .29,7.9 .29-8.1 .29-2.8 .28-8.2 .29,4 .29,1.3 .29,2.9 .28-2.8 .29,7.5 .29-.2
l.29,2.1 .29-.8 .28-4.2 .29-9.3 .29,14.5 .29-7.2 .28,1 .29,8 .29-7.2 .29,8.4 .29-13.9 .28,1.1 .29,6.9 .29-1.6 .29,.5
l.28,.6 .29-6.1 .29,8 .29-3.4 .28,3.6 .29-10.1 .29,4.2 .29-4 .29,8.1 .28,7.5 .29-13.7 .29,1 .29-2.3 .28,3.8 .29-3.1
l.29-.9 .29,6 .28,7 .29-12.2 .29,1.9 .29,2.6 .29,3.4 .28-12.8 .29,6.6 .29,.1 .29,4.3 .28-.7 .29-4.3 .29,6.4 .29-10.9
l.29,7.1 .28-7.5 .29,4.8 .29,3.9 .29-12.2 .28,8.8 .29,1.9 .29-6.4 .29,2.2 .28,1.5 .29,8.6 .29-1.3 .29-11.5 .29,6.1
l.28-4.5 .29,5.8 .29-5.1 .29,8.7 .28-6.8 .29-7.4 .29,5.2 .29,2.4 .28-1.3 .29-.6 .29-8.3 .29,7.3 .29-1.4 .28,3.9
l.29-4.7 .29,.2 .29,5 .28,4 .29-6.4 .29-6.3 .29,7.5 .29-1.2 .28-6.9 .29,5.4 .29,7.7 .29-15.8 .28,6.7 .29,2.4 .29-1.4
l.29-3.6 .28,4.3 .29-10.4 .29,5.7 .29-1.1 .29,1.2 .28,3.5 .29-3.5 .29-7.3 .29,9.7 .28-1.8 .29-2.5 .29,4.6 .29-7.5
l.28,9 .29-7.5 .29,5.9 .29-3.4 .29-.3 .28-13.5 .29,14 .29-7.5 .29,2.4 .28,4.7 .29-7.7 .29,3.8 .29,6.7 .29,.2 .28-9
l.29-.5 .29,7.5 .29-7.9 .28,1.3 .29-4.1 .29,4.9 .29-4 .28,.4 .29-3.7 .29-2.7 .29-5.1 .29,15.6 .28-8.6 .29,4.7 .29,.5
l.29,2.2 .28-6.1 .29-3.4 .29,.7 .29-2.9 .28-.6 .29-2 .29,1.1 .29-2 .29-.2 .28,2.1 .29,3.2 .29-.3 .29-9.8 .28,5.7
l.29-9.1 .29,4.7 .29,.3 .29-3.7 .28-3.1 .29-8.8 .29,9 .29-.9 .28-5.7 .29-4.5 .29,3.7 .29,.4 .28-6.9 .29-.7 .29-2.6
l.29,7 .29-12 .28,.7 .29-7.2 .29,4.3 .29-5.8 .28,.9 .29-14.5 .29,15.3 .29-5.3 .28-3.8 .29,7.4 .29-14.7 .29-12.6
l.29,.9 .28-4.1 .29,1.4 .29-1.6 .29-4.4 .28-.4 .29-2.4 .29-6.5 .29-.6 .29-2.2 .28-.2 .29-1.1 .29-.2 .29,.1 .28,.7
l.29,1.7 .29,1.8 .29-.5 .28,5.6 .29,1.1 .29,2.2 .29,6 .29-5.3 .28,1.2 .29,12.2 .29,0 .29,.5 .28,3.4 .29,2.3 .29,11.9
l.29-3.1 .28,9.8 .29-3.9 .29-.7 .29,.7 .29,16.9 .28-9.6 .29,10.2 .29-7.4 .29,2.3 .28,2.8 .29-2.1 .29,5 .29,6.7 .29-.7
l.28-1.9 .29,11 .29-5.4 .29-1.7 .28,8 .29-9.6 .29,1.7 .29,3.8 .28,4 .29,2.1 .29-3.4 .29,1.5 .29-1.4 .28,8.6 .29-5.2
l.29-1.5 .29,10.3 .28-4.3 .29,1.2 .29,1.8 .29-4.6 .28,5.8 .29-3.4 .29,2 .29-.9 .29,5.1 .28,2.4 .29-5.3 .29,3.2 .29-2.9
l.28,6.3 .29,.8 .29-5.1 .29,2.9 .29,1.7 .28-3.2 .29,4.2 .29-1.2 .29-1.1 .28,7.5 .29-8.7 .29,4.6 .29,1.5 .28-.6 .29,2.8
l.29,5.5 .29-7.8 .29,2.4 .28-8.6 .29,.9 .29,8.7 .29-3.2 .28-3 .29,3.3 .29,2.5 .29,1 .28,3.1 .29-7.8 .29,1.3 .29,2.2
l.29,.9 .28-7.2 .29,5.7 .29-3.7 .29,11 .28-1.2 .29-.1 .29-6.3 .29,4.7 .29-6.9 .28,5.3 .29-3.6 .29,5.8 .29-5.1 .28,5.2
l.29-.9 .29,4 .29,3.5 .28-2.5 .29-5.9 .29,.1 .29,8 .29-1.6 .28,1 .29-8.1 .29,6.2 .29,.6 .28-6 .29,4.5 .29-4.5 .29-.9
l.28,5.6 .29,4.8 .29-5.9 .29-10 .29,13.5 .28-9.9 .29,8.3 .29,1.4 .29-10 .28,7.9 .29,7.2 .29-3.2 .29-2 .29-1.1 .28-7.5
l.29,1.3 .29,4 .29-1.8 .28,3.9 .29,5 .29-7 .29,1.1 .28-4.7 .29,2.5 .29-3.4 .29,6.5 .29-.1 .28,.4 .29,1.6 .29-7.9
l.29,3.8 .28,5.7 .29-2.4 .29-10.4 .29-1.8 .28,4 .29,5.2 .29-6 .29,6.8 .29,4.7 .28-5.1 .29,4.8 .29-3.6 .29-10.3 .28,7.2
l.29,1.4 .29-2.5 .29,5.2 .29-2.9 .28,5.2 .29,1.6 .29-3.7 .29,3 .28,4.4 .29-7.2 .29,2.2 .29-.5 .28-9.8 .29,3.4 .29-1.5
l.29,5 .29,3.4 .28-.6 .29-11.2 .29,19.2 .29-9.6 .28-3 .29,7.1 .29-10.6 .29,7.7 .28-3.4 .29-6.6 .29,2.8 .29,4.5 .29-.4
l.28-6.7 .29-1.8 .29,5.7 .29,9.8 .28-5.8 .29-6.4 .29,7.4 .29-1.9 .29,2.9 .28-2.4 .29-6 .29,1.2 .29,7.4 .28-9.9 .29,11.3
l.29-10.1 .29,.2 .28,9.2 .29,2.2 .29-12.1 .29,1.4 .29,1.8 .28,4.2 .29-5 .29,7.9 .29-9.6 .28-6.5 .29,10.5 .29-5.3
l.29,8 .28-5 .29,2.1 .29-2.8 .29,3.1 .29,5.9 .28-11.7 .29,9.3 .29-9.6 .29,9.7 .28-8.5 .29,1.7 .29,3.7 .29-6.3 .29,3
l.28-5.7 .29,3.8 .29-2.4 .29,13.8 .28-14.6 .29,6.8 .29-.1 .29,4.5 .28-2.5 .29-1.9 .29-1.6 .29,0 .29,1.8 .28-2.3
l.29-3.1 .29,5.7 .29,.7 .28-7.4 .29,2.6 .29,5.8 .29-7 .28,1 .29-7.5 .29,5.4 .29,.3 .29,3.7 .28,3.6 .29-3.7 .29,.6
l.29,.1 .28-6.2 .29,9.3 .29-11.9 .29,11.6 .29,1.7 .28-10.2 .29,5.1 .29,1.9 .29-4.9 .28,3.8 .29-2.6 .29,2 .29-2.3
l.28,4.1 .29-6.5 .29,4.7 .29-2.3 .29,9.7 .28-11.4 .29,4.5 .29-1.6 .29,.5 .28,1 .29,1.7 .29-8.3 .29,6 .28-1.2 .29,.5
l.29,1.7 .29-7.9 .29,7.6 .28-4.5 .29,4.9 .29,2.8 .29,0 .28-8.5 .29,10.5 .29-1.1 .29-4.7 .29-5.2 .28,5.5 .29-7.7
l.29,5.3 .29,.1 .28-7.6 .29,4.4 .29,3.9 .29,.4 .28-5.9 .29-2.5 .29,7.1 .29-.6 .29-5.4 .28,7.5 .29-4.9 .29,.7 .29,1.7
l.28,3.2 .29,6.1 .29-9.4 .29,4.5 .28-6.5 .29,3.5 .29-.6 .29-8.1 .29,3.2 .28,7 .29-7.8 .29,5.1 .29,4 .28-6.3 .29,.5
l.29-4.2 .29-.2 .29-.4 .28,7.6 .29-2.8 .29,7.3 .29-9 .28,2.2 .29,8.3 .29-12 .29,.7 .28,8.8 .29,2.7 .29-8.1 .29-2.6
l.29,1.5 .28-6.6 .29-4 .29,9.5 .29,1.3 .28,1 .29-10.9 .29,8.7 .29-2.9 .28-.9 .29-.7 .29,2.5 .29-6.3 .29,5.6 .28,1.6
l.29,5.4 .29-3.2 .29-1.4 .28-4.8 .29,7 .29-3.5 .29,1.8 .29,10.8 .28-12.9 .29-6.3 .29,13.7 .29-11.4 .28,10.3 .29-3.5
l.29-1.5 .29-4.6 .28,4.1 .29-.3 .29-3.9 .29-.3 .29,4.8 .28-2.8 .29-4 .29,3.8 .29,6.5 .28-4.7 .29,7 .29-16.5 .29,8.8
l.28,8.1 .29-5.3 .29-4 .29-1.2 .29,3.7 .28,1.1 .29,2.4 .29-8.2 .29-1.7 .28,4.1 .29,.5 .29,.2 .29,3 .29-.7 .28-4.2
l.29,1.3 .29-.8 .29,5.1 .28-6.7 .29,7.9 .29-10.1 .29,6.3 .28-2.2 .29,4.4 .29-2.7 .29,2.9 .29-4.1 .28,8.6 .29-13.1
l.29,4.2 .29-2.3 .28,3.7 .29-2.9 .29,5.3 .29,.9 .28-2.2 .29,4.7 .29-10.1 .29,5 .29-.6 .28,2.8 .29-6.2 .29-2.4 .29,6.1
l.28-6.3 .29,3.3 .29,.5 .29,8.4 .29-3.6 .28-9.3 .29,.5 .29-5.2 .29,12.5 .28-6.3 .29,10.2 .29-3 .29,1 .28-1.1 .29-5.2
l.29-5.1 .29,5.5 .29,6.3 .28-11.5 .29,4.3 .29,8.5 .29-13.2 .28,5.9 .29-3.2 .29,6.2 .29-.5 .28-4.2 .29,9 .29-7.5
l.29-3.8 .29,2 .28,2.3 .29,1.5 .29,0 .29-8.6 .28,5.4 .29,.4 .29,5 .29-6 .29-1.7 .28,13.7 .29-17.8 .29,3.8 .29,4.5
l.28,7.4 .29-19.3 .29,7.9 .29,5.4 .28,4.3 .29-11.4 .29,13.1 .29-8.3 .29,1.4 .28,4.1 .29-2.2 .29-.1 .29-7.4 .28,2.2
l.29-3.4 .29,9.9 .29-10.6 .28,4.3 .29-4.1 .29,7.1 .29-3.7 .29,6.6 .28-9.6 .29,4.7 .29,3.3 .29-2.1 .28-.9 .29,8.8
l.29-8.9 .29,5.5 .29-4.4 .28-1.3 .29-10 .29,8.8 .29,8 .28-8.6 .29,7.8 .29-.6 .29-1.3 .28-7.7 .29-3.4 .29,4.5 .29,9.2
l.29-6.8 .28-3 .29,15.4 .29-10 .29-13.3 .28,18 .29-1.7 .29,.7 .29-11.9 .28,2.1 .29,.8 .29-2 .29,8.5 .29,5.7 .28-11.3
l.29,10.1 .29-10.6 .29,.5 .28,1.6 .29-5.2 .29,4.1 .29,7.5 .29-2 .28-6.8 .29,6.1 .29-5.9 .29,4.2 .28-2.5 .29,5.6
l.29-3.7 .29,6.8 .28-4.2 .29-5.8 .29,5.6 .29,1.4 .29-8.4 .28,.5 .29,8.9 .29-6.5 .29-1.1 .28,6.3 .29-.5 .29-2.7 .29-7.7
l.28,7.1 .29,.1 .29,11.9 .29-13.8 .29-2.7 .28,9.5 .29-8.6 .29,1.9 .29-2 .28,3.7 .29-.2 .29-11.3 .29,3 .29,12.7 .28,3.4
l.29-9.4 .29-.3 .29,1.6 .28,1.2 .29-7.3 .29,20.5 .29-9.3 .28-7.3 .29,.6 .29,.1 .29,5.7 .29-11.3 .28,3.4 .29,.6 .29,1.8
l.29,8.7 .28-3.9 .29,3.3 .29-5.7 .29,6.9 .28-6.6 .29,3 .29-2.8 .29,10 .29-5 .28-5.4 .29-2.7 .29,9 .29-8.7 .28-8.6
l.29,12.3 .29,2.9 .29,5 .29-1 .28-4.9 .29-1.1 .29-3.9 .29-5.8 .28,12.3 .29-5.3 .29-5.7 .29,4.1 .28,1.6 .29,.2 .29,6.7
l.29,.4 .29-9.9 .28-2.8 .29,1.4 .29,.1 .29-2.7 .28,.7 .29,8.4 .29-2.9 .29,11.6 .28-15.1 .29,4 .29,.3 .29-4.1 .29,10.6
l.28-6.7 .29,4.6 .29-11 .29,12.9 .28-3 .29-4.7 .29-5.6 .29,7.8 .29,6.3 .28-3.1 .29-4.8 .29-.9 .29,8.1 .28-10.8 .29,9.2
l.29,.3 .29-3.3 .28,4.6 .29,.1 .29-4.5 .29,10 .29-9.2 .28,3.8 .29-6.8 .29,5.7 .29-8.4 .28,2.6 .29-.7 .29,1.2 .29,5
l.28-5.6 .29-1.1 .29,2.3 .29-.9 .29-.1 .28,2.7 .29,1.3 .29-2.9 .29-.2 .28-2.1 .29-2.6 .29,6.8 .29,.7 .29-10.9 .28,9.1
l.29,0 .29,3.5 .29-5.4 .28,11.7 .29-6.5 .29-2.3 .29,2.2 .28-4.2 .29-4.1 .29,3.5 .29,3.4 .29,9.2 .28-7.2 .29-9.1
l.29-1.2 .29,4.2 .28-1.2 .29,.3 .29,10.3 .29-4.7 .28,.6 .29-5.1 .29-2.2 .29,4.8 .29-8.2 .28,9.1 .29,1.8 .29,.1 .29,6.7
l.28-12.3 .29,5.6 .29-5.3 .29,1 .29-.5 .28,9.9 .29-5.7 .29-.4 .29-2.6 .28,6 .29,.2 .29-9.9 .29,11.6 .28-7.3 .29,6
l.29-8.5 .29,5.7 .29-.4 .28,2.5 .29,4.7 .29-16.7 .29,8.2 .28-6.9 .29,3.6 .29,7.4 .29-2 .28-4.9 .29,2.3 .29,3.4 .29-4.8
l.29-2.1 .28-1.6 .29-2.1 .29,7.1 .29,2 .28,0 .29,10 .29-17.6 .29-1.2 .29,24.3 .28-17.6 .29,3.2 .29-1.3 .29,6.9 .28-7.3
l.29,8.9 .29-12.2 .29-1.4 .28-1.3 .29,13.3 .29-2.2 .29-2.5 .29-9 .28,7.2 .29-8 .29,6.3 .29-2.1 .28,9.5 .29,1.1 .29-4
l.29,2 .28,1.3 .29-9.3 .29-4.6 .29,10.6 .29-2.9 .28-6.6 .29,5.7 .29-3.1 .29,.2 .28-2.2 .29,.3 .29,3.8 .29,5.8 .29-9.4
l.28,10 .29-5.7 .29-1.4 .29-11.1 .28,9.8 .29,1.2 .29,3.7 .29-.9 .28,6.3 .29,3.2 .29-9.3 .29-1.4 .29,2.9 .28-.9 .29,0
l.29-9.2 .29,11 .28-11.6 .29,11.9 .29-2.2 .29-.7 .28-2.9 .29-3.9 .29,2 .29-.5 .29,3.6 .28,1.4 .29,.6 .29,4.7 .29-15.2
l.28,10.4 .29,3 .29,2.1 .29-4 .29,3.6 .28-9.5 .29-.6 .29,8.4 .29-8.8 .28,2.1 .29,2.1 .29,.3 .29,2.6 .28-5.4 .29,11.9
l.29-11 .29,3.7 .29,10.2 .28-8.9 .29-2.2 .29-2.1 .29,2.4 .28,4.8 .29-5.3 .29,.6 .29,15.4 .28-9.6 .29-3.4 .29,1.3
l.29-3.7 .29-8.5 .28,9.3 .29,2.3 .29-1.8 .29,4 .28-1.5 .29,.7 .29-5.9 .29,5 .29-2.9 .28-1 .29,6.3 .29-7.4 .29-4.6
l.28,8.5 .29-2.4 .29-3.8 .29-.9 .28,4.7 .29,2.3 .29-3.4 .29,7.4 .29-1.2 .28-1.1 .29-4.5 .29,7.1 .29-6.2 .28,8.7
l.29-3 .29-.5 .29-6.4 .28-5.6 .29,15.3 .29-8.3 .29,1.8 .29-2.4 .28,4.5 .29-6.4 .29,13.4 .29-13.9 .28-2.1 .29,10.3
l.29-4.5 .29,5.9 .29-3.6 .28-.2 .29,11 .29-16.1 .29,1 .28-5.4 .29,8.8 .29-.9 .29-4.8 .28,13.7 .29-10.8 .29,4.1 .29-10.2
l.29,9.4 .28-5.4 .29,6.6 .29,12.8 .29-21.1 .28,1.6 .29,.2 .29,6 .29-6.8 .28,9.8 .29-.7 .29-7.9 .29,.7 .29-4.7 .28,11.6
l.29-5.4 .29-.3 .29-2.5 .28,9.9 .29-5.3 .29,2.3 .29-4.3 .29-10.9 .28,10 .29-3.8 .29,4.3 .29,4.4 .28-2.8 .29,1.3
l.29,.6 .29-4.4 .28,1.3 .29,6.4 .29,5.7 .29-7 .29-4.3 .28-4.4 .29,5.5 .29-1.6 .29-2.2 .28-.6 .29,8.6 .29-2.4 .29-3.9
l.28,5.5 .29,1.6 .29-2.8 .29-1.3 .29-4.7 .28,7 .29,1.5 .29-2 .29-5.5 .28,11.8 .29-9.5 .29-3.1 .29,6.4 .29,.8 .28,2.7
l.29-1.1 .29-3.4 .29-6.3 .28,3.2 .29,4.3 .29,4.8 .29-1.2 .28-10.2 .29,11.3 .29-10.8 .29,3.8 .29-3.8 .28,2.9 .29,4.2
l.29-2.3 .29,1.7 .28,3.8 .29-4.5 .29-.6 .29,4.7 .28-3.7 .29-4.4 .29,3.3 .29,5 .29-11.9 .28,10.1 .29-8.3 .29,3.6
l.29-3.4 .28,3.8 .29,6.2 .29-10.4 .29,8.7 .29,3.3 .28,.1 .29-8.4 .29,4.2 .29-.2 .28,4.5 .29-15 .29,5.3 .29-1.5 .28,3.7
l.29-4.4 .29,7.5 .29-8.3 .29,6.3 .28,1.8 .29-5.5 .29,1.6 .29,.3 .28,8.7 .29-2.8 .29,1.6 .29-2.3 .28-3.9 .29,4.9
l.29-4.4 .29,4.7 .29-3.2 .28-3.9 .29-2.6 .29-3.3 .29,7.4 .28-.4 .29-5.3 .29,13.8 .29-2.4 .29-8.8 .28-.5 .29-3.8
l.29,.6 .29,.7 .28,3.4 .29,3.4 .29-5 .29,13.5 .28-7.3 .29,6 .29-5.6 .29,11.6 .29-14.5 .28,2.3 .29-5.1 .29,12 .29-5.5
l.28-5.4 .29,11.7 .29-6.8 .29,8.9 .28-18 .29,12.6 .29-4.3 .29-1.2 .29,9.6 .28-5.4 .29,4.8 .29-9.8 .29-3.9 .28,16.7
l.29-9.9 .29,6.1 .29-8 .29-.8 .28-1.6 .29,1.3 .29,10.1 .29-1.4 .28-5.4 .29-3.3 .29,6.6 .29-1.8 .28-3.8 .29,1.4 .29-4.2
l.29,9.8 .29-7.2 .28,1.8 .29,0 .29,1.2 .29,1.7 .28-8.4 .29,8.8 .29-4.5 .29,1.3 .28,3.4 .29-4.2 .29-.1 .29-5.6 .29,10.4
l.28-6.1 .29,.3 .29-1.8 .29,7.3 .28-4.3 .29,6.8 .29-6.9 .29-3.6 .29-1.6 .28,16.4 .29-7.9 .29-3.5 .29,9.6 .28-18.9
l.29,9.6 .29,9 .29-21.4 .28,11.8 .29,10.7 .29-4.7 .29-.7 .29-2.8 .28-7.8 .29,10.4 .29-.7 .29-2.4 .28-2.4 .29,1.3
l.29,7.2 .29-9.7 .28,7.7 .29-.2 .29-14.5 .29,18.7 .29-7.6 .28,4.5 .29-7.8 .29,1.4 .29,5.9 .28-2.1 .29,.3 .29-4.6
l.29,10 .29-9.2 .28,.3 .29,1.2 .29,2 .29-5 .28,.5 .29,1.6 .29,.7 .29-2.7 .28,.1 .29,7.9 .29,.5 .29-3.6 .29,1.5 .28-.7
l.29-1.7 .29-7 .29,5.8 .28-.5 .29-2.8 .29,6.6 .29-1.5 .28,6.9 .29-4.4 .29-6.5 .29,4.5 .29-.2 .28-8.4 .29-.7 .29,6.8
l.29,4.5 .28,1.9 .29-5.5 .29,4.9 .29-4.6 .29,2.1 .28-1.6 .29,1 .29-6.9 .29,6 .28-7.9 .29,9.1 .29-9 .29,11.5 .28-5.5
l.29,2.7 .29,3.1 .29-13.7 .29,8.5 .28,4.8 .29,2.7 .29-9.3 .29-.5 .28,2.5 .29,3.4 .29-.6 .29,3.5 .28-3.1 .29-.8 .29-4.5
l.29-.5 .29,8.3 .28,4 .29-16.8 .29,7.6 .29,3.9 .28-4.4 .29,4.7 .29-1.4 .29,8.8 .29-9 .28-8.8 .29,3.5 .29,4.7 .29-1.4
l.28-2.7 .29-1.6 .29,8.2 .29-2.4 .28-1.9 .29-3.1 .29,5.4 .29-3.6 .29-1.4 .28,3.2 .29-2.1 .29-3 .29,10.6 .28-6.2
l.29-.5 .29-8.1 .29,17.8 .28-5 .29,3.1 .29-1.9 .29-5.8 .29,5.7 .28-3.8 .29-.6 .29,1 .29-4.7 .28,2.2 .29,5.1 .29-1.7
l.29-3.2 .29,3.8 .28-4.6 .29,2.2 .29,2.1 .29-.8 .28,3.4 .29-6.2 .29,3.9 .29,.6 .28-1.9 .29-10.7 .29,4.4 .29,7.8
l.29,1.7 .28-7.5 .29,7.4 .29-9.4 .29,8 .28-7.8 .29-4.2 .29,10.3 .29-4.3 .28-.5 .29-7.1 .29-.3 .29,14.3 .29-9.4 .28,1
l.29,3.3 .29-1 .29,6.9 .28-.8 .29-3.5 .29,5.4 .29-7.4 .29,.7 .28-5.9 .29,11.4 .29-10.7 .29,4.2 .28,.3 .29,1.3 .29-.1
l.29,3 .28,1.1 .29-9.7 .29,15.5 .29-14.3 .29,2.6 .28,.6 .29-3.6 .29,4.5 .29-1 .28-1.9 .29,3.4 .29-4.8 .29,.4 .28,4.3
l.29-2.3 .29,5.9 .29-5.2 .29,.6 .28,6.9 .29-6.3 .29-2.3 .29,6.5 .28,1.5 .29-5.5 .29,2.4 .29,1.7 .29-4.5 .28,4.4
l.29-4.7 .29-4.2 .29,3.3 .28,.6 .29,5.2 .29-10.1 .29,6.8 .28-8.7 .29,9.9 .29-2.6 .29,5.8 .29-7.1 .28,7.5 .29-6.3
l.29-7.1 .29,4.2 .28,8.8 .29-9.7 .29,9.2 .29-3.8 .28,1 .29-.7 .29-1.4 .29,10.3 .29-15.1 .28,5 .29,4.1 .29-5.9 .29-5
l.28,10.8 .29-7.4 .29,3.3 .29-.8 .29,2.7 .28-2.6 .29-2.5 .29,9.5 .29-3.4 .28-1.1 .29,.2 .29,5 .29-4.9 .28,2.5 .29-6.8
l.29,1.7 .29-.7 .29-1 .28,3.7 .29,2.3 .29-7.5 .29,4.9 .28,.8 .29-9.9 .29,13.6 .29-10.2 .28-2.3 .29,7.4 .29,1.1 .29-4.3
l.29,5.2 .28,5.1 .29-13.7 .29-2.2 .29,12.9 .28-9 .29,2.2 .29,.9 .29-3.4 .29,5.1 .28-.6 .29-2 .29-.9 .29,12.1 .28-16
l.29,2.6 .29-2.3 .29,5.5 .28,3.8 .29-7 .29,0 .29-2 .29,1.2 .28,6.9 .29,1 .29-4 .29-2.7 .28,2.1 .29,1.9 .29-3.1 .29,8.8
l.28-7.7 .29,9.3 .29-17.3 .29,15.5 .29-16.2 .28,4 .29-.8 .29,1 .29,5.3 .28-2.1 .29-6.8 .29,11.8 .29-3.8 .29-5.3
l.28,7.2 .29-10.8 .29,12.9 .29-2 .28-3.7 .29,3.7 .29-2.2 .29-1.2 .28,.7 .29-2.4 .29-.2 .29,.1 .29,.5 .28,.5 .29-1.3
l.29-.2 .29-2 .28-3.8 .29,10 .29-10.9 .29,4 .28-.6 .29,6.6 .29-3.6 .29-.3 .29,2.6 .28-4.5 .29,8.4 .29-1.5 .29-7.6
l.28,1.9 .29,9 .29-9.2 .29,1.2 .29-3.2 .28,4.1 .29-.3 .29,4.4 .29-3.9 .28,1.2 .29-4.3 .29,11.4 .29-9 .28-5.2 .29,17.2
l.29-15.4 .29,1 .29,1.2 .28-1 .29,4.5 .29-7 .29,2.5 .28,9.1 .29-11.1 .29,8 .29-.8 .28-6.3 .29,3.5 .29-2.8 .29-.5
l.29,1.5 .28-2.5 .29,8.6 .29-14.8 .29,3.5 .28,6.7 .29-2.2 .29-7.8 .29,10.5 .29,3.2 .28-17.1 .29,3.1 .29,4 .29-6.2
l.28,5.2 .29-1.4 .29,.3 .29-1.1 .28,7.5 .29-4.9 .29-1.7 .29,6.1 .29,.6 .28-5.8 .29-8 .29,7.5 .29-5.9 .28-1.3 .29-.9
l.29,2.8 .29,10.5 .28,1.4 .29-5.3 .29-4.3 .29-1.4 .29,1.1 .28-1.2 .29-5.1 .29,7.8 .29-9.1 .28-.6 .29,10.1 .29-9.8
l.29,0 .29-3.5 .28-.6 .29,11.6 .29-20.6 .29,7.5 .28-5.2 .29-.9 .29,7.8 .29-5.8 .28-.7 .29-13.2 .29,15.7 .29-15.9
l.29,1.5 .28,3 .29,2.8 .29-6.3 .29-6.6 .28,6 .29-8.3 .29-4.7 .29-3 .28,2.5 .29-8.1 .29-3.6 .29,11.3 .29-7.8 .28-2.3
l.29-7.1 .29-11.7 .29-2.4 .28-3.4 .29,.4 .29-11.3 .29,7.5 .29-5.3 .28-12.3 .29-.4 .29-7.6 .29-2.4 .28-3 .29,0 .29-3
l.29-1.5 .28-2.3 .29-.8 .29-.3"/>
<path id="cufe" stroke="#ff0000" stroke-width="5" d="M253.50,1087.9
l.29-5.1 .29,15.1 .28-11 .29-3.3 .29,2.1 .29,3.7 .28,2.4 .29,.8 .29,3.4 .29-3.9 .28,3.2 .29-5.3 .29,.5 .29,1.6 .29-1
l.28-2.3 .29,6 .29-8.9 .29,2 .28-2.1 .29,4.2 .29-.7 .29-1.8 .29,0 .28,2.3 .29-.5 .29,.8 .29-.8 .28,1.6 .29,.1 .29,.8
l.29-11.3 .28,9.5 .29-2.8 .29,4 .29-5.4 .29-5.3 .28,9.1 .29-4.3 .29,.9 .29-4.6 .28,4.3 .29,0 .29,.5 .29,7.9 .28-14
l.29-3.3 .29,11.6 .29-8.1 .29,3.8 .28-7 .29,9.2 .29-4.7 .29-4.4 .28,3.5 .29,1.4 .29,1.1 .29,2.4 .29-3.6 .28,5 .29-12.5
l.29,5 .29,3.1 .28,6.3 .29-12.3 .29-1.5 .29,4 .28-2.2 .29-.1 .29,4.1 .29,.9 .29-2 .28-5.4 .29,8.4 .29,4.5 .29-8.1
l.28-.1 .29,.8 .29-1.4 .29,6.2 .28-1.6 .29-2.3 .29-1.7 .29-2.8 .29-1.2 .28,2.3 .29,1.5 .29,3.8 .29-2.5 .28,5 .29-4.1
l.29-5.5 .29-.8 .29,7.3 .28-10.4 .29,16.4 .29-13.7 .29,2.4 .28,.6 .29-2.8 .29,3.7 .29-12.7 .28,12.6 .29-.7 .29-3.2
l.29,10.6 .29-8.8 .28,5.9 .29-13.2 .29,8.6 .29-1.9 .28,7.7 .29-17.1 .29,16.6 .29-1.4 .28-3.5 .29,7.1 .29-4.6 .29-4.4
l.29-7.2 .28-.4 .29,10.7 .29-3 .29-6 .28-2.6 .29,9.5 .29-2.9 .29-1.3 .29-.9 .28,1.8 .29-10 .29,9.5 .29-6.9 .28,2.9
l.29-14.5 .29,9.7 .29,16.2 .28-12.5 .29,12.8 .29-16.5 .29,7.8 .29,8.6 .28-5.5 .29-3.2 .29-8.8 .29,6.3 .28-1.9 .29,5.4
l.29-1 .29,4.8 .28-5.4 .29-.6 .29-1.1 .29,3.6 .29-3.1 .28,1.1 .29-3.5 .29,4.2 .29-.2 .28,1.3 .29-1.1 .29-2.1 .29,3.5
l.29-11.2 .28,1 .29,3.1 .29-2.1 .29,9.6 .28-3 .29-.9 .29-3.6 .29-2.9 .28-.4 .29,11.2 .29-7 .29-5.9 .29,6.6 .28-3.7
l.29,10.5 .29-8.6 .29,1.4 .28,8.4 .29-13.9 .29-3 .29,2.6 .28,5.6 .29-1.1 .29,2.4 .29-6.4 .29,.6 .28-4.9 .29,7 .29-4.8
l.29,5.6 .28,2.3 .29-3.6 .29,4.1 .29-.1 .29-8 .28,.1 .29,7.2 .29,.5 .29-3.6 .28,2.7 .29-7.4 .29,5.1 .29,4.7 .28-2.3
l.29-6.4 .29-8.3 .29,7.6 .29,9.2 .28-2.3 .29-5.5 .29,1.6 .29-1.7 .28-9.4 .29,15.1 .29-.4 .29-4.8 .28-.5 .29-1 .29-3.1
l.29,4 .29-5.4 .28,4.2 .29-1.1 .29,10.3 .29-4.3 .28-2.5 .29-5.3 .29,6.4 .29,1.5 .29-1.2 .28-12.4 .29,15.9 .29-8.7
l.29,.8 .28-7 .29,3.5 .29,5 .29-6 .28-2.3 .29,8.1 .29,6.4 .29-2.4 .29-6.3 .28,5.2 .29-5.8 .29-5.1 .29,4.5 .28-10
l.29,11.5 .29,5.3 .29-7.2 .28-4 .29,11.7 .29-9.3 .29-6.1 .29,7.1 .28-8.1 .29,16.5 .29-10.4 .29,11.1 .28,.3 .29-1.5
l.29-12.7 .29,3.7 .29-5.6 .28,11.2 .29,4.2 .29-13 .29,7.8 .28,4.1 .29-11.7 .29-1.4 .29,9 .28-4.7 .29-2.1 .29,7.4
l.29-.7 .29-5.6 .28-7 .29,13.1 .29-9.1 .29,1 .28,1.9 .29,1.9 .29,3.2 .29-7.8 .28,3.9 .29,12 .29-14.4 .29,5.6 .29-3.4
l.28-11.2 .29,8.6 .29,12.3 .29-8.5 .28,3.5 .29-11.1 .29,22.2 .29-20.1 .29,2.6 .28,2 .29-4.1 .29-7.2 .29,18.8 .28-7
l.29-2.6 .29-.4 .29,1.4 .28-3.9 .29,1.7 .29,2.8 .29,7.4 .29-13.3 .28-4.2 .29,1.3 .29,3.9 .29-4.2 .28,13.9 .29-12
l.29,2.2 .29,2.1 .28-6.4 .29,6.8 .29,1 .29,3.2 .29,4.2 .28-7.2 .29-11.6 .29-.7 .29,12.8 .28-4.1 .29-7.2 .29,13.3
l.29-3 .29,4.9 .28-15.9 .29,11.7 .29-1.4 .29-1.8 .28,4.2 .29-18 .29,7.2 .29-5.1 .28,21.9 .29-15 .29,4.9 .29,4.9
l.29-6.4 .28-8.2 .29,2.3 .29,8.8 .29-21.1 .28,12.1 .29,10.3 .29,.1 .29-1.1 .28-3.1 .29,2.3 .29,.6 .29-8.6 .29,8.5
l.28-4.3 .29,4 .29-2.1 .29-7.7 .28,6.1 .29-4 .29,4.4 .29-6.4 .29,6.2 .28-6.4 .29,13 .29-12.9 .29,3.5 .28,7.4 .29-1.4
l.29,7.1 .29-9.2 .28-2.4 .29,3.8 .29-8.4 .29,17.2 .29-10.4 .28,5.6 .29-3.9 .29-7.3 .29,4.6 .28-8 .29,9.9 .29,1.6
l.29-2 .28,6.4 .29-3.2 .29-4.3 .29-5.3 .29,10.4 .28-.5 .29,3.7 .29-.9 .29-7.1 .28-.5 .29-1.4 .29,3.2 .29-7 .29,15
l.28-9.2 .29-3.6 .29,5.2 .29-4 .28,3.5 .29,.8 .29-2.8 .29,4.3 .28-3.3 .29-3.4 .29,9.1 .29-9.4 .29-2.6 .28-2.6 .29,10.5
l.29-7.7 .29,15.9 .28-2.5 .29-7.6 .29,6.3 .29-.9 .28,.5 .29-3.6 .29,1.8 .29,1.6 .29-4.7 .28,2.6 .29-2.8 .29-1.6
l.29-1.2 .28,4.1 .29,1.1 .29,.1 .29,3.5 .29-8.1 .28,2.8 .29-5.8 .29,4 .29,4.3 .28-7.1 .29,6.1 .29-1.1 .29-2.8 .28,1.3
l.29,5.3 .29-7.6 .29,1.7 .29,2.1 .28,1 .29-2.2 .29,9.1 .29-14.5 .28,19.8 .29-7.6 .29-.1 .29-7.1 .28,1.9 .29-1.5
l.29,8.2 .29-12.5 .29,1.7 .28,15.5 .29-11.7 .29,11.1 .29-7.1 .28-5.6 .29,2.8 .29,7 .29-3.5 .29-8.7 .28,4.7 .29-2.8
l.29,12.6 .29-11.4 .28,1.8 .29,5.9 .29-12 .29,7.5 .28-4.7 .29,7.2 .29-4.6 .29-.6 .29,3.4 .28-1.1 .29-1 .29,2.2 .29,6
l.28-8.1 .29,2.4 .29-1.8 .29,5.5 .28-11.9 .29,3.2 .29-2.3 .29-2.5 .29,4.6 .28,6.7 .29,5 .29-12.2 .29,4.5 .28-2.8
l.29-2.4 .29,7.7 .29,3.9 .29-6.7 .28,4.4 .29,2.1 .29-6.1 .29,3.3 .28-3.7 .29,8.2 .29-4.9 .29,.8 .28-1 .29,3 .29-6.3
l.29,10.8 .29-9.5 .28-3.2 .29,5.7 .29-.3 .29,4.3 .28-5 .29-.8 .29,1.4 .29-.9 .28-.7 .29,1.7 .29,10.4 .29-3.4 .29-5
l.28-11.2 .29,5.5 .29,5.6 .29,1 .28,1.3 .29-5 .29,4.6 .29-1.7 .29,4.8 .28-2.1 .29,2.9 .29-.8 .29-2.1 .28-7.5 .29,4.3
l.29-3.4 .29,7.7 .28-3.5 .29,4.5 .29-2 .29,0 .29,7.4 .28-8.1 .29,6.3 .29-8.2 .29,5.7 .28,4.8 .29-1.8 .29-1.3 .29-11.3
l.28,13.5 .29-4.2 .29-2.5 .29,1.8 .29-.4 .28-3.5 .29,7 .29-11.8 .29,2 .28,5.8 .29-5.5 .29,6.3 .29,2.8 .29,4 .28-2.4
l.29-5.9 .29,1.3 .29-6 .28,.4 .29,3.4 .29,3.9 .29-7.8 .28,9 .29,11.7 .29-10.2 .29-3.3 .29-.4 .28,.2 .29-.8 .29,16.5
l.29-23.5 .28,8.7 .29,2.5 .29,10 .29-13.2 .28,9.2 .29,4.9 .29-12.3 .29,.5 .29,3.5 .28,4 .29-6.3 .29,2 .29-1.1 .28-.2
l.29,9.6 .29-9.2 .29,8.5 .29-8.1 .28,4.3 .29,.9 .29-10.1 .29,7.1 .28,.3 .29-2.6 .29-6.5 .29,24.6 .28-16.1 .29,2.4
l.29-5 .29,5.6 .29,.6 .28-2.9 .29,3.3 .29,4.3 .29-4.1 .28-8.6 .29,6.3 .29,14.3 .29-10.2 .28,4.3 .29-9 .29,10.3 .29-4.8
l.29-2.6 .28-1.3 .29,7.3 .29-4.1 .29-9.3 .28,14.4 .29-3.2 .29,4.7 .29-3.1 .29-3 .28,2.4 .29-2.7 .29,9.7 .29-6.6
l.28,2.5 .29,12.6 .29-18.9 .29,5 .28,3.7 .29-7.8 .29,2.9 .29,14.2 .29-13.3 .28-9.2 .29,10.5 .29-2.3 .29,12.4 .28-.3
l.29-.3 .29-11.8 .29,1 .28,16.8 .29-16.1 .29,14.7 .29-3 .29-6 .28,3.1 .29-2.8 .29-.9 .29-4.4 .28,8.3 .29,1.1 .29,.5
l.29-14.8 .29,6.3 .28,.1 .29,3.3 .29,1.8 .29-5.5 .28,7.5 .29,7.3 .29,.7 .29-19.6 .28,17.5 .29-1.5 .29-2.2 .29-5.6
l.29,10.8 .28-4.1 .29-2.6 .29,8.3 .29-6.2 .28-4.7 .29,4.4 .29,1 .29-1.7 .28,3 .29,2.1 .29,.7 .29-6.3 .29,12.2 .28-1.8
l.29-9.3 .29-1.7 .29,5.5 .28,4.9 .29,3.9 .29-10.3 .29,2.3 .29-.5 .28-.1 .29,7.3 .29-1.1 .29-2.8 .28,.6 .29,7.1 .29-1.5
l.29-4.7 .28-7.3 .29-4.4 .29,10.4 .29,2.9 .29-2.7 .28,1.3 .29,4.7 .29,11.5 .29-15.9 .28,4 .29-2.4 .29,4.5 .29-2.8
l.28-2.1 .29,7.3 .29-2.8 .29-6 .29-.6 .28,12.3 .29-12 .29-2.1 .29,4.3 .28,0 .29,1.7 .29-1 .29,4.3 .29-8 .28,6.3
l.29,6.9 .29-9 .29-1.5 .28,2.6 .29,6.7 .29-7.3 .29,16.6 .28-21.1 .29,5.5 .29,11.2 .29,1.5 .29-20.5 .28,10.2 .29,4.7
l.29-4.7 .29,2.8 .28,.1 .29-2.1 .29,.3 .29,6.5 .28-6.1 .29,.6 .29,5.8 .29-8.7 .29,2.1 .28,7.4 .29-12.8 .29,6 .29-3.6
l.28,9.9 .29-1 .29-2.6 .29,3.4 .29-1.4 .28,5.8 .29-15.7 .29,7.2 .29-3.4 .28-1.7 .29,8.4 .29-9.1 .29,20 .28-8.7 .29,1
l.29-2.1 .29,5.3 .29-9 .28-4.8 .29,8.2 .29-1.5 .29,12.8 .28-6.3 .29-4.9 .29,5.1 .29-4.3 .28,3.4 .29-3.2 .29,8.1
l.29-8.4 .29-3.9 .28,3.5 .29-6.2 .29,10.1 .29-4.1 .28,10 .29-10 .29,2.2 .29,3.7 .29-6.1 .28,10.5 .29-3.8 .29-2.3
l.29,6.1 .28,.1 .29-8.7 .29,6.3 .29,3.2 .28-2.2 .29,.6 .29,1.1 .29-4.8 .29,6.5 .28,2.1 .29-6.6 .29,.8 .29-5.6 .28,11.5
l.29-3.1 .29-6.8 .29,3.1 .28,4.3 .29,1.4 .29-6.5 .29,3.4 .29,3.7 .28-1.4 .29,0 .29-5.7 .29,15.5 .28-8.4 .29-7.7
l.29,13 .29-6 .29-4.7 .28,9.7 .29-3.2 .29,1.6 .29-4.3 .28,3.8 .29,2 .29-4.8 .29-.3 .28-3.8 .29,6.8 .29-.8 .29,2
l.29-7.4 .28,0 .29,8.9 .29,6 .29-17.4 .28,16.6 .29-.3 .29-5 .29-10.4 .28,3.6 .29,6.1 .29-3.9 .29,3.9 .29-5.3 .28,6.9
l.29-8.6 .29,4.6 .29,5.1 .28,5.1 .29-12.1 .29,2.9 .29,6.6 .29-.1 .28-1.6 .29-.4 .29-.5 .29-.5 .28,.1 .29,2.6 .29-10.9
l.29,10.1 .28,1.7 .29-4.8 .29,6.2 .29-5.4 .29,1.4 .28-3.6 .29,8.7 .29,4.1 .29-12.8 .28,5.9 .29-8 .29,4.5 .29,5.2
l.28-3.2 .29,6.5 .29-.6 .29-4 .29-.3 .28,7.7 .29-10.1 .29,1.2 .29-2 .28,10.6 .29-8.3 .29,5.2 .29-.4 .29-6.2 .28,4.2
l.29-1.9 .29-1.2 .29-.8 .28,8.7 .29,.2 .29-5.2 .29-.7 .28,5.5 .29-4.5 .29,5.3 .29-2.2 .29-.6 .28-1.2 .29-1.7 .29,4.2
l.29-1.9 .28,4.2 .29-6.3 .29,.8 .29,4.6 .28-9.9 .29,8.3 .29,.9 .29,.7 .29-3.1 .28,1 .29,3.3 .29-4.3 .29-2.2 .28-1.5
l.29,3.7 .29,3.6 .29,1.9 .29-5.1 .28-2.7 .29-3.8 .29,10.4 .29,3.2 .28-.3 .29-5.1 .29-1.1 .29,5.8 .28,2 .29,3.1 .29-10.3
l.29,9.2 .29-8.2 .28,3.3 .29,7.3 .29-3 .29-8.4 .28,4.1 .29,1.1 .29-5.6 .29,5.2 .28-.4 .29,.1 .29,.3 .29-3.9 .29,6.6
l.28-6.3 .29-1.6 .29,8.3 .29-3.8 .28,6.7 .29-4.8 .29-4.4 .29,1.3 .29,5.4 .28-3.7 .29,.5 .29,1.6 .29,0 .28-7 .29,18.2
l.29-7.8 .29-5.7 .28,4.1 .29-1.7 .29,.3 .29,2.2 .29-.8 .28,3.2 .29-2.8 .29-2.9 .29-.8 .28,2 .29,3.2 .29,.7 .29,5.2
l.28-5.8 .29,3.2 .29-.9 .29-1.2 .29-1.5 .28-.1 .29,.6 .29,4.5 .29-2.4 .28-4.3 .29,3.2 .29-1.9 .29,1.5 .29-5.5 .28-.5
l.29-3.5 .29,11.5 .29-4.4 .28,8.2 .29-7.7 .29,1.1 .29,3.4 .28-7 .29,5.1 .29,6.7 .29-11.6 .29,5.5 .28-2.6 .29,5.7
l.29,.5 .29,1.9 .28-.4 .29-6.8 .29,.8 .29,8.5 .28-6.2 .29,.1 .29,3.1 .29-3.9 .29,4.3 .28-6.6 .29,5 .29-1.6 .29,14
l.28-11.2 .29-1.7 .29,2.6 .29-1.4 .29,2.9 .28-6.8 .29,7.4 .29-2.6 .29-6.5 .28,1.1 .29,4.7 .29,4.8 .29,2.6 .28-8.8
l.29,.9 .29,2.1 .29,.1 .29-9.1 .28,4.7 .29,3.4 .29,1 .29,.6 .28-2.5 .29,2.3 .29-1.2 .29,2.1 .28-4.4 .29,2 .29,5.3
l.29-15.2 .29,10 .28,2.9 .29,3 .29-4.9 .29,2.7 .28-8.6 .29,4.5 .29,4.3 .29,4.6 .29-9.7 .28,9.5 .29-8.1 .29,1.4 .29,11.1
l.28-9.4 .29-7.1 .29,9.7 .29,5.3 .28-2 .29-6 .29-1.4 .29-1.9 .29,2.2 .28,4.7 .29-1.8 .29-.7 .29-.2 .28,4.2 .29-7.1
l.29-1.6 .29,4.7 .28-1 .29,5.5 .29-5.5 .29,3.9 .29,.4 .28-6.3 .29,2.6 .29,2.4 .29,4.5 .28-6.2 .29-6.1 .29,5.1 .29,.4
l.29-3.7 .28-3.3 .29,5.9 .29-1.7 .29,3.2 .28-1.1 .29,.3 .29-2.5 .29,6.1 .28-2.9 .29,.1 .29,1.6 .29,2 .29-5.3 .28,4.6
l.29,4.5 .29-8.5 .29,8.2 .28-8.3 .29,12.5 .29-9.4 .29-6.7 .28,7.6 .29-5.1 .29,6 .29,1.4 .29-1.7 .28-4.6 .29-1.2
l.29-.4 .29,2.1 .28,3.5 .29,7.6 .29-4.7 .29-8.4 .29,11.8 .28-7.8 .29,.3 .29,8.1 .29-7.6 .28,2.9 .29-2.1 .29,1.2
l.29,.5 .28,2.8 .29,4.1 .29-14.1 .29,10 .29-2.2 .28,.5 .29-.2 .29,1.7 .29-4.8 .28,2.2 .29,1.9 .29,.5 .29-4.1 .28,5.4
l.29-5.4 .29-2.9 .29,1 .29,2 .28,8.4 .29-9 .29,1.8 .29-4.1 .28,7.3 .29-.3 .29-7.2 .29,8.6 .29-7.3 .28,3.1 .29,10.6
l.29-7.5 .29,.2 .28,3.3 .29,2.2 .29-7.3 .29,4.2 .28-1.3 .29,1.2 .29-2.6 .29-2.8 .29-1 .28,1.1 .29,3.4 .29-.7 .29-2.7
l.28-2.5 .29,5.1 .29,4.6 .29-5.9 .28-1.2 .29,4.1 .29-6.1 .29,6.3 .29-1.7 .28-1.4 .29-4.5 .29,10.5 .29-6.4 .28-.9
l.29,3.5 .29-4.3 .29,6.4 .29,2 .28,.3 .29-2 .29,1.5 .29-5.9 .28,1.9 .29,5.5 .29-11.3 .29,5.1 .28,7.2 .29,.8 .29-7.2
l.29-4.8 .29,6.3 .28-4.7 .29-2.5 .29,3.5 .29,4 .28,3.7 .29-2.4 .29-7.4 .29,4.9 .28,3.9 .29-2.2 .29-.7 .29-5 .29,6.5
l.28-9.2 .29,6.2 .29-.4 .29,5.6 .28-5.7 .29,.5 .29-1.7 .29,5.5 .29-3.5 .28,6.7 .29-2 .29-12.5 .29,10.6 .28,1.2 .29-6.2
l.29,4 .29-10.5 .28,9.7 .29-2.4 .29,3.7 .29-5.3 .29,4.2 .28-10.1 .29,13 .29-4.4 .29-1 .28,7.1 .29-2.2 .29,1 .29,3.4
l.28-7.5 .29,12.1 .29-5.9 .29-.6 .29-5.3 .28,1.7 .29-4.5 .29-.6 .29,4 .28,4.3 .29-6.4 .29,5.5 .29-1.5 .29-1.3 .28-5.5
l.29-4.4 .29,5.4 .29,6.4 .28-5.3 .29-1.3 .29,8.1 .29-3.8 .28,3.1 .29-.2 .29-2.7 .29-.2 .29,3.5 .28-3 .29,4.8 .29-4
l.29-1.2 .28,2.4 .29,4 .29-2.9 .29-4.3 .28-2.1 .29,0 .29-.2 .29-2.7 .29,8.2 .28-5.9 .29,7.3 .29-9.5 .29,2.9 .28,7.4
l.29-6.4 .29-1.1 .29,6.8 .29-4.3 .28-2 .29-3.7 .29,9 .29-7.8 .28,9.6 .29-.7 .29-8.1 .29,2.2 .28,5.7 .29-8.6 .29,3.8
l.29,1.2 .29,1.8 .28,8.6 .29-9.7 .29-3.5 .29,3.7 .28-2.9 .29,3.1 .29-5.5 .29,16 .28-12.7 .29,5.3 .29-4.2 .29-1.7
l.29-1.9 .28,1.3 .29-1.4 .29,8.2 .29-4.3 .28,8.7 .29-9.4 .29,7.4 .29-10.1 .29,3.2 .28,1.8 .29,1.4 .29-3.1 .29,2.9
l.28,3.1 .29-6.8 .29,4.7 .29-5 .28,5.3 .29,1 .29-12.9 .29,6.1 .29-2.3 .28,5.5 .29-.9 .29-.1 .29-7.4 .28,4.8 .29,2.2
l.29,.5 .29-.4 .28-3.8 .29,3.8 .29-.1 .29-4.9 .29,1.4 .28,.6 .29-4.4 .29,7.7 .29,3.8 .28,1.9 .29-5.9 .29-1.1 .29-2.8
l.29,9 .28-.4 .29-4.2 .29,.3 .29,4.2 .28-4.6 .29-3.3 .29,3.5 .29-9.7 .28,6.1 .29,5.7 .29-2.2 .29,4.5 .29-13.4 .28,9.1
l.29,.1 .29-3.9 .29,3.9 .28,1.3 .29-2.3 .29-4 .29-.1 .28,9 .29,1 .29-7.9 .29,2.9 .29,.5 .28-5.7 .29,2.2 .29,3.6
l.29-4.2 .28,5.1 .29-.9 .29-9.1 .29,8 .29-3 .28,3 .29,.2 .29,3 .29,0 .28-9.1 .29-3.6 .29,5.7 .29,.4 .28,4.2 .29-1.9
l.29-6 .29-4.1 .29,7.1 .28,1.1 .29-2.7 .29,3.6 .29,3.4 .28,.4 .29-2.3 .29,.5 .29,7.4 .28-2.2 .29-9.9 .29-.6 .29,.5
l.29,4 .28,1.6 .29-2.4 .29-1.4 .29,3 .28-6 .29,6.7 .29,6.3 .29-11.5 .29-.9 .28,4.1 .29-4.7 .29-.6 .29,14.3 .28-11.4
l.29,6.1 .29-7.2 .29,1.6 .28-2.2 .29,4.1 .29,1.3 .29-3.4 .29-8.2 .28,7.5 .29,5.6 .29-3.8 .29,.7 .28-5.8 .29,4.3
l.29,1.7 .29-1.9 .28,3.3 .29-4.5 .29,5.9 .29-2.4 .29-2.6 .28,6 .29-.2 .29-2.1 .29-8.6 .28,2.3 .29,2.9 .29-3.6 .29,.5
l.29,5.6 .28,1.8 .29-8.8 .29,7.1 .29-5.1 .28,8.4 .29-5.7 .29,4.5 .29-7.4 .28-.4 .29,1.4 .29-1.6 .29,5.1 .29-3.7
l.28-.7 .29,5.6 .29-5.8 .29,1.3 .28-.8 .29,2.7 .29-.8 .29-2 .28,1.3 .29-1.8 .29,7.3 .29-8.8 .29,6.7 .28-7.1 .29,9.5
l.29-3.2 .29-3.4 .28-.6 .29,3.2 .29,1.7 .29-5.8 .29-1.7 .28,7.4 .29,1.1 .29-2.3 .29-1.9 .28,6.2 .29-2.8 .29-6.5
l.29,5.5 .28,.1 .29-9.1 .29,1.7 .29-2.3 .29,6.3 .28,.5 .29,1 .29,4 .29,2.4 .28-7.8 .29,2.6 .29-5.4 .29-1.4 .28,9.6
l.29-.7 .29-6.2 .29-4.6 .29-.7 .28,8.7 .29-3 .29-5.3 .29,8.3 .28,.9 .29-9 .29,7.8 .29,1.9 .29-10.9 .28,7.8 .29-.2
l.29-3.9 .29-3.6 .28,2.7 .29,2.1 .29-.8 .29-.1 .28,.5 .29,7.8 .29-7.9 .29,6.3 .29-2.4 .28-3.4 .29,.9 .29-1.9 .29,1.5
l.28-2 .29-5.3 .29,11.3 .29-8.5 .28-3 .29,8.8 .29-.4 .29-1 .29-2.2 .28,4.5 .29-1.4 .29-1.3 .29-.4 .28-5.3 .29,7.3
l.29-5.1 .29,0 .29,2.3 .28,.2 .29,3.6 .29-.4 .29-4.3 .28,.5 .29,1.9 .29-5.5 .29,3.9 .28,.2 .29,.8 .29-4.7 .29,1.9
l.29,.9 .28,6.1 .29-11.5 .29,11.9 .29-7 .28,6.1 .29,1.5 .29,6.3 .29-12.8 .28-.6 .29,2.6 .29,.4 .29,3.4 .29-5 .28,.9
l.29,4.6 .29-3.9 .29-.6 .28,3.1 .29-8.7 .29,9.4 .29-12.7 .29,3.1 .28,6.2 .29-8.1 .29,1.9 .29-.5 .28,4.1 .29,4.5
l.29,4.3 .29-9.3 .28,1.5 .29,1.8 .29-10.3 .29,6.1 .29,7.7 .28-5.3 .29-2.6 .29,6.8 .29-5.6 .28,2.1 .29,4.4 .29-7.4
l.29-1 .28,12.7 .29-11.9 .29,4 .29-1 .29,5.2 .28-2.7 .29-10.7 .29,4.1 .29,3.4 .28-1 .29,3.5 .29-2.7 .29,2.8 .29-4.3
l.28,5.3 .29-5.1 .29-2.3 .29,4.3 .28-2.1 .29-.3 .29,3.1 .29,3.4 .28-9.6 .29,3.8 .29,1.5 .29-6.1 .29,8.1 .28-1.3
l.29,.8 .29,1.2 .29-3.4 .28,1.9 .29-7.9 .29,7.9 .29-7.3 .28,8.2 .29-2.2 .29-1.4 .29,3.5 .29-6 .28,4.9 .29,.2 .29-5.2
l.29,5.5 .28-5.3 .29-1.7 .29,1.1 .29-2.4 .29,7 .28-6.4 .29,6.8 .29,4.3 .29-5.7 .28-8.1 .29,11.3 .29-10.7 .29,12.3
l.28-8.9 .29,1.5 .29,3.7 .29,6.9 .29-11.3 .28,.1 .29,.6 .29-1.9 .29,6.9 .28-10.8 .29,4.2 .29,6.4 .29-11.4 .28,8.4
l.29-1.8 .29-1.4 .29,6.5 .29,.1 .28-2.8 .29,3.8 .29-3.6 .29-6.2 .28,9.7 .29-4.7 .29,2.5 .29-5.4 .29,7.7 .28-.2 .29-3.6
l.29-8.4 .29,11.5 .28,2.9 .29-2.7 .29-6.6 .29-.8 .28,3.8 .29-1.3 .29,6.4 .29-6.9 .29,2.1 .28,1.8 .29-6.3 .29-.2
l.29,5.9 .28-2.7 .29,8.3 .29-3.4 .29-9.1 .28,9.4 .29-.8 .29-7.9 .29,13.2 .29-6.2 .28-5.6 .29,4.6 .29,1.7 .29,.6
l.28-4.8 .29,4.4 .29-4.8 .29,1.7 .29-.6 .28-4.3 .29,6.1 .29,1.8 .29-3.7 .28-1.1 .29,1.7 .29,5.9 .29-9.2 .28,9.3
l.29,.9 .29-11.3 .29-2.2 .29,6.9 .28,2.1 .29-8.6 .29,10.4 .29-5 .28,2.1 .29-4.6 .29,1.1 .29,4.2 .28-7.3 .29,1.4
l.29,2.8 .29,1.1 .29-.8 .28,4.5 .29-4 .29,.1 .29-3.1 .28,2.9 .29,.7 .29-2.5 .29-2.8 .29,1.5 .28,2.7 .29,1.2 .29-7
l.29,5.2 .28,4.7 .29-5.5 .29,7.6 .29-4.8 .28-4.6 .29,3.2 .29,.6 .29-4.2 .29-1.7 .28,8.3 .29,.6 .29-1.6 .29,1.6 .28-6.3
l.29-1 .29,3.2 .29,3.7 .28,2 .29-5.5 .29,2.4 .29-4.7 .29,6.6 .28-2.8 .29-.6 .29-5.5 .29,.9 .28,1.1 .29,1 .29-1.8
l.29,9.6 .29-10.5 .28,4.4 .29-6.7 .29,2.2 .29-1.2 .28,7.2 .29-13.9 .29,8.9 .29,1.1 .28,3.3 .29-3.6 .29,9.5 .29-13.4
l.29,3.3 .28,2 .29-5.5 .29,3.2 .29,.2 .28,3.7 .29-3.3 .29,5.8 .29-.2 .28-5 .29,3 .29,2.8 .29-4.5 .29,6.3 .28-13.2
l.29,9.5 .29,0 .29-9.5 .28,11.7 .29,2.8 .29-8.6 .29,1 .29-5 .28,4.2 .29,6 .29-6.8 .29,1.4 .28-5.9 .29,3.7 .29,4.7
l.29-1 .28-2.8 .29,1.7 .29-2.5 .29-.3 .29,5.5 .28-5.4 .29-2.4 .29,7.8 .29,.9 .28-8.6 .29,.7 .29-1.5 .29-3.3 .28,7.3
l.29,3.5 .29-5 .29,3.4 .29-4.1 .28-1.5 .29,2.4 .29-1.8 .29,2.1 .28-1.1 .29,5.4 .29-11.1 .29,9.1 .29-1.1 .28,1.1
l.29-1.8 .29,.6 .29,6 .28-14 .29,4.5 .29,2.5 .29-1.1 .28-4.2 .29,.6 .29,2 .29-2.4 .29,13.5 .28-13.6 .29,4.2 .29,2
l.29,1 .28-4.5 .29,7 .29-8.2 .29,4.2 .28-6 .29,9.7 .29-8.6 .29,3.2 .29,2.8 .28-9.7 .29,.4 .29,8 .29-2.7 .28-7.1
l.29,5.3 .29,2.8 .29,1.1 .29-.8 .28-5.5 .29-1.5 .29,5.1 .29,2.5 .28-1 .29,3.8 .29-9.1 .29,1.8 .28-4.5 .29-4.8 .29,3.5
l.29,6.9 .29-.4 .28,3.8 .29,2.9 .29-16 .29,6.4 .28,7.1 .29-9 .29,11.1 .29-7.7 .28-1.4 .29,2.9 .29-.6 .29-5.4 .29,5.2
l.28-6.9 .29,11.8 .29-5.7 .29-8.7 .28,11 .29-.2 .29-4.3 .29,1.9 .29-3 .28-3.2 .29,1.7 .29,1.3 .29,2.4 .28-2.6 .29-3
l.29,7.3 .29-2 .28,2.8 .29-4.7 .29-.8 .29,2.8 .29,2.1 .28-1.5 .29-5.9 .29,4.9 .29-5.9 .28,5.8 .29,.6 .29-6.5 .29,6.4
l.28-8.1 .29,13.6 .29-9.1 .29,2.1 .29-.7 .28-2.8 .29,9.1 .29-17 .29,10.4 .28-12.1 .29,6.7 .29,2.4 .29,7.2 .29-13.7
l.28,4.3 .29-2.4 .29,11.3 .29,.8 .28-5.8 .29-4 .29-1.2 .29-1.9 .28,8.6 .29,1.9 .29-8.9 .29,7.2 .29-4.1 .28-9 .29,10.3
l.29-3.5 .29,.3 .28,1 .29-1.8 .29-.6 .29,1.7 .28-6.3 .29,2.3 .29,8.1 .29-10.5 .29,5.4 .28,1.1 .29,2.4 .29-6.6 .29,3.3
l.28,3 .29,0 .29-8.5 .29,6.1 .29,.1 .28-12.5 .29,9.1 .29-1.5 .29,2 .28,.5 .29,3.8 .29-7.2 .29,1.6 .28,4.5 .29-3.3
l.29-8 .29,6.1 .29,.7 .28,2.8 .29-.5 .29-4.9 .29-1.5 .28,2.6 .29-3.2 .29,7.2 .29-2 .28-3.4 .29-3.6 .29,6.7 .29-6.2
l.29,8.4 .28-9.4 .29-1 .29,6.6 .29-3 .28-1.9 .29,5.8 .29-1.4 .29,0 .29-4.4 .28-1.8 .29,7.6 .29-1 .29-6.1 .28,5.3
l.29-2.1 .29-4.5 .29,3 .28-4.5 .29,3.9 .29,.7 .29,2.4 .29,6.2 .28-8.1 .29,5.9 .29-11.4 .29-.1 .28,1.1 .29-3.1 .29-4.5
l.29,16.3 .28-7.1 .29-4.3 .29,4.3 .29-.8 .29-5.4 .28,2.2 .29,8 .29-12.5 .29,9.5 .28-4.7 .29-1.8 .29,9.6 .29-15 .29,4.3
l.28,.9 .29-2 .29,4.2 .29-4.3 .28-.1 .29,12.2 .29-4.6 .29-9.6 .28,8.4 .29-7.2 .29,2.8 .29-4.2 .29,10.7 .28-8.6 .29,.2
l.29-1.5 .29-.1 .28,.4 .29-1.5 .29-.8 .29,4.3 .28-9.1 .29,5.9 .29,2.5 .29-5.9 .29,9 .28-11.4 .29,5.9 .29-2.1 .29-.1
l.28-2.3 .29,4.7 .29-1.1 .29-4 .29,4.1 .28-2.9 .29,.1 .29,.7 .29,1.2 .28,.3 .29-2.2 .29,3.2 .29-.7 .28-17.5 .29,11.5
l.29-4.4 .29,2.4 .29-2.3 .28,2.2 .29-4.3 .29,3.2 .29-.8 .28,6.3 .29-10.3 .29,4.9 .29-1.2 .28-2.5 .29,.3 .29,.7 .29-6.2
l.29,9.1 .28,4.7 .29-8.1 .29,8.2 .29-9.9 .28-7 .29-1.9 .29,11.5 .29-7.3 .29,6.7 .28-7.6 .29-5.3 .29,8.5 .29-10.5
l.28,5.2 .29-11.6 .29,14.2 .29,.7 .28-10.9 .29,1.2 .29,.7 .29,5.6 .29-5 .28,2.4 .29-10.5 .29,3.5 .29,5.3 .28-.1
l.29,2.1 .29-4.9 .29-3.6 .28-3 .29-4 .29,6.5 .29-9.3 .29,14.7 .28-10.3 .29-4.6 .29,4.5 .29-4.7 .28-3.9 .29,5.5 .29-4.9
l.29-5.7 .29,10.1 .28-12.7 .29,4.8 .29,5.3 .29-10.5 .28-3 .29,2.8 .29-4.2 .29-2.3 .28,.5 .29-2.1 .29-5.3 .29-1.5
l.29,2.1 .28,7.6 .29-4.9 .29-6.7 .29-10.1 .28,1.2 .29-9 .29,4.5 .29-2.3 .28,1.5 .29-11 .29,11.1 .29-12 .29-.4 .28-1
l.29-11.3 .29-1.9 .29-2.1 .28,.3 .29,2.6 .29-4.7 .29,2.7 .29-11.3 .28-14.2 .29-11.4 .29,9.6 .29-19.5 .28-9.9 .29-1.5
l.29-10.2 .29,3.6 .28-4.6 .29-12.5 .29-12.6 .29-5.9 .29-7.9 .28-13.9 .29-.7 .29-21.8 .29,4.2 .28-33.8 .29-14.1 .29-20.6
l.29,2.2 .28-19.4 .29-16.2 .29-17.7 .29-17 .29-35.8 .28-17.9 .29-23 .29-17.9 .29-27.8 .28-24.8 .29-16.2 .29-18 .29-13.2
l.29-11.7 .28-6.6 .29-2.3 .29,2.2 .29,6.8 .28,10.4 .29,14.9 .29,17.9 .29,21.1 .28,22 .29,17 .29,21.4 .29,26.6 .29,22.5
l.28,23.3 .29,16.9 .29,13 .29,24.4 .28,21.9 .29,7 .29,16.9 .29,29.5 .28,5.4 .29,2 .29,16.7 .29,13.5 .29,7.2 .28,19.2
l.29,8.8 .29,1.8 .29,6.3 .28-2 .29,17.5 .29,3.8 .29-1.5 .29,18.8 .28,3.5 .29,3.2 .29,3.5 .29,5.3 .28,1.2 .29,15.2
l.29,4.7 .29-3.3 .28,12.3 .29-14.8 .29,16.8 .29,1.9 .29-3.5 .28,4.4 .29,1.4 .29,6 .29,9.5 .28-3.8 .29,5 .29,7.8
l.29-5.3 .28-4.6 .29,12 .29,.9 .29,2 .29-6.2 .28,16.5 .29-11.6 .29,3.5 .29,2.7 .28,5.8 .29-2 .29-10 .29,10.2 .29,4.5
l.28-5 .29,11.8 .29-10.9 .29,7.4 .28-12.2 .29,2.6 .29,9.3 .29,1.8 .28,5.1 .29-3.9 .29,.1 .29,11.4 .29,1.6 .28-9.4
l.29,6.4 .29-2.8 .29,1 .28,.5 .29,2.7 .29-3.5 .29-3.3 .28-.3 .29,10.4 .29-1.7 .29,.8 .29,8.3 .28,.9 .29-6.4 .29-2.3
l.29-.9 .28,7.4 .29-5.8 .29,4.3 .29,2 .29-6.4 .28,13.4 .29,3.4 .29-20 .29,9.9 .28-3.5 .29,4.7 .29,3.2 .29,2.6 .28,3.5
l.29-9.2 .29,6.3 .29-4.1 .29-1.5 .28,2 .29-.4 .29-6.3 .29,6 .28,.5 .29,2.3 .29-7.3 .29,1 .28,9.1 .29-4.3 .29,2.8
l.29,1.7 .29,2.5 .28-12.5 .29,6.1 .29,12.8 .29-14.7 .28-3 .29,7.9 .29,1.1 .29-.7 .29-3.4 .28,7.1 .29-4.2 .29,9.2
l.29-12.3 .28,11 .29-3.3 .29-3.5 .29-2.6 .28,8.3 .29,.1 .29-10 .29,10.2 .29,1 .28-1.2 .29-5.3 .29,.1 .29-1.3 .28,2.9
l.29,4.1 .29-3.8 .29-1.2 .28,9 .29-2.3 .29-2.5 .29-7.5 .29,9.2 .28-1.6 .29,.3 .29-1.3 .29-1.1 .28,7.9 .29,8.5 .29-16.5
l.29,13.5 .29-10.9 .28-.3 .29-1.2 .29,8.2 .29-6.1 .28-1.4 .29,.1 .29-2.4 .29,10.5 .28-2 .29-.9 .29-.9 .29-4.6 .29,1
l.28,3.6 .29-7.3 .29,5.4 .29,8.3 .28-11 .29,12 .29,.1 .29-3.6 .28,.4 .29-1.4 .29-.3 .29,3.8 .29,0 .28-6.2 .29,1.9
l.29,2.5 .29,2.9 .28-3.6 .29,4.8 .29,1.6 .29-10.3 .29,1.6 .28,4.9 .29-8.6 .29,7.8 .29-3.2 .28,.9 .29,1.8 .29,.2
l.29-6.2 .28,2.9 .29,12.7 .29-10.9 .29,12.8 .29-5.1 .28-6.5 .29,7 .29-10.3 .29,7.4 .28-4.1 .29,1.5 .29-2.1 .29-2.2
l.28,12.6 .29-6.1 .29-1 .29-3.6 .29,2.4 .28,3.8 .29,5 .29,1.3 .29-2.9 .28-4.8 .29,.3 .29-5.6 .29,5.3 .29-2 .28,9.8
l.29-7.2 .29,3.5 .29,.6 .28-8 .29,5.7 .29,.5 .29-.3 .28,6.2 .29,1.3 .29-15.5 .29,8.4 .29,.4 .28-.9 .29,3.1 .29-.6
l.29,2.7 .28-5.1 .29,2.3 .29-5.2 .29-2.1 .28,11.7 .29-7.6 .29,5 .29-11.3 .29,8.8 .28-3.3 .29,6.6 .29-7.6 .29,8.9
l.28,2.4 .29,5.4 .29-10.4 .29,1.7 .29-2.4 .28,4.9 .29-3.7 .29,.1 .29,4.8 .28-13.1 .29-1.2 .29,8.6 .29-1.1 .28-.4
l.29-.1 .29,6.7 .29-4.6 .29-6.5 .28,8.7 .29,.5 .29,3 .29-2.1 .28,7.8 .29-9.2 .29-4.8 .29,3.4 .28,.8 .29,.6 .29,.1
l.29,4.9 .29,3.8 .28-16.2 .29,5.9 .29,11.9 .29-16.5 .28,9 .29-5.9 .29,4.8 .29,2.4 .29-6.3 .28,5.2 .29,9.4 .29-13.1
l.29,2.9 .28,.1 .29,1.2 .29-3.2 .29-4.6 .28,2.3 .29,3.1 .29,1.1 .29,3.7 .29-10.9 .28,16.3 .29-4 .29-3.5 .29-1.2
l.28-.5 .29,3.1 .29-9.9 .29,2.9 .28,13.6 .29-3.9 .29,1.9 .29-12 .29,8.2 .28,4.9 .29-5.4 .29,4.5 .29-5.7 .28-2.7
l.29,8 .29-5.9 .29-.2 .29,4.5 .28-5.1 .29,5 .29-5.6 .29,3.6 .28,1.4 .29-8 .29,2 .29,5.6 .28,12.4 .29-14.6 .29,3.4
l.29-3.8 .29,1.8 .28,1.4 .29,.4 .29-7.5 .29-.3 .28,.9 .29,10.6 .29-3.2 .29-2.2 .28,9.2 .29-12.8 .29,9.4 .29-8.9
l.29,6.8 .28-4.1 .29,9.4 .29,3.5 .29-7.5 .28,2.8 .29-.1 .29-3.5 .29-3.2 .29-2.2 .28,7.7 .29,2.4 .29-5.8 .29,4.4
l.28,.7 .29-3.2 .29-6.7 .29,3.7 .28,10.3 .29-17.4 .29,14.3 .29-6.4 .29,4.2 .28-7.5 .29,2.4 .29-3.3 .29,4.2 .28,1.7
l.29-5.8 .29,13.6 .29-2.7 .28,.8 .29-5.4 .29,1.4 .29,1.6 .29-6.7 .28,.9 .29,4.4 .29,4.1 .29-15.3 .28,7.8 .29,4 .29-3.1
l.29-.8 .29,4.3 .28-6 .29,2.7 .29,2.7 .29-6.9 .28,6.8 .29-7.4 .29,5 .29,1.7 .28-6.1 .29,6.7 .29-3.9 .29-3.4 .29,7.4
l.28,1.1 .29-5.9 .29-.9 .29,13.7 .28-11.5 .29-2.6 .29,7.2 .29-6.6 .28,5.7 .29,1.5 .29-1.4 .29-4.5 .29,4.8 .28,.9
l.29-2.5 .29-3.2 .29,12.2 .28-13.4 .29-1.3 .29,10.6 .29-4.1 .29-2.1 .28,1.5 .29-7.5 .29,7.4 .29,3.1 .28-.7 .29-3.1
l.29,4.7 .29-.5 .28-.3 .29-9.4 .29,4.5 .29,7.7 .29-7.1 .28,13.5 .29-11.3 .29-2.6 .29,1.2 .28-.8 .29,1.4 .29,3.8
l.29-2 .28,.2 .29,5.3 .29-6.5 .29,4.5 .29-6.9 .28-6.9 .29,.6 .29-2.1 .29,12.9 .28,.1 .29-4.6 .29,6.6 .29-6.5 .29,5.2
l.28-3.8 .29,3.1 .29-8.3 .29,1.8 .28,1.5 .29,8.7 .29-10.4 .29,6.9 .28,4 .29-7 .29-3.1 .29,10.8 .29-9.6 .28,4.3 .29-.1
l.29-2.9 .29,3.5 .28,1.4 .29-7.4 .29,15.1 .29-14.7 .28,9.7 .29-10.5 .29,10.2 .29-10.9 .29,13.2 .28-14.9 .29,6.9
l.29,1.6 .29,.4 .28-5.6 .29,5.1 .29-3.4 .29,2 .29,5.3 .28-11.8 .29,7.9 .29-2 .29,.2 .28,1 .29-7.1 .29,5.6 .29,2.8
l.28-1.5 .29,1.7 .29,3.4 .29-9.4 .29,8.8 .28-9.3 .29,4.8 .29-3.1 .29,3.6 .28,1.2 .29-11 .29,11.3 .29,2.3 .28-5.7
l.29-4.1 .29,11.3 .29-3.1 .29-5.9 .28-.4 .29,1.6 .29,4.1 .29-2.7 .28,3.8 .29-4.8 .29,1.9 .29-1.2 .29,2.1 .28-3.9
l.29,2.7 .29,3.4 .29-9.1 .28,4.9 .29,2.1 .29-.4 .29-7 .28,5.8 .29-.9 .29,4.7 .29-2 .29,1 .28,1.1 .29,.8 .29-3 .29,4
l.28-8 .29-.7 .29,7 .29-5.5 .28,4.7 .29-4.3 .29-.5 .29,8.8 .29,3.2 .28-12.3 .29-.1 .29,2.1 .29,2.2 .28,.6 .29,7.8
l.29-16.7 .29,15.2 .29-10.4 .28,1.8 .29-2.2 .29,6.3 .29-1.7 .28-5.4 .29,6.4 .29-5.1 .29,5.7 .28-6.3 .29-1.3 .29,1.7
l.29-2.3 .29,7 .28-2.7 .29-.9 .29-7.5 .29,8.2 .28-2.6 .29-5.1 .29,4.1 .29-3.2 .28,8.1 .29-8.7 .29,3.9 .29-2.3 .29-1
l.28,10.8 .29-13 .29,6.3 .29-6.8 .28,5.8 .29-2.3 .29,7.2 .29-1.9 .29-9.6 .28,7.7 .29-4.9 .29,1.1 .29,4.2 .28-4.2
l.29-.6 .29-3.6 .29,4 .28,.5 .29-9 .29-.6 .29,5.4 .29,4.2 .28-6.5 .29,3.4 .29-8.7 .29,5.7 .28,2.1 .29-1.9 .29,2.1
l.29-4.3 .28,4.7 .29-7.1 .29-3.3 .29,.8 .29,5.4 .28-6.4 .29,2.8 .29,3.7 .29-6.7 .28-5 .29,2 .29,1.5 .29,.4 .29-3.6
l.28-3.3 .29,.2 .29-5.6 .29,.4 .28-2.1 .29,4.4 .29-4.7 .29,.4 .28-3.2 .29-1.2 .29-11.6 .29,14.8 .29-8.9 .28,2.1
l.29-6.3 .29-1.4 .29-8.3 .28,5.5 .29,0 .29-7.4 .29-2.6 .28,8.7 .29-22.7 .29,10.4 .29-15.7 .29-2.2 .28-4.8 .29,1.7
l.29,.8 .29-5 .28-15.2 .29,3.5 .29-10 .29-1.9 .29-5.1 .28-14 .29,2.4 .29-10.4 .29-6.8 .28-9.2 .29-6.4 .29-4.3 .29-9.4
l.28-7.4 .29-10.8 .29-3.4 .29-4 .29-4.4 .28-2.9 .29-2.1 .29-.5 .29,.7 .28,.9 .29,4.6 .29,4.3 .29,6 .28,3.9 .29,8.9
l.29,7.6 .29,1.8 .29,5.3 .28,11.4 .29,13.3 .29,.3 .29,12.2 .28,2.3 .29,6.4 .29,13.6 .29-4.6 .29,10.1 .28,5.6 .29,10.2
l.29-5.6 .29,12.8 .28,.2 .29,9.5 .29,4.9 .29,3.5 .28,5.3 .29-2.8 .29-5.3 .29,4.1 .29,11.9 .28,2.2 .29-8.5 .29,5.9
l.29,5.7 .28,3.9 .29,2.1 .29,10.8 .29-6 .28-10.7 .29,4 .29,9.9 .29-3.3 .29,2.4 .28,6.5 .29,2.8 .29-.2 .29-2.1 .28-3.9
l.29,5.8 .29,2.1 .29,2.2 .29-5.6 .28-.8 .29,7 .29,2.9 .29-1.5 .28-.4 .29-1.8 .29,1.7 .29,8.1 .28-2.1 .29,1.9 .29-3.8
l.29,8 .29,3.5 .28-7.2 .29,2.9 .29,.3 .29-.8 .28,3.8 .29-3.6 .29,5.5 .29,.6 .28-6.6 .29,3.9 .29-5.5 .29,3.9 .29,4.5
l.28-.3 .29,2.3 .29-3.8 .29-1.8 .28,2.5 .29-.6 .29,5.1 .29-8.6 .29,3 .28-1.4 .29,9 .29-3.5 .29,2.5 .28-9.1 .29,7.3
l.29-9.6 .29,7.6 .28,4.3 .29-7 .29-1.8 .29,7.8 .29,1.9 .28-1.9 .29,4.7 .29-.3 .29,4.6 .28-6.1 .29,3.1 .29-5.6 .29-.3
l.28-2.8 .29,3.2 .29,2.1 .29-5.8 .29,8 .28,5.8 .29-2.8 .29-3.6 .29-3.7 .28-1.7 .29,8.1 .29-8 .29,2.8 .29-.8 .28,6.6
l.29-2.9 .29,7.6 .29-8.7 .28,2 .29-4.1 .29-1.5 .29,8 .28-7 .29-.5 .29,5.4 .29-8.4 .29,10.5 .28,2.7 .29-5.6 .29-6.6
l.29,4.8 .28,8.9 .29-4.6 .29-6.8 .29,7.8 .28-2.2 .29,3.5 .29-11.6 .29,1.1 .29,11.8 .28,2.1 .29-9.2 .29,.6 .29,1.7
l.28-.3 .29,1.6 .29-4.7 .29,.3 .29-1.6 .28,1.7 .29,5.7 .29-.5 .29-.5 .28-1.4 .29,3.2 .29,.6 .29-2.2 .28,.9 .29-1.2
l.29-6.7 .29,1.2 .29,7.1 .28-2.2 .29,1.6 .29,2.2 .29-5.3 .28,9.8 .29-8.3 .29,2.1 .29,3.8 .28-6.6 .29-1.8 .29,2.8
l.29-.6 .29,5.2 .28-5.1 .29-4 .29,10.2 .29-12.9 .28,15.5 .29-10.3 .29,5.9 .29-3.1 .29,.9 .28,0 .29-3.8 .29,5 .29-1.8
l.28-3.8 .29,5.1 .29,7.9 .29-6.2 .28,.2 .29,1.3 .29-5.9 .29,2.2 .29,3.4 .28-.8 .29,3.4 .29-3.4 .29-9.4 .28,14 .29-14
l.29,7.7 .29,.6 .28,1.4 .29,2.7 .29-7.2 .29,3.7 .29,1.4 .28-2.3 .29-6.2 .29,7.9 .29-1.2 .28-5.8 .29,9.3 .29-7.3
l.29-6.1 .29,9.6 .28,6.3 .29-10 .29,4.9 .29-6.3 .28,3.1 .29,1 .29,4.5 .29-8 .28,2.8 .29,.1 .29-.1 .29,.1 .29,.9
l.28,1.2 .29,6 .29-4.1 .29-.8 .28-5.6 .29,.1 .29,8 .29-1.8 .28,.4 .29-3.5 .29,.1 .29-1.2 .29,4.9 .28-1.2 .29-9.4
l.29,12.5 .29-10.1 .28,2.7 .29-.7 .29,3.2 .29,.5 .29-3 .28,3.6 .29-.4 .29,.9 .29-2.6 .28,2 .29,.8 .29-3.4 .29,1.5
l.28,5.8 .29-4.7 .29-5.6 .29,3.8 .29-4.3 .28,12.4 .29-7.9 .29,9 .29-9.8 .28,4.9 .29-1.8 .29-2.3 .29,4.9 .28-.5 .29-1.1
l.29-4.3 .29-2.3 .29,8.1 .28,.7 .29-3.7 .29,4.8 .29,.7 .28-7.2 .29,4 .29-7.9 .29,9.5 .29-9.2 .28,1 .29,6 .29-2 .29,11.1
l.28-11.3 .29,.8 .29,3.4 .29-8.3 .28,14.3 .29-11.8 .29,2.5 .29-.5 .29,6.5 .28-8.1 .29,4.5 .29-2.7 .29-2.8 .28,6.8
l.29,7.6 .29-12.1 .29,.4 .28,1.8 .29,1.5 .29,1.1 .29-4 .29-1.8 .28,4 .29-6.7 .29,5.8 .29-3.4 .28,3.2 .29-.7 .29-3.8
l.29,1.2 .29-2 .28,.2 .29,4.1 .29-2.7 .29,1 .28,.1 .29-1.3 .29,2.7 .29-.2 .28-1.4 .29,5.6 .29-6.8 .29-.5 .29,11.6
l.28-10.6 .29,5.6 .29,.4 .29-5.6 .28,6 .29-4.3 .29,3.4 .29,2.2 .28-11.4 .29,9.8 .29,1.7 .29-3.2 .29-8.2 .28,13 .29-10.4
l.29,7.1 .29-3.6 .28,1.1 .29-4.2 .29,6.9 .29-10.1 .29,8.7 .28,3.9 .29-6.1 .29-2.3 .29,.4 .28-1 .29,4.5 .29-6.4 .29,2.3
l.28,6.8 .29-2 .29,1.3 .29-1.7 .29-1.9 .28,2.6 .29-1.1 .29-3.5 .29-.4 .28-2.2 .29,17.5 .29-9.6 .29,.3 .28-.6 .29,1.4
l.29,.1 .29-6.3 .29-2.1 .28,9.1 .29-7 .29,11.2 .29-10.4 .28-4.3 .29,2.8 .29,6.8 .29,.2 .29-2.2 .28-6 .29,3.5 .29,.6
l.29-1.1 .28,6.1 .29,4.2 .29-6 .29-.4 .28-2.9 .29,.9 .29-12.1 .29,14 .29,.5 .28-7.5 .29,5.2 .29-7.3 .29,.1 .28,4.1
l.29,.3 .29,8.9 .29-11 .28,4.2 .29-1.6 .29-1.4 .29,3.3 .29,4.2 .28-1.7 .29,1.9 .29-7.4 .29,3.7 .28-.4 .29,2.2 .29-1.4
l.29,4 .29-4.8 .28,4.6 .29-5.2 .29,2.1 .29-2.7 .28-2.5 .29,2.4 .29,1.2 .29-2.7 .28,5.4 .29-1.9 .29-1.7 .29,7 .29-2.9
l.28-10.5 .29,7.1 .29,.1 .29-1.4 .28,2.9 .29,.9 .29-.4 .29-5.2 .28-2.2 .29,8.4 .29-1.7 .29-2.2 .29,6.1 .28-4.6 .29-3.8
l.29-.3 .29-4.9 .28,10.5 .29-1.3 .29-3.3 .29,2.1 .29-3.1 .28,4.3 .29,6.6 .29-3.4 .29,3.4 .28-7 .29-4.3 .29,2.7 .29,4.1
l.28,5.8 .29-7.5 .29,2.5 .29,0 .29-2.5 .28-9 .29,10.7 .29,1.2 .29,2.8 .28-9.1 .29,7.3 .29,3.6 .29-5.3 .28-2.9 .29,5.9
l.29-4.5 .29,6.1 .29-11 .28,9.3 .29-4.3 .29,3.4 .29-1.5 .28-3.3 .29,3.5 .29-1.9 .29-5 .29-5.3 .28,6.7 .29,3.1 .29-.8
l.29,5.7 .28-.6 .29,.1 .29-5.8 .29,2 .28,1 .29-10.5 .29,9.2 .29-3.3 .29,1.5 .28,1.6 .29-1.7 .29,7.7 .29-6.2 .28-3.5
l.29-2.5 .29,7.3 .29-6.3 .28,2.3 .29,4.6 .29,4.7 .29-7.3 .29,3.6 .28-6.9 .29,3 .29,7.2 .29-3.9 .28-3.2 .29-3.5 .29,14.8
l.29-11.8 .29,7 .28-4.1 .29,2.5 .29-6.9 .29,2.3 .28-5.5 .29,1.8 .29,7.8 .29,5.7 .28-7.5 .29,1.2 .29-2.6 .29,3.3
l.29-.3 .28-5.4 .29,2 .29,3.6 .29-4.2 .28,5 .29-3.5 .29-3.6 .29,5.6 .28,3.3 .29-5.7 .29,2.1 .29-8.4 .29,7.4 .28,2
l.29,2.2 .29,4.1 .29-5.5 .28-3.4 .29,3.8 .29-5.5 .29-1.5 .29,.8 .28,5.3 .29,.5 .29-6.3 .29,5.8 .28-.1 .29-.3 .29-7.3
l.29,12.4 .28-11.5 .29,.8 .29-2.6 .29,4.3 .29-6.9 .28,5.8 .29,6.3 .29,2.2 .29-5.7 .28-1.6 .29,.6 .29-2.7 .29-.5
l.28,13.9 .29-9.4 .29,0 .29-2.3 .29,5.4 .28-7.6 .29,4.3 .29-4.9 .29,7.6 .28-2 .29,4.6 .29-1.4 .29-2.4 .29,.9 .28-3.3
l.29-.5 .29,1.7 .29,0 .28,4.4 .29-2.7 .29-.7 .29,1.9 .28-5.7 .29,.8 .29,5.3 .29-1.3 .29-1.5 .28-.6 .29-5.4 .29,6.6
l.29,1.6 .28-3.7 .29-1.1 .29-2.2 .29,8.5 .28-2.8 .29-1.7 .29,.1 .29,6.6 .29-7.4 .28-4 .29,3.2 .29,2.9 .29,3.5 .28-.2
l.29-3.7 .29,2.8 .29,0 .29,3.4 .28-7.9 .29-1.5 .29,3.5 .29-2.6 .28,1.9 .29-5.8 .29,6.6 .29-.3 .28,4.6 .29-4.4 .29,1.3
l.29,.4 .29-7.6 .28,2.8 .29-1 .29,2.7 .29,4.8 .28-3.7 .29-3.8 .29,7.2 .29-2.6 .28-.6 .29-4 .29,3.8 .29-2.7 .29,.4
l.28,3.5 .29-1.8 .29,5.6 .29-3 .28-4 .29,.6 .29,.1 .29,1.2 .29-3 .28,.7 .29,2.1 .29,6.4 .29-17.7 .28,2.8 .29,12
l.29-9.1 .29,6.8 .28-5.5 .29,7.8 .29-3.1 .29,1.7 .29-4.7 .28-.6 .29,3 .29,9.3 .29-9.1 .28,4.4 .29-10.1 .29,8 .29,6.3
l.28-7.7 .29,4.6 .29-6.9 .29,6.6 .29-6.3 .28,7.9 .29-10.8 .29,4.7 .29-3 .28,3.7 .29-8.7 .29,8.7 .29-3.3 .29,2.9
l.28-5.1 .29,10.3 .29,.6 .29-8.1 .28,4.9 .29,1 .29-5.6 .29,1.9 .28,9.5 .29-9.9 .29,2.5 .29,2 .29-7 .28,.7 .29-3.1
l.29,7.4 .29,1.6 .28-13.6 .29,6.7 .29,.5 .29,6.3 .28-1.7 .29-4.8 .29,14.7 .29-6.5 .29-6.2 .28,8.5 .29-10 .29,3.6
l.29,5.8 .28-6.5 .29-.2 .29,.5 .29-2.6 .29,8.4 .28-4 .29-4 .29,1 .29,.1 .28-10.1 .29,12.6 .29,.7 .29-4.8 .28,3.3
l.29-4.4 .29,4.3 .29-7.6 .29,9.5 .28-1.6 .29-4.5 .29,3.2 .29-3.4 .28,.6 .29-.5 .29,8.3 .29-8.4 .28,3.2 .29-1 .29,4.6
l.29-5.3 .29-1.3 .28,1.7 .29-.6 .29,1.4 .29,1.4 .28-2.7 .29,2.6 .29-.2 .29-2.3 .29-2 .28-3 .29,2.4 .29,4 .29,3.4
l.28-4.3 .29,5.1 .29,0 .29,3.5 .28-12.1 .29,.4 .29,8.6 .29-4.7 .29-.9 .28-4.6 .29,.5 .29,8.9 .29-4.7 .28,7.4 .29-5.6
l.29-.7 .29,1.3 .28,3.3 .29-3 .29-9.6 .29,10.7 .29-2.4 .28-3.7 .29,.5 .29,4.6 .29-7 .28,.1 .29,4.7 .29-.4 .29,1.6
l.29-2.6 .28,1 .29-3.3 .29,11 .29-10.2 .28,4.1 .29-6 .29,1 .29,5.2 .28-.5 .29,1.7 .29,2.1 .29-3.1 .29-3.8 .28,4
l.29,4.2 .29-5 .29,4.1 .28-4.3 .29-2.4 .29-1 .29-.8 .28,7.6 .29,6.8 .29-9.7 .29,.7 .29-3.7 .28,.2 .29,3.8 .29-1.3
l.29-3.1 .28,5.9 .29,5.8 .29-9.6 .29,.7 .29,2.6 .28-6.9 .29,5.4 .29,2.3 .29-3.7 .28-5.8 .29,10.9 .29-7.4 .29,8.2
l.28-7.6 .29,4.5 .29-.2 .29-4.3 .29-7 .28,16.5 .29-5.9 .29,2.3 .29-7.7 .28,4.3 .29,3.7 .29-6.7 .29,.8 .28,2.9 .29-3.5
l.29,1.8 .29-2.3 .29,7.8 .28-6.6 .29-1.2 .29,7 .29-17 .28,7.7 .29,4.9 .29,3.2 .29-1.3 .29-.8 .28-1.9 .29,6.9 .29-.7
l.29-9.4 .28,10.2 .29-12.9 .29,8.3 .29,5.1 .28-2.2 .29-9.9 .29,5.6 .29,4.9 .29-8.9 .28,2.9 .29,4.5 .29,1.9 .29,1.6
l.28-6.1 .29-1.8 .29-3.9 .29-.2 .28,2.1 .29,9.6 .29-3.5 .29-4.3 .29,3.1 .28-1.5 .29,2.2 .29-1.7 .29-3.9 .28,1.9
l.29,7.5 .29-3.7 .29,2.7 .29,1.8 .28-10.1 .29,3.9 .29-9.5 .29,6.8 .28,.6 .29,4 .29,.8 .29-5.8 .28,5 .29-8.1 .29,2.3
l.29,0 .29,3 .28,4.3 .29-8.3 .29,6.9 .29-2.2 .28-3 .29,4.4 .29,.3 .29,3.5 .28-9.4 .29-2.5 .29,10 .29-7.8 .29-3.1
l.28,.6 .29,2.8 .29,6.6 .29,3.1 .28-3 .29-4.7 .29-3.5 .29,.3 .29,5.6 .28-2.2 .29,3.3 .29,5.4 .29-4.5 .28-6.7 .29,1.1
l.29,2.6 .29,.4 .28-9 .29,7.2 .29,3 .29,4.3 .29-3 .28-4 .29,3.6 .29-3.9 .29,3.8 .28-12.4 .29,12.2 .29-5.2 .29,6.5
l.28-4.1 .29-2.3 .29,2.7 .29,7.4 .29-12.2 .28,3 .29,6.3 .29-1.7 .29-4.2 .28,5.6 .29-5.5 .29,7.4 .29-5.3 .29-2.7
l.28,4.8 .29-2.1 .29-1 .29-4.2 .28,1 .29,3.8 .29-.1 .29,2.5 .28,.1 .29,.3 .29,.5 .29-5.5 .29,4.4 .28,2.3 .29,0 .29-2.8
l.29-2.2 .28,4.1 .29,1.7 .29-4.7 .29-3 .28,7.8 .29-2.3 .29,5.7 .29-16.8 .29,13.5 .28,.7 .29-5.7 .29,2.3 .29-4.3
l.28,6.3 .29-3.7 .29-.4 .29-1.3 .29-5.2 .28,7.4 .29,3.2 .29-5 .29,4.5 .28-6.4 .29,2.5 .29,.6 .29,6.6 .28-.1 .29-3.6
l.29-2.2 .29,7.9 .29-6.1 .28-2.8 .29,3.3 .29-6 .29,2.6 .28-5.1 .29,8.8 .29-4.5 .29,12.5 .28-7.5 .29-6.9 .29,5.3
l.29,.4 .29,2.8 .28-11.3 .29,1.6 .29,5.1 .29-1.5 .28,1.4 .29,5.4 .29-6.7 .29,3.4 .29,1 .28-7.3 .29,4.1 .29,4.1 .29-6.1
l.28,2.3 .29-1.5 .29,1.8 .29-1.7 .28,.1 .29,4.6 .29-11.7 .29,7.2 .29,10.7 .28-13.5 .29,9.6 .29-7.3 .29-4.5 .28,7.2
l.29-.7 .29-5 .29,2.1 .28,.3 .29,2.8 .29-.8 .29,7.6 .29-5.8 .28-1.1 .29-2.9 .29,.5 .29,7 .28-2 .29,5.6 .29-8 .29-6.4
l.29,5.2 .28,3.7 .29-3.4 .29,1.2 .29,4.1 .28-1.3 .29-2.7 .29-3.9 .29,5.5 .28,.3 .29,2.8 .29-5.2 .29,4.1 .29-11.2
l.28,6.6 .29,12.4 .29-17.4 .29,4.3 .28,1.3 .29-.8 .29,3.1 .29,1.1 .28-.6 .29-2.3 .29-2.1 .29-6 .29,6 .28-1.7 .29-.7
l.29,6.9 .29,.7 .28-.4 .29-9.4 .29,11.4 .29-7.6 .29,5.4 .28-13.2 .29,15.2 .29-.4 .29-2.9 .28,2.4 .29-7.3 .29-.6
l.29-.2 .28-4.4 .29,11.7 .29-4.2 .29,2.1 .29,1.3 .28-4.2 .29-7.1 .29,12 .29-12.1 .28,7.3 .29,3 .29,2.7 .29-7.9 .28,2.8
l.29,1.2 .29,1.7 .29-1.8 .29,.9 .28-1.9 .29,7.7 .29-8.2 .29-2.9 .28,.8 .29,8.3 .29-5.6 .29-.7 .29-3.4 .28,1.1 .29-.6
l.29,4.6 .29-3.3 .28,3.1 .29,.8 .29,4.8 .29-7.3 .28,2.1 .29,5.3 .29-11.2 .29,6.6 .29-3 .28,.2 .29,2.1 .29-1.6 .29-2.7
l.28,6.6 .29,2.1 .29-9.2 .29,2 .28,4.9 .29-7 .29,8.8 .29-5.1 .29-.9 .28,1.2 .29-1.7 .29,3.7 .29,4.4 .28-4 .29-4.6
l.29,2.1 .29,.3 .29,1.1 .28-5.5 .29,6.3 .29-3.1 .29-.1 .28,4.8 .29-6.7 .29,1.3 .29-.5 .28,7.5 .29-9.8 .29,6.1 .29-1.3
l.29-1.7 .28-1.9 .29,5.5 .29-3.3 .29,1.2 .28,.2 .29,0 .29,3.6 .29-3.5 .28-4.8 .29,8.5 .29,2.4 .29-11.7 .29,10.7
l.28-3.9 .29,1.1 .29-3.3 .29,2.4 .28-3.2 .29,3.6 .29,2.4 .29-13.4 .29,8.7 .28-1.5 .29,6.8 .29-2.1 .29-.9 .28-5.6
l.29,6.9 .29-5.1 .29,3.1 .28,1.4 .29-5.4 .29,1.6 .29,5.1 .29-6.4 .28,7.4 .29-6.9 .29,2.3 .29-8.9 .28,6.6 .29-6.2
l.29,5.9 .29,3.7 .28-4.2 .29,8.4 .29-1 .29-4.2 .29-6.3 .28,2.3 .29,8.8 .29,2.7 .29-9 .28,7.2 .29-1.7 .29-1.8 .29,1.3
l.29-.5 .28-2.4 .29-4.5 .29,6.2 .29-2.7 .28-1.5 .29-.2 .29,2.3 .29,2.5 .28-2.6 .29,5.3 .29-5.3 .29-5.1 .29,2.6 .28,13.7
l.29-13.6 .29,0 .29,3.5 .28-4 .29,.1 .29,3.1 .29,.4 .28,3.5 .29-8.4 .29,12.5 .29-9.9 .29,2.8 .28-1.7 .29,1.9 .29-1.4
l.29,3.1 .28,.2 .29-9.9 .29,7.7 .29-6.5 .29,2.2 .28,2.2 .29-.4 .29,1.3 .29-3.8 .28,4.1 .29,1 .29-4 .29,2.6 .28-2
l.29,4.4 .29-2.2 .29-3.8 .29,0 .28,7.8 .29-3.8 .29,3.7 .29-7 .28,6.5 .29,3.3 .29-2.4 .29,.1 .28-13.5 .29,11.2 .29-5
l.29,5.6 .29-4.2 .28-3.3 .29,1.2 .29-1.6 .29,1.5 .28,4.5 .29-2.8 .29,1.4 .29,2.4 .29-10 .28,11.8 .29,1.1 .29-2.8
l.29-6.1 .28,5.6 .29-2.5 .29,3.7 .29-7.3 .28,3.3 .29,1 .29-5.1 .29,8.5 .29-8.7 .28,2.3 .29,7.8 .29-3.9 .29-2.5 .28,5.9
l.29-.9 .29-8.5 .29-5 .28,4.2 .29,3.9 .29,1.8 .29,4.1 .29-6.6 .28,4.8 .29-2.1 .29-.3 .29-2.7 .28,1.1 .29,10.3 .29-5.9
l.29-6 .29-1.2 .28,2 .29-.9 .29,7.9 .29-3.9 .28-.6 .29-3.1 .29,3.1 .29,2.3 .28-5.5 .29,3.4 .29-2.2 .29,8.5 .29-6.6
l.28-1.6 .29-3.4 .29,5.1 .29,6.4 .28-1.2 .29-9 .29,.4 .29,4.6 .28,2.4 .29-7.2 .29,6 .29-1.7 .29,5.3 .28,4.4 .29-10.7
l.29-6.1 .29,8.1 .28,3.5 .29-9.7 .29,8.8 .29,4.2 .29-6 .28-3.1 .29,4.4 .29-3.2 .29,0 .28-.2 .29-5.5 .29,5 .29-1.4
l.28-2.9 .29,6.2 .29-4.5 .29,5.5 .29-2.4 .28,.5 .29-4.1 .29,.4 .29,6 .28,1.1 .29,.6 .29-.6 .29-1.2 .28-2.3 .29,3
l.29-10.1 .29,2.2 .29-3.2 .28,6 .29-.7 .29,3.3 .29-5.3 .28,2.4 .29,2.4 .29-1.8 .29-5.6 .29,.9 .28,6.1 .29,7.4 .29,3.5
l.29-10.6 .28,0 .29,0 .29-1.7 .29-.5 .28,5 .29-.8 .29-8.2 .29-2.5 .29,7.8 .28,0 .29-2.7 .29,1.8 .29,1.1 .28,.3 .29-5.6
l.29,8.2 .29-4.7 .28,6.4 .29-6.5 .29,.9 .29,1.6 .29-1.7 .28,7.8 .29-3.5 .29-1.3 .29-2 .28,.5 .29,2.5 .29-2.9 .29-1.1
l.29-8.1 .28,8.7 .29-.6 .29,.2 .29,2.3 .28,.4 .29-4.5 .29,3.9 .29,.8 .28-1.7 .29-6.1 .29,10.4 .29-3 .29-2.5 .28-1.1
l.29-4.1 .29-1.2 .29,9.8 .28-5.2 .29-4.4 .29,2.8 .29,7.6 .28-1 .29-2.6 .29-2.8 .29,7 .29-7 .28,5.6 .29-4.8 .29-.4
l.29,1 .28-2.1 .29,3.9 .29-.8 .29-4.1 .29,7 .28,.2 .29,3 .29-11.7 .29,9.3 .28-6.3 .29,3.1 .29-1.3 .29,3.2 .28-1
l.29-4.2 .29,3.3 .29,4.2 .29-3.1 .28,4.6 .29-7.1 .29-1.3 .29,2.5 .28-4.9 .29-.1 .29,6.5 .29-4.6 .28,4.9 .29-1.6
l.29,1.6 .29-1.3 .29,4.9 .28-3.8 .29,4 .29-10.5 .29,7.7 .28-1.7 .29,5.6 .29-3.2 .29-4.6 .29,9.8 .28-9 .29,3 .29-9.9
l.29,5.4 .28-.8 .29,2.1 .29-2.7 .29,8.2 .28-10.7 .29,3.4 .29,8.9 .29-7.4 .29,1.3 .28-5.5 .29,6.6 .29-1.2 .29-1.5
l.28,2.3 .29-7.1 .29,4.7 .29,4.2 .28-3.3 .29,1.6 .29-7.1 .29,10.4 .29,2.7 .28-14.8 .29,8 .29-4.4 .29,4.2 .28,1.9
l.29-3.9 .29,1.8 .29,2.7 .29,4.8 .28-8.4 .29-4 .29,.8 .29,9.6 .28-10.5 .29,10.5 .29-3.4 .29-2.1 .28,0 .29,3.3 .29-1.9
l.29-1.6 .29,0 .28-2.2 .29-.9 .29,3 .29,3.2 .28-5.5 .29,2.9 .29,2.9 .29,6 .28-9.6 .29-1.9 .29-1.4 .29,7.7 .29-3.4
l.28,6.3 .29-7.2 .29-.3 .29,4.2 .28-5.2 .29-1.8 .29-.1 .29,7.3 .29-3.6 .28-3.8 .29,4.6 .29,.7 .29-.4 .28-4.3 .29,4.2
l.29,6.2 .29-9.6 .28-8.2 .29,8.9 .29-3.5 .29,4 .29,2.1 .28,3 .29-5.8 .29,1.9 .29-3.4 .28,2.8 .29-1.9 .29,10.2 .29-8.9
l.28-1.1 .29,1.1 .29-3.8 .29,5.4 .29-2.8 .28,9.9 .29-10.3 .29,.1 .29,6.2 .28,5 .29-4.5 .29-3.5 .29-6.3 .29,10.6
l.28-6.1 .29-.6 .29,.3 .29,4.6 .28-5 .29,7.6 .29,2.2 .29-7 .28,3 .29,5.3 .29-13.5 .29,2 .29,.7 .28,5.8 .29-.9 .29,3.3
l.29-5.9 .28,1 .29-.9 .29-5.7 .29,7.5 .28-1.3 .29,5 .29-11.6 .29,1.3 .29,13.4 .28-.3 .29-14.9 .29-1 .29,4.7 .28-2.8
l.29,10.5 .29-5.3 .29-3 .29,3.9 .28,3.1 .29-3.1 .29,2.7 .29-10.7 .28,8.8 .29,1.3 .29,4.6 .29-12.9 .28,6.3 .29-2.9
l.29,2.7 .29-1.5 .29,.9 .28,2.5 .29-4.2 .29,5 .29-4.2 .28-.4 .29-1.7 .29,6.6 .29-12.5 .28,8.3 .29,5.3 .29,1.9 .29-6.7
l.29,.7 .28-2.8 .29,8.5 .29-5.7 .29-1.9 .28-2.1 .29,10.6 .29-4.4 .29,.7 .29-2.6 .28,.7 .29-1.5 .29,3.9 .29-5.1 .28,7.6
l.29-5.8 .29-8.4 .29,12.2 .28-10.9 .29,1.8 .29,7 .29-3.7 .29-.5 .28,6.2 .29,4.3 .29-7 .29,4 .28-7.3 .29,8.8 .29-14.7
l.29-1.2 .28,12.2 .29,5 .29-9.1 .29,3.3 .29-1.6 .28,5.7 .29-.4 .29-7.8 .29,7.3 .28,2.7 .29-9.9 .29-.3 .29,3.6 .29,2.8
l.28-10.5 .29,7.8 .29-4 .29,7.9 .28,.1 .29-6.2 .29-5.2 .29,10.1 .28-1.8 .29-.7 .29-7.1 .29,5.6 .29-1.7 .28-2 .29,.8
l.29-3.7 .29,11.6 .28-6.3 .29-.3 .29,6.2 .29-5.3 .28-.5 .29,2.5 .29,1.2 .29-7.6 .29,3.9 .28,1.3 .29-1.3 .29,2.9
l.29-2.8 .28-1 .29,5.2 .29-3 .29,0 .29-.9 .28,2.2 .29-1.6 .29,1.8 .29,1.7 .28-1.4 .29,4.2 .29-8.6 .29,.9 .28,4.9
l.29,.2 .29-.2 .29,1.2 .29-.2 .28-6.5 .29,3.3 .29-4.7 .29,1.5 .28,.3 .29,6.8 .29-12.1 .29,7.6 .28,8.3 .29-8 .29,.5
l.29-3.7 .29,6.3 .28-4.6 .29,2 .29-6.2 .29,5.9 .28-3.1 .29-2 .29,7.1 .29-4.4 .29,1.2 .28-6.3 .29,3.9 .29,5.2 .29-10.1
l.28,9.4 .29-2 .29-.6 .29-1.8 .28,4.9 .29-1.8 .29,.6 .29-2.3 .29,4 .28-1.5 .29,3.8 .29-12.3 .29,4.8 .28-2.9 .29,7.7
l.29,4.1 .29-.5 .28-1.5 .29-6.9 .29,3.5 .29,.6 .29,2.8 .28-11.5 .29,11.9 .29-4.4 .29,.2 .28-.6 .29,.1 .29-2.1 .29-9
l.29,6 .28,3.2 .29,5.3 .29-10.1 .29-.2 .28,8.4 .29-4.5 .29,11.4 .29-5.2 .28-8.4 .29,11.2 .29-9.4 .29-1.9 .29,10.1
l.28-5.2 .29-6.4 .29-3.6 .29,9.1 .28-5.7 .29,9.2 .29-.6 .29-4.4 .28-1.3 .29,2.2 .29-3.8 .29,1.1 .29-2 .28,2.1 .29,2.8
l.29-.5 .29,.9 .28-1 .29-3.8 .29,.3 .29-1.4 .29,1.7 .28,.1 .29,6.8 .29-1.8 .29,.4 .28,1.1 .29,6.9 .29-12.5 .29,7
l.28-1.2 .29,0 .29-9.1 .29,4.5 .29-4.2 .28,6 .29-3.2 .29-.1 .29,3.8 .28-1.2 .29,7.4 .29-2.6 .29-4.5 .28,9.5 .29-10
l.29,.2 .29,3.4 .29-5.7 .28,1.1 .29-2.5 .29,3.6 .29-1.6 .28,1.2 .29,6.6 .29-5.3 .29,.5 .29-.9 .28,.2 .29-3 .29,3.4
l.29,2.6 .28-5 .29,10.4 .29-2.6 .29-10.3 .28,10.5 .29-6.9 .29,5.4 .29-6.9 .29,1.3 .28-2.7 .29,1.8 .29-2.4 .29,8.2
l.28-9.6 .29,7.7 .29-5 .29,3.9 .28-5.1 .29,2.7 .29,.8 .29-1.6 .29,2.5 .28-.1 .29-5.6 .29,3.3 .29,1.8 .28,1.9 .29-6.2
l.29,7.8 .29-2.9 .29,4.3 .28-2.2 .29-1.7 .29-2 .29,1.5 .28-3.9 .29,10.8 .29-15.2 .29,5.8 .28,.3 .29,5.1 .29-7 .29,6.7
l.29-2.8 .28-1 .29-1.3 .29,.1 .29,5.3 .28,1.5 .29-10.1 .29,2.1 .29,.8 .28,.4 .29-.3 .29,9.2 .29-7.4 .29-3.6 .28,3.3
l.29-2.5 .29,1.2 .29,3.2 .28,1.3 .29-2.5 .29-4.5 .29,10.1 .29-9.6 .28,10.8 .29-15 .29,8.3 .29-1.3 .28,2.4 .29-5.5
l.29,6.4 .29-8.1 .28-3.1 .29,8.2 .29,3.4 .29-6.4 .29,5.9 .28-1.6 .29-2.1 .29-3.3 .29,8.3 .28-6.9 .29,.7 .29,2.4
l.29-3.1 .28,2.3 .29,1.7 .29,6.3 .29,1.8 .29-9.7 .28-2.4 .29,6.5 .29-2.7 .29-7.2 .28,2.8 .29,9.9 .29-9.2 .29,3.6
l.29-3 .28,1.6 .29,4 .29-11.5 .29,17.8 .28-5.8 .29-8.4 .29,4.9 .29-1.5 .28,5 .29-6.8 .29,5.9 .29,1.8 .29,0 .28-8.9
l.29,4.7 .29-3.1 .29,1.3 .28,2.2 .29,3.8 .29-5.7 .29-1.4 .28,6.9 .29-2.1 .29,1 .29,4.7 .29-9.3 .28-1.1 .29,2.6 .29-1.3
l.29,.2 .28-4 .29,1.5 .29-.5 .29,6.6 .29-4.9 .28,1.9 .29,4.2 .29-6.1 .29,8.2 .28-2.1 .29-8.5 .29,1.5 .29,9.8 .28-8.7
l.29,1 .29,1.5 .29,3.3 .29-3.2 .28-4 .29-4.3 .29,3.7 .29,6.7 .28-6.2 .29-5.4 .29,8.8 .29,4.2 .28-9.2 .29,6.6 .29-2.6
l.29-1.2 .29,2.1 .28-.8 .29-2.6 .29-.4 .29,1.7 .28-1.9 .29,1.7 .29,3.8 .29-9.5 .29,5.6 .28-.8 .29-2.1 .29,4.5 .29,4.8
l.28,1.4 .29-5.1 .29-5.6 .29,2.5 .28-.8 .29,4.1 .29,3.7 .29-4.6 .29,6.2 .28-3.7 .29-5.4 .29,4.6 .29,3 .28-7.5 .29,.1
l.29,1.3 .29,7.7 .28-9.9 .29,3.9 .29-3.2 .29-2.2 .29,2.4 .28-3.3 .29,2.2 .29,4.4 .29,.4 .28-9.7 .29-1.2 .29,9.5
l.29-2.3 .29-.8 .28-1.4 .29,9 .29-9.2 .29,2.3 .28-.3 .29,2.2 .29-7 .29,6.7 .28-8.4 .29,.8 .29,8.1 .29-5.9 .29-.2
l.28,5 .29,7.3 .29-7.5 .29-2.5 .28-7.6 .29,3.7 .29,1.2 .29,2.6 .28-2.6 .29,7 .29-.2 .29,1.9 .29-.7 .28-3.9 .29-8.5
l.29,13.3 .29-6.6 .28,.9 .29,7.4 .29-6.7 .29,7.8 .29-12.8 .28,1 .29,6.3 .29-1.4 .29,.4 .28,.6 .29-5.6 .29,7.3 .29-3.1
l.28,3.3 .29-9.3 .29,3.9 .29-3.7 .29,7.4 .28,7 .29-12.6 .29,.8 .29-2.1 .28,3.6 .29-2.9 .29-.8 .29,5.5 .28,6.4 .29-11.2
l.29,1.8 .29,2.4 .29,3.1 .28-11.8 .29,6.1 .29,0 .29,4.1 .28-.8 .29-3.9 .29,6 .29-10.1 .29,6.6 .28-7 .29,4.4 .29,3.6
l.29-11.2 .28,8.1 .29,1.7 .29-5.9 .29,2.1 .28,1.4 .29,7.8 .29-1.1 .29-10.6 .29,5.6 .28-4.1 .29,5.3 .29-4.7 .29,8.1
l.28-6.3 .29-6.8 .29,4.7 .29,2.3 .28-1.2 .29-.6 .29-7.7 .29,6.7 .29-1.2 .28,3.6 .29-4.4 .29,.3 .29,4.5 .28,3.7 .29-5.9
l.29-5.8 .29,6.9 .29-1.1 .28-6.3 .29,5 .29,7 .29-14.5 .28,6.1 .29,2.3 .29-1.3 .29-3.3 .28,3.9 .29-9.5 .29,5.2 .29-1
l.29,1.1 .28,3.2 .29-3.2 .29-6.7 .29,8.9 .28-1.7 .29-2.3 .29,4.3 .29-6.9 .28,8.3 .29-6.9 .29,5.4 .29-3.1 .29-.3
l.28-12.4 .29,12.8 .29-6.8 .29,2.1 .28,4.4 .29-7.1 .29,3.5 .29,6.1 .29,.2 .28-8.2 .29-.5 .29,6.9 .29-7.3 .28,1.2
l.29-3.7 .29,4.5 .29-3.7 .28,.3 .29-3.3 .29-2.6 .29-4.6 .29,14.3 .28-7.9 .29,4.3 .29,.5 .29,2.1 .28-5.7 .29-3.1
l.29,.6 .29-2.7 .28-.5 .29-1.9 .29,1.1 .29-1.9 .29-.2 .28,2 .29,2.9 .29-.2 .29-9.1 .28,5.3 .29-8.4 .29,4.3 .29,.3
l.29-3.4 .28-2.8 .29-8.1 .29,8.2 .29-.8 .28-5.3 .29-4.1 .29,3.4 .29,.4 .28-6.3 .29-.7 .29-2.4 .29,6.5 .29-11.1 .28,.6
l.29-6.6 .29,3.9 .29-5.2 .28,.8 .29-13.3 .29,14 .29-4.9 .28-3.4 .29,6.7 .29-13.5 .29-11.5 .29,.8 .28-3.8 .29,1.2
l.29-1.4 .29-4 .28-.4 .29-2.2 .29-6 .29-.5 .29-2.1 .28-.2 .29-.9 .29-.3 .29,.1 .28,.7 .29,1.5 .29,1.7 .29-.5 .28,5.2
l.29,1 .29,2.1 .29,5.4 .29-4.8 .28,1.1 .29,11.2 .29,0 .29,.5 .28,3.1 .29,2.1 .29,10.9 .29-2.8 .28,9 .29-3.6 .29-.6
l.29,.6 .29,15.6 .28-8.9 .29,9.5 .29-6.9 .29,2.1 .28,2.6 .29-1.9 .29,4.6 .29,6.1 .29-.6 .28-1.7 .29,10.1 .29-5 .29-1.5
l.28,7.3 .29-8.9 .29,1.6 .29,3.5 .28,3.7 .29,1.9 .29-3.1 .29,1.4 .29-1.3 .28,7.9 .29-4.8 .29-1.4 .29,9.5 .28-3.9
l.29,1.1 .29,1.6 .29-4.2 .28,5.4 .29-3.2 .29,1.9 .29-.9 .29,4.7 .28,2.2 .29-4.9 .29,3 .29-2.7 .28,5.8 .29,.8 .29-4.7
l.29,2.6 .29,1.6 .28-2.9 .29,3.8 .29-1.1 .29-1 .28,6.9 .29-8 .29,4.2 .29,1.4 .28-.5 .29,2.6 .29,5 .29-7.2 .29,2.2
l.28-7.9 .29,.8 .29,8.1 .29-3 .28-2.8 .29,3 .29,2.3 .29,.9 .28,2.9 .29-7.1 .29,1.2 .29,1.9 .29,.9 .28-6.6 .29,5.2
l.29-3.3 .29,10.1 .28-1.2 .29,0 .29-5.8 .29,4.3 .29-6.3 .28,4.8 .29-3.3 .29,5.3 .29-4.6 .28,4.7 .29-.8 .29,3.7 .29,3.2
l.28-2.3 .29-5.5 .29,.2 .29,7.4 .29-1.6 .28,.9 .29-7.4 .29,5.7 .29,.6 .28-5.6 .29,4.2 .29-4.2 .29-.8 .28,5.1 .29,4.5
l.29-5.4 .29-9.3 .29,12.5 .28-9.2 .29,7.7 .29,1.3 .29-9.2 .28,7.3 .29,6.6 .29-3 .29-1.8 .29-1 .28-6.9 .29,1.2 .29,3.7
l.29-1.7 .28,3.6 .29,4.6 .29-6.4 .29,1 .28-4.4 .29,2.4 .29-3.2 .29,6 .29-.1 .28,.4 .29,1.5 .29-7.3 .29,3.5 .28,5.2
l.29-2.2 .29-9.5 .29-1.7 .28,3.6 .29,4.9 .29-5.6 .29,6.3 .29,4.3 .28-4.7 .29,4.4 .29-3.3 .29-9.4 .28,6.6 .29,1.2
l.29-2.2 .29,4.8 .29-2.7 .28,4.8 .29,1.4 .29-3.3 .29,2.7 .28,4 .29-6.6 .29,2.1 .29-.5 .28-9 .29,3.1 .29-1.4 .29,4.6
l.29,3.1 .28-.5 .29-10.3 .29,17.6 .29-8.8 .28-2.8 .29,6.6 .29-9.8 .29,7.1 .28-3.1 .29-6.1 .29,2.6 .29,4.2 .29-.5
l.28-6.1 .29-1.7 .29,5.3 .29,9 .28-5.3 .29-5.9 .29,6.8 .29-1.7 .29,2.6 .28-2.2 .29-5.5 .29,1.1 .29,6.8 .28-9.1 .29,10.4
l.29-9.3 .29,.2 .28,8.4 .29,2.1 .29-11.1 .29,1.3 .29,1.6 .28,3.8 .29-4.5 .29,7.2 .29-8.9 .28-5.9 .29,9.6 .29-4.8
l.29,7.3 .28-4.6 .29,2 .29-2.6 .29,2.9 .29,5.4 .28-10.8 .29,8.6 .29-8.9 .29,9 .28-7.8 .29,1.5 .29,3.4 .29-5.8 .29,2.7
l.28-5.2 .29,3.5 .29-2.2 .29,12.7 .28-13.4 .29,6.3 .29-.1 .29,4.1 .28-2.3 .29-1.7 .29-1.5 .29,0 .29,1.7 .28-2.2
l.29-2.8 .29,5.2 .29,.6 .28-6.8 .29,2.4 .29,5.4 .29-6.5 .28,.9 .29-6.9 .29,5 .29,.3 .29,3.4 .28,3.3 .29-3.4 .29,.6
l.29,0 .28-5.6 .29,8.5 .29-10.9 .29,10.6 .29,1.6 .28-9.4 .29,4.6 .29,1.8 .29-4.4 .28,3.4 .29-2.4 .29,1.9 .29-2.1
l.28,3.8 .29-6.1 .29,4.4 .29-2.1 .29,8.9 .28-10.5 .29,4.1 .29-1.4 .29,.4 .28,.9 .29,1.6 .29-7.6 .29,5.5 .28-1.1
l.29,.5 .29,1.5 .29-7.3 .29,7 .28-4.1 .29,4.5 .29,2.5 .29,.1 .28-7.8 .29,9.7 .29-1.1 .29-4.3 .29-4.8 .28,5.1 .29-7.2
l.29,4.9 .29,.2 .28-7.1 .29,4.1 .29,3.6 .29,.4 .28-5.5 .29-2.3 .29,6.5 .29-.5 .29-5 .28,7 .29-4.5 .29,.6 .29,1.5
l.28,3 .29,5.6 .29-8.6 .29,4.1 .28-6 .29,3.2 .29-.5 .29-7.5 .29,2.9 .28,6.5 .29-7.2 .29,4.8 .29,3.6 .28-5.8 .29,.5
l.29-3.9 .29-.2 .29-.4 .28,7 .29-2.5 .29,6.7 .29-8.3 .28,2 .29,7.7 .29-11 .29,.6 .28,8 .29,2.5 .29-7.4 .29-2.4 .29,1.4
l.28-6.1 .29-3.7 .29,8.8 .29,1.2 .28,.9 .29-10.1 .29,8.1 .29-2.7 .28-.9 .29-.6 .29,2.4 .29-5.9 .29,5.2 .28,1.4 .29,5
l.29-2.9 .29-1.3 .28-4.4 .29,6.4 .29-3.2 .29,1.6 .29,10 .28-11.9 .29-5.8 .29,12.6 .29-10.4 .28,9.4 .29-3.2 .29-1.4
l.29-4.2 .28,3.8 .29-.4 .29-3.5 .29-.3 .29,4.4 .28-2.6 .29-3.6 .29,3.5 .29,6 .28-4.4 .29,6.4 .29-15.1 .29,8.1 .28,7.4
l.29-4.9 .29-3.6 .29-1.2 .29,3.5 .28,1 .29,2.2 .29-7.6 .29-1.5 .28,3.7 .29,.5 .29,.2 .29,2.8 .29-.7 .28-3.9 .29,1.2
l.29-.7 .29,4.7 .28-6.2 .29,7.3 .29-9.3 .29,5.8 .28-2 .29,4 .29-2.5 .29,2.7 .29-3.7 .28,7.9 .29-12.1 .29,3.9 .29-2.1
l.28,3.3 .29-2.6 .29,4.9 .29,.8 .28-2 .29,4.3 .29-9.3 .29,4.6 .29-.6 .28,2.6 .29-5.7 .29-2.2 .29,5.6 .28-5.8 .29,3.1
l.29,.4 .29,7.8 .29-3.3 .28-8.7 .29,.5 .29-4.7 .29,11.5 .28-5.8 .29,9.4 .29-2.8 .29,.9 .28-1 .29-4.8 .29-4.7 .29,5.1
l.29,5.8 .28-10.6 .29,3.9 .29,7.9 .29-12.2 .28,5.5 .29-3 .29,5.7 .29-.5 .28-3.8 .29,8.3 .29-6.9 .29-3.5 .29,1.8
l.28,2.2 .29,1.3 .29,0 .29-7.9 .28,5 .29,.4 .29,4.5 .29-5.5 .29-1.5 .28,12.6 .29-16.4 .29,3.5 .29,4.2 .28,6.7 .29-17.8
l.29,7.3 .29,5 .28,3.9 .29-10.4 .29,12 .29-7.6 .29,1.3 .28,3.7 .29-2 .29-.1 .29-6.7 .28,2 .29-3.2 .29,9.1 .29-9.7
l.28,3.9 .29-3.7 .29,6.5 .29-3.4 .29,6.1 .28-8.9 .29,4.4 .29,3 .29-1.9 .28-.9 .29,8.1 .29-8.1 .29,5 .29-4.1 .28-1.2
l.29-9.2 .29,8.2 .29,7.3 .28-7.9 .29,7.2 .29-.6 .29-1.1 .28-7.1 .29-3.2 .29,4.2 .29,8.4 .29-6.2 .28-2.8 .29,14.2
l.29-9.2 .29-12.3 .28,16.6 .29-1.5 .29,.6 .29-11 .28,1.9 .29,.8 .29-1.8 .29,7.7 .29,5.3 .28-10.4 .29,9.3 .29-9.7
l.29,.4 .28,1.5 .29-4.8 .29,3.8 .29,6.9 .29-1.9 .28-6.2 .29,5.6 .29-5.4 .29,3.8 .28-2.3 .29,5.2 .29-3.4 .29,6.3
l.28-3.9 .29-5.3 .29,5.1 .29,1.3 .29-7.8 .28,.5 .29,8.2 .29-5.9 .29-1.1 .28,5.8 .29-.5 .29-2.5 .29-7 .28,6.5 .29,.1
l.29,11 .29-12.7 .29-2.6 .28,8.8 .29-7.9 .29,1.7 .29-1.8 .28,3.4 .29-.2 .29-10.4 .29,2.8 .29,11.7 .28,3.1 .29-8.6
l.29-.3 .29,1.4 .28,1.1 .29-6.6 .29,18.8 .29-8.5 .28-6.8 .29,.6 .29,0 .29,5.3 .29-10.4 .28,3.1 .29,.6 .29,1.7 .29,8
l.28-3.6 .29,3 .29-5.3 .29,6.4 .28-6 .29,2.7 .29-2.6 .29,9.3 .29-4.7 .28-5 .29-2.4 .29,8.3 .29-8 .28-8 .29,11.4
l.29,2.6 .29,4.6 .29-.9 .28-4.5 .29-1 .29-3.6 .29-5.3 .28,11.3 .29-4.9 .29-5.2 .29,3.7 .28,1.5 .29,.1 .29,6.3 .29,.3
l.29-9.1 .28-2.5 .29,1.2 .29,.1 .29-2.5 .28,.6 .29,7.8 .29-2.7 .29,10.7 .28-13.9 .29,3.7 .29,.2 .29-3.7 .29,9.7
l.28-6.1 .29,4.2 .29-10.1 .29,11.9 .28-2.8 .29-4.3 .29-5.2 .29,7.2 .29,5.8 .28-2.9 .29-4.3 .29-.9 .29,7.5 .28-10
l.29,8.5 .29,.3 .29-3.1 .28,4.2 .29,.1 .29-4.1 .29,9.2 .29-8.5 .28,3.5 .29-6.2 .29,5.2 .29-7.7 .28,2.3 .29-.6 .29,1.2
l.29,4.5 .28-5.1 .29-1 .29,2.1 .29-.9 .29,0 .28,2.4 .29,1.2 .29-2.6 .29-.2 .28-1.9 .29-2.4 .29,6.3 .29,.6 .29-10.1
l.28,8.4 .29,0 .29,3.3 .29-5 .28,10.7 .29-6 .29-2 .29,2 .28-3.9 .29-3.8 .29,3.3 .29,3.1 .29,8.4 .28-6.6 .29-8.3
l.29-1.1 .29,3.8 .28-1.1 .29,.3 .29,9.4 .29-4.3 .28,.5 .29-4.6 .29-2 .29,4.3 .29-7.5 .28,8.4 .29,1.6 .29,.2 .29,6.1
l.28-11.3 .29,5.1 .29-4.8 .29,.9 .29-.4 .28,9 .29-5.2 .29-.4 .29-2.4 .28,5.6 .29,.2 .29-9.1 .29,10.7 .28-6.8 .29,5.5
l.29-7.8 .29,5.3 .29-.4 .28,2.3 .29,4.3 .29-15.4 .29,7.6 .28-6.4 .29,3.4 .29,6.8 .29-1.9 .28-4.5 .29,2.1 .29,3.1
l.29-4.4 .29-1.9 .28-1.4 .29-2 .29,6.6 .29,1.8 .28,0 .29,9.1 .29-16.1 .29-1.2 .29,22.4 .28-16.1 .29,2.9 .29-1.2
l.29,6.4 .28-6.7 .29,8.1 .29-11.2 .29-1.3 .28-1.2 .29,12.2 .29-2 .29-2.3 .29-8.2 .28,6.6 .29-7.4 .29,5.7 .29-1.9
l.28,8.8 .29,1 .29-3.6 .29,1.7 .28,1.2 .29-8.5 .29-4.2 .29,9.7 .29-2.7 .28-6 .29,5.3 .29-2.9 .29,.2 .28-2 .29,.2
l.29,3.5 .29,5.4 .29-8.7 .28,9.2 .29-5.2 .29-1.4 .29-10.2 .28,9.1 .29,1.1 .29,3.4 .29-.8 .28,5.7 .29,3 .29-8.6 .29-1.3
l.29,2.7 .28-.8 .29,0 .29-8.5 .29,10.1 .28-10.7 .29,11 .29-2 .29-.7 .28-2.7 .29-3.5 .29,1.8 .29-.5 .29,3.4 .28,1.3
l.29,.5 .29,4.4 .29-14 .28,9.5 .29,2.8 .29,2 .29-3.7 .29,3.3 .28-8.8 .29-.5 .29,7.7 .29-8.1 .28,1.9 .29,2 .29,.3
l.29,2.3 .28-5 .29,11 .29-10.1 .29,3.4 .29,9.4 .28-8.2 .29-2 .29-2 .29,2.3 .28,4.4 .29-4.9 .29,.5 .29,14.2 .28-8.9
l.29-3.1 .29,1.3 .29-3.5 .29-7.8 .28,8.6 .29,2.1 .29-1.6 .29,3.6 .28-1.4 .29,.7 .29-5.5 .29,4.7 .29-2.7 .28-1 .29,5.8
l.29-6.7 .29-4.3 .28,7.8 .29-2.1 .29-3.6 .29-.8 .28,4.3 .29,2.2 .29-3.1 .29,6.7 .29-1.1 .28-1 .29-4.1 .29,6.5 .29-5.7
l.28,8 .29-2.8 .29-.4 .29-5.9 .28-5.1 .29,14 .29-7.6 .29,1.6 .29-2.2 .28,4.1 .29-5.8 .29,12.3 .29-12.7 .28-2 .29,9.5
l.29-4.1 .29,5.3 .29-3.2 .28-.2 .29,10.1 .29-14.8 .29,.8 .28-4.9 .29,8.1 .29-.8 .29-4.4 .28,12.6 .29-9.9 .29,3.7
l.29-9.4 .29,8.7 .28-5 .29,6.1 .29,11.8 .29-19.4 .28,1.4 .29,.2 .29,5.5 .29-6.2 .28,9 .29-.7 .29-7.3 .29,.7 .29-4.4
l.28,10.7 .29-4.9 .29-.3 .29-2.3 .28,9.1 .29-4.9 .29,2.2 .29-4 .29-10 .28,9.2 .29-3.6 .29,4.1 .29,4 .28-2.6 .29,1.2
l.29,.5 .29-4 .28,1.2 .29,5.9 .29,5.3 .29-6.5 .29-4 .28-4 .29,5 .29-1.4 .29-2.1 .28-.5 .29,7.9 .29-2.2 .29-3.6 .28,5.1
l.29,1.4 .29-2.5 .29-1.2 .29-4.4 .28,6.5 .29,1.4 .29-1.8 .29-5.1 .28,10.9 .29-8.8 .29-2.8 .29,5.8 .29,.8 .28,2.5
l.29-1.1 .29-3.1 .29-5.8 .28,2.9 .29,4 .29,4.4 .29-1 .28-9.4 .29,10.3 .29-9.9 .29,3.5 .29-3.5 .28,2.7 .29,3.9 .29-2.2
l.29,1.6 .28,3.5 .29-4.1 .29-.6 .29,4.3 .28-3.4 .29-4.1 .29,3.1 .29,4.6 .29-10.9 .28,9.2 .29-7.6 .29,3.3 .29-3.1
l.28,3.5 .29,5.7 .29-9.6 .29,8 .29,3 .28,.2 .29-7.8 .29,3.8 .29-.1 .28,4.2 .29-13.9 .29,4.9 .29-1.4 .28,3.4 .29-4
l.29,6.9 .29-7.6 .29,5.7 .28,1.7 .29-5 .29,1.4 .29,.3 .28,8 .29-2.6 .29,1.5 .29-2.1 .28-3.6 .29,4.5 .29-4.1 .29,4.4
l.29-2.9 .28-3.7 .29-2.4 .29-3 .29,6.8 .28-.3 .29-4.9 .29,12.6 .29-2.1 .29-8.1 .28-.5 .29-3.5 .29,.6 .29,.6 .28,3.2
l.29,3.1 .29-4.7 .29,12.5 .28-6.7 .29,5.5 .29-5.2 .29,10.7 .29-13.3 .28,2.1 .29-4.7 .29,11 .29-5 .28-5 .29,10.8
l.29-6.3 .29,8.2 .28-16.6 .29,11.7 .29-4 .29-1.1 .29,8.8 .28-4.9 .29,4.4 .29-9 .29-3.7 .28,15.4 .29-9.1 .29,5.7
l.29-7.4 .29-.8 .28-1.4 .29,1.2 .29,9.3 .29-1.3 .28-5 .29-3.1 .29,6.1 .29-1.6 .28-3.5 .29,1.3 .29-3.9 .29,9 .29-6.6
l.28,1.6 .29,.1 .29,1.1 .29,1.5 .28-7.7 .29,8.1 .29-4.2 .29,1.2 .28,3.2 .29-3.9 .29-.1 .29-5.2 .29,9.6 .28-5.6 .29,.3
l.29-1.6 .29,6.6 .28-3.9 .29,6.3 .29-6.4 .29-3.3 .29-1.5 .28,15.1 .29-7.3 .29-3.2 .29,8.9 .28-17.5 .29,8.9 .29,8.3
l.29-19.7 .28,10.8 .29,9.8 .29-4.2 .29-.7 .29-2.5 .28-7.2 .29,9.5 .29-.6 .29-2.2 .28-2.2 .29,1.2 .29,6.6 .29-9 .28,7.1
l.29-.2 .29-13.3 .29,17.2 .29-7 .28,4.2 .29-7.2 .29,1.3 .29,5.4 .28-1.9 .29,.3 .29-4.2 .29,9.1 .29-8.4 .28,.3 .29,1.1
l.29,1.8 .29-4.6 .28,.5 .29,1.4 .29,.6 .29-2.4 .28,0 .29,7.3 .29,.5 .29-3.3 .29,1.3 .28-.6 .29-1.5 .29-6.5 .29,5.4
l.28-.5 .29-2.6 .29,6.1 .29-1.4 .28,6.3 .29-4 .29-6 .29,4.1 .29-.1 .28-7.8 .29-.6 .29,6.3 .29,4.1 .28,1.8 .29-5.1
l.29,4.5 .29-4.3 .29,2 .28-1.5 .29,1 .29-6.4 .29,5.6 .28-7.3 .29,8.3 .29-8.2 .29,10.5 .28-5.1 .29,2.5 .29,2.9 .29-12.6
l.29,7.8 .28,4.5 .29,2.4 .29-8.5 .29-.5 .28,2.3 .29,3.2 .29-.7 .29,3.3 .28-2.9 .29-.7 .29-4.1 .29-.5 .29,7.7 .28,3.7
l.29-15.5 .29,7 .29,3.5 .28-4 .29,4.3 .29-1.3 .29,8.1 .29-8.2 .28-8.2 .29,3.3 .29,4.3 .29-1.3 .28-2.5 .29-1.4 .29,7.5
l.29-2.2 .28-1.8 .29-2.8 .29,5 .29-3.4 .29-1.2 .28,3 .29-2 .29-2.8 .29,9.7 .28-5.6 .29-.5 .29-7.4 .29,16.4 .28-4.7
l.29,2.9 .29-1.8 .29-5.3 .29,5.2 .28-3.5 .29-.5 .29,.9 .29-4.3 .28,2 .29,4.7 .29-1.6 .29-2.9 .29,3.5 .28-4.2 .29,2
l.29,2 .29-.8 .28,3.1 .29-5.7 .29,3.6 .29,.5 .28-1.7 .29-9.9 .29,4.1 .29,7.2 .29,1.5 .28-6.9 .29,6.8 .29-8.6 .29,7.4
l.28-7.2 .29-3.9 .29,9.5 .29-4 .28-.4 .29-6.6 .29-.3 .29,13.2 .29-8.6 .28,.9 .29,3 .29-.9 .29,6.4 .28-.8 .29-3.2
l.29,5 .29-6.9 .29,.7 .28-5.4 .29,10.5 .29-9.9 .29,3.9 .28,.3 .29,1.2 .29-.2 .29,2.9 .28,1 .29-8.9 .29,14.2 .29-13.2
l.29,2.4 .28,.6 .29-3.3 .29,4.1 .29-1 .28-1.7 .29,3.2 .29-4.4 .29,.3 .28,4 .29-2.1 .29,5.4 .29-4.8 .29,.6 .28,6.3
l.29-5.8 .29-2.1 .29,6 .28,1.4 .29-5.1 .29,2.2 .29,1.5 .29-4.1 .28,4.1 .29-4.4 .29-3.8 .29,3 .28,.5 .29,4.8 .29-9.3
l.29,6.3 .28-8 .29,9.1 .29-2.4 .29,5.4 .29-6.6 .28,6.9 .29-5.8 .29-6.5 .29,3.8 .28,8.2 .29-9 .29,8.5 .29-3.5 .28,.9
l.29-.6 .29-1.4 .29,9.5 .29-13.8 .28,4.6 .29,3.8 .29-5.5 .29-4.6 .28,10 .29-6.9 .29,3 .29-.7 .29,2.6 .28-2.5 .29-2.3
l.29,8.8 .29-3.2 .28-1 .29,.2 .29,4.6 .29-4.5 .28,2.3 .29-6.2 .29,1.6 .29-.8 .29-.9 .28,3.5 .29,2.1 .29-6.9 .29,4.5
l.28,.7 .29-9.1 .29,12.5 .29-9.4 .28-2.1 .29,6.8 .29,1 .29-3.9 .29,4.7 .28,4.8 .29-12.6 .29-2.1 .29,11.9 .28-8.3
l.29,2 .29,.9 .29-3.1 .29,4.6 .28-.5 .29-1.9 .29-.7 .29,11.1 .28-14.8 .29,2.4 .29-2.1 .29,5.1 .28,3.5 .29-6.5 .29,0
l.29-1.8 .29,1.1 .28,6.3 .29,1 .29-3.7 .29-2.5 .28,1.9 .29,1.8 .29-2.8 .29,8.1 .28-7.1 .29,8.4 .29-15.8 .29,14.2
l.29-14.9 .28,3.7 .29-.7 .29,.9 .29,4.9 .28-1.9 .29-6.3 .29,10.9 .29-3.6 .29-4.8 .28,6.6 .29-9.9 .29,11.8 .29-1.8
l.28-3.4 .29,3.4 .29-2.1 .29-1.1 .28,.7 .29-2.2 .29-.2 .29,.1 .29,.5 .28,.4 .29-1.1 .29-.3 .29-1.8 .28-3.5 .29,9.2
l.29-10 .29,3.7 .28-.6 .29,6.1 .29-3.3 .29-.3 .29,2.4 .28-4.1 .29,7.6 .29-1.3 .29-7 .28,1.7 .29,8.3 .29-8.4 .29,1.1
l.29-3 .28,3.8 .29-.3 .29,4.1 .29-3.7 .28,1.2 .29-4 .29,10.5 .29-8.3 .28-4.7 .29,15.8 .29-14.2 .29,.9 .29,1.2 .28-1
l.29,4.2 .29-6.5 .29,2.3 .28,8.4 .29-10.2 .29,7.3 .29-.7 .28-5.8 .29,3.2 .29-2.5 .29-.6 .29,1.5 .28-2.4 .29,8 .29-13.6
l.29,3.2 .28,6.1 .29-2 .29-7.1 .29,9.6 .29,2.9 .28-15.7 .29,2.8 .29,3.7 .29-5.7 .28,4.9 .29-1.4 .29,.3 .29-1 .28,6.9
l.29-4.5 .29-1.6 .29,5.7 .29,.5 .28-5.3 .29-7.4 .29,6.9 .29-5.4 .28-1.2 .29-.8 .29,2.5 .29,9.7 .28,1.3 .29-4.9 .29-4
l.29-1.2 .29,1 .28-1.2 .29-4.6 .29,7.1 .29-8.4 .28-.5 .29,9.3 .29-9 .29,0 .29-3.2 .28-.6 .29,10.7 .29-18.9 .29,6.8
l.28-4.8 .29-.8 .29,7.2 .29-5.4 .28-.6 .29-12.1 .29,14.4 .29-14.6 .29,1.3 .28,2.9 .29,2.5 .29-5.8 .29-6 .28,5.4
l.29-7.6 .29-4.3 .29-2.8 .28,2.4 .29-7.5 .29-3.3 .29,10.3 .29-7.1 .28-2.1 .29-6.6 .29-10.7 .29-2.3 .28-3 .29,.3
l.29-10.4 .29,6.9 .29-4.9 .28-11.2 .29-.4 .29-7 .29-2.3 .28-2.7 .29,0 .29-2.7 .29-1.4 .28-2.1 .29-.8 .29-.3"/>
<path id="cuni" stroke="#000000" stroke-width="5" d="M253.50,750.4
l.29-5 .29,6.8 .28,1.6 .29-11.8 .29,5.6 .29-8.9 .28,4.2 .29,13.1 .29-9.2 .29,3.5 .28-4.1 .29-2.5 .29-3.9 .29,12.2
l.29-1.5 .28-4.1 .29,3.6 .29-1.2 .29-7.6 .28,11.2 .29-2 .29-19.6 .29,22 .29-3.6 .28-6.5 .29,4.3 .29-6.3 .29,2.6
l.28-5.6 .29,5.5 .29-7 .29,5.8 .28,.9 .29,1 .29-2.8 .29-2.7 .29,3.4 .28-4.7 .29,.8 .29,1.8 .29,2 .28,4.2 .29,.3
l.29-10 .29-2.3 .28,16.1 .29-20.7 .29,12.5 .29,1.9 .29-2.8 .28,8.2 .29-2.9 .29-9.3 .29,4.7 .28-5.2 .29,3.5 .29-6.9
l.29,12.5 .29-5.9 .28,4.4 .29-3.5 .29-4.9 .29-1.4 .28,4.7 .29-2.9 .29,10.5 .29-4.5 .28-8.4 .29-.2 .29,11 .29-8.7
l.29,11.2 .28-16.1 .29,11.9 .29-2.3 .29-7.1 .28,1 .29,8 .29-3.7 .29-9.8 .28,6.8 .29,9.5 .29-20 .29,9.2 .29,6.2 .28,8.2
l.29-5.4 .29-1.8 .29-4 .28,5.2 .29-6.3 .29,.2 .29-14.8 .29,7.2 .28,6.3 .29,3.8 .29,9.2 .29-1.8 .28-12.5 .29-6.5
l.29,1 .29,11.3 .28-3.5 .29-3.4 .29,8.2 .29-10.8 .29,1.6 .28-3.2 .29-.3 .29,.2 .29,9.8 .28,4.4 .29-11.8 .29,8 .29-.4
l.28-7.2 .29,3.1 .29-4.4 .29-7.4 .29,11.3 .28,4 .29-6.2 .29,.1 .29-9.4 .28,5.4 .29,4.3 .29,3.1 .29-10.5 .29,11 .28,3.5
l.29,4.9 .29-17.7 .29,5.3 .28-3.8 .29,7.3 .29,1.7 .29-2.8 .28-1.5 .29,4.7 .29-14.6 .29,1.7 .29-8.2 .28,14.5 .29-3
l.29-2.5 .29,4 .28-4.6 .29,6.2 .29,4.9 .29-5 .28-3.7 .29,1 .29,9.9 .29-3.4 .29-7 .28,4.2 .29-2.4 .29-4 .29,11.1
l.28-7.8 .29,1.9 .29,1.6 .29-5 .29,11.1 .28-14.3 .29,7.2 .29-3.2 .29,1.1 .28,2.6 .29-7.1 .29,11.1 .29-4.8 .28-1.9
l.29-2.2 .29-5.5 .29,3.7 .29-4.6 .28,5.2 .29,11 .29-5.6 .29-7.9 .28-1.3 .29,4.9 .29,2.8 .29-1.7 .28,1 .29,0 .29-6.5
l.29,11.2 .29-5.6 .28-4 .29,6.6 .29-8.3 .29,8.8 .28,3.4 .29-1.7 .29-14.8 .29-5.4 .29,9.3 .28,7.3 .29,.4 .29-4.9
l.29-2.5 .28-.5 .29,7.3 .29-4.8 .29,1.3 .28-1.2 .29,9.2 .29-9.2 .29-2.2 .29,3.7 .28,.5 .29,1.8 .29-3.9 .29,14 .28-14.5
l.29,1.2 .29-8.7 .29,5.9 .28-.7 .29-11.3 .29,18 .29-9.6 .29,12.5 .28,2.3 .29-5.2 .29-9.5 .29,17.8 .28-19.8 .29,15.1
l.29-7.5 .29-4.5 .29-9.2 .28,14.6 .29,5.2 .29-10.4 .29,4.9 .28-9.1 .29,5.8 .29-5.1 .29,7.7 .28,12.9 .29-8.1 .29-1.9
l.29-9.7 .29,2.7 .28,.3 .29,5.2 .29-5.3 .29-3.1 .28,7.6 .29-3.6 .29,14 .29-13.6 .28,6.1 .29-4.7 .29-.4 .29-1 .29,6
l.28-6.5 .29,1.8 .29,.6 .29-10.5 .28,12.6 .29,3.7 .29-4.3 .29-8.1 .29,11.6 .28-17.4 .29,6.6 .29,6.6 .29-6.3 .28-3.6
l.29,9 .29,2.3 .29-3.7 .28-1.8 .29,3.4 .29-2.2 .29,.3 .29-3 .28-1.2 .29-6.7 .29,6.5 .29,6.1 .28-4.8 .29,7.3 .29-4.2
l.29,.5 .28-8.7 .29,6.3 .29,3.3 .29-8.9 .29-2 .28,5.2 .29,7.5 .29,5.8 .29-12.8 .28-.4 .29-8.1 .29,11.4 .29,3.3 .29-4.1
l.28,1.1 .29-.1 .29,3.7 .29-13.9 .28,4.3 .29,.4 .29,11.7 .29-4.5 .28-4.5 .29-2.9 .29-2.9 .29,3 .29,12.7 .28-10.9
l.29,8.4 .29-3.3 .29-.1 .28-10.6 .29,10.9 .29-1.4 .29-3.7 .28-3.1 .29,5.8 .29,5.8 .29-10.5 .29,2.8 .28,.6 .29-6
l.29,12.1 .29-5.4 .28-5.7 .29,13.3 .29-2.3 .29-14.8 .29,14.4 .28-5.6 .29-3.5 .29-5.1 .29,.6 .28,9.8 .29-11 .29,2.9
l.29,11.2 .28-2.7 .29-8.9 .29,12.9 .29-12 .29,4.4 .28,5.9 .29-1.8 .29-8 .29,10.3 .28-10.2 .29,.2 .29,2.2 .29-2.5
l.28-.4 .29,3.5 .29,4.4 .29-12.1 .29,6.9 .28,1.8 .29,8.6 .29-9.8 .29-1.2 .28,.6 .29,8.8 .29,5.5 .29-8.3 .29-3 .28-.3
l.29,15.7 .29-23.9 .29,1 .28,2.6 .29,3.3 .29,3.6 .29-7.5 .28-2.4 .29,3.8 .29,4.9 .29,3.9 .29-6.2 .28,4.1 .29-11.4
l.29,6.4 .29,6.5 .28-1.6 .29-6 .29,1.5 .29,11.9 .28-17.5 .29,15.5 .29-5.1 .29-11.5 .29,13.4 .28-14 .29,10.9 .29,.3
l.29-6.3 .28-8.7 .29,13.4 .29-6.1 .29,18.3 .29-16 .28,6.9 .29-11.7 .29,13.2 .29-6.7 .28,1.1 .29-10.1 .29,11.1 .29,4.1
l.28-4.3 .29-1.4 .29-.3 .29-1.1 .29-8.9 .28,16.7 .29-13.5 .29,8.1 .29,4.6 .28,1.4 .29-6 .29-11.9 .29,11.2 .28-15.7
l.29,19.1 .29-1.6 .29,3.3 .29-10.1 .28,7.3 .29,7.2 .29-15.9 .29,6.5 .28,1.8 .29-.3 .29,3.2 .29-9.4 .29,3.1 .28,9.3
l.29-15.4 .29,7.5 .29-8.5 .28,12.6 .29-5.4 .29,1 .29-.8 .28,.3 .29,2 .29,.5 .29-6 .29,13.2 .28-1 .29-13 .29-.5 .29,3.1
l.28-5.9 .29,.1 .29,7.8 .29-1.8 .28,2.4 .29-7.3 .29,2.3 .29,2.4 .29,7.1 .28-2 .29-3.5 .29,.4 .29,1.7 .28-7.7 .29,12.6
l.29-.2 .29-12.2 .29,8.9 .28,7.8 .29-15 .29,3.3 .29-3 .28,4.9 .29-2.1 .29,7.4 .29-5.7 .28,3.9 .29,1.3 .29,3.3 .29-4.7
l.29,6.1 .28-11.2 .29,10.1 .29-6.1 .29,3.6 .28-5.1 .29-.2 .29-2.1 .29,5.2 .28-.3 .29-7.2 .29,7.3 .29-8.8 .29,20.7
l.28-5.5 .29-9.1 .29,.7 .29-.8 .28,8.4 .29-1 .29-4 .29,3.4 .29-7 .28,.7 .29,11.2 .29-8.6 .29-6.4 .28,3.4 .29,7.9
l.29-4.9 .29-3.3 .28-5.6 .29,9.5 .29-9.5 .29,12.9 .29,1 .28-7 .29,5.6 .29-14.9 .29,18.8 .28-7.5 .29,10.8 .29-10.8
l.29-8.2 .28,9.7 .29-8 .29,12.6 .29-9 .29,11.6 .28-2.6 .29-3.4 .29,5.4 .29-1 .28-3.9 .29-9.7 .29,14.6 .29-1.7 .29-3.6
l.28,12.7 .29-18.1 .29,3.6 .29,2.3 .28,4.7 .29-4.3 .29,5.8 .29,8.9 .28-18.6 .29,13.5 .29,.6 .29-13.9 .29,11.1 .28,2.4
l.29-6.2 .29,4.3 .29-1 .28,8.7 .29-14 .29-3.7 .29,3.1 .28,2.2 .29,4.1 .29,5.1 .29-11 .29,1.2 .28,.5 .29-.1 .29,6.1
l.29-8.8 .28,9.7 .29-2.5 .29,2.8 .29,1.3 .29,.4 .28-.1 .29-2.7 .29-1.2 .29-5.7 .28,0 .29,8.4 .29,7.5 .29-12.6 .28,9.2
l.29-9 .29,7.9 .29-4.4 .29,9 .28,3 .29-10 .29,6.8 .29,.3 .28-.7 .29-1.8 .29-6.3 .29,2.6 .28,1.4 .29,2.5 .29-4.3
l.29,1.3 .29-3.8 .28-1.7 .29,17.8 .29-6.1 .29-3.1 .28-5.2 .29,6.2 .29,8.6 .29-12.8 .29,5.5 .28,4.8 .29-5.5 .29,2.8
l.29-.3 .28-.9 .29,4.2 .29-16.2 .29,22.3 .28-19.1 .29,2.3 .29,1.7 .29,3.2 .29-9.6 .28,5.2 .29,1.5 .29,4.8 .29-14.1
l.28,12.4 .29,8.8 .29-16.7 .29,10.9 .28-6.6 .29-1 .29,10.2 .29,3.6 .29-13.6 .28-.6 .29,.4 .29,5.8 .29-2.9 .28-.8
l.29,11.4 .29-5.5 .29,1.2 .29-4.8 .28,14.5 .29-22.4 .29,5.2 .29,2.6 .28,.9 .29,3.5 .29-4.5 .29-.3 .28,6.7 .29,2.6
l.29,5.1 .29-15.4 .29,15.9 .28-19.4 .29,27.1 .29-14 .29-.8 .28,5 .29,3.7 .29-1.9 .29-9.8 .28,6.2 .29-2.2 .29,3.9
l.29,10.8 .29-11.2 .28,.2 .29,1.6 .29,.7 .29-10.3 .28-2.6 .29-.1 .29-2.4 .29,13.8 .29-.6 .28-1 .29-1.4 .29,.5 .29-4.5
l.28,13.4 .29-9.2 .29,8 .29-3.6 .28-5 .29,4.6 .29,1.1 .29,1.7 .29-2.2 .28,2.2 .29-3 .29,.4 .29,11.8 .28-12.7 .29,2.9
l.29-9.6 .29,16 .28,2.2 .29-5.2 .29-1 .29-4.8 .29,2.6 .28,9 .29-7.1 .29,1.7 .29,9.9 .28-14.9 .29-3.7 .29,7 .29,3.4
l.29-1.8 .28-6.3 .29,10.4 .29-5.5 .29-.2 .28-1.4 .29,1.6 .29-3.2 .29,5.4 .28,.1 .29-.4 .29-4.4 .29,11.5 .29-17.3
l.28,16.3 .29-18.2 .29,10 .29,3.2 .28,3.2 .29-3.2 .29,7.2 .29-4.2 .28,4.6 .29-9.6 .29-1.8 .29,10.5 .29-9.3 .28,6.8
l.29-5 .29,12.3 .29-7.1 .28,4.6 .29-4.5 .29,1.3 .29,1.3 .29-9.6 .28,2.6 .29,6.4 .29,1.5 .29-.5 .28-7.3 .29,7 .29-4.3
l.29,4.7 .28-2.4 .29-3.9 .29-2.8 .29,6.9 .29-8.8 .28,12.7 .29-3.1 .29,3 .29-9.5 .28,11 .29-6.1 .29,.7 .29,.7 .28,9
l.29-2.7 .29-5 .29-5.1 .29,3.4 .28,10.5 .29,2.9 .29-13.2 .29,5.6 .28,.5 .29-4.3 .29,10 .29-3.2 .29,.6 .28-3.3 .29,1.6
l.29,1.1 .29,4 .28-1.4 .29,.7 .29,1.2 .29-5.5 .28,6.1 .29-18.5 .29,12 .29,3.4 .29-.3 .28-3.9 .29,3.1 .29-11.2 .29,16.7
l.28-5 .29,.8 .29,2.7 .29-6.3 .28,8 .29-2.9 .29-8.5 .29,3.2 .29-1.8 .28,.2 .29-7.2 .29,2.9 .29,12.9 .28-3.3 .29-1.9
l.29-4 .29,8 .29-.1 .28-10.7 .29,14.6 .29-.7 .29-3.2 .28-.8 .29,3.9 .29-5 .29,3.9 .28-5.5 .29,6.9 .29-5.1 .29,1.1
l.29,2.2 .28-1.5 .29-2 .29,7 .29-3.1 .28,7.4 .29-13 .29,4.6 .29,.8 .28-3.3 .29,2.8 .29,4.1 .29-8.6 .29,12.5 .28-12.6
l.29,.2 .29,1.7 .29,6.2 .28,6.3 .29-6.5 .29,6.1 .29-5.1 .29,3.5 .28-2 .29-2.8 .29,11.5 .29-9.2 .28,3.3 .29-10.6
l.29,6.6 .29-7.4 .28,8.1 .29-11.6 .29,13.9 .29-13.1 .29,3 .28,7.4 .29-6.4 .29,3.4 .29,5.5 .28,3.4 .29-7.3 .29-6.9
l.29,13 .28-5.5 .29,6.1 .29,2.1 .29-5.5 .29,12.1 .28-9.7 .29,.3 .29,.2 .29,0 .28-7.7 .29,13.9 .29-8.2 .29-.5 .29,2.5
l.28,7.5 .29-7.6 .29,5.2 .29-14.8 .28,9.8 .29,4.5 .29-2.8 .29,6.1 .28-2 .29-3.7 .29,3.6 .29-.5 .29-2.8 .28,6.7 .29-9.1
l.29,0 .29,.9 .28-3 .29,8.5 .29-10 .29,10.7 .28-5 .29-4.3 .29,.4 .29,3.8 .29-2.6 .28,6 .29,6.5 .29-12.2 .29-3.3
l.28,5.7 .29,4.7 .29-1 .29-5.4 .29,9.2 .28,3.5 .29-6.6 .29-4.6 .29-1.2 .28,2.5 .29,4 .29-1.4 .29,1.8 .28-4.7 .29,5.7
l.29,1.6 .29-8.3 .29,7.8 .28-1 .29,7.7 .29-9.4 .29,0 .28,5.8 .29-10.2 .29,7.2 .29-10.3 .28,15.5 .29-1.6 .29-5.3
l.29,9 .29-10.2 .28,3 .29,4.2 .29,3.6 .29-3.3 .28,.1 .29-3.1 .29,8.5 .29-11.8 .29-2.1 .28,5.8 .29-.5 .29-4.9 .29,10.9
l.28-4.3 .29-7.4 .29,4.5 .29-5.1 .28,11.5 .29-7.7 .29,8.2 .29-6 .29-6.1 .28,17.4 .29-18.3 .29,14.7 .29-7 .28,2.4
l.29-5.4 .29,5.9 .29-5.9 .28,9.4 .29-4.5 .29-9.1 .29,18.1 .29-.6 .28-8.6 .29-3 .29,3.4 .29,1.7 .28-2.6 .29,4.5 .29,3.4
l.29-4.7 .29,3 .28-12.6 .29,8.9 .29,3.8 .29-1.1 .28,3.3 .29,1.2 .29-10.7 .29,4.8 .28,3.3 .29-4.5 .29,10.7 .29-6.5
l.29,2.6 .28-6.5 .29-3.1 .29,2.8 .29,4.3 .28-9 .29,4.6 .29,.7 .29,0 .28,7.9 .29-10.2 .29,1.6 .29-1.9 .29,6.6 .28-3.1
l.29,5.6 .29,1.4 .29-.9 .28-5.8 .29,10.9 .29-6.7 .29-.1 .29-8.9 .28,7.2 .29,.9 .29,1.5 .29,5 .28-6.2 .29-4.6 .29,3.6
l.29,10.4 .28-16.2 .29,7.8 .29-.1 .29,1.6 .29-14.9 .28,15.1 .29,3 .29,1.7 .29-17.2 .28,10.1 .29-.9 .29,4.1 .29-4.9
l.28,2.8 .29,.4 .29,3.7 .29-6.6 .29-.2 .28,15.2 .29-12.4 .29,7 .29-.9 .28-5.6 .29,3.7 .29-5.8 .29,.1 .29,.6 .28,3
l.29-6 .29,2.6 .29,.7 .28,14.7 .29-15.6 .29,2.9 .29-4.2 .28-2.7 .29,7.4 .29,4.2 .29-4.1 .29-.5 .28-.2 .29,0 .29,4.1
l.29,8.1 .28-5.2 .29-8.5 .29,1.8 .29,1.3 .28,5 .29,2.5 .29-4.4 .29-6.5 .29,4.9 .28-5.8 .29,5.6 .29,1.8 .29-6.7 .28,9.3
l.29-2.8 .29-1.8 .29,3.7 .29-1.2 .28,1.4 .29,1.1 .29-3.1 .29,1.6 .28-9.2 .29,8.6 .29-9.4 .29,5 .28,6.8 .29-6.2 .29,3.5
l.29-1.4 .29,9.6 .28-10 .29,9.6 .29-13.2 .29-.6 .28,4.8 .29,4.3 .29,9.1 .29-11.1 .28-4.4 .29,2.9 .29-3.3 .29,.5
l.29-.7 .28,.3 .29,6 .29,3 .29,1 .28-12.5 .29,7.2 .29,0 .29,6.5 .29-3.2 .28-4.1 .29,3.3 .29-1.4 .29-5.8 .28-3.1
l.29-1 .29,8.5 .29,5.1 .28-3.6 .29,.2 .29-5.1 .29,9.6 .29-7.9 .28,12.3 .29-3.8 .29-.3 .29-5.9 .28,6.9 .29-1.3 .29-8.9
l.29,14.8 .28-9.9 .29,4.6 .29-3 .29-5 .29,8.7 .28-4.1 .29,2.8 .29-6.9 .29,8.6 .28-3 .29-10 .29-.1 .29,10.1 .29-4.4
l.28-3.9 .29,6.8 .29-3.4 .29,4.9 .28-1.3 .29-1.6 .29-1.2 .29-2.5 .28-4.9 .29,7.9 .29,5.2 .29-1.3 .29-1.6 .28,.5
l.29,4.5 .29-9.3 .29,12.9 .28-4.9 .29-4.6 .29,4.8 .29,6 .28-15.1 .29,4.7 .29-4.6 .29,3.9 .29,3.4 .28-4.6 .29-3.7
l.29,7.4 .29-4.7 .28-.2 .29,7.8 .29-1.7 .29-3.2 .29,9.2 .28-2.4 .29-5.9 .29,4.9 .29-5.3 .28,1 .29,4.3 .29-6.5 .29,8.8
l.28-9.3 .29,3.3 .29,7.8 .29-15.3 .29,2.9 .28,4.3 .29-3.6 .29,.9 .29,6.9 .28-4.2 .29-6.9 .29,.9 .29,7.4 .28,.9 .29,3.9
l.29-2.5 .29-5.8 .29,3.2 .28,.6 .29,3.5 .29-2.7 .29-.2 .28-6.6 .29,3.6 .29-4.2 .29,3.8 .29,1.6 .28-7 .29,4.7 .29,2.3
l.29,5.5 .28-2.7 .29,1 .29-4.2 .29-5 .28,1 .29,7.8 .29-12.7 .29,12.2 .29-3.9 .28,2.6 .29,5.3 .29-3.2 .29,1.1 .28-1
l.29,.2 .29,.1 .29,7.2 .28-8.3 .29,5.5 .29-8.3 .29,5.9 .29,1.6 .28-3.9 .29,.2 .29-9 .29,5.6 .28,.3 .29,5.2 .29-6
l.29,2.1 .29-.9 .28-4.7 .29,5.6 .29-2.7 .29-2.2 .28,7.8 .29-5.4 .29,4.1 .29-5.2 .28,6.6 .29-2.7 .29,1.9 .29-3.1
l.29,1.5 .28,2.7 .29-5.9 .29,5.6 .29,2 .28-1.6 .29,1.4 .29-2.9 .29-4.1 .28,7.1 .29-6.1 .29-4.2 .29,7.8 .29,.2 .28-.2
l.29,2.3 .29-1.1 .29-7.8 .28,9.1 .29-3.9 .29,8.4 .29-12.5 .29-3.4 .28,15.7 .29-7.2 .29-5.2 .29,.7 .28,5.1 .29,2.6
l.29,0 .29-3.2 .28,2 .29-4.7 .29-7.1 .29-.9 .29,15.4 .28-10.4 .29,12.9 .29-8.6 .29,2.9 .28-2.3 .29-2.2 .29-1.4 .29-6.1
l.28,8.6 .29,2.3 .29-4.7 .29,7.9 .29-5.6 .28,.4 .29,8.8 .29-8.6 .29,2.7 .28-.8 .29-1.4 .29,.9 .29-2.7 .29,.6 .28-1.3
l.29,3.7 .29,.4 .29,1.1 .28,.7 .29,5.4 .29-11.7 .29,11.3 .28-10.8 .29,5.6 .29-3.7 .29-2.9 .29-3.9 .28,8.7 .29-2.1
l.29,5.5 .29-3.2 .28-1.8 .29,8.8 .29-8.7 .29-5.4 .28,6.3 .29,2.1 .29-8 .29,.4 .29,6.1 .28,9.9 .29-18 .29,3.2 .29,3.2
l.28-.7 .29,5.8 .29-3 .29,3.2 .29-4.2 .28-3.4 .29,10.2 .29,1.4 .29-17 .28,11.5 .29-7.1 .29,7.8 .29-1.9 .28-6.4 .29-.4
l.29,4.3 .29,1.6 .29-4.8 .28,13.4 .29-9.1 .29-6.4 .29,3.9 .28-2.6 .29,11.8 .29-8.5 .29-1.3 .28,4.2 .29-1.8 .29-6.8
l.29,2.9 .29,6.5 .28,2.5 .29,6.4 .29-13.3 .29,4.7 .28-.9 .29-4.3 .29-.7 .29,8.1 .29-3.3 .28-7.5 .29,8.9 .29,1.2
l.29-8.9 .28,8.8 .29,0 .29-7.8 .29-.7 .28,1.7 .29,3.8 .29-5.1 .29,4.3 .29-.1 .28-2.3 .29-4.6 .29,4.8 .29-.9 .28-5.6
l.29,8.2 .29-1.2 .29,9.1 .28-9.3 .29,4 .29-9.5 .29,7.2 .29-4.8 .28-1.4 .29,1.4 .29,1.2 .29,5 .28-2 .29-10.2 .29,10.1
l.29,.5 .29,4.7 .28-12.6 .29-.5 .29,10.3 .29-7.8 .28,6.9 .29,1.9 .29-.3 .29-4.2 .28,2.3 .29-4.3 .29,.5 .29,1.4 .29-.7
l.28-2.6 .29,3.6 .29,0 .29-5.5 .28,9.7 .29-10.4 .29-.9 .29,2.3 .28,1.2 .29-6.5 .29,9.2 .29-2.4 .29-.3 .28,6.8 .29-8.1
l.29,4.8 .29-3.1 .28-7.9 .29,6.2 .29,9 .29-4.4 .29-3.6 .28-1.4 .29,8.8 .29-4.2 .29-1.2 .28,2.4 .29-4.5 .29-4.5 .29,7.1
l.28-4.1 .29,4.7 .29-4.5 .29,4.9 .29-2.3 .28-.1 .29,.1 .29-5 .29-1.4 .28,3.7 .29,.8 .29,6.1 .29-2.1 .28-4 .29,2.8
l.29-2.4 .29,1.1 .29-2.5 .28-.4 .29,2.9 .29-2.5 .29,5.6 .28-6.7 .29,7 .29-10.6 .29,1.8 .29,5.4 .28-2.9 .29,5.9 .29-.9
l.29-4.3 .28,5.1 .29-6 .29,8.3 .29-6.2 .28-2.2 .29-1.4 .29,4.7 .29-1.3 .29,.7 .28,2.3 .29,2.2 .29,2.1 .29-5.7 .28-4.5
l.29,5.4 .29-1.1 .29,2.6 .28-8 .29,2.2 .29,13.4 .29-16.7 .29,.3 .28,4.3 .29,4.9 .29-4.4 .29,3.3 .28,6.4 .29-3.8
l.29-8.2 .29-2.5 .29,3 .28,6.8 .29-8.1 .29,8.8 .29-5 .28-1.9 .29-1.4 .29,.4 .29,5.8 .28,2.2 .29-7 .29,3.9 .29-10.4
l.29,3.9 .28,3.8 .29-7.5 .29,4.5 .29-4 .28-6.2 .29,6.4 .29,3.9 .29,1.3 .28-3.6 .29,10.3 .29-3.7 .29-12.4 .29,13
l.28-7.1 .29,10.6 .29-5.4 .29-3.3 .28,3.4 .29-3.9 .29,7.1 .29-4.5 .29-6.2 .28,2.6 .29,4.5 .29-4 .29,2 .28,1.6 .29-.5
l.29,2 .29-5.2 .28-1.5 .29,9.9 .29-13.3 .29,7.9 .29,2.3 .28-1.8 .29,.2 .29-3.1 .29,2.2 .28,4.4 .29,1.7 .29-9 .29,3.2
l.28,2.4 .29-1.6 .29-3.8 .29-4.9 .29,9.5 .28-3.1 .29-2.6 .29-.4 .29,1.6 .28,8 .29-3.8 .29,1.6 .29-4.3 .29,.5 .28,1.3
l.29-3.4 .29,.2 .29-1.2 .28,.3 .29,4.6 .29-7 .29,6.5 .28,1.6 .29-2.4 .29,0 .29,.2 .29-.3 .28-7.1 .29,6.6 .29-3.8
l.29-2.8 .28,6.3 .29,3 .29,2.6 .29-3.2 .28-13.3 .29,14.4 .29-2.3 .29-6.4 .29,3.7 .28,8.9 .29-14.8 .29,2.8 .29-.6
l.28-1.2 .29-1.9 .29-3.1 .29,9.7 .29-1.5 .28,6.4 .29-6.1 .29,4 .29-4.1 .28-5.4 .29,5.8 .29,.8 .29,5.3 .28-3.2 .29-5.6
l.29,2.8 .29,1.2 .29,4.7 .28-2.3 .29-8.5 .29,.1 .29,6.7 .28-3.1 .29,2.7 .29,2.7 .29-5.2 .28,3.7 .29,1 .29-3.2 .29-4.5
l.29,1.7 .28,2.1 .29-1 .29,10 .29-8.6 .28,6.1 .29-13.6 .29,.4 .29,17.7 .29-9.1 .28-4.7 .29,1.8 .29,11.3 .29-10.1
l.28,1.6 .29,2 .29,4.6 .29-9.2 .28-3.7 .29-.8 .29,1.8 .29-5 .29,7.4 .28,3.1 .29,2.2 .29-1.1 .29,.3 .28,1 .29-4.2
l.29-1 .29,3.2 .28,1.3 .29-5 .29-.7 .29,3.2 .29,2.8 .28,2.8 .29-12.3 .29,4.6 .29,1.2 .28-.6 .29,.4 .29-5.3 .29,11.4
l.29-7.6 .28,10.8 .29-2.9 .29-3.8 .29-5.6 .28-3.9 .29,10.2 .29-.6 .29,2.7 .28-10.4 .29,6 .29,1.5 .29,2.8 .29-8.6
l.28,4.1 .29,.8 .29-.2 .29,4.1 .28-4 .29,9.8 .29-.1 .29-11.3 .28,2.4 .29-4 .29,6.6 .29-2.5 .29-3.2 .28,5.8 .29,1.2
l.29-4.7 .29,3.6 .28,2.9 .29-12.9 .29,5.4 .29,3.3 .29-3.1 .28,2.9 .29,7.4 .29-5.8 .29-10 .28,4.7 .29,3.2 .29-7.9
l.29,9 .28-5.8 .29-1.1 .29,7.2 .29-.6 .29-8.6 .28,1.8 .29,3.4 .29,6.7 .29-7.5 .28,2.7 .29-1 .29,2.2 .29-.3 .28-1.3
l.29,3.1 .29-5.3 .29,5.9 .29-12.1 .28,11.8 .29-8 .29,6 .29-.9 .28-1.5 .29-2.3 .29,8.1 .29-13.6 .29,7.8 .28-2.9 .29,5.5
l.29,2.1 .29-9.2 .28,6.1 .29,.3 .29-6.5 .29,6.1 .28-4.3 .29-1.8 .29,1.9 .29,6.7 .29-9.8 .28,4.2 .29-4.9 .29-3 .29,7.5
l.28,8.2 .29-9.8 .29,3.7 .29,4.1 .28-7 .29,3.9 .29-1.1 .29,2.7 .29,3.1 .28-7.8 .29,6.9 .29-4.5 .29-.7 .28,3.5 .29-2
l.29-2.3 .29,.3 .29,1.7 .28,.6 .29-3.3 .29-2.2 .29,11.8 .28-9.4 .29-3.4 .29,1.9 .29,5.7 .28-11.1 .29,19.6 .29-12.7
l.29,3.7 .29-3.2 .28,7.9 .29-5.6 .29-4.5 .29,3.3 .28,3.8 .29-3.6 .29,1.3 .29-2.9 .28,3.8 .29-7 .29,4 .29-4.7 .29,.6
l.28,8 .29-7.7 .29,11.1 .29-5.6 .28-5.8 .29,7.8 .29-5.8 .29,3.4 .29,4.7 .28-9.6 .29,3.4 .29,1.3 .29,1.8 .28-1.2
l.29-11.2 .29,9 .29-3.3 .28,7.6 .29-6 .29,1.9 .29,1.4 .29-.4 .28-7.6 .29,1.2 .29,7.4 .29,9.5 .28-11.9 .29,5 .29-1.1
l.29-3.6 .28,8.1 .29-9.9 .29,1.6 .29-1.7 .29,1 .28,12.4 .29-9.6 .29-6 .29,6 .28,.2 .29,.4 .29-.9 .29-3.2 .29,1.1
l.28,3.3 .29-2.2 .29-2.8 .29,5.3 .28,7.9 .29-13.6 .29,11.6 .29-7 .28,2.5 .29-1.5 .29-8 .29,8.3 .29-2.1 .28,2.5 .29,4.5
l.29-4.2 .29-6.8 .28-1.9 .29,8.2 .29-9.8 .29,14.2 .28-14.7 .29,13.7 .29,2.1 .29-6 .29,4.2 .28-5.7 .29-5.2 .29-.1
l.29-2.8 .28,2.3 .29,6.2 .29-5.5 .29,.5 .29,4.9 .28-7.7 .29-3.5 .29,5.1 .29,11.1 .28-6 .29-3.1 .29,2.3 .29,6.6 .28-3.5
l.29,1.1 .29-.8 .29-1.5 .29-2 .28,3.8 .29-5 .29-.8 .29,3.4 .28,1.5 .29,.4 .29-1.2 .29-2 .28-2.8 .29-6.1 .29,10.9
l.29-4.5 .29,3.7 .28-.2 .29-6.5 .29-5.6 .29,13 .28-12.9 .29,6.2 .29,8.3 .29-3.1 .29,4.9 .28-4.1 .29,2.2 .29-2.3
l.29-1.7 .28,1.6 .29-4.3 .29,2.1 .29-2.5 .28-1.2 .29,9.1 .29-3.6 .29-4.8 .29,8.8 .28-13.8 .29,7.9 .29,.4 .29-6.4
l.28,6.9 .29-4.7 .29,3.6 .29,8.8 .28-12.3 .29-.7 .29,5.6 .29,2.8 .29-4.1 .28-4.4 .29,.5 .29,1.1 .29,11.2 .28-19.6
l.29,12 .29-4 .29-.6 .29,1 .28,10.9 .29-6.8 .29-8.9 .29,8.1 .28-9 .29,9.4 .29-5.5 .29,13.3 .28-17.1 .29-.4 .29,10.1
l.29,2.6 .29-7.5 .28,1.8 .29,.9 .29-9.4 .29,5.4 .28-.3 .29-2.8 .29,2.7 .29,.5 .28,2.8 .29,3 .29-4.4 .29-.3 .29,3.3
l.28-8 .29,13.2 .29-12.5 .29,2.9 .28,.1 .29-4 .29,6.9 .29-5.7 .29-5 .28,6.2 .29,4.6 .29-6 .29,.4 .28,3.8 .29-3.3
l.29-1.4 .29,8.9 .28-3.5 .29-5.6 .29,3.3 .29,9.2 .29-17.1 .28,7.9 .29,7.4 .29-11.2 .29,4.7 .28-6.5 .29,5.7 .29-3.2
l.29-5.8 .28,3.5 .29,1.9 .29,3.5 .29,4 .29-8.3 .28-6.2 .29,.9 .29,7.4 .29-3 .28,3.7 .29,.4 .29,2.5 .29-12.4 .29,.3
l.28,7.3 .29-7.2 .29,9.4 .29-6 .28-2 .29-1.4 .29,16.3 .29-12.2 .28-2.3 .29,1.6 .29-.4 .29,4.3 .29-1.6 .28-4 .29,10.5
l.29-6.3 .29,.6 .28,1.9 .29-3.8 .29-5.3 .29,3.6 .28,.2 .29,4.2 .29-11 .29,15.7 .29-11.2 .28,1.7 .29,1.7 .29,2.1
l.29-5.5 .28-2.4 .29,4.3 .29,6.1 .29-10.9 .29,7.9 .28-6.1 .29,1.4 .29-3.8 .29,1.3 .28-.3 .29-5.5 .29,5.4 .29-8 .28,12.9
l.29,.2 .29-8.4 .29-1.4 .29-3.4 .28,5.9 .29,1.4 .29-4.3 .29,4.4 .28-6.6 .29,7.5 .29-2 .29,.1 .28-8 .29,6 .29-4.4
l.29,8.3 .29-7.1 .28,7.2 .29-5.4 .29,4.1 .29,2.3 .28-2.2 .29-5.6 .29-4 .29,5.5 .29-2.9 .28,6 .29-3.3 .29,4.5 .29-5.7
l.28,1 .29,6.4 .29,3.2 .29-7.4 .28-6.4 .29,4.8 .29-4.9 .29-.7 .29-.9 .28-1.7 .29,7.3 .29-9.9 .29,1 .28,6.2 .29-6.4
l.29,10.7 .29-10.5 .28-.1 .29,4.8 .29-3.4 .29,1.6 .29,1.8 .28-5.1 .29-2.2 .29,3.5 .29-1.5 .28,9.8 .29-12 .29,2.1
l.29,2.7 .29,11.2 .28-16 .29,5.6 .29-5.9 .29-3.2 .28,9.3 .29-2.8 .29-4.4 .29,2.7 .28,2 .29-5.9 .29-.8 .29,6.5 .29-6.5
l.28,4.8 .29-8.7 .29,2.3 .29,7.8 .28-13.4 .29,7.8 .29-4.8 .29,11.4 .28-7.9 .29,.4 .29-1.4 .29-3 .29-8 .28,10.1 .29,2
l.29,.8 .29-12.9 .28-.4 .29,18.1 .29-4.5 .29-8.3 .29,2 .28-12.9 .29,5.4 .29-10.6 .29,11.1 .28,.5 .29,8.7 .29-2.3
l.29,3.9 .28-10.2 .29-2.1 .29,2 .29-2.3 .29,.7 .28-3.6 .29-1.5 .29-.7 .29,.9 .28,4.2 .29,3.8 .29-16.2 .29-4.8 .28,10.6
l.29-.6 .29-9 .29-.9 .29,11.5 .28-8.5 .29-2.7 .29,3.8 .29,1.1 .28-2.2 .29-8.2 .29-1.6 .29-2.2 .29,12.1 .28-4.5 .29-11.4
l.29,3.4 .29-5.5 .28,15.7 .29-1.6 .29-8.7 .29-6.2 .28-1.7 .29,2.3 .29-11.1 .29,5.7 .29,4 .28-18.3 .29,13.3 .29-11
l.29-6.1 .28-.2 .29-6.4 .29,5.9 .29-11.9 .28,.6 .29,.1 .29-18.5 .29,10.4 .29-2.5 .28-.4 .29-16.8 .29,11 .29-10.7
l.28-17.5 .29,5.8 .29,6.8 .29-24.5 .29,10 .28-5.8 .29-19 .29-8.3 .29,2.7 .28-20.7 .29,6.2 .29-17.6 .29-2.9 .28-24.8
l.29,.8 .29-8.3 .29-13 .29-21.5 .28-11.9 .29-8 .29-20.5 .29-18.7 .28-17.9 .29-13.3 .29-28.2 .29-14 .28-17.8 .29-16.9
l.29-15 .29-12.8 .29-8.8 .28-5.8 .29-2 .29,1.9 .29,5.6 .28,8.8 .29,12.1 .29,12.6 .29,18.7 .29,17.5 .28,17.9 .29,25.1
l.29,6.4 .29,29.8 .28,4.4 .29,16.6 .29,26.9 .29,3.5 .28,11.5 .29,5.4 .29,32.7 .29,12.7 .29,4.1 .28,16.6 .29-5.7
l.29,9.3 .29,24.2 .28,4.7 .29-15.2 .29,24.1 .29,3.6 .28,8 .29,9.5 .29,2.1 .29,8.1 .29,10.2 .28-10.7 .29,10.1 .29-1.5
l.29,11.5 .28-.3 .29-2.1 .29-.6 .29,12.4 .29-7.7 .28,13.7 .29-8.3 .29,12.7 .29-4.7 .28,12.3 .29-2.1 .29-3.6 .29,5.3
l.28-3.3 .29,9.8 .29-8.6 .29,13.5 .29,9.4 .28-14 .29,2.2 .29,.1 .29,4.8 .28-7.1 .29,13.9 .29-2.4 .29,7.8 .28-5.2
l.29,13.1 .29-16.6 .29,8.4 .29,13.7 .28-1.8 .29-1 .29-12.3 .29,13 .28,2.9 .29-3.4 .29,.1 .29,.6 .29,1.5 .28,4.6
l.29-6.6 .29-9.2 .29,10.2 .28-2.3 .29,2.5 .29-2.1 .29,2.4 .28,1.9 .29,.9 .29-4.6 .29,9.5 .29,10 .28-6.9 .29-3.2
l.29,6.4 .29-9 .28-3.1 .29,14.9 .29-2.7 .29-2.8 .28,10.5 .29-11.5 .29,.9 .29,.5 .29-2.6 .28-4 .29,9.3 .29-1.3 .29,8.3
l.28-9.5 .29,6.8 .29-5.5 .29-1.4 .29,6.4 .28-7.4 .29,9.5 .29-4.5 .29-2.9 .28,8.7 .29-9.9 .29,6.1 .29-5.8 .28,7.8
l.29-2.8 .29,.9 .29,4.4 .29,1.8 .28-.7 .29-13.4 .29,12.1 .29,2.3 .28-.8 .29,2.6 .29,4 .29-15.8 .28-.9 .29,4.9 .29,5.1
l.29,2 .29-7.1 .28,5.7 .29-7.5 .29,4.2 .29,1.7 .28-2.8 .29,.6 .29,2.9 .29,4.4 .29,1.7 .28-9.3 .29,11.6 .29-11.6
l.29,5.9 .28-3.6 .29,6.8 .29-4 .29,7 .28,1.7 .29-7 .29,6.2 .29-12.7 .29,3.7 .28,8 .29-7.1 .29,.7 .29,.6 .28-1.8
l.29,5.2 .29,5.7 .29-8 .28-4.1 .29,6.1 .29-.2 .29,2.2 .29-5.3 .28,12 .29-7.8 .29,1.4 .29-1.4 .28,2.4 .29-.2 .29,7.3
l.29-5.6 .29-1.1 .28-.6 .29-7.3 .29,3.8 .29-2.5 .28,4.2 .29-2.2 .29-2.5 .29,6.2 .28-.2 .29,2.1 .29-1.9 .29-5.4 .29,11.3
l.28-11.3 .29-1.3 .29,5.7 .29,1.6 .28-4.2 .29,3.3 .29-4.2 .29,6.5 .28,8.9 .29-7.5 .29-.4 .29,1.2 .29-8.1 .28,6.4
l.29-6.1 .29,4.9 .29,6.4 .28,0 .29-11.6 .29,15.4 .29-7 .29,1.1 .28,9.3 .29-13.7 .29,8.1 .29,.6 .28-7.1 .29,.3 .29,2.3
l.29-.7 .28-3 .29,4.8 .29,.1 .29-1.9 .29-2.5 .28,1.6 .29,5.6 .29-6.8 .29,2.9 .28-2.3 .29,12.9 .29-12.5 .29,2 .28,5.6
l.29-.3 .29-6.1 .29,5.6 .29-6.7 .28,3 .29,5.1 .29-4.5 .29-.8 .28-6.5 .29,6.4 .29,4.1 .29,.4 .29-5.1 .28,.7 .29,4.2
l.29-4.9 .29-3.4 .28,9.3 .29,.6 .29-9.8 .29,10.6 .28-6.3 .29,14 .29-13.1 .29,1.4 .29-8.5 .28,8.7 .29,4.9 .29,7.6
l.29-18.1 .28,13.1 .29-12.7 .29,11.3 .29,3.6 .28-1.7 .29-11.2 .29,5.7 .29-.9 .29-3.6 .28-6.3 .29,3.2 .29,9.1 .29-7.1
l.28,14.2 .29-20.3 .29,3.4 .29,17.1 .29-2.3 .28-8.7 .29,1.3 .29,7.9 .29-1 .28,6.6 .29-9.9 .29-8.8 .29,2.7 .28-1
l.29,5.6 .29-3.1 .29,6.9 .29-.8 .28-8.6 .29,2.5 .29,.4 .29,8.3 .28-7.1 .29-5.1 .29-.2 .29,3.4 .28,10.5 .29-5 .29,3
l.29-1.2 .29-2.5 .28,4.1 .29-2.2 .29-5 .29,4.7 .28-4.6 .29,3.8 .29-2.4 .29,4.1 .29-3.2 .28,.6 .29-.8 .29,2.2 .29-2.2
l.28-2.2 .29,4.3 .29,1.6 .29,2.9 .28-12.8 .29,9 .29-5.9 .29,10.8 .29-10.2 .28,6.3 .29-7.5 .29,9.1 .29,.6 .28-3 .29-1.8
l.29-1.1 .29-.4 .28-1.6 .29,7.6 .29-8.7 .29-3.6 .29,9.1 .28,1.8 .29,3.4 .29-4.9 .29,1.8 .28,2.7 .29,4.4 .29-8.7
l.29,7.4 .29-7.9 .28-4 .29,11 .29-3.2 .29-2.4 .28,3.7 .29,.8 .29,2.1 .29-3.3 .28-3.8 .29-2.5 .29,6.2 .29-4.1 .29,3.7
l.28,2.4 .29-11 .29,18.9 .29-8.4 .28-6.1 .29,.7 .29-8.2 .29,6.8 .28-1.5 .29-2.8 .29,3.6 .29,2.7 .29,6.4 .28-4.1
l.29-5.9 .29,12.2 .29-10.6 .28,4.9 .29-.7 .29,1.6 .29,4.9 .29-14.7 .28,14.3 .29-9.5 .29,5.5 .29-3.6 .28-2.1 .29-2.9
l.29,4.5 .29,.5 .28,4.3 .29,1.5 .29-19.3 .29,19.6 .29,2 .28-3 .29-2.8 .29,5.4 .29-1.7 .28-7.9 .29,6.5 .29-1.3 .29-4.8
l.28,3.3 .29-4.6 .29,4.6 .29,2.8 .29-3 .28,7.4 .29,.9 .29-3.9 .29-7 .28,3.8 .29-6.5 .29,6.8 .29-1.1 .29,.5 .28,3
l.29-4.5 .29,6 .29-5.1 .28-4.4 .29,10.3 .29-9.8 .29,7.4 .28-2.6 .29-2 .29,6.2 .29-3 .29-5.3 .28-1 .29,11.6 .29-9.4
l.29,6.6 .28-1.6 .29-4.3 .29,.8 .29,.9 .28,3 .29,.6 .29-6.7 .29,4.3 .29,.9 .28,.8 .29,3.7 .29-7.4 .29-.4 .28,2.4
l.29-7 .29,3.9 .29-3.2 .29,11 .28-3.7 .29-4.7 .29,.1 .29-1.7 .28-2.2 .29,15.7 .29-5.7 .29,7.3 .28-9.5 .29-3.7 .29,11.3
l.29-4.5 .29,.3 .28-.3 .29-1 .29,3.4 .29-1.7 .28,2.8 .29-4.8 .29-3.1 .29-.5 .28,4.6 .29-1.7 .29-4 .29,2.5 .29-1.8
l.28-1 .29,3.5 .29,4.2 .29-3.3 .28,1.8 .29-9.4 .29,8.1 .29-7.2 .29,6 .28,1.7 .29-2.9 .29-1.1 .29,2.6 .28-3.4 .29,8.1
l.29,1.9 .29-2.2 .28-.2 .29-6.9 .29,6.7 .29-2 .29-2 .28-3.7 .29,6.3 .29-2.7 .29-3.7 .28,10.8 .29-6.7 .29-1.8 .29,2.4
l.28,4.4 .29-5.5 .29,2.7 .29,6.5 .29-2.4 .28-4.9 .29-1.2 .29-.2 .29,5.9 .28-.5 .29-2.1 .29-6 .29,2.8 .29,4.8 .28-13.9
l.29,6.7 .29,.5 .29-1.6 .28-9.1 .29,16.6 .29,3.4 .29-5.3 .28,1.2 .29-5.7 .29,3.9 .29,2.6 .29-.4 .28-4.5 .29,.7 .29,3.3
l.29,.9 .28-3 .29-.2 .29-3.4 .29,7.9 .28-8.6 .29,6.5 .29,2.8 .29-5.9 .29,6.1 .28-5.5 .29,4.7 .29-3.8 .29,1.3 .28-4.6
l.29,3.7 .29,2.9 .29-4.2 .29-11.7 .28,14 .29-3.5 .29-3.1 .29,5 .28,.5 .29,3.5 .29-2.4 .29-6.1 .28,9.9 .29-4 .29,1.9
l.29-2.9 .29-1.6 .28-4.6 .29,3.9 .29-1.7 .29,2.1 .28,.6 .29-4 .29,3.8 .29,3.6 .28-8.6 .29,2.6 .29,.9 .29,2.8 .29-1.6
l.28-4.8 .29,11.1 .29-10.8 .29,8.8 .28-8.6 .29-3.4 .29,12.3 .29-5.4 .29-4.4 .28,3.3 .29,4.7 .29-9.8 .29,6 .28-4.4
l.29-5.3 .29,13.3 .29-7.3 .28-1.7 .29,5.5 .29-8.8 .29,1.8 .29-2.1 .28,10.9 .29-9.8 .29,5.6 .29-.7 .28-1.2 .29,4.6
l.29-3.4 .29,5.6 .28-7 .29-.6 .29-1.6 .29,8.4 .29-9.7 .28,9.3 .29-4.4 .29-8.2 .29,12 .28-3.8 .29-5.4 .29-.8 .29,7.7
l.29-2.9 .28-6.6 .29,2.6 .29-.4 .29-.4 .28,3.2 .29,5.2 .29-8.2 .29,.8 .28,2.7 .29-2 .29-2.4 .29-3.9 .29-4.5 .28,2.5
l.29-5.1 .29,10.6 .29-2.3 .28-2.6 .29,3.6 .29-2.9 .29-4.1 .28,6.7 .29-.5 .29-10.4 .29,1.9 .29,6.7 .28-6.1 .29,.1
l.29,.1 .29,4.3 .28-9.2 .29-2.6 .29,3.6 .29-13.9 .29,3.2 .28,4 .29-7.9 .29,6.9 .29-3.3 .28,4.8 .29-8.5 .29-12.3
l.29,7.1 .28-6.5 .29,2.1 .29-7.7 .29,6.9 .29-6.3 .28-3.5 .29-1.3 .29-7.3 .29,4.6 .28-9 .29,.6 .29-6 .29-9.4 .28-.4
l.29-22 .29,2.8 .29-5.6 .29-5 .28-7.7 .29-.6 .29-5.3 .29-11.9 .28-7.9 .29-4.1 .29-5.8 .29-4.8 .29-3.8 .28-2.7 .29-1.9
l.29-.5 .29,.6 .28,1.9 .29,2.8 .29,4.8 .29,4.9 .28,5.8 .29,6.9 .29,4.2 .29,1.9 .29,7.1 .28,13.7 .29,.4 .29,9.1 .29,7.7
l.28,5.2 .29-6.2 .29,14.2 .29-.7 .28,4 .29,17.6 .29,1.4 .29-10 .29,18.2 .28,6.6 .29,1.3 .29-.6 .29-6.2 .28,3.9 .29,19.3
l.29-11.6 .29-2.4 .29,8.6 .28,1.2 .29,10 .29-5.5 .29,8.7 .28,3.2 .29-1.3 .29-6.6 .29,1.2 .28-4.5 .29,10.2 .29-3.8
l.29,4.5 .29,2.2 .28,2.5 .29-1.6 .29-3 .29,7.1 .28,6 .29-6.4 .29-4.4 .29,2 .28,6.2 .29,1.6 .29,2.6 .29-2.7 .29-9.7
l.28,9.7 .29,6.8 .29-4.5 .29-2.2 .28,12 .29-14.6 .29-1.3 .29,16.1 .29-6.2 .28-5.6 .29,8.4 .29-12 .29,6.9 .28,7.2
l.29-.5 .29-1.3 .29-4.8 .28,5.8 .29,5.8 .29-15.4 .29,8 .29,.1 .28,.2 .29-5.8 .29,5 .29-.3 .28,.6 .29-1 .29,5.2 .29,1.1
l.28,1.1 .29-10.4 .29,4.1 .29,3.5 .29,1.3 .28,.3 .29-4.9 .29-4 .29,9.3 .28,2.8 .29-6.5 .29,2.9 .29,1.5 .29-1.8 .28-.7
l.29,1.3 .29,3.7 .29-6.9 .28,3.1 .29,6.5 .29-6 .29,.1 .28,1.2 .29-.5 .29,4.4 .29-12 .29,8.5 .28-1.9 .29-1.7 .29,3
l.29-1.1 .28,12.6 .29-12.5 .29,.3 .29-.6 .28,3.4 .29,3.7 .29-6.3 .29,5.4 .29-5.6 .28,.9 .29-1.5 .29,4.3 .29-.6 .28-2.8
l.29,7.7 .29-4.6 .29-1.9 .29-1.9 .28,10.2 .29-8.2 .29,1.8 .29,2.2 .28-7.7 .29,9.9 .29-6.4 .29-1.3 .28,.6 .29,1.4
l.29,7.8 .29-1.5 .29-8.3 .28-6.8 .29,6.8 .29,7 .29-.5 .28-5.6 .29-2.8 .29,4.8 .29-4.8 .28,5.7 .29,2.8 .29-3 .29,4.2
l.29-6.7 .28,12.7 .29-12.6 .29,5.3 .29-5.7 .28,4.6 .29-8.1 .29,7.8 .29-1.9 .29,6.9 .28-9.3 .29-7.3 .29,6.9 .29-3.5
l.28,2.4 .29,8.7 .29-9.7 .29,5.8 .28-4.6 .29,2 .29,3.8 .29,10 .29-13.6 .28-2.8 .29,.6 .29,9.5 .29-7.7 .28,10.9 .29-8.7
l.29,4.6 .29-.4 .28-13.4 .29,6.5 .29,6.8 .29-7.5 .29-4.6 .28,9.7 .29,5.5 .29,1.1 .29,.2 .28-9.9 .29,5.1 .29-4.2
l.29,6.6 .29-.2 .28,2 .29-3.4 .29-1.6 .29,8.1 .28-6.5 .29-2.3 .29-2.7 .29,.6 .28-.7 .29,6.2 .29,.7 .29-8.5 .29,.9
l.28,.3 .29,16.3 .29-12.6 .29,1 .28-5 .29,4.7 .29-2.1 .29-5.1 .28,9.2 .29-4.1 .29,2.9 .29-3.7 .29,1.8 .28,2.4 .29-.3
l.29,5.4 .29-15.3 .28,1.3 .29,3.8 .29,.7 .29,10.1 .29-3.7 .28-4.6 .29-1.5 .29,4.8 .29-5 .28,8.4 .29-3.2 .29-1 .29-7.7
l.28,3.8 .29,9.4 .29-14.7 .29,11.9 .29,.7 .28,4.3 .29-7.2 .29-2.9 .29,6.9 .28-2.4 .29-.2 .29-2.5 .29,2.9 .28,3.3
l.29-9.9 .29-.5 .29,2.7 .29,1.7 .28,14.2 .29-13.9 .29-3.1 .29-4.6 .28,14.3 .29-3.6 .29-2.2 .29-5.7 .29-2.5 .28,3.5
l.29,8 .29,2.5 .29-8.4 .28,.7 .29-2.5 .29-3.5 .29,7.4 .28,4.2 .29-4.9 .29-.8 .29,6 .29-3.7 .28,5.1 .29-1.6 .29-17.5
l.29,12.9 .28-6.9 .29,12.4 .29-4.7 .29,1.7 .28-5.3 .29-10.9 .29,14.1 .29,4.4 .29,.1 .28-10.6 .29,3.5 .29,7.7 .29-4.8
l.28-.8 .29,10.3 .29-1.7 .29-5.3 .29-1.4 .28-7.4 .29,9 .29-5.8 .29,3.9 .28-3 .29,3.7 .29-3.9 .29,5.1 .28-3.1 .29,7.8
l.29-10.5 .29,1.6 .29,7.1 .28-4.3 .29-2.6 .29,3.9 .29-1.7 .28,8.7 .29-12.9 .29,3.7 .29,5.1 .28,.1 .29-.4 .29-3.6
l.29-2.5 .29,1.9 .28,1.5 .29-10.9 .29,11.2 .29,.9 .28-1.7 .29,1.1 .29-7.4 .29-.1 .29,4.9 .28,8.7 .29-7.6 .29,.5
l.29-4.2 .28,.9 .29,2.6 .29-.6 .29,1 .28-3.6 .29-4 .29,1.3 .29,4.6 .29-2.5 .28,4.6 .29-.9 .29-.7 .29-7.5 .28,7.9
l.29-.4 .29-1.4 .29-.2 .28-2.1 .29,5.1 .29-6.8 .29,.1 .29,9.4 .28-3 .29-8.3 .29-4.3 .29,11.1 .28-.5 .29-.3 .29,2.3
l.29,6.4 .29-12.9 .28,9.2 .29,6.1 .29-1.8 .29-1.2 .28-9.1 .29,3.8 .29-2.5 .29,.2 .28,5.8 .29,1.5 .29-8.4 .29,1.1
l.29,.4 .28,9.9 .29-10 .29-4.7 .29,1.9 .28,6.4 .29,1.1 .29-6.6 .29,6.1 .28,1.6 .29-2.1 .29-.9 .29-3.5 .29-3.8 .28,1.4
l.29,5.6 .29-14.2 .29,10.4 .28,6.7 .29-8.5 .29,6.9 .29,1.7 .29-6.3 .28,2.4 .29,4.7 .29,0 .29-6.4 .28,.6 .29-3.3
l.29,.4 .29,1.3 .28,2.1 .29,6 .29-1.5 .29,6.3 .29-9.7 .28-3.7 .29,9.8 .29-5.5 .29-8.4 .28,18.6 .29-15.5 .29-.4 .29,3.5
l.28,2 .29,6.2 .29-.2 .29,1.7 .29,3.2 .28-15.5 .29,6.2 .29-1.5 .29-9.1 .28,9.8 .29-4.7 .29-2.9 .29,11.5 .29-2.4
l.28-4.8 .29-6.8 .29,13 .29-4.9 .28-.7 .29,9.6 .29-8.8 .29-4.6 .28,5.3 .29,4.4 .29-7.5 .29,9.8 .29-8 .28,4.2 .29-3.3
l.29,1.1 .29-11 .28,7.5 .29,1.3 .29,0 .29,2.1 .28-1.4 .29,15.1 .29-10 .29,6.4 .29-7.5 .28,4.3 .29-12.3 .29,5.3 .29,1.1
l.28-4.5 .29-2.7 .29,3.7 .29-2.5 .29-2.3 .28,8.5 .29-3.2 .29-1 .29,1.9 .28-2.8 .29,4.2 .29,.1 .29-6.6 .28,1.6 .29,7.9
l.29-5.7 .29,2.9 .29,2.1 .28-2.8 .29,.2 .29-3.1 .29,4.8 .28-6.1 .29,9.4 .29-5.8 .29,.2 .28-.3 .29-1.1 .29,1.4 .29-6.3
l.29,4.5 .28-1.2 .29,1.8 .29-5.4 .29,7.4 .28-3.9 .29-3.2 .29,6.8 .29-.4 .29-7 .28,9.8 .29-10.7 .29,8.9 .29,.9 .28-4.7
l.29-4.9 .29,1.6 .29,8.8 .28-10.6 .29,5.6 .29,3 .29-3.4 .29,2 .28-3.4 .29,2.2 .29-3.4 .29,6.2 .28-2.3 .29,.5 .29-.5
l.29,1 .28,2.7 .29-5.2 .29,4.6 .29-2 .29-2.3 .28,5 .29-4.3 .29,3.2 .29,3.6 .28-5.4 .29,2.5 .29,1.3 .29-3.8 .29,.3
l.28,3.7 .29-5.4 .29,11 .29-8.2 .28-.5 .29-1.3 .29,3.3 .29,1.6 .28-9.2 .29,11.4 .29-7.5 .29,7.1 .29-11.5 .28,5.5
l.29,4.7 .29-9.8 .29,14.4 .28-7 .29-2 .29-2 .29-2.4 .28-.5 .29,9 .29-7.1 .29,3.5 .29-3.9 .28-1 .29,11.7 .29-13.8
l.29,7.3 .28-3.3 .29,4.8 .29,5.4 .29-4.5 .29-3.2 .28,1.2 .29,1.1 .29,6.5 .29-15.4 .28,2.7 .29-2.4 .29,6.7 .29,4.5
l.28-1.5 .29-2 .29-2.1 .29-4.1 .29,11.8 .28,.2 .29-1.6 .29-9.6 .29,10.1 .28-1.8 .29,2.5 .29-8.7 .29-4 .28,5 .29-5.6
l.29,.3 .29,8.6 .29-5.2 .28,6.2 .29-3.3 .29,2.5 .29,0 .28-4.6 .29-.9 .29-1.7 .29,5.5 .29,10 .28-5.1 .29-3.8 .29,1.3
l.29,1.2 .28-2.7 .29-11.5 .29,12.6 .29,3.5 .28-8.3 .29,.6 .29,7 .29-1.3 .29-11 .28,4.7 .29-4.9 .29,4.7 .29,1.6 .28,3.3
l.29-4.7 .29-5 .29,.6 .28,9.6 .29-5 .29,5 .29-5.4 .29,8.5 .28-5.7 .29,10.2 .29,.8 .29-10.6 .28-2.8 .29,2.2 .29-8.3
l.29,9.1 .29,4.3 .28-4.8 .29-4.8 .29,3 .29,.2 .28-5.5 .29,5.3 .29,4.7 .29-1.8 .28,.7 .29-1.6 .29,4.3 .29-4.9 .29,.8
l.28-.9 .29,.1 .29,8.9 .29-2.9 .28-4.5 .29-3.1 .29,8.2 .29-10.2 .28,3.3 .29-7.6 .29,4.7 .29-5.1 .29,7.3 .28,3.5
l.29-5 .29,3.6 .29,1.8 .28,3.5 .29,.3 .29-9.2 .29,.5 .29,5.6 .28-3.5 .29-2.2 .29,4 .29,2.9 .28-6.8 .29,.1 .29,.4
l.29,4.2 .28,1 .29-6.6 .29,5.2 .29-4.1 .29-1.1 .28,2.6 .29,4.3 .29-4.5 .29-5.6 .28,10.3 .29,4.1 .29-3.3 .29-9.3
l.28,7.4 .29,.2 .29-.2 .29,7.5 .29-7.3 .28-.7 .29,.9 .29-1.8 .29,.5 .28-7 .29,6.4 .29-5.7 .29,2.5 .29,13.1 .28-14.8
l.29,.4 .29,5.2 .29-.4 .28,2.3 .29-1.6 .29-3.1 .29-3 .28,.9 .29,9 .29-8.4 .29,1 .29,10.7 .28-11.4 .29-3.6 .29,1.4
l.29,4.6 .28,1.9 .29-3.9 .29-2.1 .29,.2 .28,2.3 .29,3 .29-4.2 .29,6.5 .29-9.7 .28,8.7 .29,3.6 .29-8.2 .29,7.2 .28-.6
l.29-4.7 .29,2.6 .29,8.4 .29-17.8 .28,7.8 .29-2.8 .29,5.2 .29-7.2 .28-3.2 .29,.4 .29,3.5 .29,4.7 .28-6.6 .29,2.1
l.29-3.5 .29,9.8 .29,3.7 .28-10 .29,4.8 .29,0 .29-8.5 .28,6.1 .29,3.4 .29-4.1 .29,6.1 .28-12.1 .29,8 .29,1.8 .29-4.8
l.29,5.1 .28-10.5 .29,7.5 .29-3.1 .29,10.1 .28-12.4 .29,10 .29-8.8 .29,1.4 .29,4 .28,1.7 .29,1.8 .29-4.5 .29-2 .28,.4
l.29,2.6 .29,3.2 .29-7.1 .28,1.6 .29-.3 .29,1.4 .29-3 .29,7.7 .28-2.4 .29-.2 .29-3.7 .29-1.1 .28,1.8 .29,8.4 .29-6
l.29,1.5 .28,.1 .29-3.4 .29,6 .29-9.2 .29,4 .28,2.6 .29-8.7 .29,2.6 .29,7.7 .28-6.9 .29,4 .29,5.2 .29-10.9 .29,3
l.28,3.8 .29-5.6 .29,11.1 .29-12.6 .28,7.6 .29-2.3 .29,.8 .29,4.2 .28,2.7 .29-7.2 .29,4.4 .29-7.2 .29-3 .28,6.5
l.29-7.8 .29,8 .29-2.4 .28-.7 .29,.8 .29,2.9 .29,8 .28-6.4 .29-1.7 .29,1.1 .29-4.3 .29,2.6 .28,4.7 .29-10 .29,7.1
l.29-8.1 .28,4.6 .29-5.2 .29,8.4 .29,1.9 .29-3.7 .28,3.1 .29-5.5 .29,8 .29-.2 .28-4.6 .29,5 .29-14.2 .29,8.9 .28-4.7
l.29-.1 .29,0 .29-3.3 .29,2.1 .28,.8 .29,7.4 .29-2.6 .29-.3 .28-6 .29-1.1 .29,8.1 .29-3.1 .28,5.1 .29-6.5 .29,9.2
l.29-4.8 .29-4.5 .28,1.6 .29,4.4 .29-3.5 .29,1 .28,2 .29-8.6 .29,5.6 .29-1.4 .29,2 .28,0 .29-.9 .29-1.1 .29,3.2
l.28-1.9 .29-2.2 .29-.7 .29,4.5 .28-3.2 .29,1.3 .29,1 .29,7.6 .29-2.1 .28-4.6 .29-6.5 .29,7.2 .29-.5 .28-5.1 .29,1
l.29,1.6 .29,8.2 .28,1.4 .29-3.7 .29-6.8 .29-1.4 .29,1.2 .28-3.9 .29,13.4 .29-3.6 .29-2.6 .28-.5 .29-7 .29,7.3 .29,.4
l.29,10 .28-13.2 .29,5 .29-.1 .29-6.6 .28-.8 .29-.5 .29,9.6 .29-7.1 .28-.7 .29,6.9 .29-6.5 .29,2.5 .29-5.3 .28,1.5
l.29,.3 .29,5.3 .29-5 .28,8.1 .29-4.1 .29-2.3 .29-1.9 .28,4.4 .29-6.5 .29,2.4 .29,2.6 .29,.2 .28,9.7 .29-11.1 .29,5.2
l.29-2 .28-2.1 .29-5.6 .29,2.8 .29,2.2 .29-1.7 .28,1.9 .29,.5 .29,.1 .29,.8 .28,.4 .29,2.7 .29-8.1 .29-1.6 .28,10.1
l.29-5.9 .29-1.9 .29,3.1 .29-2.4 .28,2.6 .29,4 .29-9.5 .29,7.2 .28,3.1 .29-9.6 .29,12.7 .29-4.2 .28-1.7 .29,.9 .29-1.2
l.29-10.1 .29,15.1 .28-8.5 .29-4.5 .29,7.8 .29,3.5 .28-10.6 .29-5.6 .29,15.9 .29-6.2 .29,8.5 .28-4.9 .29-9.2 .29,5
l.29-.5 .28,4.3 .29-1.7 .29-3.3 .29,9.8 .28-8 .29,2.7 .29-1.4 .29-4.7 .29,11.5 .28,3.6 .29-9.6 .29-.1 .29-3.2 .28,2.4
l.29-.3 .29-2.8 .29-1.8 .28,9 .29-5.7 .29,12.3 .29-5.7 .29,1 .28-1.4 .29-5.4 .29,3.5 .29-4.8 .28,1.8 .29,3 .29-4.2
l.29,6.4 .29,.9 .28-5 .29,4.5 .29-2 .29-.9 .28,5 .29-11.2 .29,15.1 .29-2.3 .28-8.7 .29-1.1 .29,4.4 .29,4.5 .29-1.3
l.28-5.2 .29,4.2 .29,3.3 .29-6.8 .28-8.7 .29,14.4 .29-4.7 .29-4.7 .28,4.7 .29,4.5 .29-3.9 .29-3.3 .29,.7 .28,3.5
l.29,2.2 .29-4.9 .29,2.7 .28-5.6 .29,5.4 .29-8.9 .29,3.4 .29,5 .28,.4 .29,.4 .29,1.3 .29-8.3 .28,6.4 .29-1.7 .29-.5
l.29-2 .28,7.3 .29,2.6 .29-6.7 .29,1.8 .29-.7 .28,4.7 .29-5.5 .29-2.3 .29,2.3 .28,6.8 .29-7.6 .29,.1 .29-1.3 .28-10.2
l.29,10.9 .29-4.1 .29,4.8 .29-.8 .28,1.3 .29-1.7 .29-.9 .29,2.9 .28-.5 .29-2.2 .29-4.9 .29,2.9 .29,1.1 .28,7.2 .29-6.8
l.29,2.6 .29-3.9 .28-6.3 .29,5.5 .29-2.8 .29-2 .28,12.5 .29-5.2 .29-1.9 .29,2 .29-5.3 .28,7.7 .29-.4 .29,1.5 .29-7.3
l.28,5.3 .29-.9 .29-.4 .29-1.5 .28,7.7 .29-7.9 .29,2.9 .29,5.6 .29-6.9 .28,2 .29-6.2 .29,9.1 .29-4.1 .28-2.6 .29,2.6
l.29,8.6 .29-3.5 .29-.7 .28,1.9 .29-4.5 .29,6.3 .29-12.1 .28,8.8 .29-6.2 .29,1.5 .29-9.3 .28,5.7 .29-4.2 .29,7.2
l.29,.8 .29,3.8 .28-9.3 .29,1.3 .29,8.1 .29-12.1 .28,13.9 .29-9.8 .29,4.3 .29,1.1 .28,4.5 .29-2.4 .29-9 .29,6.3
l.29,6.4 .28-6.6 .29-4.8 .29,4.1 .29,8.2 .28-9.8 .29,1.7 .29,2.5 .29-9.3 .29-2.3 .28,15.2 .29-5.9 .29,0 .29-1.9
l.28-.3 .29-1.2 .29,6.4 .29-4.9 .28,9.2 .29-6.7 .29,7.7 .29-7 .29,2.2 .28-15.3 .29,11.6 .29,2 .29-5.1 .28,9.9 .29-12.2
l.29,5.7 .29,3.6 .28,2.1 .29-6.3 .29-.9 .29,4.8 .29-3.6 .28-1.8 .29-3.5 .29,5.4 .29,3.5 .28-1.2 .29-7.9 .29,4.2
l.29,1.6 .29,6.7 .28-2.9 .29-10.6 .29,6.4 .29,.7 .28-8.9 .29,11.6 .29,.8 .29-6.3 .28-.1 .29,3.8 .29-8.4 .29,.5 .29,6.5
l.28-5.8 .29,2.8 .29,1.2 .29,1.3 .28,3.8 .29-.3 .29,1.6 .29-.9 .28-8.5 .29-3.7 .29,9.5 .29,5.1 .29-14.1 .28,13.6
l.29-2.4 .29-6.3 .29,7.5 .28-3.9 .29,1.7 .29-2.6 .29-1.9 .29-.5 .28-.9 .29,1.6 .29,14.9 .29-13.3 .28,3.4 .29,4.5
l.29-10 .29,3 .28,2.3 .29-4.5 .29-1.9 .29,8.4 .29-1 .28,0 .29-5.4 .29-.4 .29,.4 .28,.8 .29,1.5 .29-.5 .29-1.9 .28,1.5
l.29,3.1 .29-8.2 .29,11.7 .29-3.4 .28,1.3 .29-7.3 .29-.4 .29,3 .28,3.9 .29-9 .29,5.5 .29-2.7 .29-.9 .28,6 .29,.3
l.29-8.8 .29,9.6 .28-7.3 .29-.4 .29,3 .29,5.3 .28-.2 .29,.7 .29-6.9 .29,4.7 .29-5.5 .28,3.4 .29-2.4 .29,.7 .29-3.2
l.28,2.9 .29,1.8 .29-1.4 .29-5.1 .28,6.2 .29,4.2 .29-6 .29-.9 .29,2.3 .28,3.6 .29-3.7 .29-.5 .29-1.3 .28-3.4 .29,4.1
l.29,1.6 .29,4.2 .29-9.3 .28,5.1 .29,6.2 .29,.7 .29-4.3 .28-5.7 .29,4.6 .29-1 .29,5.4 .28-4.6 .29-6.7 .29,7.1 .29-1.2
l.29,.9 .28,3.7 .29-6.3 .29,5 .29-4.3 .28,0 .29-2.6 .29,5.8 .29-4.7 .28-1.5 .29,11.6 .29-12.1 .29,4 .29,5.8 .28-2.4
l.29-5.6 .29,7.5 .29-.5 .28-.2 .29-6.9 .29-.5 .29,3 .29,4.7 .28-6.2 .29,3.6 .29-.3 .29,4.5 .28-3 .29-2.7 .29-2.9
l.29,7.7 .28-9.6 .29-2.5 .29,6 .29,.2 .29,.1 .28-1.2 .29,9.1 .29-9.1 .29-2.3 .28,.7 .29,7.5 .29-6.2 .29,3.2 .28-2
l.29,.1 .29,1.3 .29,0 .29,3.9 .28-2.8 .29-6.9 .29,2.2 .29,7.2 .28-7.6 .29,.3 .29,1.9 .29-1 .29,3.4 .28,4.6 .29-7.7
l.29,.8 .29-3.1 .28,14.4 .29-12.3 .29,8.2 .29-6.1 .28-8.5 .29,10.4 .29,.2 .29,1.4 .29-5.6 .28,3.3 .29-5.4 .29,6
l.29-.3 .28,1.9 .29-5.8 .29,10.8 .29-10.2 .28,2.1 .29,.3 .29,1.9 .29-9 .29,7 .28-.4 .29,.2 .29,3 .29-.3 .28-2.3
l.29-2.7 .29-3.3 .29,2.5 .29,1.4 .28,7.5 .29-6.9 .29-2.4 .29-.4 .28-1.5 .29,8.8 .29,1.1 .29,1 .28-3.5 .29-2.6 .29-1.1
l.29,0 .29-4.7 .28,6.3 .29,1 .29,5.4 .29-2.4 .28,1 .29-14.4 .29,2.1 .29-.2 .28,4.1 .29,7.2 .29,.4 .29-4.1 .29-.4
l.28-1.6 .29,9.4 .29-8.9 .29-2.2 .28,5.5 .29-1.4 .29,4.6 .29-11 .29,7.7 .28,.2 .29,6.9 .29-4.4 .29,4.5 .28-11 .29-1.4
l.29-.2 .29,2.5 .28,4.5 .29-5.7 .29,.9 .29,9.7 .29-11.7 .28,2.7 .29,3.2 .29-3.4 .29,10.5 .28-8.7 .29,6.1 .29,.4
l.29-5.3 .28-.3 .29-7.1 .29,5.5 .29,2.2 .29,.7 .28-2 .29-8.2 .29,6.3 .29,6 .28-.3 .29-.6 .29-5.9 .29,9.7 .29-9.6
l.28-.7 .29,.8 .29-1.7 .29-1.7 .28-2.5 .29,18.7 .29-3.7 .29-13.6 .28,1 .29,8.5 .29-9.4 .29,17.4 .29-.7 .28-16.3
l.29,9.9 .29-1.1 .29-1.7 .28,0 .29,1.2 .29-.2 .29-2 .28,3.1 .29-.2 .29,0 .29,.2 .29,2.3 .28-8.6 .29,1.9 .29-.8 .29,7.3
l.28-10.1 .29,6.6 .29-1.4 .29-4.2 .29,7.9 .28-.8 .29,0 .29-5.6 .29,2.7 .28,.3 .29-6.4 .29,10.7 .29-.7 .28-4.3 .29-5.6
l.29,10.2 .29,2 .29-1.1 .28-7.2 .29,0 .29-7.1 .29,9.6 .28,.9 .29-2.7 .29,.6 .29-1.6 .28,4.8 .29-3.4 .29,.6 .29,4.6
l.29-11.5 .28-3.2 .29,19.4 .29-5.6 .29-5.1 .28,9.8 .29-4.5 .29-3.1 .29,12 .29-13.6 .28,.5 .29-5.9 .29,7.2 .29-.8
l.28,.5 .29,8.2 .29-12.3 .29,3 .28-.3 .29-3.1 .29,6.7 .29-4 .29,.3 .28,3.5 .29-.9 .29,3.9 .29,1.7 .28-.1 .29-2.2
l.29-2.4 .29-2.9 .28-3.6 .29,.6 .29,1.2 .29,4.2 .29-5.6 .28,2.1 .29-2 .29,3.8 .29,4.5 .28-7.7 .29,1.5 .29-1.6 .29,7.3
l.29-.1 .28-8 .29,1.6 .29-2.2 .29,9 .28-9.7 .29,3.6 .29,5.7 .29-9.3 .28,.1 .29-4.8 .29,4 .29,9.2 .29-8.5 .28-.4
l.29,3.5 .29,1.3 .29,6 .28-6.9 .29,1.4 .29-.4 .29,3.9 .28-4.2 .29,7.1 .29-4.5 .29-.7 .29,5 .28,.8 .29-9.3 .29-4.1
l.29,4.6 .28,9 .29-2 .29,4.5 .29-8.4 .29-3.1 .28,.1 .29-.2 .29,3.7 .29-9.1 .28,11.5 .29-7.2 .29,5.5 .29-3.5 .28,2.4
l.29-.8 .29,3.9 .29-.2 .29-3.1 .28-3.7 .29-1.1 .29,2.3 .29-7.4 .28,6.5 .29,6.1 .29-.9 .29,6.2 .28-13.3 .29-.6 .29-1.5
l.29,6.7 .29,.2 .28-2.7 .29-10.7 .29,12.5 .29,3.2 .28-7.2 .29,3.9 .29,6.6 .29-12.8 .29,11.2 .28-5.8 .29,2.8 .29-3.6
l.29,.5 .28,4 .29-5.7 .29-1 .29,2.4 .28,3.5 .29-4.2 .29-.3 .29,8.2 .29-9.9 .28-2.6 .29,1.2 .29,6 .29,1 .28-4.8 .29,2.7
l.29,10.6 .29-7 .28-6.6 .29,4 .29-1 .29,6.3 .29,.4 .28-10.8 .29,.4 .29,9.7 .29-4.4 .28,6.9 .29-1.6 .29-8.7 .29-.4
l.29,7.5 .28,2.8 .29-12.9 .29,12.7 .29-4.9 .28-3.5 .29-7.5 .29,9.1 .29-5 .28,4.9 .29,4 .29-.4 .29-3.7 .29-6.7 .28,8.3
l.29,.1 .29-6.3 .29,10 .28-3.4 .29-.7 .29-5 .29-3.1 .28,8.7 .29,1.4 .29-2.6 .29-8 .29,10 .28,2.9 .29-2.5 .29-4.8
l.29-3.7 .28,8.1 .29-7.6 .29,9.2 .29-3.7 .29-.9 .28,7.8 .29-4.7 .29-7.1 .29,4.8 .28,0 .29-3.2 .29,1.9 .29,4.5 .28-.8
l.29-6.9 .29,6.6 .29-5.8 .29,7 .28-2.7 .29,6.5 .29-14 .29,6.6 .28-3.7 .29,6.2 .29-1.7 .29-1.2 .28,7.7 .29-7.3 .29,6.9
l.29-5 .29-3.8 .28-1.3 .29,4.7 .29-3 .29,8.1 .28-4.3 .29,4.1 .29-4.2 .29,3.1 .29-3.5 .28-1.8 .29-2.9 .29,7.3 .29-7.3
l.28-.4 .29-.3 .29,6.1 .29-9.7 .28,5 .29-3.1 .29,2.1 .29,3.3 .29,10.3 .28-7.1 .29,.9 .29-.6 .29-15.9 .28,16.8 .29-3.8
l.29,2.1 .29,.6 .28-1.6 .29-12.1 .29,6.8 .29,3.3 .29,.4 .28-2.2 .29,3 .29-3.5 .29-.6 .28-.6 .29,8.3 .29-7 .29,12.3
l.29-11 .28,6.4 .29-5.1 .29,1.6 .29-.7 .28-2.4 .29,8.6 .29-14.8 .29,6 .28,1.9 .29-.1 .29-3.8 .29,.6 .29,5 .28,4.3
l.29,.3 .29-3.5 .29-3.9 .28,5.6 .29-8.1 .29,1.5 .29-6.8 .28,12.4 .29,1.7 .29-2.2 .29-3.7 .29,4.6 .28-3.5 .29-2 .29,5.1
l.29-8.2 .28,7.3 .29-5 .29,3.5 .29,5 .29-5.4 .28-.4 .29,3.4 .29-1.6 .29-7.4 .28,7.4 .29,2.4 .29,1.8 .29-10.1 .28-.6
l.29,2.3 .29-5.1 .29,5.9 .29-1.5 .28,1.2 .29-4 .29,8.2 .29-2 .28-2.7 .29,1.5 .29-1.7 .29-6.6 .28,14 .29,.4 .29-3.6
l.29,4.8 .29-7.2 .28,3.7 .29-2.8 .29,5.1 .29-11 .28,7.9 .29-3.3 .29-4.9 .29,2.9 .29-2.5 .28,6 .29,7.5 .29-11.9 .29,6.7
l.28-3.9 .29-.6 .29-.6 .29-5.4 .28-1.5 .29,11.7 .29,1 .29-13.6 .29,16.4 .28-10 .29,3.6 .29-5.6 .29,6.1 .28,1.2 .29-2.4
l.29-.4 .29-1.7 .28,8.2 .29-5.4 .29-.2 .29,5.1 .29-3.2 .28-13.2 .29,6.9 .29,4 .29,5.7 .28,1.7 .29-7.6 .29,3.9 .29-10.7
l.29,3.1 .28,8.3 .29-4.8 .29-6.4 .29,11.2 .28-8.2 .29,5.9 .29,1.9 .29-11.6 .28,3.2 .29,5 .29,.2 .29-4.7 .29,8 .28-6.7
l.29,2.6 .29-3.5 .29,2.8 .28-7.3 .29-.4 .29,7.7 .29-2.7 .28,3.2 .29,3.3 .29-1.8 .29-1.2 .29,1.1 .28-2.7 .29-4.7
l.29,2.8 .29,4.9 .28-7.1 .29,12.7 .29-5.5 .29-4.1 .29,4.3 .28-6 .29-7 .29,10.9 .29-.2 .28,4.6 .29,1.2 .29-8.2 .29,1.9
l.28,.4 .29,5 .29-9.1 .29,1.6 .29,4.2 .28-1 .29-5.9 .29,2.4 .29-1.7 .28,.5 .29,7.1 .29-6.6 .29,2.9 .28,1.8 .29,1.4
l.29-4.9 .29,.2 .29-1.8 .28,8.2 .29-12.7 .29,19.9 .29-17.7 .28,3.2 .29,7.4 .29-7.2 .29,4.5 .29,1.8 .28-6.6 .29,6.5
l.29,2.1 .29-7.3 .28,5.3 .29-.4 .29,7.4 .29-8.8 .28-5.1 .29,7.1 .29-3.4 .29-5.2 .29,3.6 .28,.3 .29,2.7 .29-2.1 .29,1
l.28-6.6 .29,4.7 .29-2.5 .29,5.8 .28-5.6 .29,5 .29-3.9 .29-.2 .29,5.5 .28-4.6 .29-.5 .29,10.5 .29-8.2 .28,2.2 .29-7.2
l.29,7.5 .29-1.5 .29-1.7 .28,.3 .29,4.8 .29-12 .29-.3 .28,9.3 .29-2.9 .29,2.9 .29-.9 .28-.3 .29,0 .29-2.8 .29-.4
l.29,2.5 .28,1.1 .29,.5 .29,5.7 .29-9.9 .28,1.9 .29,3.8 .29-1.4 .29,11.7 .28-9.5 .29-8 .29,10.4 .29-14.1 .29,10.5
l.28-1.5 .29,.9 .29,3 .29-.3 .28,.9 .29-2.7 .29,1.5 .29-5.8 .29-3.4 .28-1.7 .29,9.8 .29-.5 .29-3.6 .28,3 .29,.6
l.29-1.5 .29-5.7 .28,9.2 .29-7.4 .29,3.2 .29-2.1 .29,.6 .28,4 .29,1.2 .29,2 .29-5.9 .28-.9 .29-3.3 .29-1.3 .29,1.8
l.28,.9 .29,4.5 .29,1.6 .29-6.5 .29,3.7 .28,.4 .29,2.7 .29-10.4 .29,8 .28,2.7 .29-2.4 .29,4.6 .29,1.5 .29-8.3 .28,7.2
l.29-6.4 .29,6 .29-9.6 .28,11.4 .29-18.5 .29,8.6 .29-1.7 .28,8.5 .29,.8 .29-3.5 .29-5.1 .29-1 .28-5 .29,8.8 .29-5.8
l.29,11.4 .28-8.5 .29-3 .29,6.6 .29-2.5 .28-4 .29,12.4 .29-6.6 .29-.6 .29,1.1 .28,1.3 .29-.5 .29-1.4 .29-1.6 .28,10
l.29-10.4 .29,3.4 .29-1.8 .29,8.5 .28-18 .29,11.6 .29-2.6 .29,6.8 .28-9.2 .29,.1 .29,6.9 .29-.2 .28,.9 .29-4.8 .29,6.4
l.29-8 .29,1.4 .28-2.5 .29,5.6 .29,4.1 .29-5.2 .28,2.1 .29-.2 .29-5.5 .29,8 .28-10.9 .29,5.3 .29-1.7 .29,6.6 .29-11.4
l.28,15.7 .29-6.6 .29-5.5 .29-.6 .28,11.6 .29-.1 .29-12.2 .29-1 .29,4.1 .28-2 .29,0 .29-1.5 .29,5.5 .28-3.2 .29,4.1
l.29,6.9 .29-10.2 .28,5.6 .29-.9 .29-1.7 .29,3.7 .29-5.1 .28,.8 .29,1.2 .29-3.2 .29-5.2 .28,13.5 .29-6.6 .29-.9
l.29-1.3 .28-.4 .29,5.6 .29-8.4 .29,4.7 .29-5.2 .28,7.3 .29-4 .29-3 .29,6.2 .28-2.8 .29,.9 .29,4.4 .29,.8 .29-4.5
l.28,2.3 .29-3.4 .29,7.7 .29-15.5 .28,10.4 .29,1.2 .29,4.6 .29-9.2 .28,13.7 .29-14.6 .29,.3 .29-6 .29,1.8 .28,4.1
l.29,3.3 .29,.3 .29-3.7 .28,1.2 .29-.2 .29,7.5 .29-3.7 .28-.9 .29-4.1 .29,6.4 .29-6.7 .29,1 .28,2.5 .29-4.1 .29,5.8
l.29,3.9 .28-11.7 .29,2.3 .29,3.3 .29-4.7 .29,3.3 .28,5.5 .29-2.5 .29,2.1 .29-1.8 .28-5.6 .29,.1 .29,8.6 .29-7.1
l.28,4.5 .29-3.2 .29,1.7 .29-2.3 .29-3.3 .28,2.7 .29,4.1 .29-8.4 .29,5.3 .28,1 .29,2.9 .29-.2 .29-5.2 .28,8.7 .29-3.7
l.29-10 .29,13.6 .29-4.8 .28-4.7 .29,6.1 .29-9.6 .29,4.3 .28-.6 .29,2.2 .29,3.8 .29-6.7 .29,2 .28-8.5 .29,6.9 .29-3.8
l.29,1.9 .28-2.4 .29-1 .29,1.9 .29-.5 .28,5.8 .29,8.7 .29-11.5 .29-4.2 .29,3.7 .28,.8 .29,.3 .29,.6 .29-13 .28,12.6
l.29,.6 .29-.4 .29,5.4 .28-11.1 .29-.7 .29,.3 .29-10.2 .29,13.9 .28-3.3 .29-8.9 .29,.3 .29,6.3 .28,5.1 .29-3.1 .29,2.5
l.29,0 .29-7.8 .28,3.6 .29-11.4 .29,9 .29,3.6 .28-9.5 .29,7.3 .29,1.5 .29-6.5 .28,1.1 .29-.1 .29,1.6 .29-12.5 .29,8.3
l.28,.5 .29,3.2 .29-7.1 .29-3.1 .28-1.5 .29-.4 .29,8.1 .29-7.2 .28,4.5 .29-9.6 .29,2.5 .29,3.4 .29-4.3 .28-2.6 .29,10
l.29-11.2 .29,.9 .28,2.3 .29,.2 .29-5.7 .29-9.6 .29,12.1 .28-16.8 .29,8.4 .29-2.6 .29-6.8 .28,6.4 .29-7.2 .29-5.8
l.29,15.8 .28-10.1 .29-6 .29,2.2 .29-3.9 .29-6.8 .28-1.7 .29,.4 .29-8.7 .29-1.7 .28-1.7 .29-4.8 .29,2 .29-4.7 .28-1.6
l.29-.9 .29-1.8 .29-.6 .29-.2 .28,.3 .29,.6 .29,1.5 .29,.3 .28,1.2 .29,2.8 .29,5.6 .29,3.5 .29-1.3 .28,2.3 .29-1.5
l.29,12.3 .29-5.5 .28,5.4 .29,2.2 .29,8.3 .29-13.2 .28,2.6 .29,15.1 .29-6.8 .29,11.5 .29-7.9 .28,9.9 .29-4.1 .29-2.9
l.29,11.6 .28,8.1 .29-8 .29-4.5 .29,11.4 .28,2.8 .29-2.8 .29-6 .29,1.1 .29,1.2 .28,1.9 .29,1.7 .29,1.3 .29,4 .28,11.9
l.29-11.8 .29,1 .29,3.2 .29-1 .28-2 .29,14.2 .29-17.2 .29,15.4 .28-8.8 .29,0 .29,10.1 .29-1.4 .28-3.9 .29,5.4 .29-6.8
l.29,3.6 .29,.9 .28-6.1 .29-.3 .29,9.3 .29,2.8 .28-10.2 .29,1.8 .29-1.6 .29,4.3 .28,.5 .29-3 .29,4 .29-9.1 .29,7
l.28,7.5 .29-15.6 .29,14.2 .29-2.8 .28-3.6 .29-.7 .29-.7 .29,7.1 .29-5.2 .28,11.1 .29-12 .29,10.5 .29-7 .28-4.4
l.29,10.6 .29-4.1 .29-5.3 .28,3.5 .29-4.7 .29,1.9 .29-1.3 .29,11.1 .28-1.3 .29-3.9 .29,6.8 .29-9.4 .28,3.2 .29,7.7
l.29-7.9 .29,7.7 .28-1.3 .29-6.9 .29,4.6 .29-7.9 .29,8 .28,3.9 .29-7.3 .29-3.9 .29,3.3 .28,3.5 .29-11.5 .29,5.5
l.29,1.3 .29-3.2 .28,6.9 .29-4.7 .29,2.3 .29-1.5 .28,6.8 .29-2 .29-2.3 .29,.2 .28,.8 .29-.3 .29-7.3 .29,4.9 .29-1
l.28-1.4 .29-2.7 .29,9.2 .29-4.6 .28,3.4 .29-.6 .29-2.6 .29,4.2 .28-3.8 .29-2.9 .29,7.8 .29-13.1 .29,6.1 .28,.5
l.29,4.7 .29-6.1 .29,8.5 .28-9.4 .29,6.2 .29-5.2 .29-1.1 .29,6.1 .28,1.8 .29-5.1 .29,.8 .29,3.3 .28,3.4 .29-.7 .29-9.6
l.29,7.7 .28,1.3 .29-4.5 .29-2.3 .29,12.1 .29-14.3 .28,1.6 .29,2.7 .29,2 .29-4 .28,3.2 .29-13.4 .29,11.4 .29-4.9
l.28,3.2 .29-2.3 .29,6.7 .29,4.8 .29-6.9 .28,6.1 .29,.6 .29-9.1 .29,.3 .28,0 .29,5.7 .29-7.2 .29,6.7 .29,5.8 .28-10.8
l.29,5.1 .29,1.1 .29-10.5 .28,5.4 .29-1.9 .29,1.6 .29-4.4 .28,3.7 .29-2 .29,9.7 .29-4.4 .29-4.4 .28,1.5 .29,5.6
l.29-5.5 .29,1 .28-7.2 .29,8.1 .29-2.4 .29,5.2 .28-1.9 .29,2.7 .29-4.2 .29-.6 .29-2.6 .28,5.3 .29,3.4 .29-10.6 .29,2.6
l.28-1.8 .29,11.5 .29-11.2 .29,13.4 .29-13.3 .28-.4 .29-1.2 .29,2.7 .29-3.8 .28,3.3 .29,3.1 .29-2.4 .29,7.6 .28-10.5
l.29,6.6 .29,6.7 .29-11.8 .29-1 .28-.4 .29,6.8 .29-5.3 .29-.2 .28,5.9 .29-5.3 .29,2.1 .29-3.1 .28-2 .29,1.5 .29,.5
l.29,3.5 .29,1.5 .28,3 .29-4.3 .29-9.2 .29,7.1 .28,1.6 .29-8.3 .29,7.6 .29-5.4 .29,5.2 .28,.8 .29-1.8 .29,2.9 .29-6.1
l.28,1.1 .29,5.4 .29,4 .29-14.2 .28,9.7 .29-2 .29-.9 .29,2.7 .29-6.8 .28,10.4 .29-2.3 .29-2.3 .29,4.1 .28-4.4 .29-8.6
l.29,4.5 .29,7.8 .28-2.5 .29,.5 .29-4.2 .29-4.3 .29,9.9 .28-7.2 .29,2.2 .29-5.3 .29,4.8 .28-4.6 .29,11.9 .29-5.3
l.29-.8 .29-.4 .28,2.7 .29-4.6 .29-2.7 .29,4.9 .28-3.5 .29,4.1 .29,1.5 .29-4.5 .28,4.6 .29-9 .29,6.5 .29-.1 .29,3
l.28,.8 .29,1.9 .29-7.8 .29,2.5 .28-1.1 .29-3.7 .29-.6 .29-.4 .28,6.3 .29-2.2 .29,.6 .29,4.7 .29-8.5 .28,3.7 .29-.8
l.29,4 .29,2 .28-5 .29-1.9 .29,3.8 .29,1.7 .29-12.9 .28,13.4 .29-8.8 .29-3.7 .29,4.8 .28-6.7 .29,13.4 .29-10.9 .29,8.6
l.28-1 .29,1.8 .29-3.5 .29,6.3 .29-6.9 .28,.5 .29-4.3 .29-.5 .29,13.2 .28-7.7 .29,8.1 .29-11.6 .29,3.9 .28-6.2 .29,5.1
l.29,4.2 .29-8.2 .29,4 .28-2.4 .29,2.7 .29-3.2 .29-1.2 .28-2.5 .29,3.3 .29-4 .29,8.2 .29-2.1 .28-1.5 .29,5 .29-7.5
l.29,3.5 .28-3.5 .29-4.2 .29,7.4 .29-6.5 .28,6.5 .29-7.9 .29,7.6 .29,3.5 .29,4.7 .28-12 .29,4.2 .29-8.5 .29,13.3
l.28-10.7 .29,5.8 .29,1.3 .29-3.6 .28-.8 .29,4.7 .29,6.9 .29-10.7 .29-4.1 .28,2.6 .29,10 .29-4.1 .29,1.9 .28-4.5
l.29,2.3 .29,4.4 .29-1.8 .29-3.2 .28-4.6 .29,6 .29-3.6 .29,.1 .28-2.1 .29-1.9 .29-3.5 .29,5.2 .28,4.7 .29-.9 .29,1.3
l.29-4.9 .29,8 .28-6.5 .29-2.5 .29,.6 .29,5.6 .28,1.1 .29-13.1 .29,4.1 .29,4.3 .28,1.3 .29,1.4 .29,2.2 .29-5.6 .29,2.4
l.28,.3 .29-6 .29,11.8 .29-6.4 .28-11.8 .29,10.5 .29,2.3 .29,3.1 .29-6.1 .28,3.3 .29-5.2 .29,7.6 .29-5.8 .28-.9
l.29-2.7 .29-.5 .29,2.1 .28,4.1 .29-5.7 .29,8.4 .29-4.6 .29-4.9 .28,5.1 .29-8.5 .29,7.5 .29,9.4 .28-8.6 .29-.1 .29-2.7
l.29-.4 .28,.3 .29-5.4 .29,9.3 .29-8.8 .29,6.7 .28,.3 .29,10.2 .29-19.1 .29,15 .28-8.3 .29,4.6 .29-4.6 .29,5.7 .29-7.5
l.28,1.7 .29-1.8 .29,12.1 .29-16.9 .28,6.6 .29-8.1 .29,14.7 .29-5.2 .28-2.6 .29,11.7 .29-9 .29,2.7 .29-4 .28-2.9
l.29-.2 .29,10.2 .29-5.7 .28-4 .29,10.2 .29-10.1 .29,10.6 .28-2.7 .29-3.1 .29-7.8 .29,7.2 .29,6.6 .28-5.3 .29,.1
l.29,1.6 .29-5.1 .28,2.1 .29-1.5 .29,8.3 .29-8 .29,4.9 .28-1.6 .29-5.8 .29,2.8 .29-3.4 .28,6.9 .29-.7 .29-.6 .29,4.3
l.28-2.9 .29-6.4 .29-2.1 .29,6.3 .29-.2 .28-3.9 .29,4.1 .29,2.9 .29-7.4 .28,4.5 .29,2.5 .29,8.4 .29-7.7 .28-3.7
l.29,3.7 .29-4.7 .29-1.7 .29-2 .28-4.6 .29,6.9 .29,10.8 .29-18.1 .28,12.5 .29-7.8 .29,2.1 .29,.3 .29,.3 .28,3.9
l.29-4.7 .29,3.4 .29,.7 .28,3.4 .29-2.6 .29,4.1 .29-5.6 .28-1.7 .29,2.4 .29-1.7 .29,1.4 .29-2.1 .28-3.8 .29,7.6
l.29-3.3 .29-1.8 .28,12.9 .29-13.5 .29,0 .29,5.7 .28-3.6 .29,1.7 .29-8.5 .29,11.1 .29-1.7 .28-.2 .29,1.4 .29,1.5
l.29-4.3 .28,2 .29-6 .29,2.6 .29-2.6 .29,6.5 .28-1.4 .29-3.1 .29,3.4 .29-2.2 .28,1.1 .29-2.3 .29,14 .29-14.5 .28,4.2
l.29-1.5 .29-2.8 .29-3 .29,.1 .28,8.3 .29-1.9 .29-4.3 .29-5 .28,2.2 .29,10.4 .29,1.5 .29-1.2 .28-4.2 .29-12.5 .29,17.9
l.29-4.5 .29-3.7 .28,5.2 .29,3.5 .29-4.8 .29-9.6 .28,8.7 .29,1 .29,3.8 .29-6.4 .29-7.3 .28,5.9 .29,5.5 .29,3.7 .29-3.1
l.28-7 .29,4.6 .29,.7 .29,1.7 .28-8.2 .29,7.8 .29,1.2 .29,5.5 .29-11.7 .28-1.6 .29,5.9 .29-3.9 .29,4.6 .28,3.9 .29-16.1
l.29,13.7 .29-9.7 .28,2 .29,5.9 .29-4.7 .29,.9 .29-3 .28,4.2 .29,.1 .29-3.2 .29,5.6 .28-2.9 .29-4.7 .29,8.8 .29-1.9
l.29-.5 .28,2.3 .29,.3 .29-8.3 .29,9.7 .28,1.9 .29-6.2 .29,.9 .29,2.9 .28-3.4 .29-3.7 .29,1.9 .29,3.3 .29-4.1 .28,3.6
l.29-5.9 .29,2.5 .29,8.9 .28-6.2 .29,.3 .29,.4 .29-5.1 .28,2.3 .29-2.6 .29,1.8 .29,2.8 .29-3.9 .28,3.8 .29-2.1 .29,1.3
l.29,.3 .28,4.7 .29-15.3 .29,20.4 .29-.6 .29-5.9 .28-9.2 .29,2.5 .29,1.3 .29,2.9 .28-2 .29,1.4 .29-8.7 .29,8.1 .28-2.6
l.29,1.2 .29,9.2 .29,3.1 .29-17.1 .28,9.3 .29,1.3 .29,3.1 .29-10 .28,13.8 .29-12.8 .29-4.4 .29,3.3 .28,4 .29-6.9
l.29,11.3 .29-15 .29,12.9 .28-3.9 .29,9.1 .29-4.9 .29-5 .28,2 .29,5.5 .29,0 .29-6.5 .29-6.1 .28,3.6 .29,4.6 .29,4.3
l.29,5.2 .28-9.7 .29-.9 .29,7.1 .29-10.1 .28-.3 .29,5.1 .29-1.4 .29,4.1 .29,8.1 .28-3.7 .29-4.8 .29-3.5 .29-8.2
l.28,9 .29,1.3 .29,9.8 .29-8.7 .28,4.4 .29-6.9 .29-4.4 .29,3.2 .29,11.4 .28-9.8 .29,1.4 .29,10.1 .29-6.4 .28-4.6
l.29-4.5 .29-1.1 .29,2.8 .29,8 .28-3.4 .29-10.7 .29,6.3 .29,2.9 .28,0 .29-3.3 .29,2.5 .29,7.1 .28-4.1 .29-7.3 .29,3.4
l.29,5.4 .29-11.3 .28-.6 .29,11.7 .29-6.7 .29,2.4 .28,3.6 .29-4.2 .29,.4 .29-.2 .28,.8 .29,3.7 .29,4 .29-9.7 .29-2.4
l.28,6 .29,8.9 .29-9.7 .29,.5 .28-.4 .29,2.2 .29,2.3 .29,.5 .29,1 .28-6.5 .29-.3 .29-4 .29,6 .28-1.9 .29-1.5 .29-2.4
l.29,6.3 .28-3.1 .29,8.3 .29-3.3 .29-1.4 .29,3.4 .28,.4 .29-4.1 .29-6.2 .29,2.3 .28,4.7 .29-4.1 .29-.4 .29-.1 .28,6.2
l.29-2.3 .29-5.5 .29,12.9 .29-2.3 .28-7.5 .29-3 .29,3.6 .29-5.5 .28,15 .29-7.1 .29-.4 .29-3 .29,8 .28-13.2 .29,10.3
l.29-1.7 .29-3.8 .28-1.9 .29-.5 .29,6.8 .29-9.2 .28,13 .29-1.2 .29,1.1 .29-5 .29,5.1 .28-8.5 .29,7.5 .29-10.6 .29,4.4
l.28,4.1 .29-.8 .29,2.1 .29,2.7 .28-.8 .29-5.8 .29,1.9 .29-12.9 .29,11.6 .28,9.8 .29-12.7 .29,3.3 .29-8.5 .28-1.4
l.29,5.9 .29,4.1 .29,.6 .29-1.8 .28-.8 .29-1.8 .29,4.6 .29-4.5 .28-1.9 .29-.6 .29,9.3 .29-3.4 .28-3.8 .29-.2 .29,3.2
l.29-5.8 .29,5 .28,4.9 .29-3.4 .29-1.2 .29,5.7 .28-7.7 .29,7.9 .29,.9 .29-8.6 .28,4.8 .29-3.8 .29,4.3 .29,2.8 .29-16.2
l.28,12.8 .29,2.7 .29-2.4 .29-2 .28,.4 .29-1.7 .29,5.3 .29-5 .29,4.6 .28,2.6 .29-4.9 .29,1.6 .29-.2 .28-4.4 .29,4.1
l.29,2.4 .29-2.4 .28-6.2 .29,6.5 .29-.5 .29,4.2 .29-13.4 .28,10.3 .29-3.7 .29,.5 .29,6.9 .28-7.8 .29,6.7 .29-11.4
l.29,4 .28-1.9 .29,6.8 .29-5.1 .29,2.9 .29-3.7 .28,7.6 .29-8.4 .29-3 .29,9 .28-.5 .29-3.8 .29,6.8 .29-.9 .29,3 .28-7.4
l.29-3.4 .29,3.1 .29-7 .28,15.1 .29-.8 .29,2.7 .29,.4 .28-7.9 .29,.1 .29,2.3 .29-8.3 .29,12.8 .28-4.9 .29-7.7 .29,4.9
l.29,3.1 .28-10.7 .29,16.9 .29-7.4 .29-10.6 .28,6.7 .29,10.5 .29-4.4 .29-1.3 .29-1.9 .28-.1 .29,1.7 .29,8 .29-10.6
l.28,2.2 .29-11.8 .29,22.4 .29-10.5 .29-3.7 .28-7.5 .29,14.1 .29-8.6 .29,9.4 .28-8.9 .29,3.2 .29,.2 .29-4 .28,8.8
l.29-.3 .29-3.8 .29-6 .29,10.1 .28-4.7 .29,5.6 .29-9.2 .29-2.1 .28,6.2 .29,8.7 .29-8.7 .29,3.2 .28-5.5 .29-.1 .29,5.5
l.29-2.9 .29-12.3 .28,11.9 .29-8.9 .29,8.7 .29,7.1 .28-14.5 .29,13.8 .29-3.5 .29,2.7 .29-.4 .28-1.3 .29-3.5 .29-2.7
l.29,2 .28-2.5 .29,5.8 .29-5.3 .29-1.8 .28,9.1 .29-2.2 .29-6 .29,13.4 .29-8.9 .28,3.8 .29-.6 .29-5.9 .29-3.7 .28,1.2
l.29,9 .29-10 .29,13.6 .28-9.8 .29-2.1 .29,6.8 .29-5.8 .29-.2 .28,5.7 .29-6 .29,4 .29,1.4 .28-8.4 .29,6.1 .29,0
l.29,2.5 .29-3.9 .28,0 .29,7.7 .29-10.3 .29-3.3 .28,.9 .29,6.3 .29-1.4 .29,1.9 .28-.7 .29,.4 .29-6.8 .29,5.6 .29-.9
l.28-2 .29,10.1 .29-12.8 .29,9.3 .28-1.5 .29-.2 .29,6.2 .29-3.1 .28-1.7 .29,.1 .29-4 .29-3.7 .29,11.5 .28-5 .29-.1
l.29,.5 .29-5.4 .28,7.3 .29-.1 .29-4 .29,4.6 .29,.1 .28-4.9 .29,10.9 .29-11.6 .29,10.9 .28-5 .29-3.6 .29-2 .29-.6
l.28-1.4 .29,.9 .29,3.3 .29,9.9 .29-10.8 .28,.3 .29-6.3 .29,7.9 .29-8 .28-.1 .29,.1 .29,17.2 .29-13 .28,3.9 .29-6
l.29-1.2 .29,10 .29-2.3 .28-6.5 .29-1.3 .29,1.6 .29,2.2 .28-4.1 .29,9.1 .29-4.2 .29,5.3 .29-9.6 .28,8.9 .29-2.2
l.29-2.1 .29,3.3 .28-6.3 .29,8.6 .29-2.4 .29-5 .28,4.7 .29-6.2 .29,2.8 .29-5.9 .29,7.7 .28,7 .29-7.5 .29,6 .29,4.3
l.28-5.5 .29-5.5 .29-2.2 .29,2.8 .28,2.5 .29-3 .29,3.3 .29,5.8 .29-12 .28,10.4 .29-6.1 .29-7.7 .29-.5 .28,9.7 .29-9.6
l.29,13.1 .29,1.8 .29-6.8 .28,2 .29,2.8 .29,2.7 .29-1.2 .28-7.6 .29,4.8 .29-2.9 .29-2.5 .28,7.5 .29-6.1 .29-3.1
l.29,2.3 .29-1.4 .28,1.7 .29-1.4 .29,6.8 .29-1.9 .28-11.3 .29,3.7 .29,11.6 .29,0 .28,.3 .29-6.3 .29,.5 .29-2.1 .29,4
l.28,4.4 .29-.8 .29-8.6 .29-.2 .28,1.2 .29,7.2 .29-8.8 .29,2.9 .29-1.8 .28-.4 .29,3.2 .29-1.3 .29,3.9 .28-1.9 .29,2.6
l.29-7.2 .29,6.6 .28-3.1 .29-3.6 .29,9.4 .29-1.2 .29-8.2 .28-1.3 .29-.1 .29,2.1 .29,7 .28-9.3 .29,9.4 .29-4.8 .29,1.4
l.28,7.4 .29-6.8 .29-.4 .29-.2 .29-2.7 .28,11.1 .29-9.3 .29,1.5 .29,1.3 .28-5.4 .29,11.9 .29-16.2 .29,13.6 .29-6
l.28-1 .29,.4 .29,12.1 .29-16.1 .28,12.2 .29-8.5 .29,2 .29-2.4 .28-4.1 .29,7.7 .29-4.3 .29-2.7 .29,1.2 .28,8.3 .29-6.2
l.29,3 .29,1.1 .28,3.9 .29-6.6 .29,0 .29,.4 .28,.3 .29-6.4 .29-1.3 .29,2.6 .29,6.1 .28-5.2 .29,8.4 .29-5.8 .29-10
l.28,14.2 .29-1.2 .29-4.5 .29-2.3 .29,6.1 .28,3.3 .29-2.6 .29,1 .29,1.1 .28-9.4 .29-3.1 .29,13.6 .29-6.3 .28,4.1
l.29-5.5 .29,0 .29,7.2 .29-8.2 .28,5.1 .29-9.4 .29,10.1 .29-2.8 .28,2.2 .29,3.9 .29-10.4 .29,7.4 .28,2.6 .29-1.3
l.29-8.4 .29-.6 .29,1.5 .28,3.7 .29,4 .29,1.3 .29-5.5 .28-6.9 .29-.2 .29,5.9 .29,.8 .29-6.3 .28,7.1 .29-1.5 .29,.2
l.29-1.9 .28,2.8 .29,.7 .29,0 .29-1.6 .28-1.7 .29,2.5 .29,10.2 .29-8.4 .29,3.4 .28-8.4 .29,.5 .29,8.1 .29-6.7 .28,3.4
l.29,.6 .29-4.3 .29-8 .28,7.3 .29,5.9 .29-.2 .29-3.7 .29-1.9 .28,2.8 .29-3.1 .29-.6 .29-.2 .28-4.4 .29,7.3 .29,1.6
l.29-1 .29-5.3 .28-3.6 .29,14.2 .29-1.4 .29-2.4 .28-.4 .29,1 .29,1.5 .29-6 .28,2 .29,1.9 .29,2 .29,1.2 .29-9.3 .28-4.7
l.29,7.1 .29-8.9 .29,8.9 .28,.2 .29,4.8 .29-4.7 .29,3.5 .28,6 .29-7.4 .29,1.9 .29,2 .29-7.3 .28,8.1 .29-6.1 .29,4.1
l.29,3.2 .28-3.2 .29,.1 .29,1.5 .29,0 .29-6.6 .28-2.2 .29,6.9 .29-5.2 .29-8.2 .28,7.7 .29-.1 .29,1.1 .29,3.3 .28-7.1
l.29-1.3 .29,4.9 .29,3.4 .29,4.9 .28-7.2 .29-4.5 .29-1.5 .29,2 .28,10.3 .29-3 .29-8.8 .29,9.1 .28-1.6 .29,7.7 .29-1.6
l.29-.9 .29-2.5 .28-.3 .29-9.4 .29,9.9 .29,4.8 .28-5.7 .29-5.2 .29,5.9 .29-11.2 .29,6.6 .28,.3 .29-3.8 .29,1.4 .29,9.5
l.28-9.7 .29,4.8 .29-5.7 .29-.5 .28-.8 .29,3.7 .29-1.7 .29,5.3 .29,2 .28,2.3 .29-6.7 .29,3.7 .29-3.3 .28,7.7 .29-.3
l.29-5.5 .29-1.3 .28-2.9 .29,1.5 .29,.3 .29,3.6 .29-7.6 .28,1.9 .29-.6 .29,1.4 .29,12.1 .28-5.3 .29-5.3 .29-4.7
l.29,16.1 .29-9.5 .28,1.2 .29,1.3 .29-4.1 .29-3.7 .28,4.9 .29-6.3 .29,12.9 .29-2.3 .28-3.5 .29-13.9 .29,18.1 .29-13.5
l.29,15.5 .28-4.7 .29,.2 .29-5.5 .29,.1 .28-6 .29,10.5 .29-1.9 .29-3 .28,1.8 .29,1.4 .29,4.2 .29-8.5 .29,10.7 .28-11
l.29,2 .29-.1 .29-5.8 .28,.5 .29,8.1 .29-3.5 .29-3.2 .29,1.2 .28,8.9 .29,1.9 .29-5 .29-1.7 .28-3.4 .29,2.4 .29-1.5
l.29,2 .28-4.5 .29,2.2 .29,4.8 .29-1.9 .29,2 .28-.2 .29-2.8 .29,1.5 .29-4.7 .28,16.9 .29-8.7 .29,2.1 .29,5.2 .28-14.3
l.29,3.9 .29-8 .29,2.5 .29,2.4 .28,.2 .29-5.9 .29,12.2 .29-7.8 .28,2.9 .29-6.6 .29,9 .29-4.1 .29-.2 .28,1.7 .29,1.1
l.29,.1 .29-3.3 .28-8.6 .29,8.6 .29,3.2 .29-4.7 .28,3.4 .29-7.4 .29,9.1 .29,8.1 .29-5.9 .28-5.1 .29-4 .29,2.9 .29-5.6
l.28,9.1 .29-7.7 .29,3.1 .29,1.4 .28,.5 .29,.5 .29-6.5 .29-3.1 .29-3.7 .28,17.9 .29-3.5 .29-6.7 .29-.5 .28,11 .29-8
l.29-2.9 .29,.7 .29,6.3 .28-7.7 .29,1.4 .29,.7 .29,3.4 .28-3.8 .29-10.9 .29,7.7 .29,2 .28-.2 .29-4.9 .29,2.2 .29,2.8
l.29-4.1 .28,2.3 .29,4 .29-5 .29,2.5 .28-.9 .29-2.5 .29-3 .29,5.2 .28-6.4 .29,5.3 .29-4.7 .29,1 .29,6.1 .28-8.7
l.29-2.1 .29,3.4 .29,4.4 .28-6.8 .29,6.5 .29-5.5 .29-9.6 .29,5.4 .28,2.9 .29-10.1 .29,1.7 .29,4 .28-2.1 .29-3.4
l.29,5.2 .29-8.4 .28,8.2 .29-11.9 .29,1.3 .29,.9 .29-3.5 .28-5.8 .29,1 .29,2.8 .29-2.8 .28-22.2 .29,8.9 .29-2.8
l.29,1.3 .28-2.6 .29-6.9 .29,0 .29-3.4 .29-4.8 .28-1.5 .29-5.3 .29-4.4 .29,1.8 .28-2.1 .29-1.7 .29-2.3 .29-1.2 .29-.5
l.28-.2 .29,.3 .29,.3 .29,1.1 .28,2.8 .29,1.7 .29,2 .29,2.2 .28-3.3 .29,10.1 .29,7.2"/>
</g>
<g id="frame" fill="#000000" shape-rendering="crispEdges">
<rect x="250" y="48" width="2021" height="7"/>
<rect x="250" y="1671" width="2021" height="7"/>
<rect x="250" y="48" width="7" height="1630"/>
<rect x="2264" y="48" width="7" height="1630"/>
</g>
<g id="stars" font-family="'DejaVu Sans', sans-serif" font-size="60" text-anchor="middle" fill="#000000">
<text x="928.3" y="186.4">★</text>
<text x="1135.0" y="186.4">★</text>
<text x="1818.9" y="186.4">★</text>
</g>
<g id="ticklabels" font-family="'Liberation Sans', Arial, sans-serif" font-size="70" fill="#000000">
<text transform="translate(253.5,1763.4) scale(1,1.03)" text-anchor="middle">20</text>
<text transform="translate(541.2,1763.4) scale(1,1.03)" text-anchor="middle">30</text>
<text transform="translate(828.9,1763.4) scale(1,1.03)" text-anchor="middle">40</text>
<text transform="translate(1116.6,1763.4) scale(1,1.03)" text-anchor="middle">50</text>
<text transform="translate(1404.4,1763.4) scale(1,1.03)" text-anchor="middle">60</text>
<text transform="translate(1692.1,1763.4) scale(1,1.03)" text-anchor="middle">70</text>
<text transform="translate(1979.8,1763.4) scale(1,1.03)" text-anchor="middle">80</text>
<text transform="translate(2267.5,1763.4) scale(1,1.03)" text-anchor="middle">90</text>
<text transform="translate(217.5,1580.2) scale(1,1.03)" text-anchor="end">10</text>
<text transform="translate(217.5,1348.3) scale(1,1.03)" text-anchor="end">20</text>
<text transform="translate(217.5,1116.5) scale(1,1.03)" text-anchor="end">30</text>
<text transform="translate(217.5,884.6) scale(1,1.03)" text-anchor="end">40</text>
<text transform="translate(217.5,652.7) scale(1,1.03)" text-anchor="end">50</text>
<text transform="translate(217.5,420.9) scale(1,1.03)" text-anchor="end">60</text>
<text transform="translate(217.5,189.0) scale(1,1.03)" text-anchor="end">70</text>
</g>
<g id="titles" font-family="'Liberation Sans', Arial, sans-serif" font-size="84" fill="#000000">
<text x="847.4" y="1898.8">Diffraction angle (°2<tspan x="1583" font-family="'Liberation Serif', 'DejaVu Serif', serif" font-size="87">Θ</tspan><tspan x="1646" font-family="'Liberation Serif', 'DejaVu Serif', serif" font-size="80">)</tspan></text>
<text transform="translate(108.2,1180.4) rotate(-90)">Intensity (counts)</text>
</g>
<g id="legend">
<line x1="1637.5" y1="274.5" x2="1789.5" y2="274.5" stroke="#000000" stroke-width="5" stroke-linecap="round"/>
<text x="1809.2" y="299.0" font-family="'Liberation Sans', Arial, sans-serif" font-size="70" fill="#000000">Cu<tspan font-size="46" dy="17">99</tspan><tspan dy="-17" dx="0">Ni</tspan><tspan font-size="46" dy="17">1</tspan><tspan dy="-17" dx="-2">/C</tspan></text>
<line x1="1637.5" y1="373.5" x2="1789.5" y2="373.5" stroke="#ff0000" stroke-width="5" stroke-linecap="round"/>
<text x="1809.2" y="398.3" font-family="'Liberation Sans', Arial, sans-serif" font-size="70" fill="#000000">Cu<tspan font-size="46" dy="17">99</tspan><tspan dy="-17" dx="0">Fe</tspan><tspan font-size="46" dy="17">1</tspan><tspan dy="-17" dx="-2">/C</tspan></text>
<line x1="1637.5" y1="472.5" x2="1789.5" y2="472.5" stroke="#808080" stroke-width="5" stroke-linecap="round"/>
<text x="1809.2" y="496.7" font-family="'Liberation Sans', Arial, sans-serif" font-size="70" fill="#000000">Cu/C</text>
<line x1="1637.5" y1="556.5" x2="1789.5" y2="556.5" stroke="#0000ff" stroke-width="5" stroke-linecap="round"/>
<text x="1809.2" y="580.0" font-family="'Liberation Sans', Arial, sans-serif" font-size="70" fill="#000000">Carbon Bckgr</text>
</g>
</svg>
</body>
</html>
